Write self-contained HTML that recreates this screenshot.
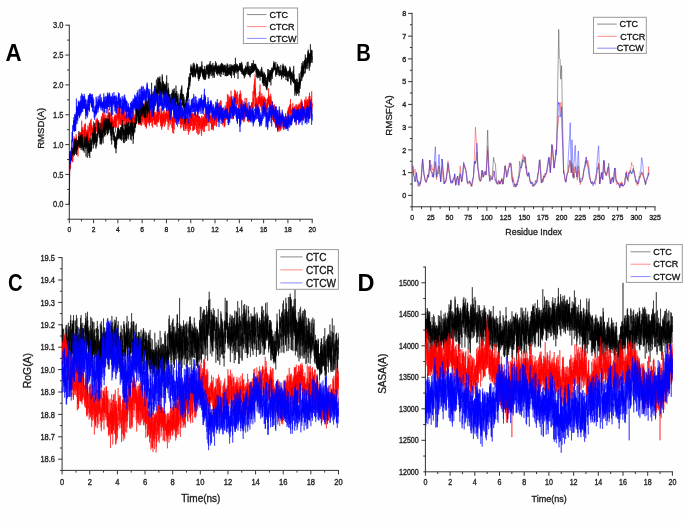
<!DOCTYPE html>
<html><head><meta charset="utf-8"><style>
html,body{margin:0;padding:0;background:#fff;}
svg{display:block;font-family:"Liberation Sans", sans-serif;filter:blur(0.5px);}
</style></head><body>
<svg width="685" height="523" viewBox="0 0 685 523">
<rect width="685" height="523" fill="#fefefe"/>
<line x1="69.30" y1="219.23" x2="69.30" y2="24.70" stroke="#333" stroke-width="1.00"/>
<line x1="68.80" y1="219.23" x2="312.70" y2="219.23" stroke="#333" stroke-width="1.00"/>
<line x1="69.30" y1="219.23" x2="69.30" y2="223.23" stroke="#333" stroke-width="1.00"/>
<text transform="translate(69.30 231.80) scale(0.88 1)" font-size="7.60" text-anchor="middle" fill="#222" stroke="#222" stroke-width="0.35">0</text>
<line x1="81.44" y1="219.23" x2="81.44" y2="221.43" stroke="#333" stroke-width="1.00"/>
<line x1="93.59" y1="219.23" x2="93.59" y2="223.23" stroke="#333" stroke-width="1.00"/>
<text transform="translate(93.59 231.80) scale(0.88 1)" font-size="7.60" text-anchor="middle" fill="#222" stroke="#222" stroke-width="0.35">2</text>
<line x1="105.73" y1="219.23" x2="105.73" y2="221.43" stroke="#333" stroke-width="1.00"/>
<line x1="117.88" y1="219.23" x2="117.88" y2="223.23" stroke="#333" stroke-width="1.00"/>
<text transform="translate(117.88 231.80) scale(0.88 1)" font-size="7.60" text-anchor="middle" fill="#222" stroke="#222" stroke-width="0.35">4</text>
<line x1="130.02" y1="219.23" x2="130.02" y2="221.43" stroke="#333" stroke-width="1.00"/>
<line x1="142.17" y1="219.23" x2="142.17" y2="223.23" stroke="#333" stroke-width="1.00"/>
<text transform="translate(142.17 231.80) scale(0.88 1)" font-size="7.60" text-anchor="middle" fill="#222" stroke="#222" stroke-width="0.35">6</text>
<line x1="154.31" y1="219.23" x2="154.31" y2="221.43" stroke="#333" stroke-width="1.00"/>
<line x1="166.46" y1="219.23" x2="166.46" y2="223.23" stroke="#333" stroke-width="1.00"/>
<text transform="translate(166.46 231.80) scale(0.88 1)" font-size="7.60" text-anchor="middle" fill="#222" stroke="#222" stroke-width="0.35">8</text>
<line x1="178.60" y1="219.23" x2="178.60" y2="221.43" stroke="#333" stroke-width="1.00"/>
<line x1="190.75" y1="219.23" x2="190.75" y2="223.23" stroke="#333" stroke-width="1.00"/>
<text transform="translate(190.75 231.80) scale(0.88 1)" font-size="7.60" text-anchor="middle" fill="#222" stroke="#222" stroke-width="0.35">10</text>
<line x1="202.89" y1="219.23" x2="202.89" y2="221.43" stroke="#333" stroke-width="1.00"/>
<line x1="215.04" y1="219.23" x2="215.04" y2="223.23" stroke="#333" stroke-width="1.00"/>
<text transform="translate(215.04 231.80) scale(0.88 1)" font-size="7.60" text-anchor="middle" fill="#222" stroke="#222" stroke-width="0.35">12</text>
<line x1="227.19" y1="219.23" x2="227.19" y2="221.43" stroke="#333" stroke-width="1.00"/>
<line x1="239.33" y1="219.23" x2="239.33" y2="223.23" stroke="#333" stroke-width="1.00"/>
<text transform="translate(239.33 231.80) scale(0.88 1)" font-size="7.60" text-anchor="middle" fill="#222" stroke="#222" stroke-width="0.35">14</text>
<line x1="251.47" y1="219.23" x2="251.47" y2="221.43" stroke="#333" stroke-width="1.00"/>
<line x1="263.62" y1="219.23" x2="263.62" y2="223.23" stroke="#333" stroke-width="1.00"/>
<text transform="translate(263.62 231.80) scale(0.88 1)" font-size="7.60" text-anchor="middle" fill="#222" stroke="#222" stroke-width="0.35">16</text>
<line x1="275.76" y1="219.23" x2="275.76" y2="221.43" stroke="#333" stroke-width="1.00"/>
<line x1="287.91" y1="219.23" x2="287.91" y2="223.23" stroke="#333" stroke-width="1.00"/>
<text transform="translate(287.91 231.80) scale(0.88 1)" font-size="7.60" text-anchor="middle" fill="#222" stroke="#222" stroke-width="0.35">18</text>
<line x1="300.06" y1="219.23" x2="300.06" y2="221.43" stroke="#333" stroke-width="1.00"/>
<line x1="312.20" y1="219.23" x2="312.20" y2="223.23" stroke="#333" stroke-width="1.00"/>
<text transform="translate(312.20 231.80) scale(0.88 1)" font-size="7.60" text-anchor="middle" fill="#222" stroke="#222" stroke-width="0.35">20</text>
<line x1="67.30" y1="219.23" x2="69.30" y2="219.23" stroke="#333" stroke-width="1.00"/>
<line x1="65.30" y1="204.30" x2="69.30" y2="204.30" stroke="#333" stroke-width="1.00"/>
<text transform="translate(63.40 207.36) scale(0.88 1)" font-size="8.50" text-anchor="end" fill="#222" stroke="#222" stroke-width="0.35">0.0</text>
<line x1="67.10" y1="189.38" x2="69.30" y2="189.38" stroke="#333" stroke-width="1.00"/>
<line x1="65.30" y1="174.45" x2="69.30" y2="174.45" stroke="#333" stroke-width="1.00"/>
<text transform="translate(63.40 177.51) scale(0.88 1)" font-size="8.50" text-anchor="end" fill="#222" stroke="#222" stroke-width="0.35">0.5</text>
<line x1="67.10" y1="159.53" x2="69.30" y2="159.53" stroke="#333" stroke-width="1.00"/>
<line x1="65.30" y1="144.60" x2="69.30" y2="144.60" stroke="#333" stroke-width="1.00"/>
<text transform="translate(63.40 147.66) scale(0.88 1)" font-size="8.50" text-anchor="end" fill="#222" stroke="#222" stroke-width="0.35">1.0</text>
<line x1="67.10" y1="129.68" x2="69.30" y2="129.68" stroke="#333" stroke-width="1.00"/>
<line x1="65.30" y1="114.75" x2="69.30" y2="114.75" stroke="#333" stroke-width="1.00"/>
<text transform="translate(63.40 117.81) scale(0.88 1)" font-size="8.50" text-anchor="end" fill="#222" stroke="#222" stroke-width="0.35">1.5</text>
<line x1="67.10" y1="99.83" x2="69.30" y2="99.83" stroke="#333" stroke-width="1.00"/>
<line x1="65.30" y1="84.90" x2="69.30" y2="84.90" stroke="#333" stroke-width="1.00"/>
<text transform="translate(63.40 87.96) scale(0.88 1)" font-size="8.50" text-anchor="end" fill="#222" stroke="#222" stroke-width="0.35">2.0</text>
<line x1="67.10" y1="69.97" x2="69.30" y2="69.97" stroke="#333" stroke-width="1.00"/>
<line x1="65.30" y1="55.05" x2="69.30" y2="55.05" stroke="#333" stroke-width="1.00"/>
<text transform="translate(63.40 58.11) scale(0.88 1)" font-size="8.50" text-anchor="end" fill="#222" stroke="#222" stroke-width="0.35">2.5</text>
<line x1="67.10" y1="40.12" x2="69.30" y2="40.12" stroke="#333" stroke-width="1.00"/>
<line x1="65.30" y1="25.20" x2="69.30" y2="25.20" stroke="#333" stroke-width="1.00"/>
<text transform="translate(63.40 28.26) scale(0.88 1)" font-size="8.50" text-anchor="end" fill="#222" stroke="#222" stroke-width="0.35">3.0</text>
<path d="M69.3,204.3 69.4,197.3 69.5,189.5 69.5,181.8 69.6,174.7 69.7,171.1 69.8,163.4 69.9,161.6 69.9,162.0 70.0,162.9 70.1,167.6 70.2,162.6 70.3,159.5 70.4,160.6 70.4,153.5 70.5,169.2 70.6,164.1 70.7,163.1 70.8,156.2 70.8,154.2 70.9,161.1 71.0,157.4 71.1,155.3 71.2,155.7 71.2,155.5 71.3,158.0 71.4,158.4 71.5,159.4 71.6,158.5 71.6,151.9 71.7,154.5 71.8,154.7 71.9,156.7 72.0,152.7 72.1,149.3 72.1,156.8 72.2,147.7 72.3,151.0 72.4,162.2 72.5,152.2 72.5,151.9 72.6,148.0 72.7,153.6 72.8,161.9 72.9,159.4 72.9,158.6 73.0,150.9 73.1,156.4 73.2,157.1 73.3,150.4 73.3,148.0 73.4,156.7 73.5,149.9 73.6,145.0 73.7,145.9 73.8,142.2 73.8,141.8 73.9,143.3 74.0,148.3 74.1,136.5 74.2,141.9 74.2,144.6 74.3,145.8 74.4,141.6 74.5,146.2 74.6,144.1 74.6,138.7 74.7,141.7 74.8,149.2 74.9,143.1 75.0,145.9 75.1,148.2 75.1,149.1 75.2,148.8 75.3,144.0 75.4,139.1 75.5,146.1 75.5,138.7 75.6,149.4 75.7,146.6 75.8,138.4 75.9,144.8 75.9,144.1 76.0,143.8 76.1,147.8 76.2,134.2 76.3,144.7 76.3,140.4 76.4,142.0 76.5,139.5 76.6,136.8 76.7,154.8 76.8,150.6 76.8,153.7 76.9,147.6 77.0,144.6 77.1,142.3 77.2,146.2 77.2,141.1 77.3,140.4 77.4,143.2 77.5,149.1 77.6,146.5 77.6,144.6 77.7,140.2 77.8,144.3 77.9,141.8 78.0,151.2 78.0,156.5 78.1,142.5 78.2,142.4 78.3,147.4 78.4,144.7 78.5,139.9 78.5,139.7 78.6,136.4 78.7,138.8 78.8,143.6 78.9,139.8 78.9,132.5 79.0,134.5 79.1,146.4 79.2,140.9 79.3,135.7 79.3,142.1 79.4,140.0 79.5,136.9 79.6,141.7 79.7,140.9 79.7,144.8 79.8,147.6 79.9,145.2 80.0,139.6 80.1,143.4 80.2,141.6 80.2,132.0 80.3,145.0 80.4,136.4 80.5,142.7 80.6,136.9 80.6,135.0 80.7,132.3 80.8,141.2 80.9,138.6 81.0,135.7 81.0,136.1 81.1,148.1 81.2,132.8 81.3,139.9 81.4,133.9 81.4,139.6 81.5,132.1 81.6,133.3 81.7,120.7 81.8,129.6 81.9,134.4 81.9,128.9 82.0,140.1 82.1,128.2 82.2,127.5 82.3,134.9 82.3,134.1 82.4,141.4 82.5,131.5 82.6,129.5 82.7,139.6 82.7,130.6 82.8,138.9 82.9,126.9 83.0,144.5 83.1,135.6 83.1,130.1 83.2,140.3 83.3,138.0 83.4,134.4 83.5,135.3 83.6,138.1 83.6,137.9 83.7,136.3 83.8,135.8 83.9,136.3 84.0,129.7 84.0,132.8 84.1,131.4 84.2,130.8 84.3,139.3 84.4,138.4 84.4,124.0 84.5,142.8 84.6,136.3 84.7,130.0 84.8,133.9 84.9,134.5 84.9,125.2 85.0,138.2 85.1,128.0 85.2,140.4 85.3,141.3 85.3,135.4 85.4,132.9 85.5,123.4 85.6,132.9 85.7,134.0 85.7,132.2 85.8,136.0 85.9,139.5 86.0,139.2 86.1,134.4 86.1,139.5 86.2,145.0 86.3,141.3 86.4,146.4 86.5,131.8 86.6,146.5 86.6,135.5 86.7,139.7 86.8,132.3 86.9,129.6 87.0,139.6 87.0,134.6 87.1,136.5 87.2,144.7 87.3,130.1 87.4,133.3 87.4,134.0 87.5,133.0 87.6,135.0 87.7,139.7 87.8,134.7 87.8,141.6 87.9,125.4 88.0,141.4 88.1,130.4 88.2,138.1 88.3,134.3 88.3,132.0 88.4,138.9 88.5,133.6 88.6,146.9 88.7,132.9 88.7,127.2 88.8,134.2 88.9,136.6 89.0,136.4 89.1,144.4 89.1,138.9 89.2,130.3 89.3,123.4 89.4,128.1 89.5,131.5 89.5,131.5 89.6,128.8 89.7,122.6 89.8,131.5 89.9,130.4 90.0,128.6 90.0,127.6 90.1,129.0 90.2,136.5 90.3,138.0 90.4,130.0 90.4,125.8 90.5,120.4 90.6,127.6 90.7,134.8 90.8,131.1 90.8,136.5 90.9,130.0 91.0,123.7 91.1,128.2 91.2,118.7 91.2,129.9 91.3,128.3 91.4,127.2 91.5,126.7 91.6,128.1 91.7,127.5 91.7,124.8 91.8,131.6 91.9,129.1 92.0,127.4 92.1,131.0 92.1,134.4 92.2,127.9 92.3,128.0 92.4,133.2 92.5,134.3 92.5,140.0 92.6,135.9 92.7,128.8 92.8,140.5 92.9,131.1 93.0,129.4 93.0,132.3 93.1,133.2 93.2,125.1 93.3,127.5 93.4,134.6 93.4,124.8 93.5,121.3 93.6,133.4 93.7,134.1 93.8,131.9 93.8,127.3 93.9,129.1 94.0,130.4 94.1,133.9 94.2,125.1 94.2,128.5 94.3,127.8 94.4,128.3 94.5,126.6 94.6,135.1 94.7,130.2 94.7,127.4 94.8,126.0 94.9,125.2 95.0,122.9 95.1,127.4 95.1,123.4 95.2,123.9 95.3,125.3 95.4,127.6 95.5,128.2 95.5,126.5 95.6,122.8 95.7,129.8 95.8,129.9 95.9,123.8 95.9,124.7 96.0,121.0 96.1,119.7 96.2,123.1 96.3,132.2 96.4,120.2 96.4,122.8 96.5,121.2 96.6,122.2 96.7,124.5 96.8,122.5 96.8,130.2 96.9,129.7 97.0,124.6 97.1,117.8 97.2,123.4 97.2,118.9 97.3,124.8 97.4,124.0 97.5,120.3 97.6,120.5 97.6,124.2 97.7,125.8 97.8,120.3 97.9,122.9 98.0,126.1 98.1,125.1 98.1,128.4 98.2,123.4 98.3,120.2 98.4,134.4 98.5,125.9 98.5,130.1 98.6,126.5 98.7,127.0 98.8,130.3 98.9,124.8 98.9,131.7 99.0,130.2 99.1,133.0 99.2,130.4 99.3,125.1 99.3,129.6 99.4,122.4 99.5,129.7 99.6,132.0 99.7,124.2 99.8,128.0 99.8,126.3 99.9,128.0 100.0,123.6 100.1,126.1 100.2,124.4 100.2,133.8 100.3,126.8 100.4,125.2 100.5,128.6 100.6,122.7 100.6,127.0 100.7,128.0 100.8,124.1 100.9,131.4 101.0,132.2 101.0,125.7 101.1,134.6 101.2,119.2 101.3,126.1 101.4,116.1 101.5,122.2 101.5,125.8 101.6,125.0 101.7,119.7 101.8,117.9 101.9,122.9 101.9,127.9 102.0,121.0 102.1,119.2 102.2,118.5 102.3,127.4 102.3,124.2 102.4,118.5 102.5,113.2 102.6,121.6 102.7,126.9 102.8,119.1 102.8,136.0 102.9,121.2 103.0,124.1 103.1,114.0 103.2,123.9 103.2,127.3 103.3,110.1 103.4,119.9 103.5,121.3 103.6,124.1 103.6,125.2 103.7,128.7 103.8,117.9 103.9,124.2 104.0,116.6 104.0,117.9 104.1,115.6 104.2,121.2 104.3,119.1 104.4,122.4 104.5,121.0 104.5,123.9 104.6,130.4 104.7,119.2 104.8,126.0 104.9,109.9 104.9,120.6 105.0,128.2 105.1,121.9 105.2,118.2 105.3,118.9 105.3,124.4 105.4,119.7 105.5,120.1 105.6,122.8 105.7,121.9 105.7,119.6 105.8,120.8 105.9,118.4 106.0,116.5 106.1,115.0 106.2,125.9 106.2,122.9 106.3,119.7 106.4,120.0 106.5,124.4 106.6,122.2 106.6,122.2 106.7,121.4 106.8,119.6 106.9,124.7 107.0,130.9 107.0,124.6 107.1,124.1 107.2,124.1 107.3,119.0 107.4,127.8 107.4,120.7 107.5,115.3 107.6,128.2 107.7,123.6 107.8,122.7 107.9,119.2 107.9,119.4 108.0,124.1 108.1,109.0 108.2,122.1 108.3,119.8 108.3,118.0 108.4,118.9 108.5,119.9 108.6,122.3 108.7,121.4 108.7,120.6 108.8,113.6 108.9,126.2 109.0,121.8 109.1,121.6 109.1,123.6 109.2,116.1 109.3,121.3 109.4,122.9 109.5,123.0 109.6,116.3 109.6,118.1 109.7,122.8 109.8,118.8 109.9,120.0 110.0,113.8 110.0,125.3 110.1,129.1 110.2,122.4 110.3,123.5 110.4,124.2 110.4,120.6 110.5,118.9 110.6,119.2 110.7,119.4 110.8,123.6 110.8,112.5 110.9,122.1 111.0,124.9 111.1,120.2 111.2,118.1 111.3,128.4 111.3,117.2 111.4,118.9 111.5,120.1 111.6,121.1 111.7,113.2 111.7,112.3 111.8,126.7 111.9,123.3 112.0,124.5 112.1,122.6 112.1,126.6 112.2,128.0 112.3,124.6 112.4,124.6 112.5,119.1 112.6,119.5 112.6,120.7 112.7,121.5 112.8,116.6 112.9,127.6 113.0,125.6 113.0,121.2 113.1,128.4 113.2,121.4 113.3,128.1 113.4,126.1 113.4,127.5 113.5,121.1 113.6,127.5 113.7,123.5 113.8,120.5 113.8,120.9 113.9,123.1 114.0,127.9 114.1,120.0 114.2,126.3 114.3,118.5 114.3,123.0 114.4,117.0 114.5,121.7 114.6,121.0 114.7,125.8 114.7,120.5 114.8,115.9 114.9,120.4 115.0,119.5 115.1,125.3 115.1,114.6 115.2,126.7 115.3,114.7 115.4,123.5 115.5,132.5 115.5,120.9 115.6,122.5 115.7,125.9 115.8,127.7 115.9,120.2 116.0,121.4 116.0,122.0 116.1,114.8 116.2,120.6 116.3,122.2 116.4,127.1 116.4,121.5 116.5,116.9 116.6,116.8 116.7,116.4 116.8,119.8 116.8,116.3 116.9,127.3 117.0,119.7 117.1,107.4 117.2,114.9 117.2,117.1 117.3,114.8 117.4,109.8 117.5,117.8 117.6,115.6 117.7,113.6 117.7,117.5 117.8,114.0 117.9,120.8 118.0,106.7 118.1,118.6 118.1,116.3 118.2,109.4 118.3,106.7 118.4,112.6 118.5,114.8 118.5,112.4 118.6,127.5 118.7,116.8 118.8,110.6 118.9,117.6 118.9,109.1 119.0,110.4 119.1,116.9 119.2,114.3 119.3,113.2 119.4,110.5 119.4,117.5 119.5,124.3 119.6,115.9 119.7,103.9 119.8,120.4 119.8,115.2 119.9,118.0 120.0,114.8 120.1,106.7 120.2,110.6 120.2,123.9 120.3,117.8 120.4,117.4 120.5,118.1 120.6,119.7 120.6,123.4 120.7,125.1 120.8,120.2 120.9,117.6 121.0,121.1 121.1,120.9 121.1,112.0 121.2,121.6 121.3,117.7 121.4,117.6 121.5,123.5 121.5,113.6 121.6,126.6 121.7,123.4 121.8,119.7 121.9,114.9 121.9,113.5 122.0,123.8 122.1,120.3 122.2,125.5 122.3,124.1 122.4,110.9 122.4,115.7 122.5,114.6 122.6,121.5 122.7,116.0 122.8,126.3 122.8,115.2 122.9,114.2 123.0,107.5 123.1,114.9 123.2,114.0 123.2,111.7 123.3,104.2 123.4,109.3 123.5,110.5 123.6,117.8 123.6,115.3 123.7,116.9 123.8,120.8 123.9,113.0 124.0,118.7 124.1,114.8 124.1,121.0 124.2,116.0 124.3,125.8 124.4,117.8 124.5,111.0 124.5,119.5 124.6,121.2 124.7,116.6 124.8,120.3 124.9,118.8 124.9,115.6 125.0,119.5 125.1,120.3 125.2,126.8 125.3,124.5 125.3,121.6 125.4,116.0 125.5,115.3 125.6,116.1 125.7,119.4 125.8,116.8 125.8,117.0 125.9,110.3 126.0,117.8 126.1,121.1 126.2,119.2 126.2,115.4 126.3,115.0 126.4,121.9 126.5,115.4 126.6,121.3 126.6,110.8 126.7,119.6 126.8,121.4 126.9,129.0 127.0,113.1 127.0,123.7 127.1,119.3 127.2,121.8 127.3,129.9 127.4,119.8 127.5,121.5 127.5,120.5 127.6,122.1 127.7,120.8 127.8,113.8 127.9,117.6 127.9,114.8 128.0,120.7 128.1,119.9 128.2,122.3 128.3,117.2 128.3,120.2 128.4,121.0 128.5,120.6 128.6,122.9 128.7,115.4 128.7,124.4 128.8,113.6 128.9,119.0 129.0,114.1 129.1,110.3 129.2,117.8 129.2,117.1 129.3,119.0 129.4,116.5 129.5,114.2 129.6,118.9 129.6,118.0 129.7,120.3 129.8,123.1 129.9,113.0 130.0,114.2 130.0,111.8 130.1,123.4 130.2,116.5 130.3,115.7 130.4,112.3 130.5,116.8 130.5,120.3 130.6,117.8 130.7,112.9 130.8,120.3 130.9,118.6 130.9,119.2 131.0,118.1 131.1,117.2 131.2,123.9 131.3,110.6 131.3,124.3 131.4,124.4 131.5,120.1 131.6,115.3 131.7,114.6 131.7,110.8 131.8,118.9 131.9,122.8 132.0,124.8 132.1,121.9 132.2,118.2 132.2,119.9 132.3,129.8 132.4,119.9 132.5,117.6 132.6,123.1 132.6,122.8 132.7,123.8 132.8,113.9 132.9,110.8 133.0,113.7 133.0,120.8 133.1,120.2 133.2,109.6 133.3,108.0 133.4,112.0 133.4,117.7 133.5,124.5 133.6,114.2 133.7,110.4 133.8,117.3 133.9,121.1 133.9,116.4 134.0,116.5 134.1,119.4 134.2,119.2 134.3,127.3 134.3,118.9 134.4,126.8 134.5,122.1 134.6,122.5 134.7,119.7 134.7,114.7 134.8,123.2 134.9,118.2 135.0,125.0 135.1,119.1 135.1,119.8 135.2,120.4 135.3,121.2 135.4,121.7 135.5,125.4 135.6,123.3 135.6,124.4 135.7,113.8 135.8,119.8 135.9,110.8 136.0,111.8 136.0,115.4 136.1,108.7 136.2,115.5 136.3,122.4 136.4,116.4 136.4,113.6 136.5,114.1 136.6,119.3 136.7,110.4 136.8,116.5 136.8,108.6 136.9,112.5 137.0,106.9 137.1,109.3 137.2,115.4 137.3,107.8 137.3,115.2 137.4,112.8 137.5,109.0 137.6,113.7 137.7,110.1 137.7,110.8 137.8,112.7 137.9,118.0 138.0,123.4 138.1,120.1 138.1,120.3 138.2,110.9 138.3,116.9 138.4,116.2 138.5,118.9 138.5,124.9 138.6,120.8 138.7,116.0 138.8,112.8 138.9,110.3 139.0,113.6 139.0,112.2 139.1,120.2 139.2,113.9 139.3,114.9 139.4,123.9 139.4,118.1 139.5,118.6 139.6,111.7 139.7,118.0 139.8,124.8 139.8,118.2 139.9,108.0 140.0,124.5 140.1,118.7 140.2,116.5 140.3,118.2 140.3,116.3 140.4,123.0 140.5,120.4 140.6,120.0 140.7,117.3 140.7,122.3 140.8,125.4 140.9,114.5 141.0,112.6 141.1,115.4 141.1,117.8 141.2,114.8 141.3,119.9 141.4,117.0 141.5,124.1 141.5,125.7 141.6,121.3 141.7,118.9 141.8,117.6 141.9,116.6 142.0,124.6 142.0,116.4 142.1,113.5 142.2,119.8 142.3,121.1 142.4,121.3 142.4,115.4 142.5,122.0 142.6,111.0 142.7,114.0 142.8,117.0 142.8,112.0 142.9,109.5 143.0,114.5 143.1,117.7 143.2,113.9 143.2,115.2 143.3,108.5 143.4,108.2 143.5,103.6 143.6,109.7 143.7,107.5 143.7,117.9 143.8,116.7 143.9,116.5 144.0,124.5 144.1,109.8 144.1,121.6 144.2,102.9 144.3,119.6 144.4,113.6 144.5,114.3 144.5,108.4 144.6,118.0 144.7,114.5 144.8,118.0 144.9,115.7 144.9,118.6 145.0,125.2 145.1,121.5 145.2,122.0 145.3,116.7 145.4,126.9 145.4,111.2 145.5,124.6 145.6,119.1 145.7,118.8 145.8,119.2 145.8,125.9 145.9,117.7 146.0,127.1 146.1,121.2 146.2,121.4 146.2,124.6 146.3,114.8 146.4,128.6 146.5,114.5 146.6,121.4 146.6,125.6 146.7,117.5 146.8,117.6 146.9,123.8 147.0,119.2 147.1,110.7 147.1,118.8 147.2,119.3 147.3,106.5 147.4,117.4 147.5,117.0 147.5,116.8 147.6,119.9 147.7,122.6 147.8,114.5 147.9,114.1 147.9,118.2 148.0,122.2 148.1,118.7 148.2,115.1 148.3,112.5 148.3,122.1 148.4,119.0 148.5,116.2 148.6,115.8 148.7,117.5 148.8,119.4 148.8,113.9 148.9,115.8 149.0,124.2 149.1,104.3 149.2,113.6 149.2,122.9 149.3,120.2 149.4,126.1 149.5,123.0 149.6,123.3 149.6,120.5 149.7,113.7 149.8,117.7 149.9,119.5 150.0,118.0 150.1,120.5 150.1,117.1 150.2,114.6 150.3,109.5 150.4,118.1 150.5,122.8 150.5,114.4 150.6,122.5 150.7,122.4 150.8,117.1 150.9,111.9 150.9,122.3 151.0,110.7 151.1,118.5 151.2,113.2 151.3,118.6 151.3,119.6 151.4,114.9 151.5,121.1 151.6,119.4 151.7,112.6 151.8,116.9 151.8,116.2 151.9,125.9 152.0,119.6 152.1,120.0 152.2,119.4 152.2,106.7 152.3,121.4 152.4,121.9 152.5,118.8 152.6,119.1 152.6,127.5 152.7,120.0 152.8,112.6 152.9,113.8 153.0,113.7 153.0,115.7 153.1,116.1 153.2,120.0 153.3,114.6 153.4,108.7 153.5,117.3 153.5,112.3 153.6,109.1 153.7,120.6 153.8,114.9 153.9,117.8 153.9,118.0 154.0,120.3 154.1,116.7 154.2,121.6 154.3,123.7 154.3,112.0 154.4,118.8 154.5,124.8 154.6,118.7 154.7,113.7 154.7,114.9 154.8,117.4 154.9,122.6 155.0,112.5 155.1,117.4 155.2,119.4 155.2,118.1 155.3,120.9 155.4,116.2 155.5,124.0 155.6,119.8 155.6,120.7 155.7,125.2 155.8,117.7 155.9,122.5 156.0,121.0 156.0,112.3 156.1,118.3 156.2,115.8 156.3,122.2 156.4,115.4 156.4,124.2 156.5,122.1 156.6,120.5 156.7,114.2 156.8,121.5 156.9,118.6 156.9,116.4 157.0,126.9 157.1,109.8 157.2,114.0 157.3,122.1 157.3,120.7 157.4,112.3 157.5,112.8 157.6,115.4 157.7,121.2 157.7,111.1 157.8,109.5 157.9,122.3 158.0,115.2 158.1,108.0 158.2,119.5 158.2,114.7 158.3,109.4 158.4,118.8 158.5,112.5 158.6,122.3 158.6,108.8 158.7,105.9 158.8,112.0 158.9,112.4 159.0,112.2 159.0,111.1 159.1,115.3 159.2,112.0 159.3,110.4 159.4,113.0 159.4,111.7 159.5,114.8 159.6,111.8 159.7,119.2 159.8,117.3 159.9,116.1 159.9,107.5 160.0,109.3 160.1,120.5 160.2,117.8 160.3,119.4 160.3,122.5 160.4,121.6 160.5,115.2 160.6,126.3 160.7,114.3 160.7,122.2 160.8,118.9 160.9,119.6 161.0,122.0 161.1,117.4 161.1,121.8 161.2,119.1 161.3,110.7 161.4,121.8 161.5,113.4 161.6,124.8 161.6,109.0 161.7,129.7 161.8,119.8 161.9,127.8 162.0,119.7 162.0,120.0 162.1,125.9 162.2,118.8 162.3,114.6 162.4,117.9 162.4,121.7 162.5,114.7 162.6,112.8 162.7,124.1 162.8,118.4 162.8,125.9 162.9,123.8 163.0,118.2 163.1,118.0 163.2,116.7 163.3,122.9 163.3,116.6 163.4,112.2 163.5,118.4 163.6,116.5 163.7,120.4 163.7,116.4 163.8,111.8 163.9,118.8 164.0,123.3 164.1,120.4 164.1,117.2 164.2,121.2 164.3,110.2 164.4,127.0 164.5,118.1 164.5,117.5 164.6,114.5 164.7,114.1 164.8,119.5 164.9,117.2 165.0,122.0 165.0,122.2 165.1,117.9 165.2,118.8 165.3,116.5 165.4,120.5 165.4,124.6 165.5,114.3 165.6,113.2 165.7,117.6 165.8,113.8 165.8,121.1 165.9,112.7 166.0,121.6 166.1,114.6 166.2,116.5 166.2,111.6 166.3,113.7 166.4,112.9 166.5,116.0 166.6,109.6 166.7,107.7 166.7,119.0 166.8,115.1 166.9,113.7 167.0,114.3 167.1,119.4 167.1,117.1 167.2,118.5 167.3,119.6 167.4,117.0 167.5,113.9 167.5,118.2 167.6,121.7 167.7,117.9 167.8,118.2 167.9,115.7 168.0,110.8 168.0,111.6 168.1,130.0 168.2,101.8 168.3,109.9 168.4,123.0 168.4,116.5 168.5,122.7 168.6,108.3 168.7,123.4 168.8,114.0 168.8,118.8 168.9,115.4 169.0,118.0 169.1,124.7 169.2,126.5 169.2,118.3 169.3,118.5 169.4,120.1 169.5,111.6 169.6,117.3 169.7,119.5 169.7,107.3 169.8,115.6 169.9,117.6 170.0,118.9 170.1,118.7 170.1,120.2 170.2,120.0 170.3,120.0 170.4,121.5 170.5,122.1 170.5,114.6 170.6,124.6 170.7,115.9 170.8,111.3 170.9,119.0 170.9,116.6 171.0,110.7 171.1,113.6 171.2,121.4 171.3,117.2 171.4,118.0 171.4,111.8 171.5,108.2 171.6,120.3 171.7,114.4 171.8,114.0 171.8,115.2 171.9,127.8 172.0,124.2 172.1,123.8 172.2,123.9 172.2,126.4 172.3,117.2 172.4,119.3 172.5,121.8 172.6,132.8 172.6,117.1 172.7,129.4 172.8,118.2 172.9,122.9 173.0,117.5 173.1,122.8 173.1,119.4 173.2,123.6 173.3,116.5 173.4,116.6 173.5,119.2 173.5,111.6 173.6,121.8 173.7,133.6 173.8,107.3 173.9,107.1 173.9,115.3 174.0,121.9 174.1,119.3 174.2,129.3 174.3,124.4 174.3,121.2 174.4,118.5 174.5,120.8 174.6,114.6 174.7,115.7 174.8,117.1 174.8,121.9 174.9,117.8 175.0,113.2 175.1,118.0 175.2,112.0 175.2,118.9 175.3,114.5 175.4,122.8 175.5,123.1 175.6,119.5 175.6,109.8 175.7,122.8 175.8,118.6 175.9,115.9 176.0,113.8 176.0,115.3 176.1,117.8 176.2,118.2 176.3,113.9 176.4,109.8 176.5,111.3 176.5,121.2 176.6,123.7 176.7,118.5 176.8,112.4 176.9,110.8 176.9,117.9 177.0,121.9 177.1,121.2 177.2,114.3 177.3,117.9 177.3,105.2 177.4,118.9 177.5,126.8 177.6,104.2 177.7,109.4 177.8,121.2 177.8,120.5 177.9,121.5 178.0,110.8 178.1,115.6 178.2,112.0 178.2,120.7 178.3,116.1 178.4,107.4 178.5,119.6 178.6,118.0 178.6,107.2 178.7,114.2 178.8,113.9 178.9,118.4 179.0,115.3 179.0,121.0 179.1,104.9 179.2,113.0 179.3,112.1 179.4,117.1 179.5,118.8 179.5,115.8 179.6,120.3 179.7,117.1 179.8,119.9 179.9,113.7 179.9,119.8 180.0,113.1 180.1,111.4 180.2,119.8 180.3,119.6 180.3,117.9 180.4,124.1 180.5,116.8 180.6,114.9 180.7,128.5 180.7,117.0 180.8,121.0 180.9,123.4 181.0,122.5 181.1,123.8 181.2,118.2 181.2,123.6 181.3,113.8 181.4,120.3 181.5,115.8 181.6,124.9 181.6,122.0 181.7,114.5 181.8,122.0 181.9,124.0 182.0,112.4 182.0,127.3 182.1,116.5 182.2,122.2 182.3,113.1 182.4,119.1 182.4,122.6 182.5,112.3 182.6,123.9 182.7,108.0 182.8,118.6 182.9,121.2 182.9,121.8 183.0,120.2 183.1,123.1 183.2,119.7 183.3,122.2 183.3,125.2 183.4,118.7 183.5,123.1 183.6,130.3 183.7,122.6 183.7,130.5 183.8,125.1 183.9,126.8 184.0,123.4 184.1,120.7 184.1,118.1 184.2,123.6 184.3,121.0 184.4,123.3 184.5,119.4 184.6,116.2 184.6,113.7 184.7,124.8 184.8,116.5 184.9,121.5 185.0,120.6 185.0,130.9 185.1,115.9 185.2,125.8 185.3,124.1 185.4,122.2 185.4,112.1 185.5,127.6 185.6,126.7 185.7,129.1 185.8,123.7 185.8,124.5 185.9,118.7 186.0,120.9 186.1,124.5 186.2,120.2 186.3,121.4 186.3,119.4 186.4,120.2 186.5,118.8 186.6,119.7 186.7,117.5 186.7,128.6 186.8,119.7 186.9,119.9 187.0,122.5 187.1,118.3 187.1,124.1 187.2,131.0 187.3,126.0 187.4,119.6 187.5,117.9 187.6,121.0 187.6,125.8 187.7,120.4 187.8,119.4 187.9,121.0 188.0,122.6 188.0,121.6 188.1,125.6 188.2,121.0 188.3,124.0 188.4,120.5 188.4,124.5 188.5,134.6 188.6,125.0 188.7,120.8 188.8,124.2 188.8,118.4 188.9,128.5 189.0,118.8 189.1,123.2 189.2,117.9 189.3,119.8 189.3,131.8 189.4,128.5 189.5,121.6 189.6,119.7 189.7,119.7 189.7,128.3 189.8,121.7 189.9,125.7 190.0,116.0 190.1,118.0 190.1,125.3 190.2,113.2 190.3,122.7 190.4,121.8 190.5,120.1 190.5,130.3 190.6,115.8 190.7,118.1 190.8,121.6 190.9,113.5 191.0,125.6 191.0,113.7 191.1,121.9 191.2,113.8 191.3,125.9 191.4,125.5 191.4,115.3 191.5,125.9 191.6,120.0 191.7,122.2 191.8,118.1 191.8,113.5 191.9,121.3 192.0,112.6 192.1,115.7 192.2,117.2 192.2,113.8 192.3,120.9 192.4,114.0 192.5,121.1 192.6,120.7 192.7,113.5 192.7,122.0 192.8,130.9 192.9,119.2 193.0,125.6 193.1,123.3 193.1,115.8 193.2,130.6 193.3,118.1 193.4,117.9 193.5,113.3 193.5,127.1 193.6,130.2 193.7,120.8 193.8,118.1 193.9,125.3 193.9,118.7 194.0,130.0 194.1,119.7 194.2,129.2 194.3,127.1 194.4,122.2 194.4,121.2 194.5,118.0 194.6,118.0 194.7,121.5 194.8,110.4 194.8,122.3 194.9,129.2 195.0,113.9 195.1,116.0 195.2,118.8 195.2,118.6 195.3,123.2 195.4,114.8 195.5,114.2 195.6,111.7 195.7,125.2 195.7,120.0 195.8,125.9 195.9,117.5 196.0,117.1 196.1,115.3 196.1,116.4 196.2,116.0 196.3,117.4 196.4,121.7 196.5,121.6 196.5,114.4 196.6,129.7 196.7,123.6 196.8,132.9 196.9,117.7 196.9,117.1 197.0,115.0 197.1,119.8 197.2,120.7 197.3,115.0 197.4,116.6 197.4,121.1 197.5,123.6 197.6,112.4 197.7,122.1 197.8,120.1 197.8,133.7 197.9,120.2 198.0,114.5 198.1,120.2 198.2,135.0 198.2,126.7 198.3,119.4 198.4,123.4 198.5,124.3 198.6,123.9 198.6,128.2 198.7,126.9 198.8,116.6 198.9,126.5 199.0,122.4 199.1,116.7 199.1,119.0 199.2,116.5 199.3,123.8 199.4,116.5 199.5,116.2 199.5,125.7 199.6,118.7 199.7,133.6 199.8,123.6 199.9,120.3 199.9,119.3 200.0,128.2 200.1,121.4 200.2,119.9 200.3,118.4 200.3,121.3 200.4,119.8 200.5,120.6 200.6,121.8 200.7,120.1 200.8,123.0 200.8,129.0 200.9,123.2 201.0,117.2 201.1,126.1 201.2,129.5 201.2,131.1 201.3,121.1 201.4,127.7 201.5,123.5 201.6,135.8 201.6,129.9 201.7,116.2 201.8,116.7 201.9,115.6 202.0,128.6 202.0,126.6 202.1,123.5 202.2,118.2 202.3,127.0 202.4,124.3 202.5,123.4 202.5,126.5 202.6,125.8 202.7,123.2 202.8,130.7 202.9,119.4 202.9,124.1 203.0,128.4 203.1,117.2 203.2,125.7 203.3,116.4 203.3,116.3 203.4,120.4 203.5,124.0 203.6,119.1 203.7,124.4 203.7,119.4 203.8,123.6 203.9,131.9 204.0,125.3 204.1,119.2 204.2,123.8 204.2,120.1 204.3,127.3 204.4,131.8 204.5,116.4 204.6,114.0 204.6,117.2 204.7,125.8 204.8,124.9 204.9,120.2 205.0,126.4 205.0,122.1 205.1,116.5 205.2,113.0 205.3,104.1 205.4,118.9 205.5,124.0 205.5,119.8 205.6,112.6 205.7,126.5 205.8,117.4 205.9,121.2 205.9,109.2 206.0,113.6 206.1,117.7 206.2,122.6 206.3,119.3 206.3,121.5 206.4,112.7 206.5,117.8 206.6,115.4 206.7,126.0 206.7,116.7 206.8,119.4 206.9,111.9 207.0,125.8 207.1,119.8 207.2,118.6 207.2,123.4 207.3,109.2 207.4,122.9 207.5,119.7 207.6,120.7 207.6,121.4 207.7,113.9 207.8,118.0 207.9,110.1 208.0,115.4 208.0,112.6 208.1,118.4 208.2,115.7 208.3,122.8 208.4,122.2 208.4,118.9 208.5,118.6 208.6,114.8 208.7,118.4 208.8,121.2 208.9,116.6 208.9,128.0 209.0,131.1 209.1,120.8 209.2,115.9 209.3,122.5 209.3,117.0 209.4,115.8 209.5,118.2 209.6,104.9 209.7,119.1 209.7,117.2 209.8,120.7 209.9,113.4 210.0,119.3 210.1,121.9 210.1,119.5 210.2,122.1 210.3,116.8 210.4,116.4 210.5,116.6 210.6,118.5 210.6,122.7 210.7,115.3 210.8,118.1 210.9,123.6 211.0,118.8 211.0,117.1 211.1,115.4 211.2,120.0 211.3,117.8 211.4,124.3 211.4,129.3 211.5,122.8 211.6,121.9 211.7,126.4 211.8,125.3 211.8,121.5 211.9,119.0 212.0,112.5 212.1,129.9 212.2,122.9 212.3,126.7 212.3,123.2 212.4,129.1 212.5,119.7 212.6,121.7 212.7,117.9 212.7,118.5 212.8,122.1 212.9,119.8 213.0,116.1 213.1,122.8 213.1,127.3 213.2,125.9 213.3,123.1 213.4,122.7 213.5,130.3 213.5,109.4 213.6,117.2 213.7,116.5 213.8,118.0 213.9,118.4 214.0,120.3 214.0,125.3 214.1,121.7 214.2,124.7 214.3,117.7 214.4,115.0 214.4,123.4 214.5,120.9 214.6,118.3 214.7,121.7 214.8,116.1 214.8,124.5 214.9,125.8 215.0,120.6 215.1,114.9 215.2,117.7 215.3,114.4 215.3,119.2 215.4,118.0 215.5,113.6 215.6,106.4 215.7,115.8 215.7,115.1 215.8,114.8 215.9,116.3 216.0,119.5 216.1,126.1 216.1,117.8 216.2,112.8 216.3,124.3 216.4,110.9 216.5,116.9 216.5,122.2 216.6,126.6 216.7,116.7 216.8,121.7 216.9,118.8 217.0,112.6 217.0,110.1 217.1,114.3 217.2,122.2 217.3,117.8 217.4,115.5 217.4,104.7 217.5,111.2 217.6,114.8 217.7,120.1 217.8,116.9 217.8,106.8 217.9,115.0 218.0,108.7 218.1,111.3 218.2,102.9 218.2,112.2 218.3,114.6 218.4,111.3 218.5,105.9 218.6,111.0 218.7,114.7 218.7,112.9 218.8,118.9 218.9,111.9 219.0,112.5 219.1,115.8 219.1,118.3 219.2,105.8 219.3,115.5 219.4,114.1 219.5,102.7 219.5,113.2 219.6,114.9 219.7,110.8 219.8,102.2 219.9,111.4 219.9,110.2 220.0,111.9 220.1,111.7 220.2,112.3 220.3,114.5 220.4,112.2 220.4,110.0 220.5,111.9 220.6,100.3 220.7,102.4 220.8,117.3 220.8,107.1 220.9,107.8 221.0,113.4 221.1,109.4 221.2,100.9 221.2,112.2 221.3,105.8 221.4,111.5 221.5,111.9 221.6,116.8 221.6,109.4 221.7,112.8 221.8,118.0 221.9,115.4 222.0,114.8 222.1,114.3 222.1,114.3 222.2,119.7 222.3,116.5 222.4,111.9 222.5,120.0 222.5,108.4 222.6,123.9 222.7,125.3 222.8,113.6 222.9,119.7 222.9,120.7 223.0,120.7 223.1,109.5 223.2,107.0 223.3,112.1 223.3,109.5 223.4,116.3 223.5,117.0 223.6,113.2 223.7,113.0 223.8,107.8 223.8,115.3 223.9,117.1 224.0,112.6 224.1,111.0 224.2,127.3 224.2,111.9 224.3,125.0 224.4,112.8 224.5,117.2 224.6,114.7 224.6,125.7 224.7,115.2 224.8,115.0 224.9,126.2 225.0,118.3 225.1,108.3 225.1,111.0 225.2,118.0 225.3,120.4 225.4,116.7 225.5,117.7 225.5,119.8 225.6,116.5 225.7,112.8 225.8,118.8 225.9,120.1 225.9,115.0 226.0,112.2 226.1,111.8 226.2,110.4 226.3,113.1 226.3,101.9 226.4,115.9 226.5,111.0 226.6,117.2 226.7,110.3 226.8,119.2 226.8,118.7 226.9,110.0 227.0,108.1 227.1,106.0 227.2,118.2 227.2,105.6 227.3,110.9 227.4,94.1 227.5,111.9 227.6,112.7 227.6,107.8 227.7,100.6 227.8,108.0 227.9,110.7 228.0,110.2 228.0,107.5 228.1,115.0 228.2,94.9 228.3,102.6 228.4,106.4 228.5,105.9 228.5,104.2 228.6,105.8 228.7,102.5 228.8,106.5 228.9,104.9 228.9,109.6 229.0,96.6 229.1,104.2 229.2,104.7 229.3,100.3 229.3,110.5 229.4,101.6 229.5,100.4 229.6,103.6 229.7,115.1 229.7,98.7 229.8,99.6 229.9,108.6 230.0,96.7 230.1,109.6 230.2,108.4 230.2,97.6 230.3,99.9 230.4,105.7 230.5,101.8 230.6,108.1 230.6,110.0 230.7,107.7 230.8,98.0 230.9,99.0 231.0,103.1 231.0,90.7 231.1,100.2 231.2,106.5 231.3,100.3 231.4,101.0 231.4,112.1 231.5,110.5 231.6,97.7 231.7,111.2 231.8,105.5 231.9,99.8 231.9,98.8 232.0,107.9 232.1,119.4 232.2,107.2 232.3,104.0 232.3,109.7 232.4,117.9 232.5,111.6 232.6,104.3 232.7,105.1 232.7,112.2 232.8,107.4 232.9,110.8 233.0,106.4 233.1,112.6 233.2,107.5 233.2,111.5 233.3,100.6 233.4,108.9 233.5,105.2 233.6,109.6 233.6,115.1 233.7,105.1 233.8,109.9 233.9,98.3 234.0,96.4 234.0,103.3 234.1,106.0 234.2,96.4 234.3,102.0 234.4,95.5 234.4,94.6 234.5,100.2 234.6,89.8 234.7,96.5 234.8,94.3 234.9,97.7 234.9,103.3 235.0,97.2 235.1,99.9 235.2,93.1 235.3,102.5 235.3,97.9 235.4,96.1 235.5,90.7 235.6,102.5 235.7,99.3 235.7,104.2 235.8,105.2 235.9,103.3 236.0,94.9 236.1,95.4 236.1,100.7 236.2,104.9 236.3,95.0 236.4,99.2 236.5,98.3 236.6,97.8 236.6,93.4 236.7,97.4 236.8,100.4 236.9,101.6 237.0,100.7 237.0,100.8 237.1,104.7 237.2,104.6 237.3,91.5 237.4,95.0 237.4,103.9 237.5,101.4 237.6,103.2 237.7,99.8 237.8,104.5 237.8,103.1 237.9,102.1 238.0,97.6 238.1,105.3 238.2,104.8 238.3,110.6 238.3,109.7 238.4,105.6 238.5,109.7 238.6,115.6 238.7,110.1 238.7,105.9 238.8,107.0 238.9,104.9 239.0,107.8 239.1,101.5 239.1,98.7 239.2,94.8 239.3,99.3 239.4,103.2 239.5,97.6 239.5,109.0 239.6,113.6 239.7,93.9 239.8,101.7 239.9,108.2 240.0,94.4 240.0,94.0 240.1,98.8 240.2,103.8 240.3,90.5 240.4,103.9 240.4,103.0 240.5,103.6 240.6,101.7 240.7,110.4 240.8,105.2 240.8,100.2 240.9,93.4 241.0,104.7 241.1,105.0 241.2,102.8 241.2,100.1 241.3,98.7 241.4,107.8 241.5,114.5 241.6,119.4 241.7,100.0 241.7,106.5 241.8,104.6 241.9,105.1 242.0,106.7 242.1,100.3 242.1,108.7 242.2,103.9 242.3,114.4 242.4,109.2 242.5,114.7 242.5,114.9 242.6,120.3 242.7,111.9 242.8,112.6 242.9,106.5 243.0,114.8 243.0,116.3 243.1,115.5 243.2,116.9 243.3,107.8 243.4,108.4 243.4,122.2 243.5,107.7 243.6,115.8 243.7,109.5 243.8,117.5 243.8,105.2 243.9,119.4 244.0,115.5 244.1,109.5 244.2,116.3 244.2,108.4 244.3,116.1 244.4,107.6 244.5,104.3 244.6,121.5 244.7,105.8 244.7,106.7 244.8,114.1 244.9,108.3 245.0,108.7 245.1,97.9 245.1,109.1 245.2,104.7 245.3,109.6 245.4,106.7 245.5,105.4 245.5,109.1 245.6,103.5 245.7,109.4 245.8,108.8 245.9,109.5 245.9,109.1 246.0,104.9 246.1,104.2 246.2,116.3 246.3,113.0 246.4,108.0 246.4,107.2 246.5,116.0 246.6,104.0 246.7,97.9 246.8,108.9 246.8,110.7 246.9,113.6 247.0,110.4 247.1,112.5 247.2,109.1 247.2,108.1 247.3,117.2 247.4,106.1 247.5,107.6 247.6,115.1 247.6,105.0 247.7,103.2 247.8,114.6 247.9,108.7 248.0,114.4 248.1,114.3 248.1,113.4 248.2,121.6 248.3,113.6 248.4,117.3 248.5,116.6 248.5,116.7 248.6,119.3 248.7,110.2 248.8,116.3 248.9,110.0 248.9,122.4 249.0,119.4 249.1,121.7 249.2,121.0 249.3,116.3 249.3,114.1 249.4,107.1 249.5,119.6 249.6,114.5 249.7,116.7 249.8,118.7 249.8,118.0 249.9,118.4 250.0,106.2 250.1,114.0 250.2,111.5 250.2,117.2 250.3,111.7 250.4,113.9 250.5,115.3 250.6,113.1 250.6,115.9 250.7,105.4 250.8,113.4 250.9,114.0 251.0,115.0 251.0,114.5 251.1,113.5 251.2,118.8 251.3,113.3 251.4,107.6 251.5,103.3 251.5,106.1 251.6,106.0 251.7,103.1 251.8,112.8 251.9,102.1 251.9,103.6 252.0,105.5 252.1,107.4 252.2,103.6 252.3,102.1 252.3,113.2 252.4,103.8 252.5,102.3 252.6,101.8 252.7,109.4 252.8,107.0 252.8,107.6 252.9,100.3 253.0,91.1 253.1,99.9 253.2,98.3 253.2,108.2 253.3,104.5 253.4,97.9 253.5,101.2 253.6,102.1 253.6,101.1 253.7,98.8 253.8,93.9 253.9,94.0 254.0,90.3 254.0,94.2 254.1,84.8 254.2,106.7 254.3,93.0 254.4,81.9 254.5,91.3 254.5,94.3 254.6,93.3 254.7,88.9 254.8,78.9 254.9,94.8 254.9,88.7 255.0,96.6 255.1,74.2 255.2,93.5 255.3,89.0 255.3,91.3 255.4,88.0 255.5,98.4 255.6,114.4 255.7,92.8 255.7,95.2 255.8,98.9 255.9,102.3 256.0,105.8 256.1,101.1 256.2,98.9 256.2,97.8 256.3,105.5 256.4,109.9 256.5,100.6 256.6,98.3 256.6,103.4 256.7,114.6 256.8,99.6 256.9,113.9 257.0,102.9 257.0,118.9 257.1,112.6 257.2,106.0 257.3,109.6 257.4,106.8 257.4,105.5 257.5,102.9 257.6,103.6 257.7,114.7 257.8,109.1 257.9,96.6 257.9,107.2 258.0,113.8 258.1,100.8 258.2,105.4 258.3,105.0 258.3,97.7 258.4,98.6 258.5,103.1 258.6,96.3 258.7,103.1 258.7,102.4 258.8,98.3 258.9,104.0 259.0,101.7 259.1,99.3 259.1,101.0 259.2,103.8 259.3,91.6 259.4,100.6 259.5,95.6 259.6,102.7 259.6,98.3 259.7,103.6 259.8,92.3 259.9,99.8 260.0,99.4 260.0,84.5 260.1,107.0 260.2,99.8 260.3,100.3 260.4,100.0 260.4,99.1 260.5,106.2 260.6,105.3 260.7,98.5 260.8,104.8 260.9,100.9 260.9,102.3 261.0,97.4 261.1,97.8 261.2,97.9 261.3,111.2 261.3,100.8 261.4,103.1 261.5,97.7 261.6,101.7 261.7,96.4 261.7,109.6 261.8,93.3 261.9,102.5 262.0,101.6 262.1,104.6 262.1,106.8 262.2,98.9 262.3,104.6 262.4,97.0 262.5,96.3 262.6,97.6 262.6,100.6 262.7,104.5 262.8,106.8 262.9,109.5 263.0,104.8 263.0,98.5 263.1,110.2 263.2,102.9 263.3,104.7 263.4,108.2 263.4,104.5 263.5,104.4 263.6,111.2 263.7,113.1 263.8,114.0 263.8,95.5 263.9,98.4 264.0,106.1 264.1,97.4 264.2,101.1 264.3,104.6 264.3,97.3 264.4,109.5 264.5,112.3 264.6,108.4 264.7,107.4 264.7,97.3 264.8,97.8 264.9,112.1 265.0,105.8 265.1,98.4 265.1,98.5 265.2,112.0 265.3,99.5 265.4,103.9 265.5,105.5 265.5,101.9 265.6,111.9 265.7,105.1 265.8,109.2 265.9,105.2 266.0,108.7 266.0,104.2 266.1,99.1 266.2,107.1 266.3,108.9 266.4,109.7 266.4,108.7 266.5,109.1 266.6,103.3 266.7,109.6 266.8,115.3 266.8,106.8 266.9,105.9 267.0,104.3 267.1,105.0 267.2,109.7 267.2,106.0 267.3,101.2 267.4,100.1 267.5,111.3 267.6,99.0 267.7,107.9 267.7,103.6 267.8,97.7 267.9,98.2 268.0,99.7 268.1,99.5 268.1,97.7 268.2,104.8 268.3,100.7 268.4,100.0 268.5,99.4 268.5,103.7 268.6,88.3 268.7,98.8 268.8,94.9 268.9,101.8 268.9,99.3 269.0,101.8 269.1,102.5 269.2,101.4 269.3,105.3 269.4,99.7 269.4,96.2 269.5,107.5 269.6,107.4 269.7,110.5 269.8,100.0 269.8,97.1 269.9,100.2 270.0,107.9 270.1,103.5 270.2,100.7 270.2,99.2 270.3,99.7 270.4,110.8 270.5,113.3 270.6,106.3 270.7,112.3 270.7,93.7 270.8,108.4 270.9,96.4 271.0,100.5 271.1,106.0 271.1,106.4 271.2,101.7 271.3,99.8 271.4,110.7 271.5,108.7 271.5,114.3 271.6,105.0 271.7,112.2 271.8,108.6 271.9,111.5 271.9,113.8 272.0,108.3 272.1,109.5 272.2,101.0 272.3,108.6 272.4,118.3 272.4,104.2 272.5,110.9 272.6,108.2 272.7,105.4 272.8,120.0 272.8,118.4 272.9,119.8 273.0,110.3 273.1,115.5 273.2,109.8 273.2,110.2 273.3,117.8 273.4,115.7 273.5,109.9 273.6,106.8 273.6,107.4 273.7,115.0 273.8,112.1 273.9,111.2 274.0,111.3 274.1,117.3 274.1,112.0 274.2,117.9 274.3,121.2 274.4,104.3 274.5,122.4 274.5,120.8 274.6,117.6 274.7,119.7 274.8,114.7 274.9,119.3 274.9,123.3 275.0,116.7 275.1,122.2 275.2,119.3 275.3,122.1 275.3,124.8 275.4,114.0 275.5,116.3 275.6,120.8 275.7,119.4 275.8,125.6 275.8,124.8 275.9,119.8 276.0,115.3 276.1,122.6 276.2,121.3 276.2,126.6 276.3,118.8 276.4,124.3 276.5,124.3 276.6,127.2 276.6,120.7 276.7,112.6 276.8,116.5 276.9,127.3 277.0,113.6 277.0,123.8 277.1,119.8 277.2,120.7 277.3,111.6 277.4,128.4 277.5,120.9 277.5,123.9 277.6,126.4 277.7,122.2 277.8,130.0 277.9,115.6 277.9,121.2 278.0,132.1 278.1,124.5 278.2,130.0 278.3,123.7 278.3,126.2 278.4,117.8 278.5,118.1 278.6,129.8 278.7,125.0 278.7,129.6 278.8,120.9 278.9,122.9 279.0,118.6 279.1,116.3 279.2,124.0 279.2,120.6 279.3,131.4 279.4,119.5 279.5,121.2 279.6,119.2 279.6,122.3 279.7,109.5 279.8,123.9 279.9,121.7 280.0,121.4 280.0,114.6 280.1,116.8 280.2,117.0 280.3,124.0 280.4,114.8 280.5,117.9 280.5,122.8 280.6,130.7 280.7,116.4 280.8,119.9 280.9,129.4 280.9,115.0 281.0,115.0 281.1,127.3 281.2,116.9 281.3,117.4 281.3,123.4 281.4,122.2 281.5,121.7 281.6,115.1 281.7,122.6 281.7,120.6 281.8,122.0 281.9,124.3 282.0,119.7 282.1,127.2 282.2,128.1 282.2,128.4 282.3,118.8 282.4,112.6 282.5,119.6 282.6,121.6 282.6,121.1 282.7,119.3 282.8,121.9 282.9,124.4 283.0,116.4 283.0,121.2 283.1,122.1 283.2,119.1 283.3,116.3 283.4,121.2 283.4,119.3 283.5,123.5 283.6,123.4 283.7,119.5 283.8,119.0 283.9,120.6 283.9,118.7 284.0,124.4 284.1,127.5 284.2,127.5 284.3,121.2 284.3,128.6 284.4,120.0 284.5,121.3 284.6,119.0 284.7,124.5 284.7,125.3 284.8,119.7 284.9,124.8 285.0,122.7 285.1,121.6 285.1,122.4 285.2,121.2 285.3,120.6 285.4,122.9 285.5,121.7 285.6,120.1 285.6,128.4 285.7,117.6 285.8,120.7 285.9,124.7 286.0,122.5 286.0,118.3 286.1,122.3 286.2,120.7 286.3,118.3 286.4,117.0 286.4,121.2 286.5,120.8 286.6,122.5 286.7,120.8 286.8,117.3 286.8,118.4 286.9,121.8 287.0,115.9 287.1,120.6 287.2,120.8 287.3,120.0 287.3,122.6 287.4,111.6 287.5,124.2 287.6,116.6 287.7,114.7 287.7,120.2 287.8,112.0 287.9,111.2 288.0,111.9 288.1,115.6 288.1,110.0 288.2,123.2 288.3,107.5 288.4,112.7 288.5,112.4 288.5,114.4 288.6,109.9 288.7,115.7 288.8,112.6 288.9,111.2 289.0,108.3 289.0,117.7 289.1,110.1 289.2,109.8 289.3,106.0 289.4,111.8 289.4,113.3 289.5,109.0 289.6,108.6 289.7,110.8 289.8,109.9 289.8,104.6 289.9,107.4 290.0,105.5 290.1,113.9 290.2,109.7 290.3,114.6 290.3,105.9 290.4,105.2 290.5,99.1 290.6,108.8 290.7,112.4 290.7,104.0 290.8,105.7 290.9,117.2 291.0,114.7 291.1,119.2 291.1,118.6 291.2,121.0 291.3,118.5 291.4,110.5 291.5,111.3 291.5,109.6 291.6,119.5 291.7,113.5 291.8,113.9 291.9,118.0 292.0,110.0 292.0,109.1 292.1,113.8 292.2,110.1 292.3,113.6 292.4,107.7 292.4,107.7 292.5,117.8 292.6,114.8 292.7,107.6 292.8,110.3 292.8,103.2 292.9,111.8 293.0,114.1 293.1,107.6 293.2,111.9 293.2,117.4 293.3,113.9 293.4,107.8 293.5,110.5 293.6,110.9 293.7,110.0 293.7,109.6 293.8,109.0 293.9,113.4 294.0,107.9 294.1,111.7 294.1,116.0 294.2,109.7 294.3,107.4 294.4,118.3 294.5,111.2 294.5,106.3 294.6,111.7 294.7,121.5 294.8,113.1 294.9,108.4 294.9,108.5 295.0,112.9 295.1,112.5 295.2,114.1 295.3,115.9 295.4,115.2 295.4,109.4 295.5,112.4 295.6,116.6 295.7,119.2 295.8,114.1 295.8,105.2 295.9,118.9 296.0,110.4 296.1,125.3 296.2,105.4 296.2,104.1 296.3,108.1 296.4,107.8 296.5,109.1 296.6,111.7 296.6,108.5 296.7,119.0 296.8,113.0 296.9,116.0 297.0,108.5 297.1,106.8 297.1,105.6 297.2,107.5 297.3,111.2 297.4,106.8 297.5,106.7 297.5,110.4 297.6,110.3 297.7,112.7 297.8,116.6 297.9,107.5 297.9,110.5 298.0,108.5 298.1,110.0 298.2,104.5 298.3,117.9 298.4,110.8 298.4,106.1 298.5,105.0 298.6,111.0 298.7,106.2 298.8,110.0 298.8,112.7 298.9,111.7 299.0,109.7 299.1,103.4 299.2,113.9 299.2,113.5 299.3,113.3 299.4,117.4 299.5,111.2 299.6,119.5 299.6,104.7 299.7,108.4 299.8,118.7 299.9,111.2 300.0,115.2 300.1,110.3 300.1,109.3 300.2,111.6 300.3,121.5 300.4,102.2 300.5,106.8 300.5,111.0 300.6,118.0 300.7,111.8 300.8,120.3 300.9,106.2 300.9,108.6 301.0,110.1 301.1,106.6 301.2,99.2 301.3,110.2 301.3,107.4 301.4,110.1 301.5,120.4 301.6,101.5 301.7,106.0 301.8,105.5 301.8,109.7 301.9,100.5 302.0,108.4 302.1,111.9 302.2,106.6 302.2,111.5 302.3,116.8 302.4,111.8 302.5,103.6 302.6,119.6 302.6,114.3 302.7,114.1 302.8,114.6 302.9,110.7 303.0,110.0 303.0,119.7 303.1,109.4 303.2,106.3 303.3,117.8 303.4,121.0 303.5,113.9 303.5,115.2 303.6,114.6 303.7,115.1 303.8,118.3 303.9,107.7 303.9,106.7 304.0,116.7 304.1,109.9 304.2,108.1 304.3,108.2 304.3,114.9 304.4,115.5 304.5,99.7 304.6,116.7 304.7,112.2 304.7,109.2 304.8,106.1 304.9,113.3 305.0,109.9 305.1,100.0 305.2,99.7 305.2,106.2 305.3,109.7 305.4,109.6 305.5,102.3 305.6,110.4 305.6,100.8 305.7,108.2 305.8,111.1 305.9,110.5 306.0,96.6 306.0,108.2 306.1,105.1 306.2,105.0 306.3,112.3 306.4,104.3 306.4,103.6 306.5,100.7 306.6,109.1 306.7,109.7 306.8,106.2 306.9,104.6 306.9,102.4 307.0,116.2 307.1,112.1 307.2,105.3 307.3,107.5 307.3,99.0 307.4,103.8 307.5,117.0 307.6,100.3 307.7,109.6 307.7,109.0 307.8,107.9 307.9,113.8 308.0,99.5 308.1,112.2 308.2,112.7 308.2,105.3 308.3,104.7 308.4,99.9 308.5,112.5 308.6,104.8 308.6,105.9 308.7,111.4 308.8,110.1 308.9,96.4 309.0,110.9 309.0,103.7 309.1,112.0 309.2,104.4 309.3,99.1 309.4,113.7 309.4,103.9 309.5,92.7 309.6,101.7 309.7,99.2 309.8,108.4 309.9,101.8 309.9,105.1 310.0,95.9 310.1,102.6 310.2,103.4 310.3,100.5 310.3,108.8 310.4,101.9 310.5,104.1 310.6,101.2 310.7,100.8 310.7,101.0 310.8,99.0 310.9,100.5 311.0,108.7 311.1,117.1 311.1,98.7 311.2,100.0 311.3,100.4 311.4,105.5 311.5,98.6 311.6,110.5 311.6,111.9 311.7,91.3 311.8,109.8 311.9,104.3 312.0,104.9 312.0,103.1 312.1,107.4 312.2,103.7" fill="none" stroke="#f00" stroke-width="0.6" stroke-linejoin="round"/>
<path d="M69.3,204.3 69.4,195.7 69.5,188.7 69.5,181.6 69.6,172.0 69.7,167.9 69.8,152.0 69.9,151.2 69.9,154.1 70.0,159.4 70.1,155.8 70.2,156.3 70.3,158.4 70.4,157.7 70.4,155.7 70.5,158.2 70.6,156.9 70.7,156.6 70.8,160.2 70.8,157.5 70.9,157.6 71.0,151.6 71.1,155.6 71.2,154.6 71.2,154.8 71.3,155.2 71.4,154.6 71.5,154.9 71.6,160.5 71.6,153.7 71.7,155.3 71.8,154.0 71.9,155.7 72.0,155.3 72.1,152.2 72.1,153.4 72.2,151.6 72.3,150.9 72.4,151.5 72.5,151.0 72.5,153.3 72.6,152.1 72.7,149.3 72.8,151.9 72.9,149.4 72.9,151.2 73.0,147.9 73.1,154.6 73.2,150.3 73.3,148.3 73.3,153.7 73.4,150.4 73.5,149.5 73.6,151.0 73.7,147.1 73.8,148.9 73.8,150.8 73.9,146.6 74.0,148.1 74.1,138.9 74.2,154.7 74.2,148.1 74.3,148.6 74.4,148.2 74.5,155.5 74.6,147.3 74.6,149.5 74.7,144.4 74.8,151.0 74.9,139.9 75.0,146.4 75.1,147.8 75.1,144.4 75.2,151.1 75.3,149.3 75.4,142.6 75.5,146.1 75.5,144.5 75.6,154.0 75.7,150.5 75.8,152.0 75.9,138.6 75.9,146.1 76.0,140.5 76.1,147.0 76.2,141.8 76.3,148.5 76.3,148.3 76.4,147.2 76.5,146.4 76.6,155.1 76.7,147.0 76.8,150.9 76.8,149.9 76.9,148.2 77.0,148.8 77.1,147.4 77.2,142.6 77.2,142.5 77.3,139.8 77.4,149.8 77.5,147.4 77.6,148.2 77.6,148.7 77.7,144.1 77.8,143.4 77.9,146.7 78.0,145.4 78.0,140.5 78.1,146.0 78.2,140.4 78.3,144.7 78.4,142.4 78.5,136.1 78.5,145.9 78.6,141.8 78.7,137.6 78.8,142.1 78.9,136.7 78.9,131.2 79.0,135.9 79.1,142.1 79.2,145.1 79.3,140.7 79.3,143.8 79.4,144.7 79.5,138.1 79.6,138.3 79.7,148.2 79.7,143.2 79.8,145.3 79.9,137.8 80.0,138.9 80.1,136.3 80.2,140.4 80.2,137.8 80.3,136.9 80.4,140.1 80.5,135.9 80.6,147.7 80.6,135.2 80.7,145.6 80.8,141.3 80.9,138.6 81.0,139.2 81.0,146.0 81.1,139.8 81.2,150.0 81.3,141.3 81.4,142.5 81.4,133.8 81.5,142.1 81.6,144.2 81.7,144.2 81.8,145.0 81.9,141.4 81.9,140.5 82.0,134.3 82.1,147.5 82.2,139.3 82.3,148.4 82.3,143.6 82.4,137.4 82.5,137.3 82.6,139.2 82.7,145.9 82.7,139.5 82.8,137.3 82.9,150.8 83.0,147.5 83.1,145.0 83.1,144.7 83.2,144.8 83.3,147.5 83.4,149.8 83.5,144.7 83.6,150.5 83.6,148.1 83.7,145.3 83.8,145.3 83.9,143.3 84.0,143.0 84.0,143.8 84.1,140.0 84.2,152.6 84.3,145.4 84.4,145.2 84.4,147.0 84.5,145.8 84.6,143.9 84.7,147.0 84.8,136.2 84.9,136.2 84.9,147.2 85.0,140.3 85.1,141.0 85.2,143.6 85.3,145.4 85.3,142.1 85.4,143.5 85.5,146.4 85.6,139.8 85.7,142.8 85.7,138.3 85.8,148.9 85.9,146.4 86.0,156.6 86.1,144.3 86.1,147.5 86.2,139.6 86.3,137.6 86.4,141.7 86.5,138.1 86.6,145.5 86.6,148.1 86.7,136.6 86.8,138.6 86.9,140.1 87.0,145.4 87.0,139.7 87.1,142.0 87.2,133.5 87.3,157.8 87.4,151.9 87.4,143.0 87.5,144.0 87.6,146.2 87.7,148.8 87.8,151.2 87.8,140.9 87.9,143.3 88.0,146.9 88.1,146.6 88.2,140.6 88.3,152.8 88.3,153.4 88.4,148.4 88.5,152.4 88.6,143.5 88.7,144.0 88.7,143.7 88.8,147.9 88.9,149.4 89.0,144.6 89.1,156.1 89.1,153.5 89.2,151.0 89.3,152.7 89.4,146.2 89.5,151.6 89.5,143.1 89.6,146.7 89.7,154.0 89.8,157.9 89.9,137.6 90.0,144.9 90.0,144.3 90.1,148.7 90.2,150.9 90.3,139.9 90.4,151.9 90.4,148.2 90.5,146.2 90.6,150.3 90.7,148.6 90.8,148.5 90.8,148.1 90.9,138.2 91.0,145.2 91.1,140.4 91.2,149.2 91.2,147.3 91.3,147.3 91.4,151.6 91.5,143.4 91.6,150.0 91.7,148.3 91.7,142.1 91.8,140.1 91.9,145.0 92.0,139.9 92.1,134.3 92.1,132.6 92.2,134.9 92.3,140.7 92.4,132.6 92.5,140.2 92.5,140.2 92.6,133.9 92.7,136.9 92.8,136.3 92.9,143.1 93.0,140.4 93.0,137.6 93.1,136.7 93.2,136.6 93.3,148.4 93.4,128.3 93.4,135.6 93.5,143.7 93.6,133.6 93.7,140.3 93.8,141.6 93.8,131.3 93.9,145.2 94.0,144.6 94.1,143.8 94.2,142.3 94.2,122.9 94.3,141.5 94.4,144.2 94.5,138.1 94.6,135.1 94.7,132.4 94.7,143.0 94.8,128.6 94.9,137.6 95.0,142.8 95.1,142.3 95.1,136.0 95.2,138.4 95.3,140.7 95.4,137.9 95.5,126.9 95.5,131.6 95.6,141.5 95.7,142.7 95.8,134.2 95.9,144.7 95.9,148.7 96.0,144.3 96.1,146.2 96.2,146.9 96.3,140.5 96.4,143.2 96.4,140.8 96.5,137.0 96.6,141.2 96.7,145.7 96.8,142.7 96.8,133.3 96.9,142.7 97.0,142.6 97.1,134.2 97.2,140.6 97.2,140.1 97.3,133.4 97.4,134.6 97.5,136.0 97.6,134.6 97.6,126.3 97.7,129.4 97.8,134.0 97.9,132.0 98.0,121.2 98.1,130.0 98.1,126.7 98.2,126.7 98.3,130.8 98.4,127.4 98.5,133.2 98.5,130.0 98.6,123.2 98.7,130.4 98.8,122.3 98.9,129.7 98.9,128.8 99.0,131.5 99.1,137.4 99.2,128.2 99.3,127.2 99.3,133.5 99.4,135.7 99.5,137.6 99.6,134.3 99.7,131.9 99.8,133.2 99.8,136.8 99.9,138.4 100.0,138.0 100.1,139.7 100.2,144.5 100.2,128.8 100.3,143.2 100.4,143.8 100.5,131.6 100.6,136.1 100.6,135.6 100.7,140.8 100.8,137.9 100.9,133.5 101.0,123.1 101.0,134.1 101.1,135.8 101.2,132.8 101.3,135.7 101.4,139.7 101.5,144.5 101.5,132.8 101.6,142.5 101.7,128.9 101.8,137.6 101.9,137.1 101.9,140.8 102.0,140.0 102.1,137.8 102.2,132.7 102.3,136.6 102.3,134.7 102.4,136.3 102.5,130.7 102.6,130.9 102.7,130.1 102.8,137.2 102.8,135.5 102.9,137.7 103.0,126.9 103.1,143.4 103.2,121.8 103.2,130.5 103.3,131.8 103.4,127.2 103.5,129.1 103.6,129.3 103.6,125.2 103.7,124.0 103.8,129.5 103.9,118.6 104.0,133.4 104.0,122.4 104.1,125.6 104.2,132.2 104.3,122.8 104.4,120.6 104.5,135.5 104.5,124.7 104.6,128.4 104.7,126.9 104.8,136.6 104.9,125.1 104.9,122.3 105.0,126.8 105.1,131.6 105.2,129.8 105.3,126.4 105.3,128.9 105.4,134.6 105.5,133.6 105.6,135.0 105.7,127.2 105.7,117.9 105.8,120.5 105.9,128.4 106.0,128.3 106.1,122.6 106.2,124.1 106.2,121.3 106.3,125.6 106.4,130.1 106.5,125.3 106.6,119.6 106.6,127.4 106.7,118.5 106.8,133.5 106.9,130.8 107.0,128.2 107.0,130.0 107.1,124.8 107.2,127.9 107.3,126.1 107.4,121.7 107.4,135.3 107.5,130.6 107.6,118.8 107.7,130.4 107.8,133.9 107.9,132.5 107.9,133.8 108.0,128.5 108.1,126.1 108.2,125.4 108.3,122.9 108.3,127.2 108.4,122.0 108.5,120.2 108.6,132.6 108.7,130.3 108.7,122.7 108.8,130.7 108.9,119.1 109.0,127.4 109.1,127.4 109.1,123.4 109.2,112.2 109.3,129.7 109.4,124.2 109.5,128.0 109.6,121.6 109.6,125.5 109.7,125.5 109.8,123.3 109.9,127.2 110.0,126.4 110.0,124.4 110.1,127.7 110.2,129.3 110.3,132.9 110.4,127.0 110.4,128.9 110.5,130.7 110.6,133.5 110.7,133.2 110.8,135.9 110.8,123.0 110.9,128.8 111.0,122.4 111.1,140.4 111.2,140.0 111.3,131.1 111.3,133.4 111.4,134.8 111.5,135.4 111.6,133.7 111.7,144.5 111.7,120.9 111.8,133.7 111.9,133.0 112.0,127.6 112.1,132.6 112.1,130.2 112.2,128.5 112.3,128.2 112.4,129.3 112.5,126.9 112.6,127.0 112.6,131.6 112.7,129.9 112.8,135.0 112.9,129.4 113.0,139.2 113.0,139.9 113.1,137.5 113.2,132.2 113.3,137.3 113.4,136.4 113.4,129.8 113.5,128.3 113.6,126.1 113.7,131.0 113.8,133.0 113.8,133.8 113.9,140.9 114.0,135.7 114.1,137.1 114.2,132.3 114.3,134.8 114.3,141.3 114.4,139.0 114.5,135.8 114.6,137.8 114.7,141.5 114.7,135.8 114.8,147.6 114.9,137.9 115.0,144.2 115.1,147.1 115.1,142.8 115.2,137.2 115.3,148.6 115.4,143.2 115.5,142.7 115.5,144.4 115.6,144.2 115.7,143.0 115.8,141.6 115.9,136.4 116.0,153.2 116.0,140.9 116.1,138.2 116.2,148.7 116.3,138.8 116.4,137.2 116.4,142.4 116.5,139.4 116.6,142.5 116.7,144.7 116.8,141.5 116.8,141.6 116.9,134.6 117.0,140.5 117.1,134.8 117.2,133.4 117.2,131.8 117.3,136.0 117.4,133.8 117.5,138.7 117.6,139.3 117.7,128.5 117.7,130.3 117.8,138.5 117.9,137.7 118.0,127.2 118.1,132.9 118.1,129.3 118.2,127.9 118.3,134.6 118.4,130.2 118.5,138.8 118.5,134.1 118.6,130.6 118.7,128.1 118.8,133.8 118.9,131.6 118.9,137.3 119.0,129.8 119.1,139.3 119.2,135.2 119.3,134.3 119.4,137.6 119.4,136.2 119.5,135.0 119.6,129.5 119.7,130.9 119.8,132.2 119.8,132.1 119.9,132.1 120.0,138.0 120.1,135.4 120.2,135.0 120.2,130.8 120.3,132.8 120.4,131.8 120.5,139.6 120.6,127.3 120.6,137.2 120.7,138.8 120.8,134.1 120.9,132.9 121.0,134.9 121.1,127.2 121.1,136.2 121.2,135.6 121.3,139.3 121.4,126.9 121.5,134.4 121.5,134.3 121.6,140.7 121.7,135.9 121.8,134.2 121.9,129.7 121.9,127.1 122.0,126.0 122.1,134.8 122.2,130.2 122.3,124.0 122.4,128.3 122.4,127.5 122.5,125.4 122.6,129.1 122.7,131.5 122.8,120.0 122.8,139.6 122.9,131.6 123.0,129.7 123.1,132.6 123.2,133.4 123.2,135.5 123.3,128.4 123.4,142.9 123.5,139.8 123.6,141.3 123.6,138.0 123.7,137.4 123.8,133.0 123.9,129.9 124.0,139.2 124.1,134.9 124.1,124.6 124.2,131.1 124.3,143.1 124.4,131.3 124.5,134.6 124.5,134.7 124.6,133.2 124.7,130.6 124.8,133.3 124.9,129.6 124.9,132.8 125.0,129.9 125.1,131.4 125.2,138.5 125.3,141.5 125.3,124.3 125.4,138.0 125.5,138.9 125.6,128.0 125.7,127.4 125.8,133.8 125.8,126.2 125.9,135.2 126.0,134.3 126.1,139.2 126.2,121.8 126.2,131.4 126.3,128.3 126.4,139.9 126.5,129.3 126.6,140.8 126.6,135.1 126.7,128.3 126.8,124.5 126.9,123.6 127.0,132.0 127.0,138.4 127.1,130.0 127.2,134.2 127.3,128.3 127.4,129.6 127.5,123.3 127.5,128.9 127.6,132.9 127.7,129.8 127.8,133.7 127.9,134.5 127.9,135.1 128.0,133.3 128.1,135.1 128.2,131.8 128.3,139.4 128.3,134.2 128.4,128.7 128.5,135.5 128.6,136.6 128.7,122.3 128.7,133.9 128.8,122.2 128.9,131.3 129.0,128.3 129.1,126.2 129.2,133.8 129.2,134.3 129.3,129.8 129.4,130.3 129.5,126.0 129.6,132.1 129.6,132.8 129.7,128.1 129.8,132.8 129.9,133.6 130.0,127.2 130.0,130.6 130.1,135.2 130.2,123.9 130.3,129.3 130.4,139.4 130.5,131.9 130.5,122.9 130.6,127.9 130.7,131.3 130.8,126.7 130.9,131.1 130.9,129.5 131.0,125.7 131.1,132.4 131.2,118.3 131.3,140.4 131.3,135.0 131.4,122.5 131.5,125.2 131.6,117.3 131.7,123.4 131.7,120.9 131.8,123.2 131.9,127.6 132.0,135.9 132.1,128.4 132.2,125.0 132.2,126.3 132.3,132.6 132.4,123.5 132.5,130.8 132.6,134.1 132.6,129.2 132.7,130.2 132.8,136.2 132.9,135.5 133.0,130.0 133.0,122.2 133.1,143.8 133.2,143.5 133.3,134.9 133.4,133.5 133.4,127.1 133.5,139.2 133.6,129.4 133.7,128.8 133.8,125.6 133.9,133.0 133.9,133.5 134.0,130.2 134.1,131.2 134.2,130.7 134.3,130.2 134.3,123.6 134.4,128.0 134.5,127.3 134.6,122.9 134.7,127.0 134.7,124.1 134.8,132.4 134.9,124.2 135.0,124.2 135.1,127.3 135.1,126.6 135.2,127.8 135.3,117.5 135.4,123.7 135.5,126.2 135.6,125.6 135.6,126.7 135.7,120.3 135.8,120.1 135.9,124.3 136.0,123.2 136.0,117.5 136.1,123.9 136.2,109.9 136.3,115.8 136.4,118.3 136.4,113.5 136.5,123.1 136.6,110.5 136.7,115.6 136.8,107.2 136.8,107.1 136.9,115.0 137.0,103.4 137.1,111.9 137.2,111.6 137.3,104.8 137.3,105.3 137.4,113.3 137.5,109.4 137.6,113.5 137.7,115.4 137.7,114.5 137.8,109.5 137.9,120.9 138.0,111.1 138.1,116.7 138.1,114.5 138.2,107.4 138.3,111.8 138.4,116.2 138.5,105.8 138.5,123.0 138.6,115.1 138.7,110.9 138.8,122.4 138.9,113.6 139.0,117.3 139.0,107.9 139.1,111.7 139.2,113.2 139.3,123.3 139.4,116.9 139.4,106.9 139.5,110.9 139.6,118.0 139.7,115.0 139.8,122.4 139.8,112.3 139.9,117.3 140.0,118.9 140.1,116.1 140.2,106.6 140.3,117.6 140.3,123.5 140.4,98.1 140.5,110.6 140.6,110.2 140.7,113.4 140.7,101.5 140.8,103.6 140.9,103.1 141.0,104.4 141.1,102.2 141.1,104.5 141.2,107.5 141.3,101.5 141.4,105.5 141.5,109.4 141.5,104.9 141.6,116.4 141.7,105.9 141.8,110.0 141.9,114.1 142.0,103.6 142.0,96.5 142.1,100.1 142.2,103.3 142.3,110.3 142.4,113.5 142.4,108.3 142.5,110.1 142.6,105.6 142.7,98.3 142.8,103.1 142.8,105.7 142.9,105.8 143.0,115.7 143.1,104.7 143.2,107.7 143.2,112.7 143.3,109.6 143.4,110.6 143.5,106.9 143.6,112.7 143.7,104.8 143.7,110.5 143.8,113.4 143.9,104.1 144.0,112.2 144.1,111.5 144.1,117.0 144.2,105.8 144.3,111.9 144.4,109.0 144.5,113.1 144.5,110.2 144.6,117.9 144.7,113.5 144.8,117.4 144.9,112.3 144.9,106.7 145.0,112.8 145.1,110.3 145.2,108.7 145.3,101.1 145.4,105.1 145.4,117.3 145.5,102.1 145.6,117.2 145.7,116.1 145.8,107.4 145.8,100.4 145.9,112.2 146.0,114.1 146.1,109.4 146.2,106.8 146.2,100.5 146.3,106.7 146.4,108.8 146.5,108.7 146.6,105.7 146.6,103.8 146.7,111.1 146.8,106.9 146.9,102.2 147.0,94.8 147.1,103.6 147.1,117.4 147.2,109.3 147.3,104.6 147.4,108.6 147.5,101.3 147.5,108.8 147.6,105.1 147.7,105.5 147.8,110.4 147.9,110.9 147.9,110.0 148.0,113.7 148.1,107.8 148.2,111.2 148.3,107.4 148.3,112.4 148.4,98.4 148.5,103.4 148.6,98.5 148.7,108.3 148.8,106.4 148.8,101.6 148.9,101.8 149.0,101.6 149.1,98.6 149.2,99.9 149.2,96.3 149.3,104.8 149.4,96.6 149.5,120.1 149.6,99.9 149.6,102.8 149.7,104.0 149.8,101.4 149.9,101.8 150.0,99.1 150.1,106.5 150.1,104.2 150.2,98.9 150.3,103.7 150.4,103.1 150.5,97.9 150.5,99.5 150.6,103.5 150.7,104.7 150.8,97.4 150.9,96.0 150.9,96.7 151.0,97.1 151.1,101.3 151.2,104.1 151.3,99.8 151.3,100.1 151.4,102.6 151.5,97.6 151.6,82.7 151.7,101.4 151.8,100.4 151.8,94.5 151.9,102.5 152.0,100.8 152.1,101.0 152.2,99.1 152.2,94.3 152.3,96.3 152.4,107.8 152.5,102.0 152.6,106.4 152.6,99.4 152.7,104.6 152.8,96.2 152.9,91.8 153.0,105.3 153.0,102.9 153.1,100.0 153.2,108.8 153.3,113.6 153.4,102.5 153.5,103.5 153.5,116.3 153.6,105.7 153.7,108.0 153.8,108.4 153.9,104.1 153.9,112.5 154.0,111.7 154.1,95.5 154.2,98.6 154.3,102.4 154.3,100.7 154.4,98.9 154.5,100.0 154.6,85.6 154.7,102.6 154.7,95.1 154.8,105.1 154.9,94.1 155.0,86.9 155.1,97.4 155.2,101.3 155.2,106.0 155.3,89.2 155.4,99.7 155.5,93.9 155.6,90.6 155.6,100.1 155.7,93.7 155.8,85.6 155.9,98.3 156.0,94.7 156.0,92.5 156.1,102.0 156.2,94.7 156.3,86.4 156.4,79.5 156.4,97.0 156.5,90.8 156.6,88.9 156.7,92.7 156.8,94.5 156.9,92.0 156.9,93.3 157.0,95.5 157.1,91.9 157.2,91.1 157.3,103.8 157.3,89.2 157.4,91.0 157.5,89.3 157.6,101.4 157.7,77.4 157.7,89.0 157.8,98.5 157.9,82.1 158.0,84.6 158.1,91.4 158.2,80.6 158.2,84.5 158.3,93.7 158.4,91.5 158.5,84.9 158.6,77.5 158.6,89.9 158.7,78.8 158.8,86.1 158.9,91.4 159.0,79.1 159.0,92.5 159.1,88.3 159.2,99.9 159.3,89.2 159.4,82.3 159.4,94.9 159.5,96.6 159.6,78.1 159.7,83.7 159.8,92.1 159.9,88.2 159.9,76.3 160.0,95.1 160.1,82.2 160.2,85.0 160.3,86.2 160.3,89.1 160.4,84.1 160.5,94.8 160.6,89.1 160.7,81.8 160.7,91.4 160.8,89.8 160.9,85.7 161.0,101.1 161.1,103.9 161.1,83.4 161.2,89.8 161.3,88.8 161.4,94.2 161.5,91.1 161.6,86.6 161.6,91.5 161.7,94.0 161.8,95.6 161.9,98.8 162.0,103.7 162.0,91.6 162.1,91.5 162.2,74.3 162.3,91.7 162.4,94.4 162.4,76.8 162.5,91.5 162.6,89.1 162.7,81.4 162.8,81.1 162.8,81.0 162.9,82.9 163.0,92.0 163.1,90.4 163.2,89.5 163.3,83.6 163.3,88.7 163.4,81.5 163.5,86.4 163.6,86.3 163.7,100.7 163.7,88.0 163.8,94.9 163.9,84.7 164.0,90.9 164.1,86.3 164.1,86.9 164.2,93.7 164.3,94.7 164.4,85.1 164.5,83.7 164.5,95.1 164.6,99.3 164.7,85.9 164.8,98.0 164.9,90.4 165.0,101.0 165.0,84.0 165.1,87.5 165.2,91.5 165.3,95.7 165.4,103.9 165.4,89.6 165.5,85.7 165.6,88.0 165.7,96.1 165.8,85.6 165.8,87.8 165.9,98.0 166.0,98.8 166.1,95.2 166.2,84.1 166.2,93.9 166.3,81.9 166.4,84.7 166.5,99.9 166.6,93.1 166.7,75.4 166.7,92.6 166.8,89.4 166.9,91.5 167.0,95.0 167.1,97.7 167.1,92.7 167.2,92.2 167.3,91.5 167.4,90.4 167.5,100.5 167.5,99.7 167.6,91.2 167.7,94.3 167.8,104.9 167.9,100.0 168.0,83.0 168.0,96.9 168.1,96.5 168.2,93.3 168.3,92.7 168.4,102.3 168.4,99.0 168.5,87.7 168.6,100.9 168.7,96.0 168.8,89.4 168.8,97.8 168.9,98.3 169.0,103.2 169.1,103.2 169.2,94.3 169.2,97.9 169.3,100.4 169.4,105.1 169.5,95.0 169.6,95.1 169.7,104.1 169.7,109.8 169.8,111.7 169.9,95.1 170.0,94.0 170.1,110.9 170.1,106.7 170.2,117.7 170.3,111.1 170.4,96.8 170.5,102.1 170.5,101.4 170.6,106.9 170.7,110.1 170.8,105.9 170.9,98.1 170.9,101.5 171.0,99.7 171.1,99.3 171.2,106.1 171.3,101.4 171.4,106.4 171.4,106.9 171.5,98.7 171.6,107.7 171.7,93.0 171.8,99.3 171.8,107.1 171.9,102.9 172.0,105.3 172.1,94.6 172.2,96.3 172.2,98.7 172.3,90.3 172.4,98.4 172.5,99.7 172.6,103.1 172.6,104.4 172.7,96.1 172.8,93.8 172.9,98.3 173.0,96.3 173.1,97.4 173.1,88.9 173.2,96.4 173.3,91.5 173.4,98.2 173.5,101.5 173.5,105.0 173.6,102.4 173.7,94.5 173.8,101.8 173.9,91.3 173.9,99.2 174.0,106.9 174.1,96.7 174.2,100.3 174.3,88.4 174.3,94.6 174.4,103.4 174.5,98.0 174.6,105.8 174.7,106.6 174.8,99.2 174.8,96.2 174.9,101.6 175.0,93.2 175.1,108.4 175.2,96.3 175.2,97.9 175.3,106.8 175.4,96.9 175.5,100.7 175.6,93.0 175.6,107.0 175.7,95.5 175.8,100.4 175.9,91.0 176.0,85.6 176.0,100.6 176.1,100.1 176.2,99.1 176.3,99.0 176.4,93.4 176.5,101.3 176.5,102.3 176.6,98.7 176.7,98.4 176.8,91.1 176.9,101.2 176.9,101.6 177.0,95.6 177.1,96.1 177.2,104.1 177.3,101.0 177.3,106.5 177.4,95.9 177.5,104.5 177.6,104.1 177.7,103.3 177.8,106.5 177.8,102.1 177.9,98.6 178.0,102.3 178.1,93.6 178.2,104.5 178.2,114.5 178.3,107.0 178.4,110.6 178.5,103.6 178.6,110.2 178.6,107.9 178.7,117.0 178.8,113.6 178.9,109.4 179.0,112.0 179.0,110.2 179.1,102.0 179.2,116.5 179.3,116.2 179.4,103.1 179.5,108.4 179.5,112.7 179.6,106.8 179.7,103.6 179.8,111.4 179.9,102.4 179.9,107.1 180.0,98.4 180.1,115.9 180.2,94.3 180.3,103.3 180.3,95.8 180.4,103.8 180.5,97.2 180.6,93.0 180.7,97.2 180.7,98.7 180.8,99.4 180.9,98.5 181.0,90.0 181.1,98.2 181.2,89.1 181.2,91.9 181.3,92.8 181.4,94.7 181.5,93.3 181.6,100.9 181.6,87.3 181.7,93.3 181.8,85.3 181.9,96.2 182.0,97.0 182.0,93.8 182.1,96.2 182.2,100.7 182.3,105.9 182.4,100.5 182.4,100.0 182.5,93.8 182.6,94.2 182.7,103.7 182.8,95.1 182.9,104.8 182.9,103.5 183.0,102.7 183.1,105.5 183.2,97.6 183.3,94.1 183.3,107.7 183.4,101.0 183.5,103.6 183.6,101.6 183.7,107.6 183.7,99.0 183.8,102.6 183.9,103.9 184.0,96.8 184.1,111.5 184.1,108.9 184.2,105.7 184.3,104.7 184.4,110.1 184.5,107.7 184.6,104.1 184.6,112.9 184.7,113.3 184.8,111.3 184.9,123.8 185.0,107.9 185.0,107.5 185.1,99.7 185.2,116.2 185.3,106.9 185.4,105.7 185.4,103.6 185.5,112.6 185.6,121.5 185.7,105.0 185.8,103.2 185.8,102.6 185.9,106.8 186.0,107.1 186.1,102.9 186.2,106.7 186.3,106.3 186.3,99.7 186.4,97.9 186.5,106.0 186.6,109.4 186.7,105.0 186.7,96.0 186.8,100.9 186.9,95.5 187.0,95.6 187.1,92.6 187.1,100.0 187.2,97.3 187.3,93.2 187.4,99.4 187.5,101.7 187.6,90.7 187.6,88.1 187.7,99.6 187.8,91.9 187.9,91.7 188.0,92.3 188.0,94.7 188.1,96.4 188.2,97.6 188.3,86.1 188.4,90.5 188.4,86.8 188.5,98.0 188.6,83.5 188.7,83.1 188.8,85.8 188.8,76.8 188.9,85.1 189.0,84.8 189.1,89.3 189.2,87.2 189.3,81.5 189.3,81.5 189.4,77.1 189.5,84.0 189.6,78.5 189.7,83.7 189.7,79.7 189.8,80.6 189.9,86.3 190.0,73.1 190.1,79.1 190.1,78.1 190.2,73.3 190.3,77.5 190.4,76.0 190.5,81.3 190.5,71.2 190.6,68.2 190.7,71.6 190.8,65.8 190.9,64.6 191.0,67.5 191.0,71.1 191.1,67.6 191.2,67.6 191.3,69.8 191.4,66.4 191.4,68.8 191.5,74.6 191.6,71.2 191.7,70.0 191.8,74.6 191.8,75.3 191.9,70.0 192.0,68.5 192.1,73.8 192.2,68.4 192.2,73.7 192.3,74.7 192.4,67.3 192.5,70.1 192.6,77.2 192.7,76.7 192.7,70.8 192.8,74.4 192.9,74.4 193.0,76.4 193.1,72.5 193.1,63.5 193.2,77.3 193.3,65.7 193.4,74.5 193.5,75.4 193.5,68.0 193.6,71.6 193.7,71.4 193.8,66.2 193.9,62.8 193.9,68.1 194.0,72.9 194.1,72.7 194.2,69.1 194.3,65.0 194.4,67.0 194.4,67.4 194.5,64.6 194.6,76.3 194.7,65.6 194.8,68.7 194.8,69.2 194.9,68.1 195.0,70.9 195.1,73.9 195.2,77.4 195.2,69.6 195.3,75.2 195.4,71.4 195.5,77.1 195.6,71.4 195.7,69.6 195.7,72.5 195.8,69.6 195.9,73.4 196.0,72.3 196.1,69.7 196.1,70.1 196.2,68.2 196.3,69.2 196.4,66.1 196.5,63.6 196.5,66.9 196.6,65.7 196.7,67.6 196.8,72.4 196.9,65.9 196.9,65.8 197.0,72.6 197.1,69.5 197.2,74.3 197.3,68.0 197.4,64.2 197.4,68.9 197.5,72.0 197.6,66.1 197.7,68.3 197.8,69.6 197.8,67.8 197.9,71.6 198.0,67.4 198.1,78.6 198.2,69.8 198.2,74.7 198.3,70.8 198.4,74.9 198.5,77.9 198.6,70.8 198.6,77.2 198.7,80.9 198.8,73.5 198.9,68.3 199.0,66.7 199.1,67.5 199.1,79.1 199.2,72.8 199.3,75.9 199.4,71.8 199.5,78.8 199.5,70.1 199.6,71.5 199.7,67.6 199.8,67.7 199.9,71.3 199.9,76.8 200.0,69.2 200.1,73.2 200.2,70.5 200.3,66.4 200.3,76.6 200.4,70.8 200.5,72.9 200.6,68.5 200.7,67.5 200.8,67.7 200.8,67.2 200.9,71.1 201.0,70.2 201.1,68.3 201.2,67.3 201.2,68.3 201.3,71.0 201.4,69.0 201.5,67.5 201.6,72.0 201.6,71.5 201.7,67.0 201.8,61.4 201.9,68.8 202.0,73.4 202.0,64.9 202.1,68.8 202.2,74.4 202.3,70.5 202.4,70.5 202.5,68.8 202.5,75.7 202.6,69.4 202.7,74.4 202.8,72.4 202.9,77.5 202.9,69.5 203.0,72.9 203.1,76.5 203.2,72.1 203.3,71.1 203.3,70.2 203.4,70.5 203.5,79.4 203.6,76.6 203.7,73.2 203.7,72.3 203.8,76.9 203.9,69.2 204.0,71.2 204.1,78.7 204.2,76.8 204.2,68.9 204.3,78.9 204.4,66.1 204.5,67.7 204.6,77.4 204.6,72.0 204.7,70.1 204.8,78.3 204.9,80.1 205.0,68.8 205.0,74.8 205.1,79.7 205.2,70.4 205.3,70.4 205.4,72.5 205.5,74.1 205.5,76.9 205.6,79.1 205.7,70.7 205.8,71.3 205.9,77.4 205.9,75.3 206.0,74.6 206.1,73.0 206.2,71.4 206.3,65.8 206.3,70.0 206.4,66.2 206.5,69.3 206.6,66.0 206.7,69.6 206.7,65.9 206.8,71.4 206.9,74.7 207.0,65.5 207.1,73.5 207.2,73.2 207.2,64.6 207.3,71.0 207.4,69.8 207.5,69.5 207.6,69.0 207.6,67.6 207.7,72.1 207.8,74.5 207.9,68.3 208.0,72.1 208.0,73.4 208.1,69.6 208.2,69.4 208.3,70.9 208.4,78.5 208.4,64.4 208.5,71.3 208.6,75.7 208.7,68.8 208.8,66.0 208.9,66.2 208.9,68.6 209.0,68.1 209.1,75.4 209.2,78.4 209.3,64.9 209.3,68.2 209.4,68.1 209.5,74.0 209.6,63.2 209.7,70.9 209.7,66.1 209.8,73.6 209.9,76.1 210.0,68.2 210.1,67.3 210.1,72.9 210.2,61.0 210.3,71.0 210.4,64.6 210.5,65.5 210.6,74.2 210.6,67.8 210.7,72.2 210.8,68.6 210.9,69.7 211.0,65.9 211.0,71.6 211.1,67.2 211.2,66.4 211.3,65.0 211.4,71.4 211.4,66.2 211.5,65.9 211.6,64.7 211.7,76.1 211.8,74.6 211.8,74.7 211.9,69.9 212.0,72.4 212.1,69.7 212.2,69.1 212.3,64.8 212.3,65.4 212.4,70.3 212.5,69.3 212.6,74.8 212.7,71.1 212.7,69.9 212.8,71.1 212.9,62.9 213.0,78.0 213.1,71.7 213.1,69.8 213.2,66.9 213.3,68.6 213.4,75.5 213.5,73.0 213.5,68.1 213.6,69.3 213.7,65.9 213.8,67.7 213.9,70.2 214.0,70.7 214.0,67.0 214.1,71.7 214.2,70.2 214.3,65.4 214.4,70.6 214.4,67.6 214.5,77.7 214.6,71.7 214.7,68.9 214.8,67.0 214.8,69.2 214.9,68.3 215.0,71.2 215.1,68.4 215.2,65.4 215.3,71.0 215.3,72.3 215.4,64.1 215.5,61.3 215.6,62.5 215.7,69.3 215.7,67.9 215.8,68.4 215.9,65.2 216.0,64.4 216.1,69.6 216.1,65.3 216.2,66.2 216.3,62.8 216.4,68.5 216.5,67.1 216.5,74.3 216.6,70.1 216.7,66.8 216.8,73.4 216.9,72.2 217.0,69.8 217.0,71.0 217.1,73.1 217.2,72.0 217.3,68.5 217.4,65.7 217.4,67.4 217.5,69.5 217.6,66.1 217.7,75.7 217.8,66.9 217.8,70.4 217.9,71.0 218.0,72.8 218.1,70.7 218.2,69.2 218.2,72.9 218.3,73.9 218.4,69.3 218.5,65.7 218.6,67.0 218.7,67.2 218.7,73.1 218.8,72.6 218.9,72.4 219.0,64.8 219.1,72.7 219.1,67.3 219.2,68.6 219.3,74.1 219.4,69.8 219.5,66.7 219.5,68.9 219.6,70.3 219.7,67.4 219.8,75.6 219.9,72.6 219.9,70.6 220.0,68.2 220.1,66.3 220.2,72.3 220.3,70.0 220.4,65.9 220.4,66.0 220.5,71.7 220.6,72.6 220.7,70.6 220.8,68.0 220.8,77.1 220.9,64.3 221.0,69.6 221.1,65.4 221.2,63.8 221.2,70.0 221.3,73.4 221.4,74.1 221.5,62.9 221.6,70.5 221.6,68.4 221.7,72.7 221.8,69.7 221.9,67.0 222.0,66.1 222.1,67.8 222.1,71.0 222.2,68.3 222.3,68.5 222.4,63.6 222.5,69.7 222.5,72.0 222.6,66.6 222.7,71.2 222.8,64.1 222.9,64.3 222.9,70.2 223.0,70.5 223.1,67.2 223.2,75.0 223.3,66.3 223.3,65.4 223.4,69.1 223.5,69.5 223.6,71.9 223.7,72.6 223.8,68.3 223.8,68.4 223.9,71.2 224.0,65.8 224.1,70.2 224.2,65.6 224.2,72.0 224.3,67.6 224.4,66.6 224.5,65.4 224.6,69.8 224.6,68.8 224.7,68.7 224.8,65.6 224.9,72.5 225.0,70.5 225.1,75.9 225.1,64.7 225.2,69.7 225.3,71.7 225.4,71.1 225.5,68.2 225.5,71.9 225.6,70.0 225.7,75.7 225.8,75.1 225.9,67.1 225.9,70.7 226.0,76.2 226.1,70.5 226.2,68.2 226.3,65.6 226.3,73.3 226.4,70.1 226.5,73.3 226.6,76.2 226.7,73.9 226.8,70.8 226.8,72.4 226.9,71.5 227.0,72.4 227.1,70.1 227.2,63.4 227.2,69.0 227.3,67.6 227.4,64.5 227.5,75.7 227.6,75.3 227.6,74.0 227.7,75.7 227.8,67.9 227.9,75.5 228.0,73.8 228.0,68.5 228.1,74.5 228.2,70.8 228.3,69.0 228.4,73.9 228.5,67.7 228.5,69.4 228.6,70.1 228.7,71.9 228.8,74.6 228.9,64.8 228.9,73.0 229.0,71.9 229.1,71.3 229.2,71.3 229.3,68.8 229.3,73.1 229.4,70.5 229.5,67.2 229.6,73.8 229.7,70.4 229.7,74.4 229.8,70.7 229.9,69.5 230.0,73.1 230.1,64.1 230.2,75.1 230.2,66.6 230.3,71.0 230.4,69.5 230.5,73.9 230.6,68.6 230.6,69.2 230.7,76.0 230.8,71.0 230.9,71.2 231.0,67.5 231.0,74.2 231.1,67.5 231.2,68.7 231.3,64.6 231.4,73.9 231.4,66.1 231.5,78.1 231.6,73.3 231.7,70.0 231.8,72.6 231.9,66.2 231.9,70.2 232.0,68.2 232.1,68.6 232.2,66.1 232.3,70.7 232.3,64.9 232.4,68.9 232.5,66.8 232.6,66.2 232.7,66.5 232.7,70.8 232.8,70.0 232.9,70.1 233.0,67.3 233.1,67.4 233.2,75.2 233.2,74.9 233.3,65.5 233.4,71.8 233.5,66.5 233.6,70.7 233.6,66.8 233.7,67.3 233.8,71.7 233.9,64.5 234.0,64.6 234.0,66.8 234.1,74.8 234.2,71.4 234.3,67.5 234.4,66.1 234.4,72.0 234.5,77.9 234.6,72.8 234.7,67.3 234.8,72.1 234.9,64.7 234.9,70.5 235.0,64.0 235.1,73.1 235.2,69.4 235.3,66.7 235.3,72.1 235.4,57.8 235.5,65.1 235.6,70.5 235.7,67.5 235.7,70.2 235.8,69.7 235.9,64.7 236.0,68.4 236.1,63.4 236.1,69.1 236.2,65.9 236.3,66.8 236.4,64.9 236.5,69.8 236.6,67.2 236.6,67.3 236.7,73.4 236.8,65.9 236.9,67.6 237.0,71.2 237.0,66.3 237.1,65.5 237.2,70.1 237.3,67.1 237.4,64.1 237.4,67.6 237.5,68.6 237.6,69.5 237.7,72.1 237.8,65.6 237.8,69.6 237.9,72.2 238.0,78.8 238.1,69.3 238.2,71.5 238.3,70.1 238.3,69.4 238.4,70.2 238.5,68.1 238.6,66.2 238.7,70.8 238.7,68.3 238.8,71.0 238.9,66.4 239.0,69.7 239.1,69.5 239.1,67.5 239.2,68.2 239.3,69.9 239.4,66.9 239.5,65.2 239.5,67.5 239.6,69.0 239.7,63.1 239.8,66.6 239.9,69.6 240.0,69.9 240.0,67.6 240.1,63.2 240.2,63.1 240.3,65.0 240.4,71.4 240.4,68.9 240.5,63.5 240.6,65.3 240.7,67.4 240.8,65.7 240.8,69.4 240.9,67.4 241.0,67.1 241.1,71.4 241.2,65.5 241.2,70.1 241.3,66.7 241.4,72.1 241.5,64.2 241.6,61.8 241.7,70.9 241.7,67.0 241.8,72.4 241.9,63.4 242.0,74.1 242.1,71.1 242.1,71.9 242.2,64.9 242.3,74.2 242.4,69.9 242.5,67.8 242.5,70.6 242.6,73.4 242.7,71.2 242.8,74.1 242.9,70.5 243.0,71.0 243.0,72.4 243.1,70.2 243.2,74.8 243.3,74.5 243.4,72.8 243.4,71.9 243.5,75.2 243.6,71.9 243.7,71.8 243.8,73.5 243.8,74.2 243.9,75.2 244.0,69.3 244.1,76.0 244.2,68.2 244.2,74.5 244.3,78.3 244.4,71.2 244.5,72.9 244.6,74.8 244.7,73.7 244.7,74.0 244.8,71.0 244.9,77.0 245.0,76.4 245.1,69.1 245.1,71.2 245.2,73.5 245.3,67.9 245.4,74.3 245.5,65.7 245.5,74.8 245.6,71.3 245.7,71.3 245.8,67.0 245.9,69.5 245.9,69.7 246.0,68.9 246.1,67.6 246.2,67.0 246.3,72.0 246.4,71.4 246.4,68.6 246.5,74.2 246.6,74.2 246.7,67.5 246.8,66.9 246.8,69.2 246.9,70.4 247.0,70.7 247.1,67.1 247.2,62.1 247.2,69.0 247.3,66.5 247.4,68.3 247.5,69.0 247.6,65.7 247.6,73.6 247.7,70.5 247.8,67.8 247.9,68.7 248.0,74.4 248.1,63.8 248.1,61.7 248.2,71.8 248.3,66.9 248.4,68.6 248.5,70.0 248.5,74.9 248.6,68.5 248.7,69.9 248.8,74.3 248.9,68.3 248.9,73.8 249.0,68.4 249.1,71.8 249.2,73.8 249.3,65.8 249.3,68.1 249.4,70.6 249.5,75.9 249.6,74.3 249.7,71.3 249.8,74.9 249.8,75.3 249.9,71.7 250.0,72.2 250.1,77.4 250.2,70.4 250.2,72.9 250.3,66.2 250.4,73.0 250.5,73.1 250.6,74.9 250.6,70.3 250.7,73.3 250.8,71.6 250.9,68.2 251.0,66.8 251.0,70.2 251.1,71.6 251.2,70.9 251.3,73.5 251.4,65.3 251.5,67.4 251.5,73.4 251.6,72.8 251.7,70.8 251.8,63.2 251.9,72.8 251.9,68.4 252.0,67.5 252.1,71.5 252.2,69.0 252.3,63.0 252.3,64.2 252.4,72.8 252.5,66.8 252.6,68.3 252.7,64.7 252.8,72.4 252.8,68.3 252.9,66.4 253.0,72.4 253.1,68.9 253.2,69.0 253.2,67.4 253.3,70.7 253.4,60.2 253.5,66.4 253.6,71.9 253.6,70.9 253.7,71.7 253.8,67.5 253.9,67.5 254.0,65.1 254.0,66.2 254.1,69.3 254.2,68.4 254.3,64.9 254.4,64.3 254.5,70.9 254.5,68.4 254.6,64.1 254.7,68.9 254.8,66.6 254.9,70.0 254.9,63.6 255.0,68.5 255.1,69.2 255.2,66.4 255.3,68.6 255.3,67.3 255.4,64.4 255.5,68.6 255.6,68.5 255.7,64.0 255.7,69.5 255.8,69.9 255.9,66.3 256.0,73.5 256.1,65.7 256.2,70.2 256.2,71.9 256.3,71.4 256.4,72.4 256.5,67.8 256.6,72.2 256.6,77.2 256.7,72.7 256.8,68.5 256.9,71.6 257.0,73.1 257.0,74.6 257.1,67.6 257.2,73.3 257.3,69.7 257.4,78.3 257.4,72.9 257.5,75.0 257.6,73.1 257.7,71.8 257.8,73.8 257.9,71.2 257.9,68.9 258.0,72.3 258.1,76.5 258.2,69.6 258.3,75.1 258.3,72.9 258.4,69.5 258.5,72.7 258.6,73.7 258.7,74.0 258.7,77.4 258.8,75.0 258.9,77.8 259.0,72.5 259.1,75.7 259.1,74.4 259.2,71.1 259.3,72.0 259.4,73.8 259.5,72.2 259.6,72.7 259.6,75.2 259.7,73.1 259.8,70.6 259.9,76.2 260.0,74.4 260.0,80.6 260.1,78.0 260.2,74.7 260.3,76.4 260.4,74.0 260.4,75.6 260.5,75.1 260.6,74.4 260.7,76.2 260.8,71.6 260.9,76.2 260.9,73.4 261.0,69.1 261.1,73.0 261.2,75.5 261.3,75.2 261.3,71.5 261.4,71.2 261.5,76.1 261.6,75.9 261.7,66.8 261.7,77.0 261.8,68.8 261.9,73.6 262.0,76.8 262.1,75.6 262.1,76.2 262.2,76.4 262.3,74.1 262.4,81.8 262.5,72.2 262.6,74.7 262.6,79.5 262.7,82.6 262.8,71.2 262.9,83.5 263.0,76.9 263.0,76.3 263.1,83.0 263.2,74.5 263.3,84.8 263.4,85.9 263.4,84.1 263.5,82.7 263.6,74.5 263.7,84.3 263.8,72.7 263.8,79.1 263.9,76.0 264.0,77.9 264.1,82.7 264.2,81.0 264.3,78.2 264.3,78.4 264.4,72.6 264.5,83.7 264.6,85.6 264.7,85.3 264.7,85.9 264.8,81.8 264.9,80.1 265.0,74.1 265.1,81.4 265.1,84.5 265.2,81.9 265.3,74.9 265.4,85.0 265.5,86.7 265.5,81.6 265.6,80.9 265.7,81.1 265.8,81.6 265.9,80.3 266.0,77.1 266.0,77.0 266.1,80.3 266.2,82.8 266.3,87.5 266.4,86.6 266.4,89.5 266.5,86.1 266.6,83.1 266.7,80.1 266.8,88.1 266.8,77.6 266.9,83.7 267.0,90.3 267.1,81.2 267.2,86.2 267.2,85.8 267.3,82.1 267.4,86.0 267.5,80.9 267.6,80.0 267.7,75.9 267.7,83.7 267.8,84.4 267.9,69.1 268.0,81.3 268.1,73.4 268.1,78.8 268.2,79.4 268.3,69.5 268.4,74.2 268.5,79.0 268.5,78.2 268.6,74.4 268.7,77.6 268.8,75.0 268.9,78.2 268.9,77.5 269.0,76.0 269.1,77.6 269.2,82.0 269.3,76.6 269.4,80.6 269.4,78.4 269.5,78.6 269.6,80.8 269.7,70.2 269.8,82.3 269.8,72.7 269.9,81.2 270.0,78.5 270.1,73.7 270.2,76.6 270.2,75.9 270.3,70.0 270.4,74.1 270.5,72.0 270.6,75.3 270.7,75.5 270.7,75.4 270.8,69.9 270.9,85.4 271.0,73.4 271.1,72.7 271.1,79.6 271.2,73.0 271.3,74.2 271.4,76.2 271.5,72.2 271.5,76.2 271.6,67.7 271.7,76.1 271.8,75.6 271.9,73.1 271.9,71.6 272.0,69.4 272.1,70.3 272.2,70.9 272.3,78.9 272.4,72.3 272.4,71.1 272.5,67.9 272.6,73.8 272.7,69.3 272.8,71.5 272.8,72.5 272.9,69.9 273.0,70.3 273.1,69.0 273.2,69.3 273.2,66.1 273.3,66.1 273.4,71.5 273.5,63.4 273.6,63.6 273.6,64.9 273.7,66.8 273.8,61.3 273.9,68.2 274.0,66.2 274.1,69.8 274.1,66.3 274.2,63.3 274.3,68.3 274.4,64.7 274.5,70.2 274.5,65.9 274.6,62.7 274.7,68.8 274.8,68.6 274.9,65.2 274.9,65.8 275.0,69.4 275.1,68.8 275.2,69.7 275.3,67.1 275.3,68.3 275.4,69.6 275.5,72.9 275.6,75.4 275.7,76.7 275.8,69.8 275.8,61.9 275.9,69.4 276.0,68.5 276.1,71.5 276.2,70.0 276.2,74.4 276.3,70.9 276.4,74.8 276.5,69.3 276.6,74.8 276.6,67.8 276.7,70.8 276.8,68.7 276.9,69.4 277.0,74.9 277.0,74.4 277.1,67.2 277.2,69.1 277.3,67.8 277.4,63.9 277.5,68.1 277.5,65.3 277.6,70.8 277.7,72.3 277.8,69.8 277.9,70.1 277.9,69.6 278.0,68.2 278.1,68.2 278.2,67.0 278.3,72.2 278.3,73.1 278.4,69.8 278.5,68.9 278.6,70.5 278.7,70.7 278.7,65.9 278.8,70.2 278.9,75.0 279.0,73.4 279.1,66.9 279.2,69.4 279.2,76.3 279.3,74.8 279.4,71.0 279.5,73.3 279.6,70.8 279.6,75.6 279.7,72.4 279.8,71.4 279.9,70.4 280.0,72.0 280.0,72.4 280.1,72.5 280.2,70.5 280.3,70.0 280.4,74.2 280.5,74.3 280.5,71.7 280.6,75.3 280.7,72.9 280.8,64.9 280.9,70.7 280.9,73.8 281.0,74.1 281.1,74.8 281.2,76.1 281.3,73.9 281.3,71.0 281.4,70.5 281.5,71.0 281.6,79.5 281.7,72.8 281.7,75.9 281.8,73.0 281.9,73.6 282.0,74.2 282.1,76.8 282.2,73.1 282.2,72.6 282.3,70.8 282.4,71.9 282.5,74.5 282.6,67.0 282.6,66.3 282.7,72.0 282.8,74.9 282.9,63.7 283.0,65.7 283.0,68.3 283.1,75.3 283.2,65.3 283.3,67.1 283.4,72.4 283.4,77.9 283.5,66.2 283.6,72.5 283.7,70.3 283.8,68.7 283.9,67.5 283.9,71.7 284.0,69.1 284.1,70.2 284.2,71.7 284.3,69.6 284.3,72.0 284.4,72.1 284.5,71.9 284.6,76.2 284.7,73.5 284.7,74.9 284.8,69.4 284.9,76.2 285.0,65.6 285.1,71.0 285.1,71.6 285.2,75.4 285.3,73.1 285.4,66.6 285.5,71.5 285.6,76.7 285.6,69.3 285.7,67.0 285.8,73.6 285.9,72.5 286.0,67.8 286.0,80.1 286.1,69.2 286.2,75.1 286.3,72.0 286.4,69.7 286.4,71.1 286.5,72.1 286.6,69.9 286.7,75.9 286.8,73.5 286.8,76.4 286.9,73.2 287.0,75.8 287.1,77.3 287.2,77.3 287.3,71.7 287.3,80.1 287.4,79.0 287.5,80.7 287.6,79.0 287.7,81.1 287.7,79.6 287.8,79.3 287.9,71.1 288.0,75.6 288.1,78.3 288.1,81.6 288.2,77.9 288.3,71.3 288.4,76.6 288.5,72.6 288.5,73.9 288.6,74.6 288.7,75.3 288.8,74.7 288.9,75.1 289.0,75.9 289.0,73.4 289.1,70.1 289.2,71.3 289.3,77.5 289.4,70.8 289.4,71.3 289.5,74.1 289.6,69.7 289.7,70.3 289.8,66.5 289.8,78.7 289.9,70.0 290.0,75.6 290.1,71.9 290.2,70.8 290.3,67.9 290.3,71.9 290.4,75.5 290.5,71.0 290.6,72.3 290.7,70.8 290.7,83.4 290.8,75.1 290.9,85.2 291.0,75.1 291.1,76.4 291.1,79.3 291.2,75.3 291.3,76.2 291.4,73.4 291.5,72.2 291.5,76.7 291.6,77.7 291.7,79.7 291.8,72.7 291.9,77.2 292.0,77.7 292.0,74.8 292.1,79.1 292.2,77.9 292.3,77.1 292.4,73.7 292.4,81.1 292.5,81.8 292.6,79.9 292.7,80.3 292.8,80.8 292.8,75.2 292.9,80.1 293.0,71.4 293.1,74.8 293.2,78.5 293.2,79.2 293.3,76.2 293.4,69.6 293.5,77.4 293.6,83.0 293.7,79.2 293.7,65.9 293.8,83.3 293.9,80.9 294.0,79.6 294.1,82.1 294.1,74.4 294.2,82.7 294.3,80.5 294.4,78.2 294.5,78.1 294.5,81.7 294.6,80.4 294.7,81.7 294.8,95.7 294.9,79.2 294.9,81.8 295.0,83.8 295.1,80.1 295.2,91.6 295.3,79.7 295.4,87.8 295.4,89.9 295.5,90.7 295.6,85.3 295.7,89.9 295.8,84.6 295.8,93.6 295.9,83.1 296.0,89.0 296.1,80.7 296.2,86.5 296.2,89.9 296.3,89.1 296.4,95.7 296.5,88.8 296.6,92.8 296.6,90.2 296.7,78.6 296.8,91.5 296.9,84.7 297.0,84.7 297.1,87.9 297.1,87.1 297.2,89.3 297.3,79.1 297.4,84.2 297.5,82.3 297.5,93.9 297.6,87.4 297.7,91.5 297.8,82.6 297.9,88.5 297.9,90.8 298.0,87.5 298.1,87.5 298.2,88.8 298.3,81.9 298.4,84.1 298.4,87.0 298.5,85.0 298.6,88.6 298.7,92.6 298.8,86.5 298.8,95.8 298.9,81.9 299.0,87.2 299.1,92.9 299.2,84.2 299.2,73.4 299.3,86.9 299.4,84.4 299.5,81.6 299.6,88.3 299.6,76.9 299.7,84.6 299.8,81.5 299.9,79.3 300.0,83.1 300.1,79.5 300.1,88.8 300.2,87.9 300.3,81.1 300.4,84.5 300.5,83.9 300.5,80.9 300.6,77.9 300.7,74.5 300.8,71.5 300.9,72.9 300.9,74.2 301.0,80.9 301.1,80.4 301.2,81.2 301.3,77.2 301.3,74.0 301.4,66.4 301.5,77.3 301.6,71.4 301.7,76.0 301.8,73.8 301.8,80.6 301.9,63.0 302.0,71.8 302.1,72.6 302.2,72.0 302.2,78.0 302.3,68.3 302.4,70.1 302.5,67.7 302.6,64.6 302.6,67.9 302.7,73.0 302.8,72.1 302.9,76.8 303.0,61.0 303.0,76.4 303.1,65.5 303.2,74.2 303.3,69.3 303.4,70.4 303.5,74.3 303.5,66.3 303.6,66.9 303.7,69.2 303.8,66.0 303.9,62.1 303.9,73.8 304.0,70.9 304.1,74.2 304.2,71.4 304.3,69.1 304.3,68.7 304.4,66.8 304.5,59.9 304.6,62.6 304.7,67.4 304.7,63.1 304.8,67.3 304.9,60.4 305.0,65.9 305.1,64.3 305.2,69.2 305.2,65.2 305.3,54.6 305.4,73.2 305.5,63.0 305.6,65.2 305.6,64.9 305.7,57.5 305.8,66.0 305.9,69.4 306.0,64.1 306.0,64.0 306.1,61.0 306.2,58.1 306.3,61.1 306.4,60.7 306.4,67.1 306.5,68.0 306.6,63.3 306.7,62.1 306.8,60.8 306.9,61.8 306.9,65.9 307.0,66.0 307.1,57.6 307.2,58.4 307.3,69.1 307.3,58.6 307.4,58.4 307.5,62.9 307.6,64.1 307.7,54.9 307.7,56.0 307.8,63.1 307.9,57.3 308.0,51.8 308.1,58.4 308.2,49.5 308.2,62.1 308.3,51.1 308.4,57.5 308.5,60.8 308.6,58.3 308.6,53.7 308.7,63.0 308.8,53.3 308.9,55.4 309.0,68.4 309.0,57.7 309.1,54.2 309.2,62.5 309.3,70.7 309.4,56.5 309.4,55.7 309.5,53.8 309.6,64.3 309.7,64.7 309.8,62.6 309.9,54.9 309.9,64.0 310.0,59.6 310.1,66.6 310.2,53.2 310.3,59.1 310.3,58.2 310.4,44.2 310.5,53.7 310.6,55.3 310.7,57.3 310.7,57.8 310.8,63.0 310.9,52.6 311.0,57.0 311.1,56.6 311.1,62.1 311.2,49.9 311.3,54.2 311.4,53.8 311.5,56.3 311.6,51.6 311.6,49.9 311.7,50.9 311.8,57.6 311.9,60.2 312.0,53.2 312.0,50.4 312.1,62.9 312.2,56.2" fill="none" stroke="#000" stroke-width="0.6" stroke-linejoin="round"/>
<path d="M69.3,204.3 69.4,198.4 69.5,188.8 69.5,185.0 69.6,179.9 69.7,169.3 69.8,161.1 69.9,159.7 69.9,160.9 70.0,163.5 70.1,161.2 70.2,159.5 70.3,156.6 70.4,155.5 70.4,155.5 70.5,154.2 70.6,163.4 70.7,157.3 70.8,150.8 70.8,155.6 70.9,153.6 71.0,155.2 71.1,152.4 71.2,153.7 71.2,158.2 71.3,148.2 71.4,147.2 71.5,151.6 71.6,155.5 71.6,147.7 71.7,150.6 71.8,140.1 71.9,144.5 72.0,149.4 72.1,144.4 72.1,132.0 72.2,140.1 72.3,141.9 72.4,138.3 72.5,141.5 72.5,130.5 72.6,140.5 72.7,129.4 72.8,126.0 72.9,125.3 72.9,129.6 73.0,130.6 73.1,127.9 73.2,126.4 73.3,124.4 73.3,127.1 73.4,125.5 73.5,129.0 73.6,130.6 73.7,120.5 73.8,123.9 73.8,122.2 73.9,117.1 74.0,129.2 74.1,128.5 74.2,127.0 74.2,120.3 74.3,131.9 74.4,127.7 74.5,119.7 74.6,131.5 74.6,119.4 74.7,114.3 74.8,120.0 74.9,126.1 75.0,123.6 75.1,126.0 75.1,120.9 75.2,115.2 75.3,114.5 75.4,131.0 75.5,123.1 75.5,117.1 75.6,120.4 75.7,131.0 75.8,117.0 75.9,115.0 75.9,117.6 76.0,117.7 76.1,112.3 76.2,124.3 76.3,118.2 76.3,114.3 76.4,98.5 76.5,119.7 76.6,111.7 76.7,106.6 76.8,111.4 76.8,110.7 76.9,108.5 77.0,124.1 77.1,112.0 77.2,116.8 77.2,106.4 77.3,111.9 77.4,112.5 77.5,112.7 77.6,119.9 77.6,108.3 77.7,121.1 77.8,113.4 77.9,113.9 78.0,106.5 78.0,111.3 78.1,115.4 78.2,107.1 78.3,101.4 78.4,115.4 78.5,102.6 78.5,113.1 78.6,110.7 78.7,110.4 78.8,114.6 78.9,100.6 78.9,104.9 79.0,105.7 79.1,116.0 79.2,105.5 79.3,113.6 79.3,101.8 79.4,118.2 79.5,105.2 79.6,117.0 79.7,116.5 79.7,107.6 79.8,104.1 79.9,102.7 80.0,110.3 80.1,110.9 80.2,103.2 80.2,113.7 80.3,113.4 80.4,104.8 80.5,105.0 80.6,106.8 80.6,100.8 80.7,115.5 80.8,104.6 80.9,95.8 81.0,109.1 81.0,113.4 81.1,100.6 81.2,104.0 81.3,100.6 81.4,103.2 81.4,109.0 81.5,107.8 81.6,112.6 81.7,93.3 81.8,111.3 81.9,108.3 81.9,109.9 82.0,104.2 82.1,99.2 82.2,108.8 82.3,103.9 82.3,102.3 82.4,94.8 82.5,106.7 82.6,104.0 82.7,96.7 82.7,111.9 82.8,104.3 82.9,103.4 83.0,109.0 83.1,104.0 83.1,101.5 83.2,96.5 83.3,97.2 83.4,104.1 83.5,105.8 83.6,96.2 83.6,108.2 83.7,103.3 83.8,106.2 83.9,108.5 84.0,99.5 84.0,107.9 84.1,104.2 84.2,95.2 84.3,93.9 84.4,108.4 84.4,106.6 84.5,106.5 84.6,109.1 84.7,96.5 84.8,98.8 84.9,101.0 84.9,108.5 85.0,100.4 85.1,103.4 85.2,104.8 85.3,102.3 85.3,98.9 85.4,106.1 85.5,108.1 85.6,111.5 85.7,100.2 85.7,105.0 85.8,119.2 85.9,107.3 86.0,104.4 86.1,116.0 86.1,115.7 86.2,103.8 86.3,110.2 86.4,115.8 86.5,108.7 86.6,107.1 86.6,113.1 86.7,112.2 86.8,108.1 86.9,108.4 87.0,99.6 87.0,101.5 87.1,105.2 87.2,110.5 87.3,110.1 87.4,117.5 87.4,107.3 87.5,108.8 87.6,109.9 87.7,103.3 87.8,100.8 87.8,115.1 87.9,104.6 88.0,104.2 88.1,109.1 88.2,109.3 88.3,97.8 88.3,102.2 88.4,95.5 88.5,108.7 88.6,109.9 88.7,106.0 88.7,100.5 88.8,98.3 88.9,95.1 89.0,107.1 89.1,110.8 89.1,99.4 89.2,99.8 89.3,101.3 89.4,97.3 89.5,107.8 89.5,111.6 89.6,94.5 89.7,102.6 89.8,105.3 89.9,100.1 90.0,93.3 90.0,102.6 90.1,95.1 90.2,102.5 90.3,93.7 90.4,101.5 90.4,96.4 90.5,101.8 90.6,98.7 90.7,100.2 90.8,103.0 90.8,100.4 90.9,97.6 91.0,101.4 91.1,103.4 91.2,99.1 91.2,94.5 91.3,101.9 91.4,106.4 91.5,106.1 91.6,102.2 91.7,94.9 91.7,107.7 91.8,97.8 91.9,104.2 92.0,106.6 92.1,106.0 92.1,98.2 92.2,105.8 92.3,97.2 92.4,94.0 92.5,107.4 92.5,109.3 92.6,111.4 92.7,100.6 92.8,107.3 92.9,106.1 93.0,106.9 93.0,97.1 93.1,100.6 93.2,101.2 93.3,112.5 93.4,108.8 93.4,105.5 93.5,106.3 93.6,104.8 93.7,99.3 93.8,104.1 93.8,104.1 93.9,108.9 94.0,110.7 94.1,111.4 94.2,110.1 94.2,117.7 94.3,113.0 94.4,110.5 94.5,113.2 94.6,111.4 94.7,119.9 94.7,114.0 94.8,111.5 94.9,106.2 95.0,111.0 95.1,112.5 95.1,114.0 95.2,111.0 95.3,113.3 95.4,107.3 95.5,113.0 95.5,107.1 95.6,112.9 95.7,116.5 95.8,116.1 95.9,104.9 95.9,111.6 96.0,111.0 96.1,96.7 96.2,113.8 96.3,108.4 96.4,114.4 96.4,110.9 96.5,105.4 96.6,109.0 96.7,98.6 96.8,111.6 96.8,110.2 96.9,113.2 97.0,106.3 97.1,109.7 97.2,106.4 97.2,109.1 97.3,102.9 97.4,107.7 97.5,103.9 97.6,104.6 97.6,107.3 97.7,103.6 97.8,103.5 97.9,100.9 98.0,112.4 98.1,96.3 98.1,102.6 98.2,101.2 98.3,100.8 98.4,109.6 98.5,99.9 98.5,102.0 98.6,105.6 98.7,99.6 98.8,104.6 98.9,108.0 98.9,99.2 99.0,99.6 99.1,101.5 99.2,103.5 99.3,95.4 99.3,105.2 99.4,101.3 99.5,103.0 99.6,102.9 99.7,99.6 99.8,106.1 99.8,99.2 99.9,100.1 100.0,102.9 100.1,104.7 100.2,107.7 100.2,101.1 100.3,93.9 100.4,104.8 100.5,106.5 100.6,105.6 100.6,101.7 100.7,101.0 100.8,102.1 100.9,104.3 101.0,110.1 101.0,100.2 101.1,106.9 101.2,103.9 101.3,105.6 101.4,106.3 101.5,102.9 101.5,106.1 101.6,97.4 101.7,100.3 101.8,102.9 101.9,108.3 101.9,103.3 102.0,105.3 102.1,103.5 102.2,106.3 102.3,111.1 102.3,110.7 102.4,106.4 102.5,101.9 102.6,106.0 102.7,108.2 102.8,106.1 102.8,102.0 102.9,107.1 103.0,107.1 103.1,104.2 103.2,101.6 103.2,110.0 103.3,106.2 103.4,104.5 103.5,106.4 103.6,102.1 103.6,100.5 103.7,107.8 103.8,93.4 103.9,102.5 104.0,97.0 104.0,100.7 104.1,112.4 104.2,109.8 104.3,102.7 104.4,101.4 104.5,100.8 104.5,112.4 104.6,106.2 104.7,101.0 104.8,97.2 104.9,100.4 104.9,109.0 105.0,105.1 105.1,103.9 105.2,104.2 105.3,97.5 105.3,96.8 105.4,96.2 105.5,107.0 105.6,107.8 105.7,108.9 105.7,103.3 105.8,101.7 105.9,108.5 106.0,101.1 106.1,101.3 106.2,103.5 106.2,100.6 106.3,107.3 106.4,107.8 106.5,96.3 106.6,104.7 106.6,98.5 106.7,106.0 106.8,113.3 106.9,100.4 107.0,108.4 107.0,106.6 107.1,98.5 107.2,109.3 107.3,103.4 107.4,96.7 107.4,92.6 107.5,106.1 107.6,100.7 107.7,104.4 107.8,95.6 107.9,103.4 107.9,95.0 108.0,106.7 108.1,97.4 108.2,94.2 108.3,97.9 108.3,100.9 108.4,103.3 108.5,107.1 108.6,96.8 108.7,96.9 108.7,99.7 108.8,107.1 108.9,105.5 109.0,102.0 109.1,93.5 109.1,92.7 109.2,96.7 109.3,107.5 109.4,110.3 109.5,100.6 109.6,98.4 109.6,92.8 109.7,104.2 109.8,94.9 109.9,101.4 110.0,97.1 110.0,102.3 110.1,102.0 110.2,102.5 110.3,100.8 110.4,104.5 110.4,104.1 110.5,99.3 110.6,106.7 110.7,103.0 110.8,104.5 110.8,103.4 110.9,97.1 111.0,106.5 111.1,96.0 111.2,112.5 111.3,108.5 111.3,101.4 111.4,116.1 111.5,106.3 111.6,103.3 111.7,111.9 111.7,98.5 111.8,96.6 111.9,104.6 112.0,104.6 112.1,100.6 112.1,99.4 112.2,105.6 112.3,105.1 112.4,93.4 112.5,101.3 112.6,102.8 112.6,105.8 112.7,115.1 112.8,102.0 112.9,100.9 113.0,101.4 113.0,101.9 113.1,97.2 113.2,99.7 113.3,100.2 113.4,102.0 113.4,102.8 113.5,100.8 113.6,104.6 113.7,96.2 113.8,100.2 113.8,101.5 113.9,92.2 114.0,97.9 114.1,106.9 114.2,105.6 114.3,102.1 114.3,104.1 114.4,95.9 114.5,98.6 114.6,98.1 114.7,97.5 114.7,98.5 114.8,111.3 114.9,109.7 115.0,108.4 115.1,101.6 115.1,103.3 115.2,96.1 115.3,98.9 115.4,98.8 115.5,108.3 115.5,105.7 115.6,100.8 115.7,110.4 115.8,108.4 115.9,96.9 116.0,95.2 116.0,113.1 116.1,105.0 116.2,110.2 116.3,113.6 116.4,108.1 116.4,101.6 116.5,101.0 116.6,102.6 116.7,97.6 116.8,107.4 116.8,104.6 116.9,96.4 117.0,99.7 117.1,106.8 117.2,108.6 117.2,102.6 117.3,101.8 117.4,101.0 117.5,103.1 117.6,101.7 117.7,104.9 117.7,102.2 117.8,104.8 117.9,107.5 118.0,101.0 118.1,105.2 118.1,105.1 118.2,98.7 118.3,99.7 118.4,92.5 118.5,93.3 118.5,102.8 118.6,102.4 118.7,104.2 118.8,107.5 118.9,94.0 118.9,98.1 119.0,104.0 119.1,93.1 119.2,98.4 119.3,98.1 119.4,103.9 119.4,113.1 119.5,99.2 119.6,106.0 119.7,109.6 119.8,100.4 119.8,100.4 119.9,107.8 120.0,103.8 120.1,101.5 120.2,103.9 120.2,106.9 120.3,97.4 120.4,105.9 120.5,99.3 120.6,105.1 120.6,106.3 120.7,99.1 120.8,108.1 120.9,103.5 121.0,102.8 121.1,100.0 121.1,105.6 121.2,112.6 121.3,113.3 121.4,113.7 121.5,110.8 121.5,106.1 121.6,107.0 121.7,107.8 121.8,106.1 121.9,109.1 121.9,106.0 122.0,105.4 122.1,96.1 122.2,107.4 122.3,107.5 122.4,108.0 122.4,110.6 122.5,103.1 122.6,113.1 122.7,97.8 122.8,114.7 122.8,107.6 122.9,102.7 123.0,104.8 123.1,103.7 123.2,114.1 123.2,102.7 123.3,103.9 123.4,99.0 123.5,106.0 123.6,105.2 123.6,112.8 123.7,102.3 123.8,109.5 123.9,102.4 124.0,95.5 124.1,107.6 124.1,102.0 124.2,105.3 124.3,105.4 124.4,111.3 124.5,104.2 124.5,100.6 124.6,96.0 124.7,94.6 124.8,102.5 124.9,97.5 124.9,102.3 125.0,106.1 125.1,104.2 125.2,98.2 125.3,99.2 125.3,110.7 125.4,100.6 125.5,104.9 125.6,100.9 125.7,103.5 125.8,110.6 125.8,111.5 125.9,106.0 126.0,106.0 126.1,105.9 126.2,112.3 126.2,100.7 126.3,118.6 126.4,101.6 126.5,108.9 126.6,110.7 126.6,100.5 126.7,109.1 126.8,108.4 126.9,111.2 127.0,106.3 127.0,106.3 127.1,101.9 127.2,103.4 127.3,108.8 127.4,111.8 127.5,110.7 127.5,112.2 127.6,110.6 127.7,111.0 127.8,106.6 127.9,107.3 127.9,111.0 128.0,106.1 128.1,117.4 128.2,107.3 128.3,117.4 128.3,108.2 128.4,103.4 128.5,105.4 128.6,111.5 128.7,107.3 128.7,107.3 128.8,109.6 128.9,106.7 129.0,110.9 129.1,112.3 129.2,113.5 129.2,107.5 129.3,114.6 129.4,117.9 129.5,107.9 129.6,115.7 129.6,119.6 129.7,110.5 129.8,116.7 129.9,116.8 130.0,118.2 130.0,111.4 130.1,111.2 130.2,109.6 130.3,117.2 130.4,102.6 130.5,116.1 130.5,118.0 130.6,113.7 130.7,120.0 130.8,114.8 130.9,112.5 130.9,109.3 131.0,103.3 131.1,107.0 131.2,110.0 131.3,108.1 131.3,113.7 131.4,101.1 131.5,106.8 131.6,105.5 131.7,110.1 131.7,111.4 131.8,112.2 131.9,111.5 132.0,110.1 132.1,103.4 132.2,110.6 132.2,104.4 132.3,103.1 132.4,105.2 132.5,102.8 132.6,117.5 132.6,105.4 132.7,108.8 132.8,100.3 132.9,104.9 133.0,108.2 133.0,106.5 133.1,105.8 133.2,98.5 133.3,108.8 133.4,105.6 133.4,109.6 133.5,105.6 133.6,105.1 133.7,105.8 133.8,107.3 133.9,99.0 133.9,100.8 134.0,103.3 134.1,108.1 134.2,102.9 134.3,104.0 134.3,99.9 134.4,101.4 134.5,107.0 134.6,100.9 134.7,94.7 134.7,100.8 134.8,108.7 134.9,105.6 135.0,98.9 135.1,97.6 135.1,110.9 135.2,98.6 135.3,95.7 135.4,96.8 135.5,110.2 135.6,103.9 135.6,97.5 135.7,100.2 135.8,105.7 135.9,108.5 136.0,104.1 136.0,101.2 136.1,108.6 136.2,104.5 136.3,97.5 136.4,97.2 136.4,102.6 136.5,96.9 136.6,104.2 136.7,106.6 136.8,106.8 136.8,108.8 136.9,105.8 137.0,105.2 137.1,93.2 137.2,98.6 137.3,92.4 137.3,108.3 137.4,99.9 137.5,105.6 137.6,110.3 137.7,100.3 137.7,106.5 137.8,99.4 137.9,90.3 138.0,102.6 138.1,103.6 138.1,106.5 138.2,110.6 138.3,104.3 138.4,107.1 138.5,102.1 138.5,104.6 138.6,101.2 138.7,100.2 138.8,96.6 138.9,108.0 139.0,106.1 139.0,94.9 139.1,97.3 139.2,105.2 139.3,88.9 139.4,115.4 139.4,103.2 139.5,102.6 139.6,98.4 139.7,107.4 139.8,100.5 139.8,99.2 139.9,94.2 140.0,109.5 140.1,103.1 140.2,102.6 140.3,94.3 140.3,89.4 140.4,90.4 140.5,102.4 140.6,97.7 140.7,99.7 140.7,99.1 140.8,102.6 140.9,98.3 141.0,99.9 141.1,96.8 141.1,100.8 141.2,87.3 141.3,108.9 141.4,103.8 141.5,103.9 141.5,100.2 141.6,96.5 141.7,101.5 141.8,85.8 141.9,99.1 142.0,93.4 142.0,100.9 142.1,104.0 142.2,87.3 142.3,103.9 142.4,107.0 142.4,102.6 142.5,97.5 142.6,91.0 142.7,99.2 142.8,98.8 142.8,95.8 142.9,92.9 143.0,100.9 143.1,94.9 143.2,99.1 143.2,93.9 143.3,93.4 143.4,90.6 143.5,86.4 143.6,98.3 143.7,100.1 143.7,94.7 143.8,95.1 143.9,95.1 144.0,91.1 144.1,94.5 144.1,90.8 144.2,94.9 144.3,95.7 144.4,99.5 144.5,91.7 144.5,94.9 144.6,88.9 144.7,91.8 144.8,97.7 144.9,93.8 144.9,95.4 145.0,95.5 145.1,101.7 145.2,93.6 145.3,94.1 145.4,100.6 145.4,92.9 145.5,92.4 145.6,99.9 145.7,99.8 145.8,92.7 145.8,90.1 145.9,92.3 146.0,102.6 146.1,99.0 146.2,90.7 146.2,98.3 146.3,87.7 146.4,87.1 146.5,96.7 146.6,91.0 146.6,88.4 146.7,89.2 146.8,93.6 146.9,92.0 147.0,91.2 147.1,82.5 147.1,87.0 147.2,84.3 147.3,88.7 147.4,87.2 147.5,85.5 147.5,90.8 147.6,93.7 147.7,88.1 147.8,92.3 147.9,93.2 147.9,94.5 148.0,97.9 148.1,90.6 148.2,96.2 148.3,95.7 148.3,93.7 148.4,98.5 148.5,90.2 148.6,88.8 148.7,99.1 148.8,95.7 148.8,95.4 148.9,95.9 149.0,94.6 149.1,93.6 149.2,98.9 149.2,92.3 149.3,105.9 149.4,101.7 149.5,92.2 149.6,99.2 149.6,95.6 149.7,91.7 149.8,89.3 149.9,103.7 150.0,102.3 150.1,102.6 150.1,102.9 150.2,98.4 150.3,109.9 150.4,98.6 150.5,101.5 150.5,94.4 150.6,109.9 150.7,99.6 150.8,105.2 150.9,107.3 150.9,99.9 151.0,100.2 151.1,111.6 151.2,100.9 151.3,106.6 151.3,107.3 151.4,107.8 151.5,105.8 151.6,108.2 151.7,104.6 151.8,117.0 151.8,100.0 151.9,102.9 152.0,106.8 152.1,101.7 152.2,104.3 152.2,99.9 152.3,97.2 152.4,99.8 152.5,116.8 152.6,94.8 152.6,100.7 152.7,97.3 152.8,104.3 152.9,100.9 153.0,100.9 153.0,96.8 153.1,95.7 153.2,97.3 153.3,97.6 153.4,94.3 153.5,93.0 153.5,95.0 153.6,100.0 153.7,94.1 153.8,101.2 153.9,97.0 153.9,90.9 154.0,105.5 154.1,104.0 154.2,109.5 154.3,89.1 154.3,97.8 154.4,96.4 154.5,97.5 154.6,99.4 154.7,103.1 154.7,97.6 154.8,103.3 154.9,95.4 155.0,90.6 155.1,87.0 155.2,102.5 155.2,99.9 155.3,102.2 155.4,106.1 155.5,103.6 155.6,98.5 155.6,93.0 155.7,92.0 155.8,102.5 155.9,95.0 156.0,99.4 156.0,97.4 156.1,93.7 156.2,94.1 156.3,94.4 156.4,97.6 156.4,97.9 156.5,98.0 156.6,96.4 156.7,99.8 156.8,97.3 156.9,98.9 156.9,93.1 157.0,104.5 157.1,101.9 157.2,99.8 157.3,100.9 157.3,111.6 157.4,96.0 157.5,94.4 157.6,110.0 157.7,108.9 157.7,96.4 157.8,110.3 157.9,102.9 158.0,104.2 158.1,105.9 158.2,102.3 158.2,109.3 158.3,111.8 158.4,106.8 158.5,104.7 158.6,102.5 158.6,99.3 158.7,95.7 158.8,99.9 158.9,102.2 159.0,99.1 159.0,106.6 159.1,103.7 159.2,103.4 159.3,106.7 159.4,95.2 159.4,103.4 159.5,104.9 159.6,102.6 159.7,90.7 159.8,91.6 159.9,96.3 159.9,94.5 160.0,106.3 160.1,102.1 160.2,96.6 160.3,103.2 160.3,105.2 160.4,102.2 160.5,95.4 160.6,92.3 160.7,104.3 160.7,93.4 160.8,105.9 160.9,99.7 161.0,100.7 161.1,102.5 161.1,93.1 161.2,97.6 161.3,101.4 161.4,97.1 161.5,105.5 161.6,100.7 161.6,96.3 161.7,101.4 161.8,94.6 161.9,108.9 162.0,109.8 162.0,105.6 162.1,105.5 162.2,107.1 162.3,98.2 162.4,103.2 162.4,109.4 162.5,108.1 162.6,102.9 162.7,110.6 162.8,103.2 162.8,109.6 162.9,105.0 163.0,103.6 163.1,111.4 163.2,106.6 163.3,106.1 163.3,103.6 163.4,100.4 163.5,103.9 163.6,109.5 163.7,104.8 163.7,106.7 163.8,103.2 163.9,97.4 164.0,97.4 164.1,95.9 164.1,104.6 164.2,108.3 164.3,104.7 164.4,100.3 164.5,102.9 164.5,105.6 164.6,100.5 164.7,94.7 164.8,101.9 164.9,98.8 165.0,91.5 165.0,103.7 165.1,97.7 165.2,108.2 165.3,105.7 165.4,102.9 165.4,97.4 165.5,101.9 165.6,104.9 165.7,99.9 165.8,96.1 165.8,96.3 165.9,106.8 166.0,100.1 166.1,105.4 166.2,99.7 166.2,97.9 166.3,107.7 166.4,93.0 166.5,111.0 166.6,101.7 166.7,110.2 166.7,104.5 166.8,95.2 166.9,96.2 167.0,93.4 167.1,103.4 167.1,106.4 167.2,106.4 167.3,89.0 167.4,97.7 167.5,106.7 167.5,102.5 167.6,103.1 167.7,98.6 167.8,105.9 167.9,111.3 168.0,107.0 168.0,101.3 168.1,103.6 168.2,106.6 168.3,109.9 168.4,98.7 168.4,101.5 168.5,108.2 168.6,106.8 168.7,96.0 168.8,105.6 168.8,98.3 168.9,105.1 169.0,105.2 169.1,106.8 169.2,102.1 169.2,102.9 169.3,109.3 169.4,97.8 169.5,107.8 169.6,108.9 169.7,101.5 169.7,110.6 169.8,108.5 169.9,106.8 170.0,104.2 170.1,116.0 170.1,113.3 170.2,120.1 170.3,106.9 170.4,108.2 170.5,106.8 170.5,108.0 170.6,112.1 170.7,106.4 170.8,113.6 170.9,112.8 170.9,109.9 171.0,103.5 171.1,113.7 171.2,94.1 171.3,110.7 171.4,114.3 171.4,106.4 171.5,110.9 171.6,103.9 171.7,102.9 171.8,111.4 171.8,104.5 171.9,109.3 172.0,105.5 172.1,108.9 172.2,107.3 172.2,105.2 172.3,100.1 172.4,108.4 172.5,103.0 172.6,99.4 172.6,110.0 172.7,101.4 172.8,107.7 172.9,104.6 173.0,104.1 173.1,107.3 173.1,99.4 173.2,100.4 173.3,105.6 173.4,106.4 173.5,106.0 173.5,103.9 173.6,104.0 173.7,112.9 173.8,103.7 173.9,104.7 173.9,108.8 174.0,110.9 174.1,115.3 174.2,106.5 174.3,111.3 174.3,110.5 174.4,97.3 174.5,115.9 174.6,118.5 174.7,106.7 174.8,118.5 174.8,113.4 174.9,111.2 175.0,115.9 175.1,106.7 175.2,112.2 175.2,111.9 175.3,116.0 175.4,117.7 175.5,114.3 175.6,104.8 175.6,113.8 175.7,110.9 175.8,111.3 175.9,117.4 176.0,109.8 176.0,115.5 176.1,120.8 176.2,121.1 176.3,109.6 176.4,103.7 176.5,109.1 176.5,106.9 176.6,117.0 176.7,124.9 176.8,103.5 176.9,107.1 176.9,118.8 177.0,110.4 177.1,111.7 177.2,112.3 177.3,116.7 177.3,110.2 177.4,109.1 177.5,118.7 177.6,111.1 177.7,119.8 177.8,110.3 177.8,114.7 177.9,109.9 178.0,112.3 178.1,122.1 178.2,119.9 178.2,115.1 178.3,113.1 178.4,110.5 178.5,121.6 178.6,117.0 178.6,105.5 178.7,115.9 178.8,120.5 178.9,124.1 179.0,113.8 179.0,111.2 179.1,118.5 179.2,110.7 179.3,108.9 179.4,107.0 179.5,109.8 179.5,113.6 179.6,115.3 179.7,107.3 179.8,117.3 179.9,103.8 179.9,107.5 180.0,111.4 180.1,118.3 180.2,113.7 180.3,116.5 180.3,114.4 180.4,107.3 180.5,99.2 180.6,114.2 180.7,113.1 180.7,99.8 180.8,108.9 180.9,107.7 181.0,112.5 181.1,102.2 181.2,109.0 181.2,106.0 181.3,105.8 181.4,102.5 181.5,107.9 181.6,112.5 181.6,107.5 181.7,110.5 181.8,118.3 181.9,113.2 182.0,117.6 182.0,111.6 182.1,113.2 182.2,112.9 182.3,119.0 182.4,109.2 182.4,111.1 182.5,107.4 182.6,117.9 182.7,115.0 182.8,116.0 182.9,111.2 182.9,116.7 183.0,111.2 183.1,118.9 183.2,112.0 183.3,113.4 183.3,114.4 183.4,115.0 183.5,114.6 183.6,109.8 183.7,109.4 183.7,109.9 183.8,113.3 183.9,116.2 184.0,116.5 184.1,114.8 184.1,113.9 184.2,116.1 184.3,118.9 184.4,118.1 184.5,109.8 184.6,116.2 184.6,113.1 184.7,114.7 184.8,111.2 184.9,113.5 185.0,106.9 185.0,110.9 185.1,116.6 185.2,111.2 185.3,115.9 185.4,112.4 185.4,106.4 185.5,116.5 185.6,107.6 185.7,110.2 185.8,105.2 185.8,109.7 185.9,105.5 186.0,109.3 186.1,104.6 186.2,108.9 186.3,113.5 186.3,109.5 186.4,110.3 186.5,102.8 186.6,114.4 186.7,118.0 186.7,105.6 186.8,114.2 186.9,119.1 187.0,115.8 187.1,115.1 187.1,113.6 187.2,101.8 187.3,112.8 187.4,108.8 187.5,109.4 187.6,114.0 187.6,119.1 187.7,102.7 187.8,113.1 187.9,114.5 188.0,108.0 188.0,114.3 188.1,112.8 188.2,105.9 188.3,112.4 188.4,109.3 188.4,112.0 188.5,103.7 188.6,117.8 188.7,123.4 188.8,110.6 188.8,112.8 188.9,98.7 189.0,111.3 189.1,111.4 189.2,108.5 189.3,110.8 189.3,109.4 189.4,116.3 189.5,113.6 189.6,105.5 189.7,117.4 189.7,113.6 189.8,110.1 189.9,108.2 190.0,111.2 190.1,108.4 190.1,107.5 190.2,110.5 190.3,114.2 190.4,108.7 190.5,113.3 190.5,113.2 190.6,104.9 190.7,108.3 190.8,115.4 190.9,118.1 191.0,113.6 191.0,108.6 191.1,106.7 191.2,109.2 191.3,99.7 191.4,108.9 191.4,112.5 191.5,108.2 191.6,103.2 191.7,105.1 191.8,105.3 191.8,100.7 191.9,101.8 192.0,99.4 192.1,108.3 192.2,104.5 192.2,105.3 192.3,105.8 192.4,98.2 192.5,104.5 192.6,104.7 192.7,112.4 192.7,108.6 192.8,105.1 192.9,107.0 193.0,112.1 193.1,105.0 193.1,108.0 193.2,103.1 193.3,104.8 193.4,103.2 193.5,111.5 193.5,110.4 193.6,103.3 193.7,93.9 193.8,103.7 193.9,104.0 193.9,108.1 194.0,97.0 194.1,104.7 194.2,106.0 194.3,104.0 194.4,107.9 194.4,102.6 194.5,104.9 194.6,106.3 194.7,112.0 194.8,110.6 194.8,107.3 194.9,115.8 195.0,109.7 195.1,105.9 195.2,106.1 195.2,96.2 195.3,115.1 195.4,107.0 195.5,107.9 195.6,104.8 195.7,107.4 195.7,109.7 195.8,105.5 195.9,107.6 196.0,96.8 196.1,108.1 196.1,104.5 196.2,102.5 196.3,104.8 196.4,107.7 196.5,107.3 196.5,108.0 196.6,111.1 196.7,107.0 196.8,100.1 196.9,101.0 196.9,111.6 197.0,104.0 197.1,108.1 197.2,108.8 197.3,109.6 197.4,104.7 197.4,112.9 197.5,113.0 197.6,103.7 197.7,117.3 197.8,112.0 197.8,107.8 197.9,110.2 198.0,111.3 198.1,101.6 198.2,104.0 198.2,108.3 198.3,105.2 198.4,109.9 198.5,110.9 198.6,103.7 198.6,102.6 198.7,113.7 198.8,101.2 198.9,98.3 199.0,102.9 199.1,111.9 199.1,103.0 199.2,108.7 199.3,99.9 199.4,105.1 199.5,105.1 199.5,108.3 199.6,104.5 199.7,103.1 199.8,109.9 199.9,106.3 199.9,107.9 200.0,98.7 200.1,102.6 200.2,105.6 200.3,98.7 200.3,102.9 200.4,104.5 200.5,105.4 200.6,98.3 200.7,103.1 200.8,111.4 200.8,106.4 200.9,104.8 201.0,114.0 201.1,99.1 201.2,97.5 201.2,107.3 201.3,98.3 201.4,100.8 201.5,101.9 201.6,106.9 201.6,94.7 201.7,101.5 201.8,106.5 201.9,99.8 202.0,103.1 202.0,107.7 202.1,100.8 202.2,102.7 202.3,113.4 202.4,105.1 202.5,103.3 202.5,101.3 202.6,100.4 202.7,105.0 202.8,104.4 202.9,110.7 202.9,106.2 203.0,108.8 203.1,101.6 203.2,99.8 203.3,107.5 203.3,114.5 203.4,102.8 203.5,99.2 203.6,104.6 203.7,109.4 203.7,99.4 203.8,105.7 203.9,101.1 204.0,101.7 204.1,97.0 204.2,106.0 204.2,93.8 204.3,97.5 204.4,88.8 204.5,102.9 204.6,107.8 204.6,98.5 204.7,104.4 204.8,98.0 204.9,107.3 205.0,95.0 205.0,98.8 205.1,96.5 205.2,100.9 205.3,107.3 205.4,97.1 205.5,97.1 205.5,96.8 205.6,106.9 205.7,104.9 205.8,103.9 205.9,109.8 205.9,108.0 206.0,108.4 206.1,105.5 206.2,118.6 206.3,103.9 206.3,110.8 206.4,111.0 206.5,114.0 206.6,106.9 206.7,108.6 206.7,111.2 206.8,107.0 206.9,113.9 207.0,107.3 207.1,114.6 207.2,112.1 207.2,102.0 207.3,112.8 207.4,113.1 207.5,110.4 207.6,108.4 207.6,106.7 207.7,108.6 207.8,108.9 207.9,108.8 208.0,97.3 208.0,116.3 208.1,107.7 208.2,105.4 208.3,113.7 208.4,106.7 208.4,106.9 208.5,121.8 208.6,100.8 208.7,105.0 208.8,107.5 208.9,113.4 208.9,110.4 209.0,112.6 209.1,112.6 209.2,104.4 209.3,118.8 209.3,119.1 209.4,111.4 209.5,105.0 209.6,112.9 209.7,104.7 209.7,110.9 209.8,108.2 209.9,107.8 210.0,105.8 210.1,104.6 210.1,108.0 210.2,111.4 210.3,113.4 210.4,101.2 210.5,105.1 210.6,101.8 210.6,109.8 210.7,103.8 210.8,102.3 210.9,100.7 211.0,106.7 211.0,100.4 211.1,112.4 211.2,107.5 211.3,111.0 211.4,112.5 211.4,106.1 211.5,102.3 211.6,110.3 211.7,109.4 211.8,110.0 211.8,110.1 211.9,104.2 212.0,103.7 212.1,115.6 212.2,107.0 212.3,107.8 212.3,112.4 212.4,118.5 212.5,112.0 212.6,117.2 212.7,109.9 212.7,110.3 212.8,105.8 212.9,114.9 213.0,111.7 213.1,114.1 213.1,110.6 213.2,115.4 213.3,114.8 213.4,117.5 213.5,112.3 213.5,111.9 213.6,104.4 213.7,110.4 213.8,113.2 213.9,107.4 214.0,107.6 214.0,114.0 214.1,111.2 214.2,113.5 214.3,113.2 214.4,111.8 214.4,113.2 214.5,115.2 214.6,110.5 214.7,114.7 214.8,120.9 214.8,115.3 214.9,107.6 215.0,111.0 215.1,109.8 215.2,111.5 215.3,116.1 215.3,119.3 215.4,118.6 215.5,112.4 215.6,113.6 215.7,111.5 215.7,114.8 215.8,101.7 215.9,115.6 216.0,105.4 216.1,113.3 216.1,105.4 216.2,102.5 216.3,102.9 216.4,104.2 216.5,108.3 216.5,117.6 216.6,118.2 216.7,109.3 216.8,106.1 216.9,116.4 217.0,104.6 217.0,109.7 217.1,114.8 217.2,108.7 217.3,99.1 217.4,112.4 217.4,108.3 217.5,108.1 217.6,111.6 217.7,104.7 217.8,103.4 217.8,107.4 217.9,103.6 218.0,110.3 218.1,107.8 218.2,116.8 218.2,107.1 218.3,113.5 218.4,121.5 218.5,114.3 218.6,121.2 218.7,120.1 218.7,111.8 218.8,112.3 218.9,121.0 219.0,127.1 219.1,113.9 219.1,122.4 219.2,113.3 219.3,113.1 219.4,114.4 219.5,106.5 219.5,112.2 219.6,115.9 219.7,117.1 219.8,114.5 219.9,112.4 219.9,119.6 220.0,114.4 220.1,112.5 220.2,119.3 220.3,118.0 220.4,110.1 220.4,117.9 220.5,105.3 220.6,108.4 220.7,109.3 220.8,113.8 220.8,115.6 220.9,109.9 221.0,109.3 221.1,106.6 221.2,124.1 221.2,109.6 221.3,108.6 221.4,115.5 221.5,111.2 221.6,116.0 221.6,116.0 221.7,120.7 221.8,110.9 221.9,114.2 222.0,116.6 222.1,116.8 222.1,113.7 222.2,108.6 222.3,108.7 222.4,114.7 222.5,119.3 222.5,112.6 222.6,123.2 222.7,108.1 222.8,111.5 222.9,117.5 222.9,115.9 223.0,118.2 223.1,112.9 223.2,118.9 223.3,114.3 223.3,117.5 223.4,122.8 223.5,114.5 223.6,116.3 223.7,118.5 223.8,120.3 223.8,116.8 223.9,116.5 224.0,118.0 224.1,117.2 224.2,115.5 224.2,118.4 224.3,110.3 224.4,112.6 224.5,111.0 224.6,118.0 224.6,115.9 224.7,112.9 224.8,113.7 224.9,116.4 225.0,116.1 225.1,110.4 225.1,108.8 225.2,105.6 225.3,114.1 225.4,109.4 225.5,109.0 225.5,111.5 225.6,112.2 225.7,113.0 225.8,109.3 225.9,109.5 225.9,117.5 226.0,115.5 226.1,118.2 226.2,113.9 226.3,117.3 226.3,113.8 226.4,109.3 226.5,118.2 226.6,111.2 226.7,115.2 226.8,117.1 226.8,117.1 226.9,116.9 227.0,113.2 227.1,107.8 227.2,115.8 227.2,117.6 227.3,110.7 227.4,112.9 227.5,119.4 227.6,112.1 227.6,117.4 227.7,114.9 227.8,112.7 227.9,118.6 228.0,117.0 228.0,114.2 228.1,123.1 228.2,118.3 228.3,125.0 228.4,115.9 228.5,117.8 228.5,121.8 228.6,120.4 228.7,125.1 228.8,117.7 228.9,121.2 228.9,117.0 229.0,113.1 229.1,119.2 229.2,121.8 229.3,111.0 229.3,119.4 229.4,111.3 229.5,114.1 229.6,110.5 229.7,117.6 229.7,122.8 229.8,117.2 229.9,113.9 230.0,106.0 230.1,117.6 230.2,111.1 230.2,119.0 230.3,114.3 230.4,107.5 230.5,107.7 230.6,109.8 230.6,111.2 230.7,109.3 230.8,107.0 230.9,111.8 231.0,111.6 231.0,110.1 231.1,109.3 231.2,118.5 231.3,111.7 231.4,111.9 231.4,110.6 231.5,113.1 231.6,105.3 231.7,106.4 231.8,109.3 231.9,95.9 231.9,105.8 232.0,103.5 232.1,107.6 232.2,106.4 232.3,104.3 232.3,112.2 232.4,115.7 232.5,99.8 232.6,116.6 232.7,115.2 232.7,110.3 232.8,112.0 232.9,108.7 233.0,102.1 233.1,105.7 233.2,118.9 233.2,112.2 233.3,108.6 233.4,110.3 233.5,118.7 233.6,112.4 233.6,104.6 233.7,109.6 233.8,112.0 233.9,115.5 234.0,104.8 234.0,98.0 234.1,112.8 234.2,104.5 234.3,108.7 234.4,113.8 234.4,115.5 234.5,107.2 234.6,109.3 234.7,112.1 234.8,107.7 234.9,106.8 234.9,97.3 235.0,109.6 235.1,112.6 235.2,114.0 235.3,107.3 235.3,106.1 235.4,110.9 235.5,105.9 235.6,110.1 235.7,112.0 235.7,113.5 235.8,111.3 235.9,110.6 236.0,113.6 236.1,117.0 236.1,117.3 236.2,107.3 236.3,115.3 236.4,104.4 236.5,119.1 236.6,113.3 236.6,114.4 236.7,119.0 236.8,121.2 236.9,117.1 237.0,107.8 237.0,117.3 237.1,111.8 237.2,111.5 237.3,110.6 237.4,124.0 237.4,116.5 237.5,122.9 237.6,111.5 237.7,110.3 237.8,108.6 237.8,110.2 237.9,108.0 238.0,108.9 238.1,111.8 238.2,109.7 238.3,117.9 238.3,113.1 238.4,118.9 238.5,117.4 238.6,114.0 238.7,108.6 238.7,116.1 238.8,112.4 238.9,115.3 239.0,109.7 239.1,112.7 239.1,118.5 239.2,111.8 239.3,115.0 239.4,117.0 239.5,108.8 239.5,116.6 239.6,119.6 239.7,126.7 239.8,123.8 239.9,112.9 240.0,132.1 240.0,112.6 240.1,122.6 240.2,122.6 240.3,112.8 240.4,125.3 240.4,120.0 240.5,121.3 240.6,118.0 240.7,111.5 240.8,107.9 240.8,123.8 240.9,120.6 241.0,103.8 241.1,111.6 241.2,105.4 241.2,105.6 241.3,113.6 241.4,117.3 241.5,109.3 241.6,111.3 241.7,105.9 241.7,110.8 241.8,101.5 241.9,120.2 242.0,120.4 242.1,114.8 242.1,117.8 242.2,111.9 242.3,115.5 242.4,106.1 242.5,111.3 242.5,109.8 242.6,114.1 242.7,111.4 242.8,112.9 242.9,115.2 243.0,109.4 243.0,119.5 243.1,112.3 243.2,112.9 243.3,104.1 243.4,110.8 243.4,117.3 243.5,109.6 243.6,107.1 243.7,106.4 243.8,104.3 243.8,104.6 243.9,105.8 244.0,101.6 244.1,109.5 244.2,105.4 244.2,107.1 244.3,106.2 244.4,105.9 244.5,109.7 244.6,109.6 244.7,108.4 244.7,119.1 244.8,107.3 244.9,104.8 245.0,110.2 245.1,111.3 245.1,110.7 245.2,104.6 245.3,112.2 245.4,105.2 245.5,116.5 245.5,112.7 245.6,102.8 245.7,112.4 245.8,116.4 245.9,108.5 245.9,111.9 246.0,110.0 246.1,107.2 246.2,111.9 246.3,107.7 246.4,111.1 246.4,109.9 246.5,111.5 246.6,116.8 246.7,114.9 246.8,114.3 246.8,108.1 246.9,115.8 247.0,117.0 247.1,112.0 247.2,109.8 247.2,113.0 247.3,115.3 247.4,121.1 247.5,112.3 247.6,109.4 247.6,115.7 247.7,113.6 247.8,118.4 247.9,117.6 248.0,113.7 248.1,114.9 248.1,111.7 248.2,113.0 248.3,115.8 248.4,116.3 248.5,110.9 248.5,118.6 248.6,110.8 248.7,114.7 248.8,119.5 248.9,117.5 248.9,115.0 249.0,102.1 249.1,114.2 249.2,119.5 249.3,109.6 249.3,119.0 249.4,120.6 249.5,112.9 249.6,110.1 249.7,105.6 249.8,113.3 249.8,118.6 249.9,114.8 250.0,108.9 250.1,107.7 250.2,119.0 250.2,107.5 250.3,116.3 250.4,120.7 250.5,112.3 250.6,114.8 250.6,122.2 250.7,120.0 250.8,115.5 250.9,113.6 251.0,120.9 251.0,110.7 251.1,119.7 251.2,120.1 251.3,112.5 251.4,110.0 251.5,117.1 251.5,116.5 251.6,113.8 251.7,110.2 251.8,117.2 251.9,116.0 251.9,117.9 252.0,122.8 252.1,112.0 252.2,117.0 252.3,110.6 252.3,117.5 252.4,109.2 252.5,114.3 252.6,110.8 252.7,121.4 252.8,118.8 252.8,118.4 252.9,107.3 253.0,114.0 253.1,118.4 253.2,126.4 253.2,120.7 253.3,110.2 253.4,118.7 253.5,113.7 253.6,124.1 253.6,114.7 253.7,111.7 253.8,114.4 253.9,120.9 254.0,121.2 254.0,113.4 254.1,120.8 254.2,122.3 254.3,114.9 254.4,120.5 254.5,120.5 254.5,115.9 254.6,115.2 254.7,120.8 254.8,114.2 254.9,108.4 254.9,110.6 255.0,108.8 255.1,108.9 255.2,113.0 255.3,112.0 255.3,117.5 255.4,117.1 255.5,116.3 255.6,118.1 255.7,103.8 255.7,106.7 255.8,119.9 255.9,109.9 256.0,112.4 256.1,111.0 256.2,111.1 256.2,108.7 256.3,118.5 256.4,117.6 256.5,115.3 256.6,109.1 256.6,113.3 256.7,113.7 256.8,114.5 256.9,109.9 257.0,111.8 257.0,107.0 257.1,104.7 257.2,110.4 257.3,117.3 257.4,118.9 257.4,113.8 257.5,112.1 257.6,112.8 257.7,111.5 257.8,112.6 257.9,106.4 257.9,112.6 258.0,106.6 258.1,111.2 258.2,113.6 258.3,111.5 258.3,114.3 258.4,111.3 258.5,121.8 258.6,111.6 258.7,107.7 258.7,107.2 258.8,115.7 258.9,117.6 259.0,107.5 259.1,119.8 259.1,114.3 259.2,115.8 259.3,113.6 259.4,111.2 259.5,109.7 259.6,125.2 259.6,118.4 259.7,126.6 259.8,120.9 259.9,125.1 260.0,119.8 260.0,121.2 260.1,117.7 260.2,116.6 260.3,118.8 260.4,116.2 260.4,114.5 260.5,120.2 260.6,119.8 260.7,123.1 260.8,123.8 260.9,116.4 260.9,112.4 261.0,118.7 261.1,126.1 261.2,122.6 261.3,118.0 261.3,118.5 261.4,122.9 261.5,117.8 261.6,117.8 261.7,124.5 261.7,122.2 261.8,114.7 261.9,121.2 262.0,117.7 262.1,110.8 262.1,112.2 262.2,112.4 262.3,120.7 262.4,118.1 262.5,114.4 262.6,114.1 262.6,110.0 262.7,109.8 262.8,107.9 262.9,105.7 263.0,112.5 263.0,116.2 263.1,107.3 263.2,110.4 263.3,110.1 263.4,112.9 263.4,111.3 263.5,99.8 263.6,118.7 263.7,107.0 263.8,108.8 263.8,107.1 263.9,112.4 264.0,110.0 264.1,112.2 264.2,111.3 264.3,112.1 264.3,102.5 264.4,105.2 264.5,107.4 264.6,108.1 264.7,112.6 264.7,116.9 264.8,108.7 264.9,114.6 265.0,113.2 265.1,115.1 265.1,113.2 265.2,113.8 265.3,105.8 265.4,105.4 265.5,112.5 265.5,110.4 265.6,113.6 265.7,112.6 265.8,116.4 265.9,113.1 266.0,122.6 266.0,127.2 266.1,107.9 266.2,116.1 266.3,117.2 266.4,115.2 266.4,117.3 266.5,114.7 266.6,123.7 266.7,122.0 266.8,113.4 266.8,118.2 266.9,123.0 267.0,126.1 267.1,111.9 267.2,115.5 267.2,117.8 267.3,127.2 267.4,123.7 267.5,126.2 267.6,129.8 267.7,123.8 267.7,123.1 267.8,111.6 267.9,127.3 268.0,116.5 268.1,119.4 268.1,117.4 268.2,119.7 268.3,115.5 268.4,119.9 268.5,113.6 268.5,115.1 268.6,122.2 268.7,118.2 268.8,108.3 268.9,108.1 268.9,119.4 269.0,113.4 269.1,106.9 269.2,111.9 269.3,116.8 269.4,110.6 269.4,112.6 269.5,120.9 269.6,110.9 269.7,112.3 269.8,110.1 269.8,104.8 269.9,104.7 270.0,105.8 270.1,105.4 270.2,117.4 270.2,117.9 270.3,111.3 270.4,113.1 270.5,111.0 270.6,115.2 270.7,110.3 270.7,105.7 270.8,113.7 270.9,113.7 271.0,115.7 271.1,123.0 271.1,114.6 271.2,114.8 271.3,112.7 271.4,117.2 271.5,107.7 271.5,109.4 271.6,105.5 271.7,126.6 271.8,116.9 271.9,111.1 271.9,112.0 272.0,112.1 272.1,113.9 272.2,108.9 272.3,115.1 272.4,114.3 272.4,101.8 272.5,114.5 272.6,108.7 272.7,112.4 272.8,109.4 272.8,112.9 272.9,108.6 273.0,107.6 273.1,113.7 273.2,115.5 273.2,116.0 273.3,117.4 273.4,106.5 273.5,105.1 273.6,121.9 273.6,117.3 273.7,113.1 273.8,109.7 273.9,119.3 274.0,116.5 274.1,113.4 274.1,110.1 274.2,118.3 274.3,109.7 274.4,118.4 274.5,110.3 274.5,117.6 274.6,116.4 274.7,111.3 274.8,113.1 274.9,111.6 274.9,115.8 275.0,116.4 275.1,109.5 275.2,106.5 275.3,113.1 275.3,113.1 275.4,118.5 275.5,106.4 275.6,116.6 275.7,112.9 275.8,108.5 275.8,127.7 275.9,116.5 276.0,121.4 276.1,117.5 276.2,115.8 276.2,122.9 276.3,111.6 276.4,106.5 276.5,119.1 276.6,118.4 276.6,111.2 276.7,117.7 276.8,125.0 276.9,117.9 277.0,123.8 277.0,115.5 277.1,124.6 277.2,115.3 277.3,127.5 277.4,122.8 277.5,131.1 277.5,110.3 277.6,121.2 277.7,122.4 277.8,118.9 277.9,119.8 277.9,118.0 278.0,109.8 278.1,112.4 278.2,121.2 278.3,117.6 278.3,119.3 278.4,116.6 278.5,123.2 278.6,120.3 278.7,125.3 278.7,116.4 278.8,121.6 278.9,113.7 279.0,118.1 279.1,124.9 279.2,111.4 279.2,127.5 279.3,106.4 279.4,111.3 279.5,111.4 279.6,110.8 279.6,113.1 279.7,118.6 279.8,121.1 279.9,117.5 280.0,128.4 280.0,116.3 280.1,118.3 280.2,117.1 280.3,120.0 280.4,124.3 280.5,117.8 280.5,120.0 280.6,119.9 280.7,118.0 280.8,114.7 280.9,112.8 280.9,123.1 281.0,117.4 281.1,126.1 281.2,122.7 281.3,122.4 281.3,118.8 281.4,117.9 281.5,116.2 281.6,117.2 281.7,117.7 281.7,122.8 281.8,115.4 281.9,121.3 282.0,114.8 282.1,118.8 282.2,109.7 282.2,121.8 282.3,116.1 282.4,114.0 282.5,120.3 282.6,120.0 282.6,112.4 282.7,115.5 282.8,118.3 282.9,122.1 283.0,122.3 283.0,126.8 283.1,114.5 283.2,121.0 283.3,119.1 283.4,116.5 283.4,119.1 283.5,123.0 283.6,117.4 283.7,130.0 283.8,118.3 283.9,121.5 283.9,123.8 284.0,121.1 284.1,119.5 284.2,126.3 284.3,122.6 284.3,125.0 284.4,123.9 284.5,120.2 284.6,124.7 284.7,126.8 284.7,123.8 284.8,116.7 284.9,117.4 285.0,119.2 285.1,116.2 285.1,122.5 285.2,124.2 285.3,124.8 285.4,120.5 285.5,120.4 285.6,126.5 285.6,113.4 285.7,119.4 285.8,128.2 285.9,129.4 286.0,122.3 286.0,122.7 286.1,127.7 286.2,123.7 286.3,124.0 286.4,124.4 286.4,119.4 286.5,128.7 286.6,124.4 286.7,128.6 286.8,123.7 286.8,123.3 286.9,116.1 287.0,127.5 287.1,123.4 287.2,124.7 287.3,124.0 287.3,126.9 287.4,128.8 287.5,127.0 287.6,127.5 287.7,121.2 287.7,125.4 287.8,119.4 287.9,127.8 288.0,131.0 288.1,126.4 288.1,125.3 288.2,116.1 288.3,127.3 288.4,119.8 288.5,123.6 288.5,124.3 288.6,118.1 288.7,123.3 288.8,113.9 288.9,118.1 289.0,117.3 289.0,120.8 289.1,118.4 289.2,116.3 289.3,122.7 289.4,120.3 289.4,123.4 289.5,121.5 289.6,119.9 289.7,127.5 289.8,120.7 289.8,123.2 289.9,118.1 290.0,125.4 290.1,122.5 290.2,122.0 290.3,117.0 290.3,120.9 290.4,115.2 290.5,117.6 290.6,123.9 290.7,125.2 290.7,121.2 290.8,118.1 290.9,120.8 291.0,123.9 291.1,118.4 291.1,121.1 291.2,123.0 291.3,119.0 291.4,120.5 291.5,125.4 291.5,120.0 291.6,117.7 291.7,121.9 291.8,124.1 291.9,116.1 292.0,114.4 292.0,118.6 292.1,116.8 292.2,119.9 292.3,116.5 292.4,121.4 292.4,117.2 292.5,114.8 292.6,117.5 292.7,115.4 292.8,114.3 292.8,109.6 292.9,115.8 293.0,118.7 293.1,116.1 293.2,115.9 293.2,111.5 293.3,108.5 293.4,117.4 293.5,112.5 293.6,111.2 293.7,114.1 293.7,113.8 293.8,116.3 293.9,109.2 294.0,111.4 294.1,117.8 294.1,113.4 294.2,119.2 294.3,113.4 294.4,111.8 294.5,122.3 294.5,116.9 294.6,116.7 294.7,108.2 294.8,114.1 294.9,113.8 294.9,116.9 295.0,116.0 295.1,114.2 295.2,116.1 295.3,114.5 295.4,117.2 295.4,121.3 295.5,115.7 295.6,116.4 295.7,122.1 295.8,120.4 295.8,118.6 295.9,111.1 296.0,114.0 296.1,110.0 296.2,124.2 296.2,114.3 296.3,109.8 296.4,117.0 296.5,113.4 296.6,118.3 296.6,113.3 296.7,114.7 296.8,119.9 296.9,110.0 297.0,113.8 297.1,112.2 297.1,120.2 297.2,110.4 297.3,115.8 297.4,110.6 297.5,117.7 297.5,108.7 297.6,114.6 297.7,113.0 297.8,115.4 297.9,120.0 297.9,114.4 298.0,109.2 298.1,109.2 298.2,115.7 298.3,109.5 298.4,115.4 298.4,119.7 298.5,115.8 298.6,115.5 298.7,111.9 298.8,124.8 298.8,111.7 298.9,113.2 299.0,114.3 299.1,122.3 299.2,123.0 299.2,112.8 299.3,118.0 299.4,112.9 299.5,121.5 299.6,114.2 299.6,114.6 299.7,122.1 299.8,117.8 299.9,109.4 300.0,119.6 300.1,112.0 300.1,116.4 300.2,120.2 300.3,118.5 300.4,120.4 300.5,108.8 300.5,122.3 300.6,120.7 300.7,115.5 300.8,111.3 300.9,120.6 300.9,118.6 301.0,115.8 301.1,116.0 301.2,114.2 301.3,116.9 301.3,114.2 301.4,110.9 301.5,118.6 301.6,120.4 301.7,116.6 301.8,112.9 301.8,102.2 301.9,109.5 302.0,110.8 302.1,125.2 302.2,120.6 302.2,109.7 302.3,114.7 302.4,115.0 302.5,108.3 302.6,106.3 302.6,108.7 302.7,110.0 302.8,118.3 302.9,111.2 303.0,106.4 303.0,110.7 303.1,116.2 303.2,120.1 303.3,111.1 303.4,107.2 303.5,112.9 303.5,110.7 303.6,108.1 303.7,112.4 303.8,110.9 303.9,113.4 303.9,114.1 304.0,109.0 304.1,108.9 304.2,112.7 304.3,118.4 304.3,110.5 304.4,109.1 304.5,109.7 304.6,110.1 304.7,113.5 304.7,114.9 304.8,111.7 304.9,111.7 305.0,112.0 305.1,118.8 305.2,123.3 305.2,113.7 305.3,114.1 305.4,114.5 305.5,113.4 305.6,122.8 305.6,118.7 305.7,113.0 305.8,118.0 305.9,116.5 306.0,109.1 306.0,112.0 306.1,117.5 306.2,113.8 306.3,118.2 306.4,112.8 306.4,120.6 306.5,121.8 306.6,107.2 306.7,109.3 306.8,117.8 306.9,111.3 306.9,124.3 307.0,112.9 307.1,107.9 307.2,109.4 307.3,112.0 307.3,112.9 307.4,111.5 307.5,103.1 307.6,114.5 307.7,111.4 307.7,108.9 307.8,116.4 307.9,105.7 308.0,121.3 308.1,113.8 308.2,114.9 308.2,113.4 308.3,119.1 308.4,115.1 308.5,112.3 308.6,117.4 308.6,109.9 308.7,122.9 308.8,114.7 308.9,106.7 309.0,118.2 309.0,113.5 309.1,115.4 309.2,116.0 309.3,110.3 309.4,118.9 309.4,110.2 309.5,118.5 309.6,113.0 309.7,107.9 309.8,113.6 309.9,110.4 309.9,100.1 310.0,109.3 310.1,108.5 310.2,106.6 310.3,106.8 310.3,109.3 310.4,110.6 310.5,108.4 310.6,108.0 310.7,103.8 310.7,109.7 310.8,106.8 310.9,101.9 311.0,118.6 311.1,112.6 311.1,113.3 311.2,113.4 311.3,106.8 311.4,114.9 311.5,113.3 311.6,107.1 311.6,124.7 311.7,121.2 311.8,121.1 311.9,116.0 312.0,114.0 312.0,120.5 312.1,110.5 312.2,109.5" fill="none" stroke="#00f" stroke-width="0.6" stroke-linejoin="round"/>
<rect x="243.4" y="8.0" width="54.2" height="35.5" fill="#fff" stroke="#9a9a9a" stroke-width="1"/>
<line x1="247.00" y1="14.60" x2="266.50" y2="14.60" stroke="#8a8a8a" stroke-width="1.00"/>
<text x="269.4" y="17.8" font-size="9.00" text-anchor="start" font-weight="normal" fill="#111" stroke="#111" stroke-width="0.3">CTC</text>
<line x1="247.00" y1="26.60" x2="266.50" y2="26.60" stroke="#ff8a8a" stroke-width="1.00"/>
<text x="269.4" y="29.8" font-size="9.00" text-anchor="start" font-weight="normal" fill="#111" stroke="#111" stroke-width="0.3">CTCR</text>
<line x1="247.00" y1="38.40" x2="266.50" y2="38.40" stroke="#8a8aff" stroke-width="1.00"/>
<text x="269.4" y="41.6" font-size="9.00" text-anchor="start" font-weight="normal" fill="#111" stroke="#111" stroke-width="0.3">CTCW</text>
<text transform="translate(44.3 128.3) rotate(-90)" font-size="9.6" text-anchor="middle" fill="#1a1a1a" stroke="#1a1a1a" stroke-width="0.3">RMSD(A)</text>
<line x1="412.10" y1="206.78" x2="412.10" y2="12.90" stroke="#333" stroke-width="1.00"/>
<line x1="411.60" y1="206.78" x2="655.50" y2="206.78" stroke="#333" stroke-width="1.00"/>
<line x1="412.10" y1="206.78" x2="412.10" y2="210.78" stroke="#333" stroke-width="1.00"/>
<text transform="translate(412.10 219.60) scale(0.92 1)" font-size="7.60" text-anchor="middle" fill="#222" stroke="#222" stroke-width="0.35">0</text>
<line x1="421.44" y1="206.78" x2="421.44" y2="208.97" stroke="#333" stroke-width="1.00"/>
<line x1="430.79" y1="206.78" x2="430.79" y2="210.78" stroke="#333" stroke-width="1.00"/>
<text transform="translate(430.79 219.60) scale(0.92 1)" font-size="7.60" text-anchor="middle" fill="#222" stroke="#222" stroke-width="0.35">25</text>
<line x1="440.13" y1="206.78" x2="440.13" y2="208.97" stroke="#333" stroke-width="1.00"/>
<line x1="449.47" y1="206.78" x2="449.47" y2="210.78" stroke="#333" stroke-width="1.00"/>
<text transform="translate(449.47 219.60) scale(0.92 1)" font-size="7.60" text-anchor="middle" fill="#222" stroke="#222" stroke-width="0.35">50</text>
<line x1="458.81" y1="206.78" x2="458.81" y2="208.97" stroke="#333" stroke-width="1.00"/>
<line x1="468.16" y1="206.78" x2="468.16" y2="210.78" stroke="#333" stroke-width="1.00"/>
<text transform="translate(468.16 219.60) scale(0.92 1)" font-size="7.60" text-anchor="middle" fill="#222" stroke="#222" stroke-width="0.35">75</text>
<line x1="477.50" y1="206.78" x2="477.50" y2="208.97" stroke="#333" stroke-width="1.00"/>
<line x1="486.84" y1="206.78" x2="486.84" y2="210.78" stroke="#333" stroke-width="1.00"/>
<text transform="translate(486.84 219.60) scale(0.92 1)" font-size="7.60" text-anchor="middle" fill="#222" stroke="#222" stroke-width="0.35">100</text>
<line x1="496.18" y1="206.78" x2="496.18" y2="208.97" stroke="#333" stroke-width="1.00"/>
<line x1="505.53" y1="206.78" x2="505.53" y2="210.78" stroke="#333" stroke-width="1.00"/>
<text transform="translate(505.53 219.60) scale(0.92 1)" font-size="7.60" text-anchor="middle" fill="#222" stroke="#222" stroke-width="0.35">125</text>
<line x1="514.87" y1="206.78" x2="514.87" y2="208.97" stroke="#333" stroke-width="1.00"/>
<line x1="524.21" y1="206.78" x2="524.21" y2="210.78" stroke="#333" stroke-width="1.00"/>
<text transform="translate(524.21 219.60) scale(0.92 1)" font-size="7.60" text-anchor="middle" fill="#222" stroke="#222" stroke-width="0.35">150</text>
<line x1="533.55" y1="206.78" x2="533.55" y2="208.97" stroke="#333" stroke-width="1.00"/>
<line x1="542.89" y1="206.78" x2="542.89" y2="210.78" stroke="#333" stroke-width="1.00"/>
<text transform="translate(542.89 219.60) scale(0.92 1)" font-size="7.60" text-anchor="middle" fill="#222" stroke="#222" stroke-width="0.35">175</text>
<line x1="552.24" y1="206.78" x2="552.24" y2="208.97" stroke="#333" stroke-width="1.00"/>
<line x1="561.58" y1="206.78" x2="561.58" y2="210.78" stroke="#333" stroke-width="1.00"/>
<text transform="translate(561.58 219.60) scale(0.92 1)" font-size="7.60" text-anchor="middle" fill="#222" stroke="#222" stroke-width="0.35">200</text>
<line x1="570.92" y1="206.78" x2="570.92" y2="208.97" stroke="#333" stroke-width="1.00"/>
<line x1="580.26" y1="206.78" x2="580.26" y2="210.78" stroke="#333" stroke-width="1.00"/>
<text transform="translate(580.26 219.60) scale(0.92 1)" font-size="7.60" text-anchor="middle" fill="#222" stroke="#222" stroke-width="0.35">225</text>
<line x1="589.61" y1="206.78" x2="589.61" y2="208.97" stroke="#333" stroke-width="1.00"/>
<line x1="598.95" y1="206.78" x2="598.95" y2="210.78" stroke="#333" stroke-width="1.00"/>
<text transform="translate(598.95 219.60) scale(0.92 1)" font-size="7.60" text-anchor="middle" fill="#222" stroke="#222" stroke-width="0.35">250</text>
<line x1="608.29" y1="206.78" x2="608.29" y2="208.97" stroke="#333" stroke-width="1.00"/>
<line x1="617.63" y1="206.78" x2="617.63" y2="210.78" stroke="#333" stroke-width="1.00"/>
<text transform="translate(617.63 219.60) scale(0.92 1)" font-size="7.60" text-anchor="middle" fill="#222" stroke="#222" stroke-width="0.35">275</text>
<line x1="626.98" y1="206.78" x2="626.98" y2="208.97" stroke="#333" stroke-width="1.00"/>
<line x1="636.32" y1="206.78" x2="636.32" y2="210.78" stroke="#333" stroke-width="1.00"/>
<text transform="translate(636.32 219.60) scale(0.92 1)" font-size="7.60" text-anchor="middle" fill="#222" stroke="#222" stroke-width="0.35">300</text>
<line x1="645.66" y1="206.78" x2="645.66" y2="208.97" stroke="#333" stroke-width="1.00"/>
<line x1="655.00" y1="206.78" x2="655.00" y2="210.78" stroke="#333" stroke-width="1.00"/>
<text transform="translate(655.00 219.60) scale(0.92 1)" font-size="7.60" text-anchor="middle" fill="#222" stroke="#222" stroke-width="0.35">325</text>
<line x1="410.10" y1="206.78" x2="412.10" y2="206.78" stroke="#333" stroke-width="1.00"/>
<line x1="408.10" y1="195.40" x2="412.10" y2="195.40" stroke="#333" stroke-width="1.00"/>
<text transform="translate(406.30 198.21) scale(0.92 1)" font-size="7.80" text-anchor="end" fill="#222" stroke="#222" stroke-width="0.35">0</text>
<line x1="409.90" y1="184.03" x2="412.10" y2="184.03" stroke="#333" stroke-width="1.00"/>
<line x1="408.10" y1="172.65" x2="412.10" y2="172.65" stroke="#333" stroke-width="1.00"/>
<text transform="translate(406.30 175.46) scale(0.92 1)" font-size="7.80" text-anchor="end" fill="#222" stroke="#222" stroke-width="0.35">1</text>
<line x1="409.90" y1="161.28" x2="412.10" y2="161.28" stroke="#333" stroke-width="1.00"/>
<line x1="408.10" y1="149.90" x2="412.10" y2="149.90" stroke="#333" stroke-width="1.00"/>
<text transform="translate(406.30 152.71) scale(0.92 1)" font-size="7.80" text-anchor="end" fill="#222" stroke="#222" stroke-width="0.35">2</text>
<line x1="409.90" y1="138.53" x2="412.10" y2="138.53" stroke="#333" stroke-width="1.00"/>
<line x1="408.10" y1="127.15" x2="412.10" y2="127.15" stroke="#333" stroke-width="1.00"/>
<text transform="translate(406.30 129.96) scale(0.92 1)" font-size="7.80" text-anchor="end" fill="#222" stroke="#222" stroke-width="0.35">3</text>
<line x1="409.90" y1="115.78" x2="412.10" y2="115.78" stroke="#333" stroke-width="1.00"/>
<line x1="408.10" y1="104.40" x2="412.10" y2="104.40" stroke="#333" stroke-width="1.00"/>
<text transform="translate(406.30 107.21) scale(0.92 1)" font-size="7.80" text-anchor="end" fill="#222" stroke="#222" stroke-width="0.35">4</text>
<line x1="409.90" y1="93.03" x2="412.10" y2="93.03" stroke="#333" stroke-width="1.00"/>
<line x1="408.10" y1="81.65" x2="412.10" y2="81.65" stroke="#333" stroke-width="1.00"/>
<text transform="translate(406.30 84.46) scale(0.92 1)" font-size="7.80" text-anchor="end" fill="#222" stroke="#222" stroke-width="0.35">5</text>
<line x1="409.90" y1="70.28" x2="412.10" y2="70.28" stroke="#333" stroke-width="1.00"/>
<line x1="408.10" y1="58.90" x2="412.10" y2="58.90" stroke="#333" stroke-width="1.00"/>
<text transform="translate(406.30 61.71) scale(0.92 1)" font-size="7.80" text-anchor="end" fill="#222" stroke="#222" stroke-width="0.35">6</text>
<line x1="409.90" y1="47.53" x2="412.10" y2="47.53" stroke="#333" stroke-width="1.00"/>
<line x1="408.10" y1="36.15" x2="412.10" y2="36.15" stroke="#333" stroke-width="1.00"/>
<text transform="translate(406.30 38.96) scale(0.92 1)" font-size="7.80" text-anchor="end" fill="#222" stroke="#222" stroke-width="0.35">7</text>
<line x1="409.90" y1="24.78" x2="412.10" y2="24.78" stroke="#333" stroke-width="1.00"/>
<line x1="408.10" y1="13.40" x2="412.10" y2="13.40" stroke="#333" stroke-width="1.00"/>
<text transform="translate(406.30 16.21) scale(0.92 1)" font-size="7.80" text-anchor="end" fill="#222" stroke="#222" stroke-width="0.35">8</text>
<path d="M412.8,165.8 413.6,174.9 414.3,177.2 415.1,181.8 415.8,174.2 416.2,172.7 416.6,174.2 417.3,181.8 418.1,181.6 418.8,185.2 419.6,181.9 420.3,184.0 421.1,179.5 421.8,167.8 422.6,159.0 423.3,171.0 424.1,174.9 424.8,179.4 425.6,181.8 426.3,181.6 427.0,179.5 427.8,174.9 428.5,177.2 429.3,170.7 429.8,160.1 430.0,165.9 430.8,170.4 431.5,172.6 431.9,172.7 432.3,172.5 433.0,177.2 433.4,177.2 433.8,175.5 434.5,166.9 435.2,161.3 435.3,162.1 436.0,169.0 436.6,177.2 436.8,173.6 437.5,172.7 438.3,173.9 439.0,165.8 439.8,171.4 440.5,180.4 440.7,181.8 441.2,175.7 442.0,164.6 442.1,159.0 442.7,164.2 443.5,173.7 444.2,184.0 445.0,182.6 445.7,181.8 446.5,175.8 447.2,172.4 448.0,164.3 448.0,163.6 448.7,168.5 449.5,175.0 450.2,180.5 450.6,181.8 451.0,182.5 451.7,182.4 452.5,182.9 453.2,179.0 454.0,178.7 454.6,174.9 454.7,173.7 455.4,183.0 455.7,185.2 456.2,179.9 456.9,178.8 457.7,176.1 458.4,184.7 458.8,185.2 459.2,179.3 459.9,175.1 460.2,173.8 460.7,176.7 461.4,181.4 461.7,181.8 462.2,180.0 462.9,172.1 463.7,164.2 463.9,163.6 464.4,164.2 465.2,168.1 465.9,170.4 466.7,175.9 467.4,182.9 468.2,184.2 468.9,183.4 469.6,180.8 469.9,181.8 470.4,182.6 471.1,184.7 471.7,186.3 471.9,183.7 472.6,182.1 473.4,177.2 474.1,166.3 474.7,161.3 474.9,161.7 475.6,163.6 476.4,160.3 477.0,152.2 477.1,152.1 477.9,168.1 478.6,171.9 479.4,179.5 480.1,179.6 480.9,180.6 481.6,173.7 482.0,170.4 482.4,173.8 483.1,177.2 483.9,171.6 484.6,172.7 485.3,172.6 486.1,174.9 486.8,157.1 487.6,131.0 487.7,130.1 488.3,152.7 489.1,174.9 489.8,180.5 490.2,179.5 490.6,175.4 491.3,176.7 492.1,179.5 492.8,167.8 493.6,157.4 494.3,162.1 495.1,163.2 495.4,163.6 495.8,169.8 496.6,181.0 497.1,184.0 497.3,183.5 498.1,184.2 498.8,183.9 499.5,181.0 500.1,182.9 500.3,183.7 501.0,180.9 501.6,179.5 501.8,181.9 502.5,179.3 503.1,184.0 503.3,182.9 504.0,176.6 504.8,166.1 505.2,165.8 505.5,169.9 506.3,170.8 506.6,177.2 507.0,174.7 507.8,171.7 508.5,168.1 509.3,166.3 510.0,166.0 510.8,163.6 511.5,168.6 512.3,176.2 512.6,181.8 513.0,179.9 513.7,182.3 514.5,185.5 515.2,184.3 515.6,186.3 516.0,186.6 516.7,183.6 517.5,185.2 517.9,181.8 518.2,179.5 519.0,172.7 519.7,161.3 520.5,166.5 521.2,168.1 522.0,165.5 522.7,159.6 522.9,161.3 523.5,160.3 524.2,162.5 525.0,157.8 525.1,159.0 525.7,168.3 526.5,166.4 527.2,174.9 527.9,176.0 528.7,172.7 529.4,176.0 530.2,181.8 530.9,183.5 531.7,183.1 532.4,182.3 533.2,186.3 533.9,185.3 534.7,185.8 535.4,180.5 536.2,182.9 536.9,181.8 537.7,176.1 538.4,172.9 539.2,165.6 539.8,161.3 539.9,159.6 540.7,173.4 541.4,182.9 542.1,179.5 542.9,182.1 543.6,176.1 544.4,177.2 545.1,177.2 545.9,172.8 546.6,172.7 547.4,165.6 548.1,162.4 548.9,157.4 549.6,163.5 550.4,172.7 551.1,158.2 551.9,144.7 552.6,148.9 553.4,158.7 554.1,168.1 554.9,161.2 555.6,158.5 556.3,149.3 556.7,149.9 557.1,121.8 557.8,79.8 558.6,38.3 558.7,29.3 559.3,58.3 560.1,59.5 560.5,74.8 560.8,79.2 561.5,65.7 561.6,67.4 562.3,106.0 563.1,146.3 563.6,172.7 563.8,172.0 564.6,176.7 565.3,180.2 565.7,181.8 566.1,181.0 566.8,175.1 567.6,172.7 568.3,172.5 569.1,165.6 569.8,160.1 570.2,161.3 570.5,163.0 571.3,172.7 572.0,163.6 572.8,172.0 573.2,177.2 573.5,174.3 574.3,178.1 575.0,167.2 575.3,168.1 575.8,172.8 576.5,172.7 577.0,177.2 577.3,174.4 578.0,166.9 578.4,165.8 578.8,169.4 579.5,176.5 579.9,181.8 580.3,182.6 581.0,178.0 581.8,178.8 582.5,179.5 583.3,173.4 584.0,170.4 584.7,168.8 585.5,161.1 585.7,162.4 586.2,161.7 587.0,162.2 587.7,165.8 588.5,165.7 589.2,173.4 590.0,178.0 590.7,181.8 591.5,183.3 592.2,181.8 593.0,182.8 593.7,184.0 594.5,182.0 595.2,178.7 596.0,174.9 596.7,173.6 597.5,167.5 598.2,169.0 598.6,163.6 599.0,167.3 599.7,184.0 600.4,177.4 601.2,178.5 601.6,172.7 601.9,177.0 602.7,179.5 603.4,167.4 603.8,160.6 604.2,163.9 604.9,172.7 605.7,175.1 606.1,174.9 606.4,175.3 607.2,172.1 607.9,169.2 608.4,165.8 608.7,163.3 609.4,177.2 610.2,178.5 610.5,184.0 610.9,183.6 611.7,179.0 612.4,177.2 613.2,178.9 613.5,181.8 613.9,178.4 614.6,168.6 614.9,168.1 615.4,177.8 616.1,180.2 616.5,181.8 616.9,182.0 617.6,182.2 618.4,184.0 619.1,183.2 619.5,185.8 619.9,185.5 620.6,183.5 621.4,186.0 621.7,184.0 622.1,183.3 622.9,186.3 623.6,185.3 624.4,184.5 624.7,184.0 625.1,179.0 625.9,174.4 626.2,172.7 626.6,177.8 627.4,179.5 628.1,181.5 628.8,177.1 629.2,172.7 629.6,172.8 630.3,170.4 631.1,173.1 631.7,173.8 631.8,173.0 632.6,170.1 633.3,168.1 633.6,169.9 634.1,170.5 634.8,175.0 635.6,179.4 635.9,181.8 636.3,182.8 637.1,181.8 637.8,184.0 638.6,180.6 639.3,177.8 639.7,177.2 640.1,176.4 640.8,173.7 641.6,171.7 641.9,172.7 642.3,172.7 643.0,176.0 643.8,177.2 644.5,178.8 645.3,185.0 645.7,184.0 646.0,180.9 646.8,180.4 647.5,177.2 648.3,173.2 648.6,174.9 649.0,172.7" fill="none" stroke="#444" stroke-width="0.60" stroke-linejoin="round" stroke-opacity="0.85"/>
<path d="M412.8,165.8 413.6,174.9 414.3,172.1 415.1,169.2 415.8,172.9 416.2,172.7 416.6,172.5 417.3,181.8 418.1,186.7 418.8,185.2 419.6,185.5 420.3,184.0 421.1,179.5 421.8,168.6 422.6,159.0 423.3,165.9 424.1,174.9 424.8,178.0 425.6,181.8 426.3,182.7 427.0,179.5 427.8,174.9 428.5,177.2 429.3,168.5 429.8,160.1 430.0,163.4 430.8,170.4 431.5,164.6 431.9,165.8 432.3,169.9 433.0,168.8 433.4,177.2 433.8,172.5 434.5,169.9 435.2,163.6 435.3,162.9 436.0,176.3 436.6,179.5 436.8,177.6 437.5,172.7 438.3,168.3 439.0,165.8 439.8,175.2 440.5,178.0 440.7,181.8 441.2,178.2 442.0,167.5 442.1,170.4 442.7,175.0 443.5,180.5 444.2,184.0 445.0,180.8 445.7,181.8 446.5,178.6 447.2,170.3 448.0,160.8 448.0,163.6 448.7,171.1 449.5,173.1 450.2,177.7 450.6,181.8 451.0,181.7 451.7,182.4 452.5,182.9 453.2,181.2 454.0,179.7 454.6,174.9 454.7,179.5 455.4,181.9 455.7,185.2 456.2,183.0 456.9,178.8 457.7,176.1 458.4,183.4 458.8,185.2 459.2,180.7 459.9,170.4 460.2,165.8 460.7,171.8 461.4,177.9 461.7,181.8 462.2,179.8 462.9,175.8 463.7,168.1 463.9,164.7 464.4,167.7 465.2,168.1 465.9,170.4 466.7,174.7 467.4,182.9 468.2,182.0 468.9,181.2 469.6,180.9 469.9,181.8 470.4,183.7 471.1,186.3 471.7,186.3 471.9,185.6 472.6,181.6 473.4,177.2 474.1,162.1 474.9,144.2 475.5,127.2 475.6,130.4 476.4,143.6 477.0,149.9 477.1,156.1 477.9,168.1 478.6,173.7 479.4,179.5 480.1,181.9 480.9,180.6 481.6,173.5 482.0,170.4 482.4,172.4 483.1,177.2 483.9,176.2 484.6,172.7 485.3,175.1 486.1,174.9 486.8,166.1 487.6,146.7 487.7,146.0 488.3,159.0 489.1,174.9 489.8,177.0 490.2,179.5 490.6,179.8 491.3,178.9 492.1,179.5 492.8,178.2 493.6,170.4 494.3,171.1 495.1,179.4 495.4,179.5 495.8,179.6 496.6,181.8 497.1,184.0 497.3,183.8 498.1,183.5 498.8,181.2 499.5,184.1 500.1,182.9 500.3,184.3 501.0,180.5 501.6,179.5 501.8,177.8 502.5,183.6 503.1,184.0 503.3,181.7 504.0,174.5 504.8,170.4 505.2,165.8 505.5,167.6 506.3,172.8 506.6,177.2 507.0,173.1 507.8,172.5 508.5,168.1 509.3,163.2 510.0,165.2 510.8,163.6 511.5,169.8 512.3,178.8 512.6,181.8 513.0,177.0 513.7,180.5 514.5,185.1 515.2,187.4 515.6,186.3 516.0,186.8 516.7,183.5 517.5,181.9 517.9,181.8 518.2,179.7 519.0,178.7 519.7,172.7 520.5,170.0 521.2,168.1 522.0,158.9 522.7,158.8 522.9,154.4 523.5,156.9 524.2,159.1 525.0,156.7 525.1,159.0 525.7,158.6 526.5,174.6 527.2,174.9 527.9,174.1 528.7,172.7 529.4,176.7 530.2,181.8 530.9,181.2 531.7,182.0 532.4,186.2 533.2,186.3 533.9,184.8 534.7,184.1 535.4,184.0 536.2,180.4 536.9,181.8 537.7,178.7 538.4,170.3 539.2,166.0 539.8,161.3 539.9,161.0 540.7,171.6 541.4,182.9 542.1,180.7 542.9,178.4 543.6,179.6 544.4,177.2 545.1,173.2 545.9,175.2 546.6,172.7 547.4,168.9 548.1,159.7 548.9,157.4 549.6,162.4 550.4,172.7 551.1,158.0 551.9,144.7 552.6,153.9 553.4,162.8 554.1,168.1 554.9,162.3 555.6,153.1 556.1,149.9 556.3,151.5 557.1,132.7 557.8,126.9 558.6,119.0 558.7,115.8 559.3,116.9 560.1,113.5 560.8,102.3 561.5,111.2 561.6,118.5 562.3,136.2 563.1,151.5 563.6,172.7 563.8,169.7 564.6,178.2 565.3,181.4 565.7,181.8 566.1,181.5 566.8,176.4 567.6,172.7 568.3,172.7 568.9,165.8 569.1,167.2 569.8,163.6 570.2,161.3 570.5,161.5 571.3,172.7 572.0,168.1 572.8,175.9 573.2,177.2 573.5,178.7 574.3,171.4 575.0,166.6 575.3,165.8 575.8,169.8 576.5,174.7 577.0,177.2 577.3,180.3 578.0,173.8 578.4,170.4 578.8,174.3 579.5,179.7 579.9,181.8 580.3,184.7 581.0,181.4 581.8,181.4 582.5,179.5 583.3,174.1 584.0,168.5 584.7,165.7 585.5,166.2 585.7,162.4 586.2,156.9 587.0,163.6 587.7,160.1 588.5,162.7 589.2,170.0 590.0,177.8 590.7,181.8 591.5,183.5 592.2,181.7 593.0,183.8 593.7,184.0 594.5,182.4 595.2,184.5 596.0,179.5 596.7,174.2 597.5,170.2 598.2,166.9 598.6,163.1 599.0,167.1 599.7,184.0 600.4,180.7 601.2,173.0 601.6,172.7 601.9,176.0 602.7,179.5 603.4,165.7 603.8,160.6 604.2,163.9 604.9,172.7 605.7,172.8 606.1,174.9 606.4,176.0 607.2,170.5 607.9,167.3 608.4,168.1 608.7,170.6 609.4,177.2 610.2,179.1 610.5,184.0 610.9,183.3 611.7,178.8 612.4,177.2 613.2,179.9 613.5,181.8 613.9,175.9 614.6,169.8 614.9,168.1 615.4,168.1 616.1,177.4 616.5,181.8 616.9,184.7 617.6,182.0 618.4,184.0 619.1,184.0 619.5,185.8 619.9,187.9 620.6,182.5 621.4,181.7 621.7,184.0 622.1,182.3 622.9,186.3 623.6,184.6 624.4,184.7 624.7,184.0 625.1,178.6 625.9,172.5 626.2,172.7 626.6,171.1 627.4,179.5 628.1,177.4 628.8,172.0 629.2,172.7 629.6,171.6 630.3,170.2 631.1,166.4 631.7,162.4 631.8,164.8 632.6,165.1 633.3,165.8 633.6,169.9 634.1,173.2 634.8,176.7 635.6,179.9 635.9,181.8 636.3,181.7 637.1,185.7 637.8,184.0 638.6,183.9 639.3,179.6 639.7,177.2 640.1,178.2 640.8,176.1 641.6,172.8 641.9,174.9 642.3,173.1 643.0,174.4 643.8,177.2 644.5,181.2 645.3,180.7 645.7,184.0 646.0,181.3 646.8,179.7 647.5,177.2 648.3,172.2 648.6,166.5 649.0,172.7" fill="none" stroke="#ff3a3a" stroke-width="0.60" stroke-linejoin="round" stroke-opacity="0.85"/>
<path d="M412.8,165.8 413.6,174.9 414.3,177.3 415.1,181.8 415.8,178.7 416.2,172.7 416.6,175.9 417.3,181.8 418.1,180.6 418.8,185.2 419.6,186.2 420.3,184.0 421.1,179.5 421.8,172.4 422.6,159.0 423.3,166.1 424.1,174.9 424.8,178.0 425.6,181.8 426.3,181.9 427.0,179.5 427.8,174.9 428.5,177.2 429.3,169.2 429.8,160.1 430.0,162.3 430.8,170.4 431.5,171.9 431.9,172.7 432.3,176.8 433.0,174.5 433.4,177.2 433.8,171.9 434.5,158.6 435.2,149.9 435.3,146.7 436.0,161.6 436.6,177.2 436.8,176.8 437.5,172.7 438.3,165.1 439.0,154.4 439.8,168.7 440.5,177.2 440.7,181.8 441.2,173.5 442.0,160.2 442.1,159.0 442.7,168.5 443.5,173.6 444.2,184.0 445.0,183.1 445.7,181.8 446.5,177.3 447.2,171.2 448.0,163.2 448.0,163.6 448.7,165.2 449.5,173.3 450.2,176.0 450.6,181.8 451.0,183.5 451.7,180.3 452.5,182.9 453.2,178.2 454.0,178.7 454.6,174.9 454.7,174.0 455.4,182.7 455.7,185.2 456.2,183.8 456.9,177.6 457.7,176.1 458.4,181.0 458.8,185.2 459.2,181.7 459.9,176.5 460.2,173.8 460.7,175.1 461.4,179.8 461.7,181.8 462.2,178.2 462.9,170.3 463.7,161.9 463.9,164.7 464.4,165.8 465.2,168.1 465.9,170.4 466.7,177.9 467.4,182.9 468.2,183.2 468.9,182.3 469.6,182.7 469.9,181.8 470.4,183.7 471.1,184.5 471.7,186.3 471.9,183.7 472.6,178.3 473.4,177.2 474.1,169.5 474.7,161.3 474.9,163.1 475.6,163.6 476.4,152.1 477.0,143.1 477.1,144.4 477.9,168.1 478.6,171.9 479.4,179.5 480.1,180.9 480.9,180.6 481.6,174.8 482.0,170.4 482.4,171.0 483.1,177.2 483.9,175.7 484.6,172.7 485.3,171.0 486.1,174.9 486.8,163.4 487.6,153.7 487.7,149.9 488.3,163.8 489.1,174.9 489.8,181.7 490.2,179.5 490.6,179.2 491.3,178.2 492.1,179.5 492.8,176.9 493.6,174.9 494.3,171.2 495.1,180.5 495.4,179.5 495.8,182.5 496.6,181.4 497.1,184.0 497.3,184.4 498.1,181.3 498.8,180.1 499.5,183.9 500.1,182.9 500.3,182.9 501.0,181.9 501.6,179.5 501.8,180.4 502.5,184.3 503.1,184.0 503.3,181.4 504.0,177.8 504.8,170.4 505.2,165.8 505.5,167.8 506.3,174.6 506.6,177.2 507.0,176.0 507.8,174.8 508.5,168.1 509.3,167.3 510.0,162.4 510.8,163.6 511.5,176.4 512.3,181.7 512.6,181.8 513.0,183.5 513.7,187.0 514.5,185.4 515.2,183.9 515.6,186.3 516.0,186.9 516.7,183.6 517.5,180.9 517.9,181.8 518.2,176.9 519.0,177.6 519.7,172.7 520.5,167.1 521.2,168.1 522.0,164.6 522.7,162.1 522.9,161.3 523.5,158.2 524.2,156.6 525.0,157.1 525.1,159.0 525.7,163.3 526.5,171.3 527.2,174.9 527.9,176.7 528.7,172.7 529.4,178.9 530.2,181.8 530.9,183.9 531.7,181.9 532.4,182.8 533.2,186.3 533.9,183.7 534.7,184.9 535.4,184.1 536.2,183.8 536.9,181.8 537.7,173.2 538.4,173.3 539.2,159.9 539.8,161.3 539.9,166.1 540.7,172.4 541.4,182.9 542.1,182.1 542.9,181.8 543.6,175.5 544.4,177.2 545.1,173.8 545.9,173.9 546.6,172.7 547.4,167.5 548.1,165.2 548.9,157.4 549.6,164.3 550.4,172.7 551.1,160.7 551.9,144.7 552.6,147.2 553.4,157.4 554.1,168.1 554.9,162.0 555.6,154.4 556.1,149.9 556.3,155.1 557.1,132.3 557.8,119.0 558.6,102.1 558.7,104.4 559.3,102.8 560.1,113.5 560.8,117.1 561.5,109.0 561.6,106.8 562.3,134.1 563.1,155.5 563.6,172.7 563.8,172.7 564.6,175.1 565.3,181.7 565.7,181.8 566.1,182.3 566.8,175.9 567.6,172.7 568.3,157.3 569.1,144.1 569.8,134.3 570.2,122.6 570.5,142.8 571.3,172.7 572.0,139.7 572.8,163.4 573.2,177.2 573.5,168.5 574.3,159.0 575.0,147.1 575.3,145.3 575.8,161.0 576.5,170.7 577.0,177.2 577.3,173.7 578.0,154.6 578.4,151.0 578.8,160.3 579.5,174.5 579.9,181.8 580.3,181.9 581.0,181.5 581.8,181.1 582.5,179.5 583.3,175.7 584.0,169.0 584.7,167.0 585.5,160.7 585.7,162.4 586.2,157.1 587.0,164.8 587.7,165.8 588.5,171.5 589.2,177.2 590.0,179.3 590.7,181.8 591.5,183.9 592.2,181.6 593.0,186.0 593.7,184.0 594.5,182.0 595.2,180.3 596.0,179.5 596.7,167.5 597.5,156.6 598.2,149.5 598.6,145.8 599.0,155.2 599.7,184.0 600.4,179.8 601.2,174.0 601.6,172.7 601.9,172.0 602.7,179.5 603.4,164.4 603.8,160.6 604.2,160.3 604.9,172.7 605.7,172.3 606.1,174.9 606.4,174.5 607.2,173.1 607.9,168.0 608.4,168.1 608.7,166.9 609.4,177.2 610.2,183.6 610.5,184.0 610.9,180.8 611.7,180.7 612.4,177.2 613.2,182.8 613.5,181.8 613.9,176.7 614.6,169.8 614.9,168.1 615.4,173.9 616.1,181.3 616.5,181.8 616.9,180.8 617.6,182.4 618.4,184.0 619.1,186.0 619.5,185.8 619.9,187.7 620.6,184.2 621.4,185.8 621.7,184.0 622.1,183.7 622.9,186.3 623.6,185.5 624.4,184.9 624.7,184.0 625.1,179.3 625.9,176.6 626.2,172.7 626.6,175.1 627.4,179.5 628.1,175.7 628.8,173.0 629.2,172.7 629.6,173.7 630.3,170.7 631.1,172.5 631.7,173.8 631.8,174.0 632.6,171.1 633.3,171.7 633.6,169.9 634.1,173.6 634.8,175.3 635.6,181.3 635.9,181.8 636.3,179.8 637.1,181.5 637.8,184.0 638.6,181.5 639.3,176.3 639.7,177.2 640.1,172.0 640.8,169.8 641.6,157.6 641.9,157.9 642.3,161.4 643.0,166.9 643.8,177.2 644.5,180.5 645.3,182.7 645.7,184.0 646.0,180.7 646.8,178.6 647.5,177.2 648.3,176.2 648.6,174.9 649.0,172.7" fill="none" stroke="#3a3aff" stroke-width="0.60" stroke-linejoin="round" stroke-opacity="0.85"/>
<rect x="593.5" y="17.3" width="52.8" height="36.1" fill="#fff" stroke="#9a9a9a" stroke-width="1"/>
<line x1="597.20" y1="24.10" x2="616.80" y2="24.10" stroke="#8a8a8a" stroke-width="1.00"/>
<text x="619.6" y="27.3" font-size="9.00" text-anchor="start" font-weight="normal" fill="#111" stroke="#111" stroke-width="0.3">CTC</text>
<line x1="597.20" y1="36.30" x2="616.80" y2="36.30" stroke="#ff8a8a" stroke-width="1.00"/>
<text x="620.2" y="39.5" font-size="9.00" text-anchor="start" font-weight="normal" fill="#111" stroke="#111" stroke-width="0.3">CTCR</text>
<line x1="597.20" y1="48.20" x2="616.80" y2="48.20" stroke="#8a8aff" stroke-width="1.00"/>
<text x="616.8" y="51.4" font-size="9.00" text-anchor="start" font-weight="normal" fill="#111" stroke="#111" stroke-width="0.3">CTCW</text>
<text transform="translate(392.2 115.5) rotate(-90)" font-size="9.7" text-anchor="middle" fill="#1a1a1a" stroke="#1a1a1a" stroke-width="0.3">RMSF(A)</text>
<text x="533.7" y="235.2" font-size="8.90" text-anchor="middle" font-weight="normal" fill="#1a1a1a" stroke="#1a1a1a" stroke-width="0.3">Residue Index</text>
<line x1="62.10" y1="470.40" x2="62.10" y2="257.10" stroke="#333" stroke-width="1.00"/>
<line x1="61.60" y1="470.40" x2="339.00" y2="470.40" stroke="#333" stroke-width="1.00"/>
<line x1="62.10" y1="470.40" x2="62.10" y2="474.40" stroke="#333" stroke-width="1.00"/>
<text transform="translate(62.10 484.60) scale(0.86 1)" font-size="8.80" text-anchor="middle" fill="#222" stroke="#222" stroke-width="0.35">0</text>
<line x1="75.92" y1="470.40" x2="75.92" y2="472.60" stroke="#333" stroke-width="1.00"/>
<line x1="89.74" y1="470.40" x2="89.74" y2="474.40" stroke="#333" stroke-width="1.00"/>
<text transform="translate(89.74 484.60) scale(0.86 1)" font-size="8.80" text-anchor="middle" fill="#222" stroke="#222" stroke-width="0.35">2</text>
<line x1="103.56" y1="470.40" x2="103.56" y2="472.60" stroke="#333" stroke-width="1.00"/>
<line x1="117.38" y1="470.40" x2="117.38" y2="474.40" stroke="#333" stroke-width="1.00"/>
<text transform="translate(117.38 484.60) scale(0.86 1)" font-size="8.80" text-anchor="middle" fill="#222" stroke="#222" stroke-width="0.35">4</text>
<line x1="131.20" y1="470.40" x2="131.20" y2="472.60" stroke="#333" stroke-width="1.00"/>
<line x1="145.02" y1="470.40" x2="145.02" y2="474.40" stroke="#333" stroke-width="1.00"/>
<text transform="translate(145.02 484.60) scale(0.86 1)" font-size="8.80" text-anchor="middle" fill="#222" stroke="#222" stroke-width="0.35">6</text>
<line x1="158.84" y1="470.40" x2="158.84" y2="472.60" stroke="#333" stroke-width="1.00"/>
<line x1="172.66" y1="470.40" x2="172.66" y2="474.40" stroke="#333" stroke-width="1.00"/>
<text transform="translate(172.66 484.60) scale(0.86 1)" font-size="8.80" text-anchor="middle" fill="#222" stroke="#222" stroke-width="0.35">8</text>
<line x1="186.48" y1="470.40" x2="186.48" y2="472.60" stroke="#333" stroke-width="1.00"/>
<line x1="200.30" y1="470.40" x2="200.30" y2="474.40" stroke="#333" stroke-width="1.00"/>
<text transform="translate(200.30 484.60) scale(0.86 1)" font-size="8.80" text-anchor="middle" fill="#222" stroke="#222" stroke-width="0.35">10</text>
<line x1="214.12" y1="470.40" x2="214.12" y2="472.60" stroke="#333" stroke-width="1.00"/>
<line x1="227.94" y1="470.40" x2="227.94" y2="474.40" stroke="#333" stroke-width="1.00"/>
<text transform="translate(227.94 484.60) scale(0.86 1)" font-size="8.80" text-anchor="middle" fill="#222" stroke="#222" stroke-width="0.35">12</text>
<line x1="241.76" y1="470.40" x2="241.76" y2="472.60" stroke="#333" stroke-width="1.00"/>
<line x1="255.58" y1="470.40" x2="255.58" y2="474.40" stroke="#333" stroke-width="1.00"/>
<text transform="translate(255.58 484.60) scale(0.86 1)" font-size="8.80" text-anchor="middle" fill="#222" stroke="#222" stroke-width="0.35">14</text>
<line x1="269.40" y1="470.40" x2="269.40" y2="472.60" stroke="#333" stroke-width="1.00"/>
<line x1="283.22" y1="470.40" x2="283.22" y2="474.40" stroke="#333" stroke-width="1.00"/>
<text transform="translate(283.22 484.60) scale(0.86 1)" font-size="8.80" text-anchor="middle" fill="#222" stroke="#222" stroke-width="0.35">16</text>
<line x1="297.04" y1="470.40" x2="297.04" y2="472.60" stroke="#333" stroke-width="1.00"/>
<line x1="310.86" y1="470.40" x2="310.86" y2="474.40" stroke="#333" stroke-width="1.00"/>
<text transform="translate(310.86 484.60) scale(0.86 1)" font-size="8.80" text-anchor="middle" fill="#222" stroke="#222" stroke-width="0.35">18</text>
<line x1="324.68" y1="470.40" x2="324.68" y2="472.60" stroke="#333" stroke-width="1.00"/>
<line x1="338.50" y1="470.40" x2="338.50" y2="474.40" stroke="#333" stroke-width="1.00"/>
<text transform="translate(338.50 484.60) scale(0.86 1)" font-size="8.80" text-anchor="middle" fill="#222" stroke="#222" stroke-width="0.35">20</text>
<line x1="60.10" y1="470.40" x2="62.10" y2="470.40" stroke="#333" stroke-width="1.00"/>
<line x1="58.10" y1="459.20" x2="62.10" y2="459.20" stroke="#333" stroke-width="1.00"/>
<text transform="translate(55.00 462.33) scale(0.86 1)" font-size="8.70" text-anchor="end" fill="#222" stroke="#222" stroke-width="0.35">18.6</text>
<line x1="59.90" y1="448.00" x2="62.10" y2="448.00" stroke="#333" stroke-width="1.00"/>
<line x1="58.10" y1="436.80" x2="62.10" y2="436.80" stroke="#333" stroke-width="1.00"/>
<text transform="translate(55.00 439.93) scale(0.86 1)" font-size="8.70" text-anchor="end" fill="#222" stroke="#222" stroke-width="0.35">18.7</text>
<line x1="59.90" y1="425.60" x2="62.10" y2="425.60" stroke="#333" stroke-width="1.00"/>
<line x1="58.10" y1="414.40" x2="62.10" y2="414.40" stroke="#333" stroke-width="1.00"/>
<text transform="translate(55.00 417.53) scale(0.86 1)" font-size="8.70" text-anchor="end" fill="#222" stroke="#222" stroke-width="0.35">18.8</text>
<line x1="59.90" y1="403.20" x2="62.10" y2="403.20" stroke="#333" stroke-width="1.00"/>
<line x1="58.10" y1="392.00" x2="62.10" y2="392.00" stroke="#333" stroke-width="1.00"/>
<text transform="translate(55.00 395.13) scale(0.86 1)" font-size="8.70" text-anchor="end" fill="#222" stroke="#222" stroke-width="0.35">18.9</text>
<line x1="59.90" y1="380.80" x2="62.10" y2="380.80" stroke="#333" stroke-width="1.00"/>
<line x1="58.10" y1="369.60" x2="62.10" y2="369.60" stroke="#333" stroke-width="1.00"/>
<text transform="translate(55.00 372.73) scale(0.86 1)" font-size="8.70" text-anchor="end" fill="#222" stroke="#222" stroke-width="0.35">19.0</text>
<line x1="59.90" y1="358.40" x2="62.10" y2="358.40" stroke="#333" stroke-width="1.00"/>
<line x1="58.10" y1="347.20" x2="62.10" y2="347.20" stroke="#333" stroke-width="1.00"/>
<text transform="translate(55.00 350.33) scale(0.86 1)" font-size="8.70" text-anchor="end" fill="#222" stroke="#222" stroke-width="0.35">19.1</text>
<line x1="59.90" y1="336.00" x2="62.10" y2="336.00" stroke="#333" stroke-width="1.00"/>
<line x1="58.10" y1="324.80" x2="62.10" y2="324.80" stroke="#333" stroke-width="1.00"/>
<text transform="translate(55.00 327.93) scale(0.86 1)" font-size="8.70" text-anchor="end" fill="#222" stroke="#222" stroke-width="0.35">19.2</text>
<line x1="59.90" y1="313.60" x2="62.10" y2="313.60" stroke="#333" stroke-width="1.00"/>
<line x1="58.10" y1="302.40" x2="62.10" y2="302.40" stroke="#333" stroke-width="1.00"/>
<text transform="translate(55.00 305.53) scale(0.86 1)" font-size="8.70" text-anchor="end" fill="#222" stroke="#222" stroke-width="0.35">19.3</text>
<line x1="59.90" y1="291.20" x2="62.10" y2="291.20" stroke="#333" stroke-width="1.00"/>
<line x1="58.10" y1="280.00" x2="62.10" y2="280.00" stroke="#333" stroke-width="1.00"/>
<text transform="translate(55.00 283.13) scale(0.86 1)" font-size="8.70" text-anchor="end" fill="#222" stroke="#222" stroke-width="0.35">19.4</text>
<line x1="59.90" y1="268.80" x2="62.10" y2="268.80" stroke="#333" stroke-width="1.00"/>
<line x1="58.10" y1="257.60" x2="62.10" y2="257.60" stroke="#333" stroke-width="1.00"/>
<text transform="translate(55.00 260.73) scale(0.86 1)" font-size="8.70" text-anchor="end" fill="#222" stroke="#222" stroke-width="0.35">19.5</text>
<path d="M62.1,338.8 62.2,324.4 62.3,330.0 62.3,330.8 62.4,347.9 62.5,348.2 62.6,349.1 62.6,329.4 62.7,328.8 62.8,354.5 62.9,357.7 62.9,342.5 63.0,330.0 63.1,342.1 63.2,338.8 63.3,341.1 63.3,340.6 63.4,348.9 63.5,342.2 63.6,340.0 63.6,348.6 63.7,328.7 63.8,359.0 63.9,351.5 63.9,356.7 64.0,335.9 64.1,336.1 64.2,356.9 64.3,348.4 64.3,354.8 64.4,365.6 64.5,360.0 64.6,348.1 64.6,346.2 64.7,361.2 64.8,353.8 64.9,345.2 64.9,339.4 65.0,351.0 65.1,363.7 65.2,371.9 65.2,353.4 65.3,357.1 65.4,359.7 65.5,360.4 65.6,358.4 65.6,349.9 65.7,343.3 65.8,358.5 65.9,327.5 65.9,330.7 66.0,347.3 66.1,339.6 66.2,325.0 66.2,351.0 66.3,347.4 66.4,347.4 66.5,352.2 66.6,333.7 66.6,344.4 66.7,341.1 66.8,341.2 66.9,344.0 66.9,324.8 67.0,343.1 67.1,350.6 67.2,356.4 67.2,349.0 67.3,339.9 67.4,340.5 67.5,339.4 67.6,347.2 67.6,337.6 67.7,337.0 67.8,354.8 67.9,337.0 67.9,336.7 68.0,344.3 68.1,329.5 68.2,341.2 68.2,350.4 68.3,331.9 68.4,322.7 68.5,354.7 68.6,342.5 68.6,331.7 68.7,334.4 68.8,329.9 68.9,326.7 68.9,361.1 69.0,334.4 69.1,360.7 69.2,354.2 69.2,356.8 69.3,340.7 69.4,365.2 69.5,346.6 69.5,364.8 69.6,326.4 69.7,354.1 69.8,348.0 69.9,360.0 69.9,352.4 70.0,330.3 70.1,340.8 70.2,355.1 70.2,346.7 70.3,341.9 70.4,320.2 70.5,340.4 70.5,334.2 70.6,327.5 70.7,315.0 70.8,333.1 70.9,352.7 70.9,352.6 71.0,323.5 71.1,338.5 71.2,364.7 71.2,349.6 71.3,349.3 71.4,348.2 71.5,337.3 71.5,336.8 71.6,329.0 71.7,364.2 71.8,339.4 71.9,344.1 71.9,352.7 72.0,330.8 72.1,354.1 72.2,354.2 72.2,320.5 72.3,333.7 72.4,329.1 72.5,323.8 72.5,352.8 72.6,323.8 72.7,338.3 72.8,333.8 72.9,331.2 72.9,333.3 73.0,344.8 73.1,340.7 73.2,338.6 73.2,328.5 73.3,364.3 73.4,323.9 73.5,349.7 73.5,315.1 73.6,333.9 73.7,319.9 73.8,342.3 73.9,321.0 73.9,336.2 74.0,337.0 74.1,337.5 74.2,368.0 74.2,360.9 74.3,363.3 74.4,345.0 74.5,348.9 74.5,337.6 74.6,343.0 74.7,333.2 74.8,354.8 74.8,342.9 74.9,352.2 75.0,359.4 75.1,366.0 75.2,347.2 75.2,356.4 75.3,351.9 75.4,356.5 75.5,357.7 75.5,320.5 75.6,344.0 75.7,358.3 75.8,345.1 75.8,341.8 75.9,357.8 76.0,329.0 76.1,350.7 76.2,334.3 76.2,345.1 76.3,348.8 76.4,314.8 76.5,346.2 76.5,356.1 76.6,344.6 76.7,349.7 76.8,326.1 76.8,333.2 76.9,351.2 77.0,318.1 77.1,340.4 77.2,352.6 77.2,326.0 77.3,331.3 77.4,350.7 77.5,352.9 77.5,343.2 77.6,350.4 77.7,338.2 77.8,342.8 77.8,360.9 77.9,361.1 78.0,352.9 78.1,336.4 78.2,358.7 78.2,345.0 78.3,359.0 78.4,346.6 78.5,357.4 78.5,345.8 78.6,359.9 78.7,357.8 78.8,327.2 78.8,338.1 78.9,362.4 79.0,335.0 79.1,350.1 79.1,333.2 79.2,363.8 79.3,350.2 79.4,354.4 79.5,358.0 79.5,363.6 79.6,328.9 79.7,351.0 79.8,354.5 79.8,369.4 79.9,337.7 80.0,337.0 80.1,350.5 80.1,362.8 80.2,339.5 80.3,344.3 80.4,359.2 80.5,317.9 80.5,332.1 80.6,350.7 80.7,348.2 80.8,329.9 80.8,325.1 80.9,331.8 81.0,332.5 81.1,342.6 81.1,315.1 81.2,341.7 81.3,336.4 81.4,335.0 81.5,343.0 81.5,331.6 81.6,323.5 81.7,365.9 81.8,344.6 81.8,328.8 81.9,328.0 82.0,350.0 82.1,338.0 82.1,344.0 82.2,344.8 82.3,353.6 82.4,335.1 82.5,332.6 82.5,327.9 82.6,342.9 82.7,344.5 82.8,333.8 82.8,322.8 82.9,350.1 83.0,348.8 83.1,328.0 83.1,360.5 83.2,371.9 83.3,335.4 83.4,329.8 83.5,329.6 83.5,332.1 83.6,330.0 83.7,349.1 83.8,328.5 83.8,350.7 83.9,356.6 84.0,341.1 84.1,353.0 84.1,350.9 84.2,345.9 84.3,343.2 84.4,336.7 84.4,349.5 84.5,344.0 84.6,338.1 84.7,333.6 84.8,329.1 84.8,324.9 84.9,330.4 85.0,327.6 85.1,325.1 85.1,333.0 85.2,331.1 85.3,343.7 85.4,331.1 85.4,322.7 85.5,340.9 85.6,318.3 85.7,338.4 85.8,320.0 85.8,312.9 85.9,329.1 86.0,336.2 86.1,327.4 86.1,337.8 86.2,344.7 86.3,324.1 86.4,358.7 86.4,328.2 86.5,348.2 86.6,329.8 86.7,346.7 86.8,320.8 86.8,347.0 86.9,365.8 87.0,316.4 87.1,339.7 87.1,340.7 87.2,338.6 87.3,341.4 87.4,333.8 87.4,345.1 87.5,311.8 87.6,343.7 87.7,328.3 87.8,320.4 87.8,338.2 87.9,326.3 88.0,342.9 88.1,348.9 88.1,347.8 88.2,327.7 88.3,329.1 88.4,352.1 88.4,331.1 88.5,353.1 88.6,340.7 88.7,334.5 88.7,365.0 88.8,334.0 88.9,343.7 89.0,356.3 89.1,331.5 89.1,335.6 89.2,334.6 89.3,341.7 89.4,346.1 89.4,353.3 89.5,341.0 89.6,350.3 89.7,343.6 89.7,334.1 89.8,329.9 89.9,334.2 90.0,335.9 90.1,342.2 90.1,328.3 90.2,325.4 90.3,343.9 90.4,343.0 90.4,349.0 90.5,341.4 90.6,343.3 90.7,316.9 90.7,324.3 90.8,355.6 90.9,332.5 91.0,344.7 91.1,362.4 91.1,340.7 91.2,352.0 91.3,341.4 91.4,339.4 91.4,352.9 91.5,328.6 91.6,343.6 91.7,353.3 91.7,362.1 91.8,318.2 91.9,351.1 92.0,340.6 92.1,337.7 92.1,330.7 92.2,356.0 92.3,365.4 92.4,340.7 92.4,359.6 92.5,346.8 92.6,321.3 92.7,352.0 92.7,338.3 92.8,358.9 92.9,321.8 93.0,350.9 93.1,342.0 93.1,347.8 93.2,352.8 93.3,333.5 93.4,347.7 93.4,355.2 93.5,350.7 93.6,348.0 93.7,343.7 93.7,343.4 93.8,354.5 93.9,351.3 94.0,322.3 94.0,348.6 94.1,330.1 94.2,350.0 94.3,340.6 94.4,351.2 94.4,366.1 94.5,349.8 94.6,333.6 94.7,329.4 94.7,331.8 94.8,350.6 94.9,348.4 95.0,358.0 95.0,342.1 95.1,336.1 95.2,342.8 95.3,353.7 95.4,340.6 95.4,343.9 95.5,339.5 95.6,346.9 95.7,342.5 95.7,353.0 95.8,354.3 95.9,368.1 96.0,342.5 96.0,343.3 96.1,356.3 96.2,328.6 96.3,333.0 96.4,328.3 96.4,350.0 96.5,352.5 96.6,346.8 96.7,340.7 96.7,334.5 96.8,362.4 96.9,353.2 97.0,373.5 97.0,352.6 97.1,338.1 97.2,339.4 97.3,320.9 97.4,337.5 97.4,349.4 97.5,353.0 97.6,341.5 97.7,326.1 97.7,359.5 97.8,356.4 97.9,344.9 98.0,349.8 98.0,335.7 98.1,350.8 98.2,344.8 98.3,345.1 98.3,342.4 98.4,329.2 98.5,359.5 98.6,364.7 98.7,362.4 98.7,349.3 98.8,345.2 98.9,341.0 99.0,343.9 99.0,346.2 99.1,367.9 99.2,355.0 99.3,342.4 99.3,360.9 99.4,352.1 99.5,351.4 99.6,341.0 99.7,356.8 99.7,366.3 99.8,352.0 99.9,351.5 100.0,339.0 100.0,355.3 100.1,351.0 100.2,353.9 100.3,353.0 100.3,323.5 100.4,370.0 100.5,338.7 100.6,353.5 100.7,342.6 100.7,360.0 100.8,339.4 100.9,350.2 101.0,334.3 101.0,325.1 101.1,355.0 101.2,359.7 101.3,329.4 101.3,321.3 101.4,344.3 101.5,368.6 101.6,363.5 101.7,335.4 101.7,326.5 101.8,347.9 101.9,361.8 102.0,333.6 102.0,362.2 102.1,354.7 102.2,354.5 102.3,355.0 102.3,342.0 102.4,359.5 102.5,347.1 102.6,336.6 102.6,336.5 102.7,333.1 102.8,351.9 102.9,366.1 103.0,343.4 103.0,341.7 103.1,339.6 103.2,345.9 103.3,335.1 103.3,350.9 103.4,329.4 103.5,318.4 103.6,337.0 103.6,338.6 103.7,332.9 103.8,335.0 103.9,335.9 104.0,341.2 104.0,347.7 104.1,327.4 104.2,359.3 104.3,333.3 104.3,355.8 104.4,340.7 104.5,356.6 104.6,362.8 104.6,356.4 104.7,354.8 104.8,327.7 104.9,348.5 105.0,348.7 105.0,351.0 105.1,339.9 105.2,339.6 105.3,333.2 105.3,347.8 105.4,354.0 105.5,341.5 105.6,331.3 105.6,332.8 105.7,352.4 105.8,346.8 105.9,337.4 106.0,347.6 106.0,356.8 106.1,338.8 106.2,345.0 106.3,337.8 106.3,331.6 106.4,346.8 106.5,354.1 106.6,349.9 106.6,332.5 106.7,339.9 106.8,331.9 106.9,344.1 107.0,331.3 107.0,344.5 107.1,345.8 107.2,338.3 107.3,339.4 107.3,340.7 107.4,337.5 107.5,327.6 107.6,346.1 107.6,358.5 107.7,334.4 107.8,318.2 107.9,328.0 107.9,353.7 108.0,335.9 108.1,329.2 108.2,332.6 108.3,323.2 108.3,335.1 108.4,369.3 108.5,339.4 108.6,354.8 108.6,356.6 108.7,365.3 108.8,360.4 108.9,350.1 108.9,333.7 109.0,333.3 109.1,338.9 109.2,332.5 109.3,350.8 109.3,355.5 109.4,324.1 109.5,339.9 109.6,348.6 109.6,335.7 109.7,352.3 109.8,325.9 109.9,358.3 109.9,349.6 110.0,345.7 110.1,345.9 110.2,358.0 110.3,334.2 110.3,336.9 110.4,343.2 110.5,337.1 110.6,348.4 110.6,331.7 110.7,348.5 110.8,353.6 110.9,343.2 110.9,343.3 111.0,337.2 111.1,333.8 111.2,322.5 111.3,356.8 111.3,359.7 111.4,338.1 111.5,325.8 111.6,327.9 111.6,339.6 111.7,339.9 111.8,339.6 111.9,315.9 111.9,338.2 112.0,332.8 112.1,351.4 112.2,328.7 112.2,342.3 112.3,345.5 112.4,347.5 112.5,347.0 112.6,322.1 112.6,340.2 112.7,340.0 112.8,356.0 112.9,363.3 112.9,371.4 113.0,353.7 113.1,344.8 113.2,343.7 113.2,362.0 113.3,337.6 113.4,350.2 113.5,330.1 113.6,344.4 113.6,339.6 113.7,346.9 113.8,345.1 113.9,335.9 113.9,328.9 114.0,326.6 114.1,342.2 114.2,347.9 114.2,329.2 114.3,319.7 114.4,339.8 114.5,339.6 114.6,340.4 114.6,332.6 114.7,326.8 114.8,349.1 114.9,334.8 114.9,324.4 115.0,334.1 115.1,349.2 115.2,356.3 115.2,338.9 115.3,323.2 115.4,328.4 115.5,320.5 115.6,340.2 115.6,335.3 115.7,345.3 115.8,330.7 115.9,339.7 115.9,347.0 116.0,343.2 116.1,333.2 116.2,330.1 116.2,331.5 116.3,316.8 116.4,332.7 116.5,351.9 116.6,330.4 116.6,352.7 116.7,356.4 116.8,336.9 116.9,352.1 116.9,345.8 117.0,351.5 117.1,347.7 117.2,364.3 117.2,334.4 117.3,330.0 117.4,345.5 117.5,328.3 117.5,332.2 117.6,328.1 117.7,325.0 117.8,355.2 117.9,332.9 117.9,344.1 118.0,334.5 118.1,346.5 118.2,321.1 118.2,326.1 118.3,345.2 118.4,340.6 118.5,343.4 118.5,343.6 118.6,336.6 118.7,358.2 118.8,363.8 118.9,336.1 118.9,345.4 119.0,355.1 119.1,358.4 119.2,368.1 119.2,355.4 119.3,371.9 119.4,351.2 119.5,349.2 119.5,359.0 119.6,339.1 119.7,340.5 119.8,345.1 119.9,354.0 119.9,351.5 120.0,353.4 120.1,363.6 120.2,341.0 120.2,332.5 120.3,357.3 120.4,336.4 120.5,343.3 120.5,339.8 120.6,333.7 120.7,332.3 120.8,351.3 120.9,336.6 120.9,350.8 121.0,372.0 121.1,325.4 121.2,348.3 121.2,352.5 121.3,334.0 121.4,343.8 121.5,355.1 121.5,346.6 121.6,345.6 121.7,352.0 121.8,375.0 121.8,349.3 121.9,362.1 122.0,363.8 122.1,352.0 122.2,328.7 122.2,366.1 122.3,349.1 122.4,368.8 122.5,369.7 122.5,355.2 122.6,340.2 122.7,346.7 122.8,346.2 122.8,335.4 122.9,343.5 123.0,355.6 123.1,359.8 123.2,352.6 123.2,345.1 123.3,352.1 123.4,350.2 123.5,352.6 123.5,354.0 123.6,356.9 123.7,351.0 123.8,321.1 123.8,328.0 123.9,323.8 124.0,337.5 124.1,340.0 124.2,329.7 124.2,343.5 124.3,327.3 124.4,339.7 124.5,333.8 124.5,352.9 124.6,325.5 124.7,345.1 124.8,341.3 124.8,358.1 124.9,358.1 125.0,342.8 125.1,368.9 125.2,336.1 125.2,355.8 125.3,337.4 125.4,354.5 125.5,346.5 125.5,344.0 125.6,333.6 125.7,352.4 125.8,335.8 125.8,337.9 125.9,331.8 126.0,349.2 126.1,339.2 126.2,346.9 126.2,342.2 126.3,325.1 126.4,322.9 126.5,345.4 126.5,335.7 126.6,333.7 126.7,342.5 126.8,335.6 126.8,342.7 126.9,324.5 127.0,341.6 127.1,315.9 127.1,354.7 127.2,327.9 127.3,329.2 127.4,345.0 127.5,358.5 127.5,339.3 127.6,356.4 127.7,331.7 127.8,343.4 127.8,345.2 127.9,343.9 128.0,336.4 128.1,344.5 128.1,337.3 128.2,338.4 128.3,347.2 128.4,328.0 128.5,321.4 128.5,325.9 128.6,336.0 128.7,329.1 128.8,348.1 128.8,345.3 128.9,346.1 129.0,343.3 129.1,328.4 129.1,347.9 129.2,347.2 129.3,358.5 129.4,350.9 129.5,363.0 129.5,335.8 129.6,348.2 129.7,336.6 129.8,331.9 129.8,341.8 129.9,343.0 130.0,344.7 130.1,350.3 130.1,368.8 130.2,341.9 130.3,350.8 130.4,353.2 130.5,348.0 130.5,341.3 130.6,333.0 130.7,351.3 130.8,353.9 130.8,327.7 130.9,333.0 131.0,329.6 131.1,340.8 131.1,352.6 131.2,322.1 131.3,322.7 131.4,343.0 131.4,332.0 131.5,324.9 131.6,313.0 131.7,325.2 131.8,333.4 131.8,343.2 131.9,347.3 132.0,344.4 132.1,352.5 132.1,339.5 132.2,346.0 132.3,350.9 132.4,359.9 132.4,347.5 132.5,352.1 132.6,343.6 132.7,357.7 132.8,339.2 132.8,347.4 132.9,324.7 133.0,354.1 133.1,323.7 133.1,321.0 133.2,345.2 133.3,321.8 133.4,331.0 133.4,356.1 133.5,347.9 133.6,329.5 133.7,336.3 133.8,329.2 133.8,333.5 133.9,321.9 134.0,340.8 134.1,350.3 134.1,346.9 134.2,341.0 134.3,352.0 134.4,343.8 134.4,347.1 134.5,349.4 134.6,347.4 134.7,351.8 134.8,337.0 134.8,346.9 134.9,339.5 135.0,363.8 135.1,347.6 135.1,353.1 135.2,369.4 135.3,325.4 135.4,362.6 135.4,339.0 135.5,339.8 135.6,335.3 135.7,352.7 135.8,372.9 135.8,340.4 135.9,348.2 136.0,339.6 136.1,348.5 136.1,332.5 136.2,341.1 136.3,350.9 136.4,323.6 136.4,353.8 136.5,371.5 136.6,346.0 136.7,342.0 136.7,341.1 136.8,353.5 136.9,348.1 137.0,357.7 137.1,353.6 137.1,342.3 137.2,356.0 137.3,342.8 137.4,353.8 137.4,350.2 137.5,354.6 137.6,338.1 137.7,349.1 137.7,358.6 137.8,348.1 137.9,335.9 138.0,345.7 138.1,359.8 138.1,356.1 138.2,358.7 138.3,331.8 138.4,344.2 138.4,336.0 138.5,336.1 138.6,348.5 138.7,332.5 138.7,345.9 138.8,341.1 138.9,367.1 139.0,346.1 139.1,349.8 139.1,354.0 139.2,343.7 139.3,360.6 139.4,350.4 139.4,373.1 139.5,351.9 139.6,358.1 139.7,332.1 139.7,349.9 139.8,346.0 139.9,377.5 140.0,358.2 140.1,366.5 140.1,339.3 140.2,343.4 140.3,352.9 140.4,352.6 140.4,353.3 140.5,355.1 140.6,347.2 140.7,347.8 140.7,355.9 140.8,362.1 140.9,336.1 141.0,358.8 141.0,362.1 141.1,329.7 141.2,353.2 141.3,356.3 141.4,369.9 141.4,366.7 141.5,340.4 141.6,359.4 141.7,343.3 141.7,368.0 141.8,346.8 141.9,353.7 142.0,359.2 142.0,373.4 142.1,338.0 142.2,350.4 142.3,351.5 142.4,340.8 142.4,361.4 142.5,334.4 142.6,341.1 142.7,343.9 142.7,343.3 142.8,357.1 142.9,351.2 143.0,343.9 143.0,353.7 143.1,332.2 143.2,337.3 143.3,330.4 143.4,362.1 143.4,328.0 143.5,350.5 143.6,353.7 143.7,348.6 143.7,329.9 143.8,340.7 143.9,341.5 144.0,334.5 144.0,333.9 144.1,332.9 144.2,335.0 144.3,341.7 144.4,339.1 144.4,359.7 144.5,346.4 144.6,369.5 144.7,346.8 144.7,345.6 144.8,356.3 144.9,355.1 145.0,339.0 145.0,355.6 145.1,352.2 145.2,331.6 145.3,348.8 145.4,341.6 145.4,346.0 145.5,343.7 145.6,336.4 145.7,350.6 145.7,339.3 145.8,352.5 145.9,351.5 146.0,340.0 146.0,353.6 146.1,372.0 146.2,349.5 146.3,332.8 146.3,358.1 146.4,340.5 146.5,351.2 146.6,363.9 146.7,350.9 146.7,372.6 146.8,335.2 146.9,353.4 147.0,345.7 147.0,350.8 147.1,368.0 147.2,356.8 147.3,340.0 147.3,344.4 147.4,357.6 147.5,361.3 147.6,354.0 147.7,367.2 147.7,349.8 147.8,370.1 147.9,359.9 148.0,341.9 148.0,350.7 148.1,357.2 148.2,347.7 148.3,351.6 148.3,345.2 148.4,335.3 148.5,347.7 148.6,364.6 148.7,340.9 148.7,354.0 148.8,332.5 148.9,334.4 149.0,345.6 149.0,340.9 149.1,362.6 149.2,366.3 149.3,351.8 149.3,345.1 149.4,334.7 149.5,357.7 149.6,361.2 149.7,361.1 149.7,360.6 149.8,351.1 149.9,369.2 150.0,345.7 150.0,368.7 150.1,329.9 150.2,355.7 150.3,352.9 150.3,371.7 150.4,349.9 150.5,373.5 150.6,343.0 150.6,359.0 150.7,349.1 150.8,346.4 150.9,342.0 151.0,338.0 151.0,341.2 151.1,346.3 151.2,362.2 151.3,369.0 151.3,349.4 151.4,354.8 151.5,364.8 151.6,360.2 151.6,349.6 151.7,350.0 151.8,366.6 151.9,374.4 152.0,381.0 152.0,365.0 152.1,363.4 152.2,374.5 152.3,348.4 152.3,339.4 152.4,368.6 152.5,352.3 152.6,361.7 152.6,354.3 152.7,358.6 152.8,361.2 152.9,349.6 153.0,351.6 153.0,363.1 153.1,352.4 153.2,363.6 153.3,356.8 153.3,349.4 153.4,350.9 153.5,373.3 153.6,350.5 153.6,370.9 153.7,356.3 153.8,352.0 153.9,376.9 154.0,372.8 154.0,352.5 154.1,358.1 154.2,384.0 154.3,350.4 154.3,367.0 154.4,372.4 154.5,356.0 154.6,365.1 154.6,357.2 154.7,354.5 154.8,332.8 154.9,346.9 155.0,354.4 155.0,356.3 155.1,353.9 155.2,352.7 155.3,365.3 155.3,353.3 155.4,366.9 155.5,366.0 155.6,361.1 155.6,349.3 155.7,351.5 155.8,384.9 155.9,346.8 155.9,358.9 156.0,358.1 156.1,342.4 156.2,365.6 156.3,368.7 156.3,378.7 156.4,369.7 156.5,347.6 156.6,365.3 156.6,367.6 156.7,351.7 156.8,366.8 156.9,363.7 156.9,364.0 157.0,350.6 157.1,362.6 157.2,360.6 157.3,357.2 157.3,375.5 157.4,358.3 157.5,375.4 157.6,368.8 157.6,360.9 157.7,354.6 157.8,358.9 157.9,344.9 157.9,355.6 158.0,351.1 158.1,362.9 158.2,365.0 158.3,339.8 158.3,376.1 158.4,345.4 158.5,366.4 158.6,351.0 158.6,372.7 158.7,353.7 158.8,356.2 158.9,383.3 158.9,367.8 159.0,354.0 159.1,350.0 159.2,357.6 159.3,366.6 159.3,360.2 159.4,373.0 159.5,368.8 159.6,354.6 159.6,356.3 159.7,347.9 159.8,353.2 159.9,348.6 159.9,356.2 160.0,348.7 160.1,330.9 160.2,367.3 160.2,355.7 160.3,363.0 160.4,353.0 160.5,353.8 160.6,368.1 160.6,357.6 160.7,357.2 160.8,360.9 160.9,356.4 160.9,344.8 161.0,353.5 161.1,363.1 161.2,357.4 161.2,337.5 161.3,365.7 161.4,345.6 161.5,364.4 161.6,373.9 161.6,363.4 161.7,351.8 161.8,358.5 161.9,364.2 161.9,365.9 162.0,368.6 162.1,370.3 162.2,365.5 162.2,383.2 162.3,353.0 162.4,353.5 162.5,354.3 162.6,344.1 162.6,359.7 162.7,352.5 162.8,376.7 162.9,349.8 162.9,356.6 163.0,345.9 163.1,343.7 163.2,355.8 163.2,368.4 163.3,351.0 163.4,345.4 163.5,344.5 163.6,360.0 163.6,363.8 163.7,355.9 163.8,363.9 163.9,376.1 163.9,348.1 164.0,347.7 164.1,346.1 164.2,364.0 164.2,356.1 164.3,370.4 164.4,374.4 164.5,353.4 164.6,379.5 164.6,363.0 164.7,333.3 164.8,344.5 164.9,349.6 164.9,349.2 165.0,357.3 165.1,360.8 165.2,331.0 165.2,355.7 165.3,360.2 165.4,346.3 165.5,354.7 165.5,339.4 165.6,361.1 165.7,363.0 165.8,358.0 165.9,335.3 165.9,343.0 166.0,351.1 166.1,353.9 166.2,352.2 166.2,368.2 166.3,352.6 166.4,364.7 166.5,356.9 166.5,359.2 166.6,355.6 166.7,363.5 166.8,346.6 166.9,352.5 166.9,364.5 167.0,350.3 167.1,358.8 167.2,350.5 167.2,345.2 167.3,360.5 167.4,355.6 167.5,354.8 167.5,355.6 167.6,333.6 167.7,353.3 167.8,370.8 167.9,357.1 167.9,364.9 168.0,333.2 168.1,365.2 168.2,369.6 168.2,347.2 168.3,359.6 168.4,355.9 168.5,351.9 168.5,354.8 168.6,349.7 168.7,368.3 168.8,343.0 168.9,333.5 168.9,318.8 169.0,339.0 169.1,330.2 169.2,348.0 169.2,323.5 169.3,315.4 169.4,337.4 169.5,345.7 169.5,341.8 169.6,325.0 169.7,357.1 169.8,328.2 169.8,354.0 169.9,351.7 170.0,338.9 170.1,334.3 170.2,330.4 170.2,325.2 170.3,354.8 170.4,341.5 170.5,334.2 170.5,340.7 170.6,331.8 170.7,345.2 170.8,349.9 170.8,372.8 170.9,368.9 171.0,338.2 171.1,360.0 171.2,342.5 171.2,337.6 171.3,345.4 171.4,331.3 171.5,349.4 171.5,334.3 171.6,342.0 171.7,357.4 171.8,363.5 171.8,343.0 171.9,322.7 172.0,329.1 172.1,338.2 172.2,335.6 172.2,335.4 172.3,349.4 172.4,331.8 172.5,343.9 172.5,352.5 172.6,320.2 172.7,337.0 172.8,345.0 172.8,333.6 172.9,355.7 173.0,355.2 173.1,318.4 173.2,333.5 173.2,353.6 173.3,360.3 173.4,343.0 173.5,354.2 173.5,326.7 173.6,364.4 173.7,327.3 173.8,352.9 173.8,354.9 173.9,339.2 174.0,354.0 174.1,345.9 174.1,345.9 174.2,366.1 174.3,355.0 174.4,338.4 174.5,367.9 174.5,360.6 174.6,355.9 174.7,334.5 174.8,334.1 174.8,326.5 174.9,354.3 175.0,332.3 175.1,338.1 175.1,355.5 175.2,333.7 175.3,339.8 175.4,347.6 175.5,352.7 175.5,359.1 175.6,334.4 175.7,335.1 175.8,343.7 175.8,344.7 175.9,347.0 176.0,330.8 176.1,337.2 176.1,360.2 176.2,338.1 176.3,333.5 176.4,346.2 176.5,345.0 176.5,346.8 176.6,332.9 176.7,345.6 176.8,341.6 176.8,340.4 176.9,323.1 177.0,358.7 177.1,314.4 177.1,354.2 177.2,342.2 177.3,348.9 177.4,338.0 177.5,333.5 177.5,314.7 177.6,327.8 177.7,350.9 177.8,341.3 177.8,343.2 177.9,352.8 178.0,337.9 178.1,341.4 178.1,349.2 178.2,351.3 178.3,334.2 178.4,343.6 178.5,328.1 178.5,332.3 178.6,357.3 178.7,368.6 178.8,344.1 178.8,353.2 178.9,357.9 179.0,354.4 179.1,328.8 179.1,348.2 179.2,322.9 179.3,335.7 179.4,365.2 179.4,339.2 179.5,326.7 179.6,297.9 179.7,359.7 179.8,346.5 179.8,352.2 179.9,326.2 180.0,356.9 180.1,327.0 180.1,363.9 180.2,357.7 180.3,343.8 180.4,341.7 180.4,346.2 180.5,329.0 180.6,326.6 180.7,324.6 180.8,348.8 180.8,336.9 180.9,350.1 181.0,329.4 181.1,372.1 181.1,353.3 181.2,347.8 181.3,350.8 181.4,326.0 181.4,361.2 181.5,354.2 181.6,358.6 181.7,344.6 181.8,354.7 181.8,332.5 181.9,332.7 182.0,368.0 182.1,367.7 182.1,332.2 182.2,336.7 182.3,359.5 182.4,340.3 182.4,353.9 182.5,329.2 182.6,353.9 182.7,345.3 182.8,332.3 182.8,337.5 182.9,326.1 183.0,334.3 183.1,357.9 183.1,338.4 183.2,355.7 183.3,326.4 183.4,325.9 183.4,332.1 183.5,320.4 183.6,337.2 183.7,329.4 183.7,335.8 183.8,336.4 183.9,336.5 184.0,343.2 184.1,325.2 184.1,359.4 184.2,364.9 184.3,355.2 184.4,326.9 184.4,348.5 184.5,354.7 184.6,354.9 184.7,339.5 184.7,346.1 184.8,331.9 184.9,350.9 185.0,337.3 185.1,359.3 185.1,343.3 185.2,324.2 185.3,352.2 185.4,350.7 185.4,336.6 185.5,358.5 185.6,350.6 185.7,350.1 185.7,339.2 185.8,357.4 185.9,323.6 186.0,338.6 186.1,338.1 186.1,342.4 186.2,341.1 186.3,366.8 186.4,325.4 186.4,350.7 186.5,330.2 186.6,341.7 186.7,342.6 186.7,334.8 186.8,321.7 186.9,344.0 187.0,351.0 187.1,339.7 187.1,372.4 187.2,357.0 187.3,358.9 187.4,351.5 187.4,363.3 187.5,336.6 187.6,349.8 187.7,343.9 187.7,344.7 187.8,348.0 187.9,351.3 188.0,327.6 188.1,332.6 188.1,324.3 188.2,343.9 188.3,338.6 188.4,337.6 188.4,345.7 188.5,342.1 188.6,360.5 188.7,354.7 188.7,350.6 188.8,352.2 188.9,332.1 189.0,331.7 189.0,330.1 189.1,337.2 189.2,321.4 189.3,322.4 189.4,326.8 189.4,338.3 189.5,316.8 189.6,350.9 189.7,357.5 189.7,354.6 189.8,325.2 189.9,338.8 190.0,346.6 190.0,365.2 190.1,340.1 190.2,347.9 190.3,359.7 190.4,320.5 190.4,332.7 190.5,316.4 190.6,333.9 190.7,327.9 190.7,344.4 190.8,330.0 190.9,344.0 191.0,333.3 191.0,339.4 191.1,356.4 191.2,343.8 191.3,342.7 191.4,353.6 191.4,346.8 191.5,334.2 191.6,330.5 191.7,344.6 191.7,372.2 191.8,336.5 191.9,323.6 192.0,349.0 192.0,357.0 192.1,343.3 192.2,344.7 192.3,336.8 192.4,355.0 192.4,325.9 192.5,335.3 192.6,357.7 192.7,331.4 192.7,343.9 192.8,332.2 192.9,334.4 193.0,336.5 193.0,331.9 193.1,339.9 193.2,343.1 193.3,337.0 193.3,337.9 193.4,330.3 193.5,333.7 193.6,356.6 193.7,327.6 193.7,339.0 193.8,328.6 193.9,331.2 194.0,336.5 194.0,333.3 194.1,358.1 194.2,322.1 194.3,317.7 194.3,333.9 194.4,348.2 194.5,333.7 194.6,346.5 194.7,322.8 194.7,348.5 194.8,358.1 194.9,354.9 195.0,354.9 195.0,338.1 195.1,348.4 195.2,345.2 195.3,353.1 195.3,332.8 195.4,348.4 195.5,345.2 195.6,327.8 195.7,342.5 195.7,351.6 195.8,347.2 195.9,329.4 196.0,337.9 196.0,351.2 196.1,326.6 196.2,358.2 196.3,366.1 196.3,351.5 196.4,362.6 196.5,341.9 196.6,339.4 196.7,343.5 196.7,347.7 196.8,354.0 196.9,330.0 197.0,365.9 197.0,333.1 197.1,339.2 197.2,343.6 197.3,337.4 197.3,362.3 197.4,331.0 197.5,336.6 197.6,328.8 197.7,367.7 197.7,338.7 197.8,343.0 197.9,368.6 198.0,345.0 198.0,340.3 198.1,351.2 198.2,337.5 198.3,336.4 198.3,350.4 198.4,350.5 198.5,337.9 198.6,360.6 198.6,342.7 198.7,332.4 198.8,348.7 198.9,342.7 199.0,345.7 199.0,334.2 199.1,361.5 199.2,362.4 199.3,350.3 199.3,346.1 199.4,325.5 199.5,320.1 199.6,329.9 199.6,322.0 199.7,343.5 199.8,346.1 199.9,359.7 200.0,327.0 200.0,335.4 200.1,342.9 200.2,359.2 200.3,354.6 200.3,306.9 200.4,339.9 200.5,324.7 200.6,334.4 200.6,343.9 200.7,348.4 200.8,332.5 200.9,311.3 201.0,306.8 201.0,341.1 201.1,326.2 201.2,342.6 201.3,331.4 201.3,363.3 201.4,344.3 201.5,359.4 201.6,318.9 201.6,341.9 201.7,331.1 201.8,336.4 201.9,353.4 202.0,328.8 202.0,323.0 202.1,333.5 202.2,329.1 202.3,321.6 202.3,327.8 202.4,335.7 202.5,353.8 202.6,343.1 202.6,341.1 202.7,321.1 202.8,312.8 202.9,328.2 202.9,315.2 203.0,354.7 203.1,323.0 203.2,341.1 203.3,314.7 203.3,311.2 203.4,313.7 203.5,318.9 203.6,316.0 203.6,309.4 203.7,339.9 203.8,315.3 203.9,340.3 203.9,354.4 204.0,330.4 204.1,328.5 204.2,333.9 204.3,345.6 204.3,329.5 204.4,339.6 204.5,309.9 204.6,331.7 204.6,330.9 204.7,342.3 204.8,328.3 204.9,315.0 204.9,344.7 205.0,340.1 205.1,359.2 205.2,336.1 205.3,314.7 205.3,349.2 205.4,338.7 205.5,342.8 205.6,336.7 205.6,342.9 205.7,337.8 205.8,347.5 205.9,331.1 205.9,321.5 206.0,323.5 206.1,355.5 206.2,314.7 206.3,321.1 206.3,314.8 206.4,339.1 206.5,335.1 206.6,319.2 206.6,306.1 206.7,340.1 206.8,325.1 206.9,323.3 206.9,333.1 207.0,324.1 207.1,334.4 207.2,311.8 207.3,347.9 207.3,324.3 207.4,335.4 207.5,331.0 207.6,342.8 207.6,360.7 207.7,314.5 207.8,324.7 207.9,328.2 207.9,333.0 208.0,327.5 208.1,333.9 208.2,327.1 208.2,309.8 208.3,333.6 208.4,335.4 208.5,300.2 208.6,328.4 208.6,318.4 208.7,322.1 208.8,311.4 208.9,309.8 208.9,315.4 209.0,328.2 209.1,327.2 209.2,313.9 209.2,291.7 209.3,336.1 209.4,315.0 209.5,307.9 209.6,321.2 209.6,312.0 209.7,317.4 209.8,307.8 209.9,298.9 209.9,325.3 210.0,319.4 210.1,319.2 210.2,323.9 210.2,326.6 210.3,353.8 210.4,326.3 210.5,340.7 210.6,332.9 210.6,322.2 210.7,320.7 210.8,333.6 210.9,334.4 210.9,332.8 211.0,343.0 211.1,311.5 211.2,309.7 211.2,334.1 211.3,312.0 211.4,322.2 211.5,344.8 211.6,319.6 211.6,322.0 211.7,327.7 211.8,347.1 211.9,336.1 211.9,356.4 212.0,329.2 212.1,332.9 212.2,343.8 212.2,346.2 212.3,314.9 212.4,350.8 212.5,323.1 212.5,330.8 212.6,316.4 212.7,351.2 212.8,328.8 212.9,313.8 212.9,330.5 213.0,345.3 213.1,351.5 213.2,335.8 213.2,314.4 213.3,308.1 213.4,326.6 213.5,316.6 213.5,315.5 213.6,320.8 213.7,339.1 213.8,320.0 213.9,341.9 213.9,328.3 214.0,319.9 214.1,316.4 214.2,331.2 214.2,315.4 214.3,310.2 214.4,316.8 214.5,329.1 214.5,324.5 214.6,328.1 214.7,327.9 214.8,320.0 214.9,316.2 214.9,330.5 215.0,322.6 215.1,330.0 215.2,332.6 215.2,348.1 215.3,332.8 215.4,340.3 215.5,336.7 215.5,328.9 215.6,333.0 215.7,334.0 215.8,349.4 215.9,362.8 215.9,347.2 216.0,341.5 216.1,337.5 216.2,321.5 216.2,332.7 216.3,317.0 216.4,338.2 216.5,345.3 216.5,320.2 216.6,344.2 216.7,349.5 216.8,337.1 216.9,326.3 216.9,317.4 217.0,331.5 217.1,321.2 217.2,333.3 217.2,353.8 217.3,347.7 217.4,355.0 217.5,337.0 217.5,360.3 217.6,352.2 217.7,344.9 217.8,323.8 217.8,328.6 217.9,340.2 218.0,333.4 218.1,339.2 218.2,308.9 218.2,356.6 218.3,360.9 218.4,359.2 218.5,352.7 218.5,339.0 218.6,322.8 218.7,337.0 218.8,337.3 218.8,335.9 218.9,331.9 219.0,345.9 219.1,327.4 219.2,336.4 219.2,333.5 219.3,330.5 219.4,331.0 219.5,328.9 219.5,349.8 219.6,333.6 219.7,358.5 219.8,364.9 219.8,343.2 219.9,332.8 220.0,331.0 220.1,331.6 220.2,325.0 220.2,357.0 220.3,342.3 220.4,339.1 220.5,347.3 220.5,334.4 220.6,332.1 220.7,335.9 220.8,338.3 220.8,311.3 220.9,337.8 221.0,337.5 221.1,322.0 221.2,313.9 221.2,346.6 221.3,347.2 221.4,318.5 221.5,321.3 221.5,325.0 221.6,338.9 221.7,328.3 221.8,354.2 221.8,351.7 221.9,319.3 222.0,354.3 222.1,341.5 222.1,332.5 222.2,336.9 222.3,354.5 222.4,348.8 222.5,334.9 222.5,347.7 222.6,322.6 222.7,344.8 222.8,321.3 222.8,343.8 222.9,328.5 223.0,337.9 223.1,341.8 223.1,358.3 223.2,333.9 223.3,339.3 223.4,335.4 223.5,346.2 223.5,351.3 223.6,352.2 223.7,342.7 223.8,331.5 223.8,348.0 223.9,358.5 224.0,356.0 224.1,360.4 224.1,366.5 224.2,351.0 224.3,353.7 224.4,349.2 224.5,320.4 224.5,330.2 224.6,322.1 224.7,337.4 224.8,332.2 224.8,342.9 224.9,352.4 225.0,348.1 225.1,331.6 225.1,320.0 225.2,297.8 225.3,325.8 225.4,343.9 225.5,330.6 225.5,320.8 225.6,342.1 225.7,334.7 225.8,323.2 225.8,328.1 225.9,324.2 226.0,328.4 226.1,329.1 226.1,311.9 226.2,317.4 226.3,325.4 226.4,322.2 226.5,329.6 226.5,329.8 226.6,324.1 226.7,326.3 226.8,300.6 226.8,324.8 226.9,322.2 227.0,300.9 227.1,338.3 227.1,326.1 227.2,313.0 227.3,327.0 227.4,331.6 227.4,342.7 227.5,333.7 227.6,343.6 227.7,323.1 227.8,329.5 227.8,340.2 227.9,322.6 228.0,348.7 228.1,346.3 228.1,326.0 228.2,330.7 228.3,347.0 228.4,341.2 228.4,334.2 228.5,338.8 228.6,328.6 228.7,333.0 228.8,326.8 228.8,335.1 228.9,331.7 229.0,343.0 229.1,334.6 229.1,336.2 229.2,332.5 229.3,336.8 229.4,345.3 229.4,340.5 229.5,323.0 229.6,341.1 229.7,336.4 229.8,317.7 229.8,329.3 229.9,329.1 230.0,348.7 230.1,349.6 230.1,336.0 230.2,314.3 230.3,362.1 230.4,360.9 230.4,333.4 230.5,336.5 230.6,350.5 230.7,326.4 230.8,333.6 230.8,340.1 230.9,333.9 231.0,338.2 231.1,327.3 231.1,339.1 231.2,344.5 231.3,340.0 231.4,327.6 231.4,319.3 231.5,341.3 231.6,346.5 231.7,330.9 231.7,321.0 231.8,338.8 231.9,315.6 232.0,342.9 232.1,315.9 232.1,324.5 232.2,353.2 232.3,326.4 232.4,335.5 232.4,335.2 232.5,342.1 232.6,333.3 232.7,341.8 232.7,332.5 232.8,321.6 232.9,318.0 233.0,321.2 233.1,323.9 233.1,329.0 233.2,336.5 233.3,347.5 233.4,321.9 233.4,339.5 233.5,332.2 233.6,351.1 233.7,329.4 233.7,318.1 233.8,335.9 233.9,323.9 234.0,336.6 234.1,332.9 234.1,341.0 234.2,363.1 234.3,331.8 234.4,330.9 234.4,330.2 234.5,317.0 234.6,326.7 234.7,332.4 234.7,346.0 234.8,310.6 234.9,354.7 235.0,343.3 235.1,345.0 235.1,326.4 235.2,335.4 235.3,332.8 235.4,360.0 235.4,344.4 235.5,324.4 235.6,341.6 235.7,349.1 235.7,330.2 235.8,338.6 235.9,330.4 236.0,325.3 236.0,340.8 236.1,329.0 236.2,311.8 236.3,331.0 236.4,330.4 236.4,334.7 236.5,324.2 236.6,322.6 236.7,340.2 236.7,329.0 236.8,311.3 236.9,352.2 237.0,320.8 237.0,322.2 237.1,351.3 237.2,352.2 237.3,338.1 237.4,313.2 237.4,336.5 237.5,327.1 237.6,325.0 237.7,326.7 237.7,301.1 237.8,321.5 237.9,339.1 238.0,321.5 238.0,317.7 238.1,339.4 238.2,325.1 238.3,336.1 238.4,346.1 238.4,342.8 238.5,323.3 238.6,336.3 238.7,355.2 238.7,327.0 238.8,340.0 238.9,363.9 239.0,349.7 239.0,363.8 239.1,343.6 239.2,307.8 239.3,309.8 239.4,330.5 239.4,343.4 239.5,346.6 239.6,340.7 239.7,328.2 239.7,315.7 239.8,330.4 239.9,316.1 240.0,333.4 240.0,357.9 240.1,329.0 240.2,321.0 240.3,326.7 240.4,320.6 240.4,345.5 240.5,337.4 240.6,333.6 240.7,329.4 240.7,326.4 240.8,321.2 240.9,338.2 241.0,346.3 241.0,339.0 241.1,336.4 241.2,339.8 241.3,346.2 241.3,324.4 241.4,323.6 241.5,323.6 241.6,326.4 241.7,329.6 241.7,300.2 241.8,341.5 241.9,333.2 242.0,359.4 242.0,333.8 242.1,360.9 242.2,314.2 242.3,328.8 242.3,344.2 242.4,336.7 242.5,342.6 242.6,317.5 242.7,322.7 242.7,334.9 242.8,341.9 242.9,327.8 243.0,330.9 243.0,333.6 243.1,338.1 243.2,349.4 243.3,345.9 243.3,337.1 243.4,347.4 243.5,338.5 243.6,305.1 243.7,326.7 243.7,318.8 243.8,335.1 243.9,312.0 244.0,327.6 244.0,320.1 244.1,317.3 244.2,326.2 244.3,308.7 244.3,344.2 244.4,337.0 244.5,326.7 244.6,333.4 244.7,325.9 244.7,304.0 244.8,333.6 244.9,326.1 245.0,335.6 245.0,339.3 245.1,353.0 245.2,324.0 245.3,313.1 245.3,330.3 245.4,316.2 245.5,347.5 245.6,333.4 245.6,332.7 245.7,321.2 245.8,328.9 245.9,322.0 246.0,309.7 246.0,340.8 246.1,328.2 246.2,321.8 246.3,334.9 246.3,322.6 246.4,349.3 246.5,341.1 246.6,332.9 246.6,353.0 246.7,305.4 246.8,310.0 246.9,318.4 247.0,324.0 247.0,323.2 247.1,337.5 247.2,336.6 247.3,358.1 247.3,320.8 247.4,333.7 247.5,354.7 247.6,340.0 247.6,322.9 247.7,348.4 247.8,334.5 247.9,354.3 248.0,333.1 248.0,327.6 248.1,353.5 248.2,335.0 248.3,319.6 248.3,329.1 248.4,306.2 248.5,313.6 248.6,310.4 248.6,340.2 248.7,337.3 248.8,322.6 248.9,321.3 249.0,335.2 249.0,332.6 249.1,342.9 249.2,338.1 249.3,328.5 249.3,316.7 249.4,328.3 249.5,325.0 249.6,335.5 249.6,330.2 249.7,324.4 249.8,347.2 249.9,323.6 250.0,327.5 250.0,321.5 250.1,327.7 250.2,340.5 250.3,336.7 250.3,330.0 250.4,356.9 250.5,338.9 250.6,335.6 250.6,334.3 250.7,339.6 250.8,340.7 250.9,331.4 250.9,336.4 251.0,313.4 251.1,330.5 251.2,332.0 251.3,321.3 251.3,332.5 251.4,331.5 251.5,316.3 251.6,318.1 251.6,331.7 251.7,344.6 251.8,335.7 251.9,321.5 251.9,348.5 252.0,332.9 252.1,330.4 252.2,348.8 252.3,316.6 252.3,334.9 252.4,351.1 252.5,345.0 252.6,328.0 252.6,316.9 252.7,330.4 252.8,332.2 252.9,337.3 252.9,315.8 253.0,320.0 253.1,355.1 253.2,335.0 253.3,327.7 253.3,336.4 253.4,327.8 253.5,324.6 253.6,343.2 253.6,316.5 253.7,330.5 253.8,319.8 253.9,330.1 253.9,335.2 254.0,318.3 254.1,330.3 254.2,315.6 254.3,326.9 254.3,307.2 254.4,342.4 254.5,331.2 254.6,341.0 254.6,344.6 254.7,329.1 254.8,349.5 254.9,333.2 254.9,316.7 255.0,326.3 255.1,339.6 255.2,336.2 255.2,324.4 255.3,313.9 255.4,335.8 255.5,331.1 255.6,326.7 255.6,335.2 255.7,329.2 255.8,331.1 255.9,319.6 255.9,344.0 256.0,337.1 256.1,334.9 256.2,348.6 256.2,344.1 256.3,340.1 256.4,356.8 256.5,344.0 256.6,350.4 256.6,341.3 256.7,341.6 256.8,337.4 256.9,320.9 256.9,312.4 257.0,315.4 257.1,333.5 257.2,318.7 257.2,337.4 257.3,315.6 257.4,314.4 257.5,328.7 257.6,325.6 257.6,317.7 257.7,320.0 257.8,336.3 257.9,338.6 257.9,350.0 258.0,333.5 258.1,336.1 258.2,328.7 258.2,321.8 258.3,345.5 258.4,338.3 258.5,333.9 258.6,349.8 258.6,333.8 258.7,338.4 258.8,328.9 258.9,325.9 258.9,325.9 259.0,337.6 259.1,331.4 259.2,331.4 259.2,320.7 259.3,354.7 259.4,335.0 259.5,340.5 259.6,329.5 259.6,317.7 259.7,327.1 259.8,327.4 259.9,336.8 259.9,324.0 260.0,324.6 260.1,339.4 260.2,319.9 260.2,333.6 260.3,354.2 260.4,331.8 260.5,324.2 260.5,325.3 260.6,329.5 260.7,331.7 260.8,323.2 260.9,324.3 260.9,353.2 261.0,340.2 261.1,330.8 261.2,333.3 261.2,323.0 261.3,321.2 261.4,331.6 261.5,337.7 261.5,312.1 261.6,342.3 261.7,332.8 261.8,306.7 261.9,323.4 261.9,324.0 262.0,331.9 262.1,318.3 262.2,305.9 262.2,331.0 262.3,338.5 262.4,322.3 262.5,313.8 262.5,332.3 262.6,346.5 262.7,332.1 262.8,345.2 262.9,323.7 262.9,337.1 263.0,327.6 263.1,332.0 263.2,322.2 263.2,355.0 263.3,325.9 263.4,326.5 263.5,324.3 263.5,344.0 263.6,310.1 263.7,333.5 263.8,320.4 263.9,332.4 263.9,329.4 264.0,333.4 264.1,348.3 264.2,338.0 264.2,316.3 264.3,345.9 264.4,332.0 264.5,354.6 264.5,321.8 264.6,350.6 264.7,348.0 264.8,336.1 264.8,327.5 264.9,348.3 265.0,333.5 265.1,325.4 265.2,330.7 265.2,339.2 265.3,324.7 265.4,316.8 265.5,303.2 265.5,314.6 265.6,348.9 265.7,314.5 265.8,317.5 265.8,325.6 265.9,320.9 266.0,315.5 266.1,330.6 266.2,340.9 266.2,329.2 266.3,318.0 266.4,331.4 266.5,332.3 266.5,339.3 266.6,319.4 266.7,338.2 266.8,329.2 266.8,335.6 266.9,313.2 267.0,316.5 267.1,302.2 267.2,334.8 267.2,337.2 267.3,322.5 267.4,340.4 267.5,330.3 267.5,317.4 267.6,324.7 267.7,316.3 267.8,334.5 267.8,331.9 267.9,328.7 268.0,318.4 268.1,316.0 268.2,315.5 268.2,328.4 268.3,338.3 268.4,335.7 268.5,331.8 268.5,349.4 268.6,343.3 268.7,352.5 268.8,330.7 268.8,331.8 268.9,344.5 269.0,324.2 269.1,333.6 269.2,335.9 269.2,326.9 269.3,329.8 269.4,344.0 269.5,339.1 269.5,346.5 269.6,323.9 269.7,331.2 269.8,320.3 269.8,337.8 269.9,343.4 270.0,320.0 270.1,324.0 270.1,349.1 270.2,323.6 270.3,342.9 270.4,320.1 270.5,330.9 270.5,342.6 270.6,338.7 270.7,337.8 270.8,359.6 270.8,329.1 270.9,339.4 271.0,328.9 271.1,360.6 271.1,330.9 271.2,339.0 271.3,351.9 271.4,321.8 271.5,334.7 271.5,353.6 271.6,353.4 271.7,340.4 271.8,329.3 271.8,342.7 271.9,352.8 272.0,331.0 272.1,355.2 272.1,336.4 272.2,342.8 272.3,350.7 272.4,355.3 272.5,355.0 272.5,349.7 272.6,336.2 272.7,350.5 272.8,358.9 272.8,338.0 272.9,341.5 273.0,351.3 273.1,340.8 273.1,351.5 273.2,336.4 273.3,355.2 273.4,361.5 273.5,358.9 273.5,353.7 273.6,352.8 273.7,358.6 273.8,357.2 273.8,363.7 273.9,355.6 274.0,334.2 274.1,351.2 274.1,358.7 274.2,356.1 274.3,357.7 274.4,352.2 274.4,360.4 274.5,341.7 274.6,362.1 274.7,357.0 274.8,340.3 274.8,354.8 274.9,341.7 275.0,355.6 275.1,345.3 275.1,331.1 275.2,361.5 275.3,346.7 275.4,362.7 275.4,351.5 275.5,357.3 275.6,348.6 275.7,361.1 275.8,369.6 275.8,341.1 275.9,344.8 276.0,331.5 276.1,341.7 276.1,341.8 276.2,351.2 276.3,356.3 276.4,340.5 276.4,354.4 276.5,327.9 276.6,327.5 276.7,336.6 276.8,328.8 276.8,341.5 276.9,344.8 277.0,313.6 277.1,338.4 277.1,320.8 277.2,342.0 277.3,328.5 277.4,323.6 277.4,351.4 277.5,350.5 277.6,342.7 277.7,339.7 277.8,336.0 277.8,345.4 277.9,345.4 278.0,348.6 278.1,348.4 278.1,332.9 278.2,342.5 278.3,348.8 278.4,350.0 278.4,346.3 278.5,355.7 278.6,336.2 278.7,334.3 278.8,353.5 278.8,344.7 278.9,342.6 279.0,329.3 279.1,345.8 279.1,340.7 279.2,347.7 279.3,346.4 279.4,342.4 279.4,309.4 279.5,321.3 279.6,329.2 279.7,329.3 279.7,348.7 279.8,341.7 279.9,321.6 280.0,329.1 280.1,316.4 280.1,328.2 280.2,322.0 280.3,327.0 280.4,322.7 280.4,325.0 280.5,317.6 280.6,336.3 280.7,333.6 280.7,339.1 280.8,331.6 280.9,326.2 281.0,330.2 281.1,352.7 281.1,338.4 281.2,336.4 281.3,334.0 281.4,337.5 281.4,334.4 281.5,319.6 281.6,322.7 281.7,312.5 281.7,346.1 281.8,338.4 281.9,339.8 282.0,313.3 282.1,316.5 282.1,331.4 282.2,331.7 282.3,323.5 282.4,312.7 282.4,311.1 282.5,336.9 282.6,319.7 282.7,332.2 282.7,311.3 282.8,303.5 282.9,322.0 283.0,320.4 283.1,352.3 283.1,319.5 283.2,345.3 283.3,332.3 283.4,315.4 283.4,344.1 283.5,300.4 283.6,332.9 283.7,318.1 283.7,333.9 283.8,319.9 283.9,334.8 284.0,328.5 284.0,353.2 284.1,315.4 284.2,317.7 284.3,328.8 284.4,327.4 284.4,335.8 284.5,331.1 284.6,319.4 284.7,318.6 284.7,313.7 284.8,309.2 284.9,311.8 285.0,319.4 285.0,321.0 285.1,328.4 285.2,312.4 285.3,336.4 285.4,337.7 285.4,324.5 285.5,345.3 285.6,331.5 285.7,344.6 285.7,335.5 285.8,297.7 285.9,341.9 286.0,309.4 286.0,327.3 286.1,333.2 286.2,337.1 286.3,312.5 286.4,325.0 286.4,321.4 286.5,303.3 286.6,340.7 286.7,351.3 286.7,325.5 286.8,311.6 286.9,326.5 287.0,311.9 287.0,315.1 287.1,324.5 287.2,337.9 287.3,327.5 287.4,316.1 287.4,324.6 287.5,331.6 287.6,327.5 287.7,332.6 287.7,322.6 287.8,334.9 287.9,311.6 288.0,325.2 288.0,326.3 288.1,348.2 288.2,351.0 288.3,325.4 288.4,327.0 288.4,297.0 288.5,328.4 288.6,330.6 288.7,309.2 288.7,343.8 288.8,318.7 288.9,336.3 289.0,348.5 289.0,344.2 289.1,324.7 289.2,323.4 289.3,326.3 289.3,333.7 289.4,320.9 289.5,316.7 289.6,317.8 289.7,297.0 289.7,303.5 289.8,325.5 289.9,321.2 290.0,324.2 290.0,310.6 290.1,299.9 290.2,293.6 290.3,311.5 290.3,321.9 290.4,328.6 290.5,337.0 290.6,297.0 290.7,324.2 290.7,327.9 290.8,300.6 290.9,332.5 291.0,326.9 291.0,321.2 291.1,349.8 291.2,343.8 291.3,299.2 291.3,321.7 291.4,349.8 291.5,331.5 291.6,324.4 291.7,314.4 291.7,322.1 291.8,334.7 291.9,319.7 292.0,306.0 292.0,327.7 292.1,335.3 292.2,335.5 292.3,350.2 292.3,307.9 292.4,319.6 292.5,325.0 292.6,321.8 292.7,308.2 292.7,328.2 292.8,339.9 292.9,309.8 293.0,351.1 293.0,328.5 293.1,310.1 293.2,306.3 293.3,327.1 293.3,327.9 293.4,329.0 293.5,331.0 293.6,329.3 293.6,310.6 293.7,321.7 293.8,306.4 293.9,320.5 294.0,331.9 294.0,330.4 294.1,299.5 294.2,333.5 294.3,312.2 294.3,335.9 294.4,316.1 294.5,326.3 294.6,326.4 294.6,331.0 294.7,329.2 294.8,317.9 294.9,302.9 295.0,289.0 295.0,332.4 295.1,316.7 295.2,351.0 295.3,325.8 295.3,298.8 295.4,355.4 295.5,333.7 295.6,319.2 295.6,309.9 295.7,319.7 295.8,342.5 295.9,317.7 296.0,319.4 296.0,343.7 296.1,338.4 296.2,350.2 296.3,342.0 296.3,319.9 296.4,350.6 296.5,319.9 296.6,329.4 296.6,328.1 296.7,339.5 296.8,322.0 296.9,333.1 297.0,333.8 297.0,351.8 297.1,331.8 297.2,337.3 297.3,322.3 297.3,331.9 297.4,335.1 297.5,341.4 297.6,343.2 297.6,345.5 297.7,328.5 297.8,356.4 297.9,357.3 298.0,336.1 298.0,321.7 298.1,335.5 298.2,341.5 298.3,312.0 298.3,333.6 298.4,343.6 298.5,333.2 298.6,321.7 298.6,338.4 298.7,323.1 298.8,337.4 298.9,331.5 298.9,329.8 299.0,361.4 299.1,319.2 299.2,327.6 299.3,329.5 299.3,332.7 299.4,337.7 299.5,317.5 299.6,334.1 299.6,323.0 299.7,355.1 299.8,309.0 299.9,331.1 299.9,330.0 300.0,346.2 300.1,344.4 300.2,327.4 300.3,358.6 300.3,315.9 300.4,340.6 300.5,340.9 300.6,330.3 300.6,306.7 300.7,327.6 300.8,316.5 300.9,345.9 300.9,337.6 301.0,319.0 301.1,344.5 301.2,356.2 301.3,339.2 301.3,335.3 301.4,333.4 301.5,321.5 301.6,322.0 301.6,335.0 301.7,321.9 301.8,329.9 301.9,326.5 301.9,339.8 302.0,319.6 302.1,332.3 302.2,313.1 302.3,346.6 302.3,315.3 302.4,344.7 302.5,325.2 302.6,345.4 302.6,344.0 302.7,324.7 302.8,355.4 302.9,324.6 302.9,310.8 303.0,329.3 303.1,358.4 303.2,331.5 303.2,341.0 303.3,337.6 303.4,339.7 303.5,325.8 303.6,317.6 303.6,334.6 303.7,320.8 303.8,344.7 303.9,310.6 303.9,351.0 304.0,352.9 304.1,343.9 304.2,329.1 304.2,326.7 304.3,358.4 304.4,335.3 304.5,332.6 304.6,308.9 304.6,339.5 304.7,352.2 304.8,354.7 304.9,335.7 304.9,326.6 305.0,330.4 305.1,334.9 305.2,344.8 305.2,336.6 305.3,336.7 305.4,310.4 305.5,339.6 305.6,352.2 305.6,344.2 305.7,341.0 305.8,364.1 305.9,337.6 305.9,334.6 306.0,334.6 306.1,348.6 306.2,339.3 306.2,332.5 306.3,325.8 306.4,332.5 306.5,352.6 306.6,327.9 306.6,317.4 306.7,339.8 306.8,363.6 306.9,326.8 306.9,324.7 307.0,338.0 307.1,344.2 307.2,325.9 307.2,330.7 307.3,341.8 307.4,344.4 307.5,340.3 307.5,330.3 307.6,341.3 307.7,357.4 307.8,350.3 307.9,340.5 307.9,337.5 308.0,348.9 308.1,332.3 308.2,348.8 308.2,328.5 308.3,319.2 308.4,328.9 308.5,337.1 308.5,330.3 308.6,362.8 308.7,318.1 308.8,346.1 308.9,347.3 308.9,340.2 309.0,347.1 309.1,335.8 309.2,339.5 309.2,337.2 309.3,322.6 309.4,332.2 309.5,344.7 309.5,340.1 309.6,348.3 309.7,326.5 309.8,352.8 309.9,345.3 309.9,321.3 310.0,345.9 310.1,341.2 310.2,337.8 310.2,364.1 310.3,342.3 310.4,332.9 310.5,342.4 310.5,337.1 310.6,354.8 310.7,343.0 310.8,346.8 310.9,342.6 310.9,358.4 311.0,349.7 311.1,336.3 311.2,349.6 311.2,335.3 311.3,323.2 311.4,338.0 311.5,339.6 311.5,333.0 311.6,350.7 311.7,345.9 311.8,352.5 311.9,349.7 311.9,319.4 312.0,348.9 312.1,340.1 312.2,344.5 312.2,345.9 312.3,344.7 312.4,344.2 312.5,337.7 312.5,345.1 312.6,336.3 312.7,342.2 312.8,342.8 312.8,340.7 312.9,317.6 313.0,350.7 313.1,337.9 313.2,327.8 313.2,329.5 313.3,347.4 313.4,349.0 313.5,337.4 313.5,323.6 313.6,328.8 313.7,338.8 313.8,342.5 313.8,341.4 313.9,341.0 314.0,355.4 314.1,355.7 314.2,341.1 314.2,319.4 314.3,338.9 314.4,362.0 314.5,355.7 314.5,345.3 314.6,356.8 314.7,344.3 314.8,356.0 314.8,357.4 314.9,363.7 315.0,344.6 315.1,345.6 315.2,344.6 315.2,341.1 315.3,349.6 315.4,334.9 315.5,359.0 315.5,340.1 315.6,353.0 315.7,354.4 315.8,357.3 315.8,344.9 315.9,349.7 316.0,341.1 316.1,363.0 316.2,351.7 316.2,364.3 316.3,349.0 316.4,339.9 316.5,364.7 316.5,343.6 316.6,365.7 316.7,340.2 316.8,354.4 316.8,350.8 316.9,368.2 317.0,341.2 317.1,359.3 317.1,363.5 317.2,349.5 317.3,367.8 317.4,363.2 317.5,364.6 317.5,368.9 317.6,350.3 317.7,344.2 317.8,370.0 317.8,344.4 317.9,348.6 318.0,362.4 318.1,352.1 318.1,338.6 318.2,364.4 318.3,364.0 318.4,368.7 318.5,339.6 318.5,350.7 318.6,369.0 318.7,363.5 318.8,356.5 318.8,366.1 318.9,353.1 319.0,364.1 319.1,353.2 319.1,362.2 319.2,363.2 319.3,370.7 319.4,361.9 319.5,357.4 319.5,380.5 319.6,360.4 319.7,353.8 319.8,357.4 319.8,362.3 319.9,367.8 320.0,375.5 320.1,372.9 320.1,366.5 320.2,372.0 320.3,359.4 320.4,364.2 320.5,361.5 320.5,345.9 320.6,355.8 320.7,350.7 320.8,374.5 320.8,352.0 320.9,366.0 321.0,342.0 321.1,373.2 321.1,366.2 321.2,350.5 321.3,338.2 321.4,374.0 321.5,361.6 321.5,367.0 321.6,343.2 321.7,338.6 321.8,356.7 321.8,350.6 321.9,366.8 322.0,372.6 322.1,356.1 322.1,366.6 322.2,354.6 322.3,365.8 322.4,349.3 322.4,364.4 322.5,362.2 322.6,351.1 322.7,358.1 322.8,344.1 322.8,363.7 322.9,366.1 323.0,345.7 323.1,349.3 323.1,360.6 323.2,366.2 323.3,361.4 323.4,354.6 323.4,356.8 323.5,365.7 323.6,362.9 323.7,347.4 323.8,340.8 323.8,336.2 323.9,361.2 324.0,364.7 324.1,346.7 324.1,356.7 324.2,345.0 324.3,343.3 324.4,357.6 324.4,354.5 324.5,370.3 324.6,369.4 324.7,343.6 324.8,328.1 324.8,370.5 324.9,368.1 325.0,358.2 325.1,345.5 325.1,375.3 325.2,355.0 325.3,340.8 325.4,381.7 325.4,369.7 325.5,349.2 325.6,344.8 325.7,366.7 325.8,348.2 325.8,347.9 325.9,374.3 326.0,360.1 326.1,365.3 326.1,361.8 326.2,355.1 326.3,368.7 326.4,375.8 326.4,368.7 326.5,366.3 326.6,352.5 326.7,338.9 326.7,354.6 326.8,356.7 326.9,354.7 327.0,341.0 327.1,351.7 327.1,350.4 327.2,359.0 327.3,352.3 327.4,356.1 327.4,338.6 327.5,350.2 327.6,336.4 327.7,343.9 327.7,345.1 327.8,366.7 327.9,349.0 328.0,356.9 328.1,335.2 328.1,343.0 328.2,343.0 328.3,350.2 328.4,334.0 328.4,372.5 328.5,342.4 328.6,355.1 328.7,362.1 328.7,358.6 328.8,350.7 328.9,346.5 329.0,337.1 329.1,356.7 329.1,357.4 329.2,337.3 329.3,335.9 329.4,360.0 329.4,356.4 329.5,344.8 329.6,351.8 329.7,341.1 329.7,357.9 329.8,357.6 329.9,324.5 330.0,339.7 330.1,335.2 330.1,349.8 330.2,362.3 330.3,341.7 330.4,337.5 330.4,356.8 330.5,357.2 330.6,347.1 330.7,354.2 330.7,370.1 330.8,344.7 330.9,343.0 331.0,372.2 331.1,330.9 331.1,363.7 331.2,364.2 331.3,359.7 331.4,348.7 331.4,348.7 331.5,366.6 331.6,345.4 331.7,341.5 331.7,354.3 331.8,371.2 331.9,359.3 332.0,354.3 332.0,337.4 332.1,351.3 332.2,340.4 332.3,318.3 332.4,345.4 332.4,348.0 332.5,335.8 332.6,332.3 332.7,332.0 332.7,347.8 332.8,363.6 332.9,372.0 333.0,360.8 333.0,355.5 333.1,366.3 333.2,370.1 333.3,357.5 333.4,359.2 333.4,360.8 333.5,333.0 333.6,343.1 333.7,369.1 333.7,343.1 333.8,355.4 333.9,362.9 334.0,360.1 334.0,325.5 334.1,354.3 334.2,363.2 334.3,354.7 334.4,344.2 334.4,351.5 334.5,355.8 334.6,364.6 334.7,361.7 334.7,370.3 334.8,354.4 334.9,349.1 335.0,350.0 335.0,356.4 335.1,340.3 335.2,351.2 335.3,349.2 335.4,368.5 335.4,360.1 335.5,360.5 335.6,342.1 335.7,355.6 335.7,355.5 335.8,355.7 335.9,334.5 336.0,358.3 336.0,360.3 336.1,348.0 336.2,351.1 336.3,333.6 336.3,335.9 336.4,345.5 336.5,350.7 336.6,348.4 336.7,332.7 336.7,343.5 336.8,340.7 336.9,373.3 337.0,361.1 337.0,349.3 337.1,339.7 337.2,339.5 337.3,345.9 337.3,368.0 337.4,346.5 337.5,357.6 337.6,373.6 337.7,359.7 337.7,354.1 337.8,347.2 337.9,340.2 338.0,346.7 338.0,348.3 338.1,353.6 338.2,347.2 338.3,359.5 338.3,337.5 338.4,345.4 338.5,333.1" fill="none" stroke="#000" stroke-width="0.5" stroke-linejoin="round"/>
<path d="M62.1,355.7 62.2,365.0 62.3,358.5 62.3,352.1 62.4,352.3 62.5,342.3 62.6,344.0 62.6,348.8 62.7,349.4 62.8,355.9 62.9,345.1 62.9,343.5 63.0,349.6 63.1,341.5 63.2,350.0 63.3,355.3 63.3,339.8 63.4,356.8 63.5,332.0 63.6,348.8 63.6,336.7 63.7,354.0 63.8,363.7 63.9,345.2 63.9,349.5 64.0,358.2 64.1,347.3 64.2,345.5 64.3,344.0 64.3,342.2 64.4,357.7 64.5,355.7 64.6,352.6 64.6,334.5 64.7,360.8 64.8,340.3 64.9,344.6 64.9,342.2 65.0,357.2 65.1,339.1 65.2,358.0 65.2,357.7 65.3,332.8 65.4,343.4 65.5,353.9 65.6,340.6 65.6,357.5 65.7,334.0 65.8,350.7 65.9,361.8 65.9,351.8 66.0,363.9 66.1,343.9 66.2,357.9 66.2,343.9 66.3,347.6 66.4,340.0 66.5,345.6 66.6,344.1 66.6,355.3 66.7,362.0 66.8,344.6 66.9,366.7 66.9,354.0 67.0,353.8 67.1,356.2 67.2,345.8 67.2,350.0 67.3,364.4 67.4,351.3 67.5,363.3 67.6,379.3 67.6,368.9 67.7,360.7 67.8,364.9 67.9,358.5 67.9,364.4 68.0,362.2 68.1,359.8 68.2,356.6 68.2,361.3 68.3,379.9 68.4,354.2 68.5,367.0 68.6,379.0 68.6,356.4 68.7,370.9 68.8,370.6 68.9,357.2 68.9,373.3 69.0,368.4 69.1,371.3 69.2,364.1 69.2,349.4 69.3,383.6 69.4,381.7 69.5,377.6 69.5,397.0 69.6,383.2 69.7,390.2 69.8,380.1 69.9,368.5 69.9,371.6 70.0,384.0 70.1,382.6 70.2,385.7 70.2,366.9 70.3,376.5 70.4,369.6 70.5,363.7 70.5,386.0 70.6,383.5 70.7,389.3 70.8,356.7 70.9,375.1 70.9,358.2 71.0,377.5 71.1,372.7 71.2,362.9 71.2,365.9 71.3,385.6 71.4,390.2 71.5,370.2 71.5,364.7 71.6,383.8 71.7,364.6 71.8,396.9 71.9,392.8 71.9,394.6 72.0,390.5 72.1,369.7 72.2,376.9 72.2,370.6 72.3,373.1 72.4,390.2 72.5,368.1 72.5,387.0 72.6,370.1 72.7,379.7 72.8,381.1 72.9,379.6 72.9,372.5 73.0,374.2 73.1,388.5 73.2,360.5 73.2,390.2 73.3,400.0 73.4,374.6 73.5,398.7 73.5,377.8 73.6,355.8 73.7,372.2 73.8,357.3 73.9,389.7 73.9,384.1 74.0,382.9 74.1,387.1 74.2,384.4 74.2,391.5 74.3,372.7 74.4,361.4 74.5,378.3 74.5,361.5 74.6,377.0 74.7,395.0 74.8,390.0 74.8,373.0 74.9,377.8 75.0,373.8 75.1,370.4 75.2,389.7 75.2,382.1 75.3,381.1 75.4,384.1 75.5,380.1 75.5,394.9 75.6,369.9 75.7,373.2 75.8,373.0 75.8,364.6 75.9,365.2 76.0,358.5 76.1,391.0 76.2,358.1 76.2,385.5 76.3,374.8 76.4,390.6 76.5,357.9 76.5,375.4 76.6,386.8 76.7,396.8 76.8,378.2 76.8,380.4 76.9,385.1 77.0,388.2 77.1,380.2 77.2,387.4 77.2,368.0 77.3,410.5 77.4,391.3 77.5,381.9 77.5,403.3 77.6,396.5 77.7,366.0 77.8,386.8 77.8,396.0 77.9,394.0 78.0,385.2 78.1,409.1 78.2,372.2 78.2,404.0 78.3,378.6 78.4,386.1 78.5,367.6 78.5,386.4 78.6,408.4 78.7,389.6 78.8,366.7 78.8,384.8 78.9,386.0 79.0,384.1 79.1,361.7 79.1,388.2 79.2,363.2 79.3,394.7 79.4,394.6 79.5,373.0 79.5,369.9 79.6,376.2 79.7,389.1 79.8,388.8 79.8,387.4 79.9,401.0 80.0,391.9 80.1,387.5 80.1,398.5 80.2,392.1 80.3,401.6 80.4,371.1 80.5,384.7 80.5,382.2 80.6,392.7 80.7,379.9 80.8,383.7 80.8,372.9 80.9,373.8 81.0,400.6 81.1,365.9 81.1,371.9 81.2,401.1 81.3,387.1 81.4,363.4 81.5,388.9 81.5,361.5 81.6,402.1 81.7,388.0 81.8,380.8 81.8,383.2 81.9,376.5 82.0,377.8 82.1,404.2 82.1,386.5 82.2,384.1 82.3,377.1 82.4,373.5 82.5,377.9 82.5,397.9 82.6,393.5 82.7,399.9 82.8,364.3 82.8,368.4 82.9,377.9 83.0,395.3 83.1,373.3 83.1,379.5 83.2,380.5 83.3,395.9 83.4,379.0 83.5,377.8 83.5,387.1 83.6,388.8 83.7,385.1 83.8,379.5 83.8,398.0 83.9,385.0 84.0,386.9 84.1,385.8 84.1,399.9 84.2,399.0 84.3,392.6 84.4,385.0 84.4,388.8 84.5,387.0 84.6,390.2 84.7,405.6 84.8,395.3 84.8,396.7 84.9,402.5 85.0,401.4 85.1,395.3 85.1,407.4 85.2,388.4 85.3,371.2 85.4,395.7 85.4,397.3 85.5,382.3 85.6,394.3 85.7,391.2 85.8,404.2 85.8,386.4 85.9,408.0 86.0,375.2 86.1,378.2 86.1,385.8 86.2,378.8 86.3,400.5 86.4,386.2 86.4,398.4 86.5,413.8 86.6,409.1 86.7,404.7 86.8,416.5 86.8,382.4 86.9,395.5 87.0,414.9 87.1,387.7 87.1,385.2 87.2,381.4 87.3,415.7 87.4,390.5 87.4,395.0 87.5,398.7 87.6,397.8 87.7,393.0 87.8,397.6 87.8,409.1 87.9,394.6 88.0,392.7 88.1,398.7 88.1,403.6 88.2,398.5 88.3,393.9 88.4,396.6 88.4,400.8 88.5,408.1 88.6,405.9 88.7,402.9 88.7,402.9 88.8,413.3 88.9,404.7 89.0,409.4 89.1,419.7 89.1,408.4 89.2,386.9 89.3,398.1 89.4,403.9 89.4,393.8 89.5,394.9 89.6,394.0 89.7,386.3 89.7,401.7 89.8,412.3 89.9,384.3 90.0,403.3 90.1,393.4 90.1,417.5 90.2,403.3 90.3,414.0 90.4,408.4 90.4,416.8 90.5,406.2 90.6,397.0 90.7,384.4 90.7,408.1 90.8,394.2 90.9,397.7 91.0,399.1 91.1,414.7 91.1,396.1 91.2,400.3 91.3,407.9 91.4,419.3 91.4,393.5 91.5,393.9 91.6,410.2 91.7,410.7 91.7,426.9 91.8,401.4 91.9,392.5 92.0,391.2 92.1,404.2 92.1,404.9 92.2,414.9 92.3,415.3 92.4,420.9 92.4,395.8 92.5,414.7 92.6,402.5 92.7,385.3 92.7,408.3 92.8,407.5 92.9,402.4 93.0,404.7 93.1,418.5 93.1,385.3 93.2,393.2 93.3,402.9 93.4,414.4 93.4,406.8 93.5,405.2 93.6,403.0 93.7,382.7 93.7,402.5 93.8,407.6 93.9,404.3 94.0,403.5 94.0,415.4 94.1,415.8 94.2,420.0 94.3,400.7 94.4,434.5 94.4,413.0 94.5,409.1 94.6,399.5 94.7,422.6 94.7,423.1 94.8,412.3 94.9,410.7 95.0,393.1 95.0,411.3 95.1,397.1 95.2,410.4 95.3,405.3 95.4,395.6 95.4,409.3 95.5,425.7 95.6,407.2 95.7,424.7 95.7,417.3 95.8,403.6 95.9,427.5 96.0,414.1 96.0,416.9 96.1,414.7 96.2,416.9 96.3,403.2 96.4,380.9 96.4,408.0 96.5,411.4 96.6,410.5 96.7,410.2 96.7,416.9 96.8,390.2 96.9,408.2 97.0,415.4 97.0,403.8 97.1,415.1 97.2,399.2 97.3,420.1 97.4,422.5 97.4,404.9 97.5,390.0 97.6,424.3 97.7,428.1 97.7,407.1 97.8,395.0 97.9,394.2 98.0,411.5 98.0,414.8 98.1,405.5 98.2,409.2 98.3,410.0 98.3,401.3 98.4,403.1 98.5,408.8 98.6,409.3 98.7,402.9 98.7,405.6 98.8,424.3 98.9,394.9 99.0,414.1 99.0,377.6 99.1,403.5 99.2,413.6 99.3,388.9 99.3,405.4 99.4,412.6 99.5,399.4 99.6,411.5 99.7,390.6 99.7,397.9 99.8,381.2 99.9,410.0 100.0,408.0 100.0,414.2 100.1,416.5 100.2,420.9 100.3,416.4 100.3,392.0 100.4,391.4 100.5,398.9 100.6,414.6 100.7,419.8 100.7,406.4 100.8,409.5 100.9,414.4 101.0,410.7 101.0,424.6 101.1,427.9 101.2,417.6 101.3,427.5 101.3,431.2 101.4,409.0 101.5,408.8 101.6,420.7 101.7,405.1 101.7,402.4 101.8,389.6 101.9,402.7 102.0,412.4 102.0,413.0 102.1,398.3 102.2,416.7 102.3,403.6 102.3,422.1 102.4,404.5 102.5,401.2 102.6,398.2 102.6,407.6 102.7,399.6 102.8,412.0 102.9,413.3 103.0,391.0 103.0,401.5 103.1,408.2 103.2,408.1 103.3,401.3 103.3,404.7 103.4,420.0 103.5,392.0 103.6,410.9 103.6,390.5 103.7,395.7 103.8,410.6 103.9,403.0 104.0,429.5 104.0,410.1 104.1,406.0 104.2,394.7 104.3,412.6 104.3,387.6 104.4,413.0 104.5,399.3 104.6,395.2 104.6,413.1 104.7,394.8 104.8,404.6 104.9,398.4 105.0,420.2 105.0,420.1 105.1,391.3 105.2,393.1 105.3,394.4 105.3,405.2 105.4,402.0 105.5,410.9 105.6,411.8 105.6,415.1 105.7,417.1 105.8,405.9 105.9,405.4 106.0,414.4 106.0,411.6 106.1,386.2 106.2,399.6 106.3,400.2 106.3,387.8 106.4,407.2 106.5,401.3 106.6,386.6 106.6,414.5 106.7,413.2 106.8,396.7 106.9,419.2 107.0,395.6 107.0,426.2 107.1,420.5 107.2,405.3 107.3,420.3 107.3,416.4 107.4,397.7 107.5,425.7 107.6,411.3 107.6,412.1 107.7,410.6 107.8,390.9 107.9,427.7 107.9,412.7 108.0,426.8 108.1,398.5 108.2,411.6 108.3,411.7 108.3,418.3 108.4,434.9 108.5,431.9 108.6,413.1 108.6,421.1 108.7,417.4 108.8,420.5 108.9,436.3 108.9,417.0 109.0,419.8 109.1,400.5 109.2,406.3 109.3,415.4 109.3,422.1 109.4,434.6 109.5,413.2 109.6,421.2 109.6,422.3 109.7,422.7 109.8,423.4 109.9,421.3 109.9,415.8 110.0,430.8 110.1,398.9 110.2,416.7 110.3,423.8 110.3,411.7 110.4,414.9 110.5,448.0 110.6,414.0 110.6,410.0 110.7,415.4 110.8,403.2 110.9,420.6 110.9,423.0 111.0,417.2 111.1,410.7 111.2,434.4 111.3,431.4 111.3,419.1 111.4,402.8 111.5,405.4 111.6,419.2 111.6,433.9 111.7,394.2 111.8,432.9 111.9,413.7 111.9,432.7 112.0,427.1 112.1,413.8 112.2,429.1 112.2,426.2 112.3,426.7 112.4,426.0 112.5,399.8 112.6,427.4 112.6,434.1 112.7,408.0 112.8,444.6 112.9,416.3 112.9,404.3 113.0,407.6 113.1,412.9 113.2,427.4 113.2,411.0 113.3,430.6 113.4,429.3 113.5,394.8 113.6,402.9 113.6,399.8 113.7,430.2 113.8,418.0 113.9,414.3 113.9,425.8 114.0,402.8 114.1,420.6 114.2,420.3 114.2,401.1 114.3,393.9 114.4,427.3 114.5,433.8 114.6,419.7 114.6,404.0 114.7,404.4 114.8,409.7 114.9,415.9 114.9,415.2 115.0,424.6 115.1,401.4 115.2,404.7 115.2,415.9 115.3,389.9 115.4,410.0 115.5,412.2 115.6,435.1 115.6,404.1 115.7,444.6 115.8,413.7 115.9,412.5 115.9,427.4 116.0,443.5 116.1,415.6 116.2,408.3 116.2,432.4 116.3,408.4 116.4,404.1 116.5,400.9 116.6,403.9 116.6,440.2 116.7,407.0 116.8,429.1 116.9,415.9 116.9,422.7 117.0,404.1 117.1,420.7 117.2,413.6 117.2,419.9 117.3,419.0 117.4,418.2 117.5,425.5 117.5,438.4 117.6,422.8 117.7,430.6 117.8,425.7 117.9,420.7 117.9,418.3 118.0,417.6 118.1,391.0 118.2,388.1 118.2,394.1 118.3,420.2 118.4,425.9 118.5,411.7 118.5,409.7 118.6,404.5 118.7,411.0 118.8,398.1 118.9,403.2 118.9,410.3 119.0,397.2 119.1,399.5 119.2,411.3 119.2,420.6 119.3,402.3 119.4,395.1 119.5,416.8 119.5,417.9 119.6,423.2 119.7,428.3 119.8,427.8 119.9,407.6 119.9,409.8 120.0,423.7 120.1,409.3 120.2,409.7 120.2,418.8 120.3,403.0 120.4,402.9 120.5,408.3 120.5,395.8 120.6,411.8 120.7,413.5 120.8,422.9 120.9,412.5 120.9,410.6 121.0,416.7 121.1,417.7 121.2,427.3 121.2,410.4 121.3,423.0 121.4,417.5 121.5,442.2 121.5,418.7 121.6,428.0 121.7,424.8 121.8,423.4 121.8,429.5 121.9,433.6 122.0,404.4 122.1,411.0 122.2,418.1 122.2,408.5 122.3,413.8 122.4,421.9 122.5,411.5 122.5,402.1 122.6,400.2 122.7,418.2 122.8,398.8 122.8,434.3 122.9,410.0 123.0,400.5 123.1,402.5 123.2,408.3 123.2,440.8 123.3,422.6 123.4,427.4 123.5,413.3 123.5,401.8 123.6,409.9 123.7,421.6 123.8,436.8 123.8,387.3 123.9,406.4 124.0,435.9 124.1,434.9 124.2,412.1 124.2,423.3 124.3,411.5 124.4,420.0 124.5,405.3 124.5,405.8 124.6,411.5 124.7,439.1 124.8,394.7 124.8,408.5 124.9,389.4 125.0,421.9 125.1,410.1 125.2,406.3 125.2,401.5 125.3,390.6 125.4,402.2 125.5,388.1 125.5,410.6 125.6,431.8 125.7,408.6 125.8,419.3 125.8,406.4 125.9,405.5 126.0,411.7 126.1,421.7 126.2,400.7 126.2,404.4 126.3,414.0 126.4,394.7 126.5,397.6 126.5,390.2 126.6,409.2 126.7,432.8 126.8,420.6 126.8,419.2 126.9,411.0 127.0,422.2 127.1,427.3 127.1,401.3 127.2,415.7 127.3,410.7 127.4,395.8 127.5,408.4 127.5,407.0 127.6,421.4 127.7,402.4 127.8,411.9 127.8,414.9 127.9,399.6 128.0,411.5 128.1,395.7 128.1,400.1 128.2,400.7 128.3,393.5 128.4,396.0 128.5,385.0 128.5,392.7 128.6,395.4 128.7,407.0 128.8,398.8 128.8,406.3 128.9,406.6 129.0,410.0 129.1,402.1 129.1,378.7 129.2,392.7 129.3,384.3 129.4,410.0 129.5,400.6 129.5,393.7 129.6,396.6 129.7,428.3 129.8,405.0 129.8,401.5 129.9,416.0 130.0,427.3 130.1,409.8 130.1,402.3 130.2,380.9 130.3,405.5 130.4,411.8 130.5,381.4 130.5,407.0 130.6,404.0 130.7,404.3 130.8,396.1 130.8,429.1 130.9,423.3 131.0,413.2 131.1,399.1 131.1,407.6 131.2,405.0 131.3,403.2 131.4,398.8 131.4,398.0 131.5,397.8 131.6,397.3 131.7,426.3 131.8,406.9 131.8,400.9 131.9,424.7 132.0,384.0 132.1,417.6 132.1,403.1 132.2,427.5 132.3,391.5 132.4,400.8 132.4,385.0 132.5,396.5 132.6,383.4 132.7,380.5 132.8,402.3 132.8,400.1 132.9,409.9 133.0,384.5 133.1,410.0 133.1,395.7 133.2,394.8 133.3,386.0 133.4,402.3 133.4,400.9 133.5,397.3 133.6,382.0 133.7,382.1 133.8,391.3 133.8,375.6 133.9,417.3 134.0,394.6 134.1,400.5 134.1,389.9 134.2,378.8 134.3,388.6 134.4,397.0 134.4,391.1 134.5,390.2 134.6,410.4 134.7,378.1 134.8,401.3 134.8,403.0 134.9,401.9 135.0,403.6 135.1,402.4 135.1,384.5 135.2,403.8 135.3,385.7 135.4,401.3 135.4,393.2 135.5,383.9 135.6,399.2 135.7,401.6 135.8,381.0 135.8,401.5 135.9,397.5 136.0,402.8 136.1,419.8 136.1,409.5 136.2,398.9 136.3,395.3 136.4,410.4 136.4,397.9 136.5,399.0 136.6,389.6 136.7,431.5 136.7,391.1 136.8,400.8 136.9,411.4 137.0,413.1 137.1,399.3 137.1,403.2 137.2,386.3 137.3,423.1 137.4,398.0 137.4,396.4 137.5,401.3 137.6,420.2 137.7,401.0 137.7,405.0 137.8,405.8 137.9,392.8 138.0,398.9 138.1,398.2 138.1,410.2 138.2,398.2 138.3,385.6 138.4,388.2 138.4,387.9 138.5,418.1 138.6,411.0 138.7,403.3 138.7,423.3 138.8,389.3 138.9,423.3 139.0,393.2 139.1,389.5 139.1,400.3 139.2,425.4 139.3,383.7 139.4,404.1 139.4,400.5 139.5,395.6 139.6,405.8 139.7,397.1 139.7,412.0 139.8,391.7 139.9,385.6 140.0,409.8 140.1,386.5 140.1,390.8 140.2,412.5 140.3,382.5 140.4,392.3 140.4,411.4 140.5,407.5 140.6,425.0 140.7,394.2 140.7,386.1 140.8,396.9 140.9,402.7 141.0,421.9 141.0,407.5 141.1,410.5 141.2,392.7 141.3,381.5 141.4,415.0 141.4,389.0 141.5,404.9 141.6,405.2 141.7,397.9 141.7,409.2 141.8,410.2 141.9,420.5 142.0,417.1 142.0,408.0 142.1,403.8 142.2,385.7 142.3,418.9 142.4,398.7 142.4,404.8 142.5,407.8 142.6,419.1 142.7,410.8 142.7,408.1 142.8,397.8 142.9,414.6 143.0,392.8 143.0,409.5 143.1,398.6 143.2,417.7 143.3,414.1 143.4,424.9 143.4,418.2 143.5,416.2 143.6,404.2 143.7,402.5 143.7,417.5 143.8,411.0 143.9,405.3 144.0,387.9 144.0,425.5 144.1,416.4 144.2,408.7 144.3,422.2 144.4,384.6 144.4,406.3 144.5,409.6 144.6,389.0 144.7,400.5 144.7,421.9 144.8,420.9 144.9,405.7 145.0,405.7 145.0,413.0 145.1,402.9 145.2,409.1 145.3,423.5 145.4,411.0 145.4,418.2 145.5,413.6 145.6,429.1 145.7,393.0 145.7,408.6 145.8,437.9 145.9,413.7 146.0,399.3 146.0,406.3 146.1,420.2 146.2,419.1 146.3,399.1 146.3,391.2 146.4,424.0 146.5,419.2 146.6,411.1 146.7,419.2 146.7,410.4 146.8,424.1 146.9,419.9 147.0,414.9 147.0,411.8 147.1,394.2 147.2,407.4 147.3,413.2 147.3,388.9 147.4,436.3 147.5,410.2 147.6,436.9 147.7,417.8 147.7,402.3 147.8,408.0 147.9,404.7 148.0,402.4 148.0,409.2 148.1,421.3 148.2,410.9 148.3,419.1 148.3,428.0 148.4,435.4 148.5,416.1 148.6,433.2 148.7,434.0 148.7,420.6 148.8,425.4 148.9,412.7 149.0,426.3 149.0,429.0 149.1,411.2 149.2,420.0 149.3,423.9 149.3,394.6 149.4,424.6 149.5,416.7 149.6,442.6 149.7,414.0 149.7,428.7 149.8,417.3 149.9,437.3 150.0,435.1 150.0,421.2 150.1,422.3 150.2,426.7 150.3,438.3 150.3,423.4 150.4,437.7 150.5,418.3 150.6,418.5 150.6,417.3 150.7,430.2 150.8,425.6 150.9,449.6 151.0,423.8 151.0,429.2 151.1,414.0 151.2,414.0 151.3,417.3 151.3,429.4 151.4,409.4 151.5,432.4 151.6,416.8 151.6,402.3 151.7,447.6 151.8,413.2 151.9,433.8 152.0,433.2 152.0,430.3 152.1,434.3 152.2,416.0 152.3,411.5 152.3,447.6 152.4,436.0 152.5,417.3 152.6,441.3 152.6,447.5 152.7,444.7 152.8,431.9 152.9,433.7 153.0,429.8 153.0,452.1 153.1,435.9 153.2,425.9 153.3,423.7 153.3,424.5 153.4,437.7 153.5,417.5 153.6,428.1 153.6,421.8 153.7,439.3 153.8,413.4 153.9,423.2 154.0,433.7 154.0,430.8 154.1,441.4 154.2,431.8 154.3,421.1 154.3,420.4 154.4,428.8 154.5,449.1 154.6,415.0 154.6,425.6 154.7,418.0 154.8,413.9 154.9,429.7 155.0,421.3 155.0,431.3 155.1,438.9 155.2,417.2 155.3,434.9 155.3,423.2 155.4,417.2 155.5,412.6 155.6,428.6 155.6,431.2 155.7,415.8 155.8,430.8 155.9,414.7 155.9,428.8 156.0,430.7 156.1,452.5 156.2,440.4 156.3,427.6 156.3,447.1 156.4,423.6 156.5,414.9 156.6,420.2 156.6,411.7 156.7,418.6 156.8,422.7 156.9,416.7 156.9,431.7 157.0,441.8 157.1,435.8 157.2,412.8 157.3,406.2 157.3,425.0 157.4,431.2 157.5,420.4 157.6,423.3 157.6,429.5 157.7,435.1 157.8,399.7 157.9,409.4 157.9,425.1 158.0,404.5 158.1,416.6 158.2,425.9 158.3,421.8 158.3,433.2 158.4,406.0 158.5,434.0 158.6,440.6 158.6,429.6 158.7,422.0 158.8,430.0 158.9,405.3 158.9,426.7 159.0,401.8 159.1,410.9 159.2,442.9 159.3,399.5 159.3,414.8 159.4,425.5 159.5,413.1 159.6,425.9 159.6,411.5 159.7,412.2 159.8,437.9 159.9,425.9 159.9,405.7 160.0,405.6 160.1,392.7 160.2,424.3 160.2,407.6 160.3,419.5 160.4,417.5 160.5,423.3 160.6,417.9 160.6,413.8 160.7,404.5 160.8,414.3 160.9,427.5 160.9,427.0 161.0,421.3 161.1,420.5 161.2,436.3 161.2,432.4 161.3,406.3 161.4,428.7 161.5,430.9 161.6,424.3 161.6,426.8 161.7,408.0 161.8,407.0 161.9,420.6 161.9,415.5 162.0,409.9 162.1,423.7 162.2,416.0 162.2,427.3 162.3,408.4 162.4,414.4 162.5,426.8 162.6,417.2 162.6,418.4 162.7,424.1 162.8,407.1 162.9,411.3 162.9,420.1 163.0,411.2 163.1,440.6 163.2,414.4 163.2,415.0 163.3,417.4 163.4,429.2 163.5,411.2 163.6,422.2 163.6,411.1 163.7,430.3 163.8,409.6 163.9,407.6 163.9,440.3 164.0,414.7 164.1,421.9 164.2,417.7 164.2,430.8 164.3,411.4 164.4,421.6 164.5,413.4 164.6,430.0 164.6,441.5 164.7,428.4 164.8,411.1 164.9,425.6 164.9,425.4 165.0,413.5 165.1,418.4 165.2,417.3 165.2,420.2 165.3,428.5 165.4,423.2 165.5,431.0 165.5,424.0 165.6,420.7 165.7,418.9 165.8,413.6 165.9,427.9 165.9,434.7 166.0,434.8 166.1,432.0 166.2,415.2 166.2,441.3 166.3,437.5 166.4,426.0 166.5,425.5 166.5,436.3 166.6,423.7 166.7,428.4 166.8,425.6 166.9,436.2 166.9,423.8 167.0,430.7 167.1,421.4 167.2,434.1 167.2,425.6 167.3,419.3 167.4,448.3 167.5,434.0 167.5,427.0 167.6,413.2 167.7,426.1 167.8,413.8 167.9,433.2 167.9,438.9 168.0,432.1 168.1,425.2 168.2,421.6 168.2,420.6 168.3,435.5 168.4,419.3 168.5,421.8 168.5,432.9 168.6,416.0 168.7,413.2 168.8,433.3 168.9,419.7 168.9,423.3 169.0,442.5 169.1,415.9 169.2,436.0 169.2,420.2 169.3,433.2 169.4,428.0 169.5,421.1 169.5,421.0 169.6,421.2 169.7,419.3 169.8,426.2 169.8,425.5 169.9,418.6 170.0,411.2 170.1,423.5 170.2,424.9 170.2,422.5 170.3,420.5 170.4,435.5 170.5,414.2 170.5,432.0 170.6,439.4 170.7,406.2 170.8,407.5 170.8,435.3 170.9,428.7 171.0,422.4 171.1,405.5 171.2,398.4 171.2,419.8 171.3,412.0 171.4,408.8 171.5,413.7 171.5,431.3 171.6,421.6 171.7,427.4 171.8,418.1 171.8,416.6 171.9,430.4 172.0,423.5 172.1,427.9 172.2,425.2 172.2,407.0 172.3,430.7 172.4,414.5 172.5,435.6 172.5,433.7 172.6,410.9 172.7,418.3 172.8,419.1 172.8,427.2 172.9,416.4 173.0,434.6 173.1,431.9 173.2,407.5 173.2,416.3 173.3,421.7 173.4,424.1 173.5,403.0 173.5,429.1 173.6,418.2 173.7,410.0 173.8,402.6 173.8,403.3 173.9,430.1 174.0,411.9 174.1,409.0 174.1,415.4 174.2,417.5 174.3,427.4 174.4,407.4 174.5,421.0 174.5,429.2 174.6,427.3 174.7,424.8 174.8,424.1 174.8,404.1 174.9,425.8 175.0,431.2 175.1,414.7 175.1,419.7 175.2,427.2 175.3,436.9 175.4,435.0 175.5,419.8 175.5,411.4 175.6,406.6 175.7,440.5 175.8,429.2 175.8,425.1 175.9,420.1 176.0,428.5 176.1,414.7 176.1,410.4 176.2,411.8 176.3,432.1 176.4,406.1 176.5,437.7 176.5,432.6 176.6,401.4 176.7,426.4 176.8,424.5 176.8,422.1 176.9,427.1 177.0,396.6 177.1,423.6 177.1,409.2 177.2,415.0 177.3,422.2 177.4,406.7 177.5,417.0 177.5,430.9 177.6,403.4 177.7,434.7 177.8,412.0 177.8,413.9 177.9,414.0 178.0,424.2 178.1,423.0 178.1,419.1 178.2,425.2 178.3,426.3 178.4,409.4 178.5,403.5 178.5,426.1 178.6,393.4 178.7,413.0 178.8,401.6 178.8,434.1 178.9,415.4 179.0,420.1 179.1,419.4 179.1,421.6 179.2,416.8 179.3,416.4 179.4,397.2 179.4,410.7 179.5,410.4 179.6,404.1 179.7,406.4 179.8,399.0 179.8,412.0 179.9,424.3 180.0,419.8 180.1,404.1 180.1,408.1 180.2,413.0 180.3,420.5 180.4,436.7 180.4,399.2 180.5,409.9 180.6,424.7 180.7,426.3 180.8,427.8 180.8,414.5 180.9,397.0 181.0,419.7 181.1,397.9 181.1,416.0 181.2,408.4 181.3,414.7 181.4,402.5 181.4,418.7 181.5,405.5 181.6,402.9 181.7,407.8 181.8,401.6 181.8,406.9 181.9,416.2 182.0,427.8 182.1,406.3 182.1,404.0 182.2,382.3 182.3,396.5 182.4,422.0 182.4,390.9 182.5,409.4 182.6,402.5 182.7,403.6 182.8,404.3 182.8,402.0 182.9,414.5 183.0,400.1 183.1,389.0 183.1,420.1 183.2,420.7 183.3,399.3 183.4,403.8 183.4,400.4 183.5,381.4 183.6,408.2 183.7,420.1 183.7,425.4 183.8,399.2 183.9,427.7 184.0,408.8 184.1,397.8 184.1,424.8 184.2,401.2 184.3,405.4 184.4,397.9 184.4,393.8 184.5,414.6 184.6,424.0 184.7,397.0 184.7,408.1 184.8,415.9 184.9,409.3 185.0,398.0 185.1,410.0 185.1,397.6 185.2,384.1 185.3,403.8 185.4,407.9 185.4,402.9 185.5,427.5 185.6,384.5 185.7,403.0 185.7,389.9 185.8,404.0 185.9,416.5 186.0,410.1 186.1,394.0 186.1,403.7 186.2,407.0 186.3,395.1 186.4,407.6 186.4,395.9 186.5,406.0 186.6,376.5 186.7,409.9 186.7,405.8 186.8,393.3 186.9,400.6 187.0,398.9 187.1,391.8 187.1,407.1 187.2,396.1 187.3,375.3 187.4,400.6 187.4,410.8 187.5,401.1 187.6,420.3 187.7,393.8 187.7,410.4 187.8,416.3 187.9,421.9 188.0,396.1 188.1,400.9 188.1,402.5 188.2,383.8 188.3,401.5 188.4,374.1 188.4,402.4 188.5,398.5 188.6,397.1 188.7,395.1 188.7,400.6 188.8,402.2 188.9,404.3 189.0,393.8 189.0,401.4 189.1,400.3 189.2,411.0 189.3,406.8 189.4,399.0 189.4,400.7 189.5,391.4 189.6,378.4 189.7,417.8 189.7,396.2 189.8,411.8 189.9,409.3 190.0,398.3 190.0,406.5 190.1,401.3 190.2,403.4 190.3,416.3 190.4,408.0 190.4,420.9 190.5,408.7 190.6,392.4 190.7,397.2 190.7,423.3 190.8,397.3 190.9,408.4 191.0,389.9 191.0,416.0 191.1,411.0 191.2,389.2 191.3,392.0 191.4,400.7 191.4,384.4 191.5,396.7 191.6,402.5 191.7,395.1 191.7,387.9 191.8,389.8 191.9,411.5 192.0,394.4 192.0,398.9 192.1,401.3 192.2,413.6 192.3,385.1 192.4,414.0 192.4,402.2 192.5,387.4 192.6,377.7 192.7,422.9 192.7,384.9 192.8,391.3 192.9,399.1 193.0,392.3 193.0,411.9 193.1,407.4 193.2,403.0 193.3,399.4 193.3,396.8 193.4,398.5 193.5,392.0 193.6,398.6 193.7,383.4 193.7,396.5 193.8,382.6 193.9,394.3 194.0,388.7 194.0,401.1 194.1,401.9 194.2,398.3 194.3,393.4 194.3,382.4 194.4,417.3 194.5,378.9 194.6,407.4 194.7,407.2 194.7,395.2 194.8,399.0 194.9,384.9 195.0,406.0 195.0,381.9 195.1,402.7 195.2,392.6 195.3,418.3 195.3,379.7 195.4,401.2 195.5,379.8 195.6,396.2 195.7,394.5 195.7,397.6 195.8,415.4 195.9,403.1 196.0,416.6 196.0,408.3 196.1,400.2 196.2,408.7 196.3,405.1 196.3,387.2 196.4,399.9 196.5,397.8 196.6,389.2 196.7,405.4 196.7,391.8 196.8,398.5 196.9,399.2 197.0,402.0 197.0,411.0 197.1,390.5 197.2,386.0 197.3,400.1 197.3,402.2 197.4,407.9 197.5,369.6 197.6,393.9 197.7,401.0 197.7,409.3 197.8,380.9 197.9,393.8 198.0,396.0 198.0,397.8 198.1,393.7 198.2,398.9 198.3,393.6 198.3,368.4 198.4,396.1 198.5,380.6 198.6,382.0 198.6,383.8 198.7,365.9 198.8,370.0 198.9,376.6 199.0,380.2 199.0,385.7 199.1,382.7 199.2,379.6 199.3,383.8 199.3,398.5 199.4,397.9 199.5,366.2 199.6,377.7 199.6,378.0 199.7,379.7 199.8,371.7 199.9,368.1 200.0,397.0 200.0,378.8 200.1,363.2 200.2,375.8 200.3,382.8 200.3,380.8 200.4,401.0 200.5,404.5 200.6,396.4 200.6,400.9 200.7,380.8 200.8,376.2 200.9,385.5 201.0,378.4 201.0,376.8 201.1,398.6 201.2,373.5 201.3,364.4 201.3,383.1 201.4,373.1 201.5,384.2 201.6,381.7 201.6,399.2 201.7,405.4 201.8,404.2 201.9,376.9 202.0,378.4 202.0,381.9 202.1,387.7 202.2,405.6 202.3,393.9 202.3,386.5 202.4,396.5 202.5,393.6 202.6,368.2 202.6,379.1 202.7,372.7 202.8,397.5 202.9,382.1 202.9,403.3 203.0,369.7 203.1,385.8 203.2,403.6 203.3,404.0 203.3,384.7 203.4,380.9 203.5,371.6 203.6,397.7 203.6,360.3 203.7,382.7 203.8,372.5 203.9,388.8 203.9,377.7 204.0,386.4 204.1,359.1 204.2,380.5 204.3,402.3 204.3,376.7 204.4,359.1 204.5,383.3 204.6,382.2 204.6,375.8 204.7,361.9 204.8,384.9 204.9,387.9 204.9,380.3 205.0,396.8 205.1,387.0 205.2,374.3 205.3,382.7 205.3,377.1 205.4,386.4 205.5,407.6 205.6,381.6 205.6,375.7 205.7,391.8 205.8,393.5 205.9,375.9 205.9,389.5 206.0,406.2 206.1,389.2 206.2,369.6 206.3,376.4 206.3,404.3 206.4,409.6 206.5,374.7 206.6,387.4 206.6,395.7 206.7,396.0 206.8,385.7 206.9,387.6 206.9,398.4 207.0,389.0 207.1,368.8 207.2,395.6 207.3,377.7 207.3,390.5 207.4,394.5 207.5,382.6 207.6,374.4 207.6,388.0 207.7,405.3 207.8,371.2 207.9,387.0 207.9,401.3 208.0,403.3 208.1,407.3 208.2,390.6 208.2,392.9 208.3,402.2 208.4,392.0 208.5,401.9 208.6,395.4 208.6,388.9 208.7,414.4 208.8,395.2 208.9,387.6 208.9,392.7 209.0,387.9 209.1,394.8 209.2,387.7 209.2,397.1 209.3,405.5 209.4,403.3 209.5,405.9 209.6,385.7 209.6,392.3 209.7,403.4 209.8,403.9 209.9,396.7 209.9,400.3 210.0,397.3 210.1,406.5 210.2,403.2 210.2,389.5 210.3,395.9 210.4,400.4 210.5,385.3 210.6,382.8 210.6,385.1 210.7,387.9 210.8,398.7 210.9,401.7 210.9,387.2 211.0,383.8 211.1,393.2 211.2,400.0 211.2,389.6 211.3,385.6 211.4,384.6 211.5,375.3 211.6,399.7 211.6,403.0 211.7,381.7 211.8,392.0 211.9,384.5 211.9,387.8 212.0,398.8 212.1,388.5 212.2,394.7 212.2,380.7 212.3,388.9 212.4,396.5 212.5,392.9 212.5,399.1 212.6,382.8 212.7,406.0 212.8,389.5 212.9,399.0 212.9,402.4 213.0,416.7 213.1,396.8 213.2,385.0 213.2,377.0 213.3,387.8 213.4,391.3 213.5,414.0 213.5,406.0 213.6,392.0 213.7,403.8 213.8,404.8 213.9,407.7 213.9,409.9 214.0,405.4 214.1,405.3 214.2,410.6 214.2,390.2 214.3,407.6 214.4,394.8 214.5,406.2 214.5,392.3 214.6,399.9 214.7,402.1 214.8,388.5 214.9,391.8 214.9,387.2 215.0,408.0 215.1,416.1 215.2,402.6 215.2,408.6 215.3,386.8 215.4,393.5 215.5,386.6 215.5,402.8 215.6,387.7 215.7,400.3 215.8,411.7 215.9,408.8 215.9,396.0 216.0,418.5 216.1,378.4 216.2,395.8 216.2,417.7 216.3,394.3 216.4,393.2 216.5,407.5 216.5,417.8 216.6,398.2 216.7,389.6 216.8,405.9 216.9,414.2 216.9,401.4 217.0,380.7 217.1,399.1 217.2,413.3 217.2,397.3 217.3,399.6 217.4,394.7 217.5,412.2 217.5,392.2 217.6,378.3 217.7,396.5 217.8,407.6 217.8,418.5 217.9,404.4 218.0,379.7 218.1,390.4 218.2,396.7 218.2,396.1 218.3,403.1 218.4,383.2 218.5,374.7 218.5,400.3 218.6,406.4 218.7,395.8 218.8,395.8 218.8,398.7 218.9,400.6 219.0,412.2 219.1,384.0 219.2,389.7 219.2,395.7 219.3,381.9 219.4,377.3 219.5,399.8 219.5,393.3 219.6,389.6 219.7,398.2 219.8,382.5 219.8,400.6 219.9,402.3 220.0,386.1 220.1,414.0 220.2,397.8 220.2,388.0 220.3,414.6 220.4,410.6 220.5,398.2 220.5,399.5 220.6,401.4 220.7,396.1 220.8,407.5 220.8,380.3 220.9,418.2 221.0,409.4 221.1,400.8 221.2,417.7 221.2,401.0 221.3,404.1 221.4,405.6 221.5,415.3 221.5,408.3 221.6,408.9 221.7,405.1 221.8,408.8 221.8,403.6 221.9,396.3 222.0,405.2 222.1,404.7 222.1,405.7 222.2,392.6 222.3,408.0 222.4,393.8 222.5,404.5 222.5,399.1 222.6,393.5 222.7,398.6 222.8,393.8 222.8,385.7 222.9,400.0 223.0,401.1 223.1,407.1 223.1,417.3 223.2,402.5 223.3,413.4 223.4,401.9 223.5,397.3 223.5,387.8 223.6,402.2 223.7,409.6 223.8,383.3 223.8,395.7 223.9,390.0 224.0,395.6 224.1,390.4 224.1,385.2 224.2,387.9 224.3,381.3 224.4,396.1 224.5,388.7 224.5,388.5 224.6,389.5 224.7,407.5 224.8,378.4 224.8,385.6 224.9,412.3 225.0,399.0 225.1,396.8 225.1,389.4 225.2,406.0 225.3,392.4 225.4,402.0 225.5,407.4 225.5,406.0 225.6,401.6 225.7,407.4 225.8,399.9 225.8,399.3 225.9,399.2 226.0,396.1 226.1,392.6 226.1,400.3 226.2,396.5 226.3,389.5 226.4,404.5 226.5,398.3 226.5,389.8 226.6,390.5 226.7,399.4 226.8,398.3 226.8,410.8 226.9,404.4 227.0,396.7 227.1,407.4 227.1,415.4 227.2,385.2 227.3,398.8 227.4,401.6 227.4,385.9 227.5,395.6 227.6,401.7 227.7,388.0 227.8,388.4 227.8,412.7 227.9,369.2 228.0,389.4 228.1,397.8 228.1,388.8 228.2,392.6 228.3,404.6 228.4,376.6 228.4,394.8 228.5,396.4 228.6,385.2 228.7,405.1 228.8,375.4 228.8,398.2 228.9,403.5 229.0,398.5 229.1,402.3 229.1,398.2 229.2,380.3 229.3,403.8 229.4,375.5 229.4,387.1 229.5,393.9 229.6,399.8 229.7,396.0 229.8,392.2 229.8,392.8 229.9,400.7 230.0,408.4 230.1,388.8 230.1,397.8 230.2,389.7 230.3,400.2 230.4,387.4 230.4,376.3 230.5,384.6 230.6,369.6 230.7,374.0 230.8,385.3 230.8,388.9 230.9,377.4 231.0,388.3 231.1,395.0 231.1,387.9 231.2,394.5 231.3,381.1 231.4,393.1 231.4,385.8 231.5,382.2 231.6,403.8 231.7,387.6 231.7,388.6 231.8,379.1 231.9,396.1 232.0,373.6 232.1,385.2 232.1,391.6 232.2,398.7 232.3,400.4 232.4,392.1 232.4,386.2 232.5,386.4 232.6,393.4 232.7,395.5 232.7,402.1 232.8,394.4 232.9,387.6 233.0,411.5 233.1,402.6 233.1,378.9 233.2,377.6 233.3,398.0 233.4,388.8 233.4,390.0 233.5,385.7 233.6,378.8 233.7,393.7 233.7,390.4 233.8,388.9 233.9,376.6 234.0,380.9 234.1,390.7 234.1,393.9 234.2,409.5 234.3,385.9 234.4,394.3 234.4,394.0 234.5,390.7 234.6,393.6 234.7,401.7 234.7,418.0 234.8,382.1 234.9,401.0 235.0,400.3 235.1,396.3 235.1,403.1 235.2,397.4 235.3,389.3 235.4,396.5 235.4,414.5 235.5,389.4 235.6,386.3 235.7,390.6 235.7,401.9 235.8,383.6 235.9,390.1 236.0,394.2 236.0,398.0 236.1,383.6 236.2,395.1 236.3,405.2 236.4,382.0 236.4,399.8 236.5,404.6 236.6,385.8 236.7,384.4 236.7,399.2 236.8,402.9 236.9,376.9 237.0,387.9 237.0,382.0 237.1,396.2 237.2,379.8 237.3,391.0 237.4,407.8 237.4,396.9 237.5,390.0 237.6,390.0 237.7,389.9 237.7,407.0 237.8,393.0 237.9,397.9 238.0,399.0 238.0,397.6 238.1,386.0 238.2,393.0 238.3,407.3 238.4,395.2 238.4,416.1 238.5,410.8 238.6,401.8 238.7,410.9 238.7,390.8 238.8,396.9 238.9,382.6 239.0,395.6 239.0,384.1 239.1,377.6 239.2,411.4 239.3,408.3 239.4,387.0 239.4,394.5 239.5,411.4 239.6,387.3 239.7,390.6 239.7,414.1 239.8,397.6 239.9,408.1 240.0,391.0 240.0,393.3 240.1,398.8 240.2,384.5 240.3,399.4 240.4,384.2 240.4,381.0 240.5,383.8 240.6,413.4 240.7,389.5 240.7,394.8 240.8,393.2 240.9,393.7 241.0,391.1 241.0,375.7 241.1,392.0 241.2,386.7 241.3,387.0 241.3,392.0 241.4,394.8 241.5,387.3 241.6,390.0 241.7,397.2 241.7,403.0 241.8,393.3 241.9,386.3 242.0,399.7 242.0,385.7 242.1,397.9 242.2,398.6 242.3,392.8 242.3,397.1 242.4,388.1 242.5,373.3 242.6,416.9 242.7,407.9 242.7,386.0 242.8,378.9 242.9,405.8 243.0,387.0 243.0,391.3 243.1,389.5 243.2,380.3 243.3,380.0 243.3,388.5 243.4,386.6 243.5,396.7 243.6,390.3 243.7,383.9 243.7,385.0 243.8,379.3 243.9,385.8 244.0,390.7 244.0,384.8 244.1,411.5 244.2,405.8 244.3,406.9 244.3,403.2 244.4,395.6 244.5,401.6 244.6,408.4 244.7,409.1 244.7,390.5 244.8,390.2 244.9,387.3 245.0,405.4 245.0,395.4 245.1,387.3 245.2,394.6 245.3,398.8 245.3,392.8 245.4,407.2 245.5,385.6 245.6,396.1 245.6,415.6 245.7,393.5 245.8,394.8 245.9,395.4 246.0,399.4 246.0,401.7 246.1,404.2 246.2,414.4 246.3,405.6 246.3,385.8 246.4,383.0 246.5,408.2 246.6,407.1 246.6,402.0 246.7,396.0 246.8,387.2 246.9,401.0 247.0,393.2 247.0,390.8 247.1,384.5 247.2,397.7 247.3,400.9 247.3,398.4 247.4,387.2 247.5,398.8 247.6,373.9 247.6,388.2 247.7,386.0 247.8,394.8 247.9,385.8 248.0,399.2 248.0,407.8 248.1,419.0 248.2,379.2 248.3,407.5 248.3,394.3 248.4,405.3 248.5,398.4 248.6,390.8 248.6,399.1 248.7,394.7 248.8,408.1 248.9,400.3 249.0,384.1 249.0,389.3 249.1,394.1 249.2,385.2 249.3,395.6 249.3,391.5 249.4,384.9 249.5,382.9 249.6,395.5 249.6,400.2 249.7,402.3 249.8,395.1 249.9,398.6 250.0,397.7 250.0,395.0 250.1,382.4 250.2,392.5 250.3,399.1 250.3,404.9 250.4,381.8 250.5,406.0 250.6,387.0 250.6,387.8 250.7,407.5 250.8,404.2 250.9,407.2 250.9,396.3 251.0,397.6 251.1,396.6 251.2,393.7 251.3,395.4 251.3,396.7 251.4,403.8 251.5,385.5 251.6,396.3 251.6,389.8 251.7,388.5 251.8,405.5 251.9,393.7 251.9,399.7 252.0,381.8 252.1,391.1 252.2,405.5 252.3,402.3 252.3,378.3 252.4,387.9 252.5,397.0 252.6,394.0 252.6,404.2 252.7,394.6 252.8,399.6 252.9,402.5 252.9,395.1 253.0,400.4 253.1,395.2 253.2,390.7 253.3,393.2 253.3,412.8 253.4,383.0 253.5,382.1 253.6,373.9 253.6,393.7 253.7,411.6 253.8,369.2 253.9,409.7 253.9,392.5 254.0,387.1 254.1,380.2 254.2,381.8 254.3,384.6 254.3,405.2 254.4,399.4 254.5,401.4 254.6,395.9 254.6,391.4 254.7,375.8 254.8,368.5 254.9,383.5 254.9,391.3 255.0,381.3 255.1,388.8 255.2,385.8 255.2,391.1 255.3,390.9 255.4,377.6 255.5,390.7 255.6,390.1 255.6,387.2 255.7,393.8 255.8,380.9 255.9,398.8 255.9,387.9 256.0,387.7 256.1,396.8 256.2,398.5 256.2,387.7 256.3,379.6 256.4,387.1 256.5,380.8 256.6,384.6 256.6,396.7 256.7,393.8 256.8,387.5 256.9,391.0 256.9,367.4 257.0,391.3 257.1,382.9 257.2,385.0 257.2,387.6 257.3,387.2 257.4,398.2 257.5,375.0 257.6,391.2 257.6,396.2 257.7,402.1 257.8,391.6 257.9,381.3 257.9,389.9 258.0,390.6 258.1,384.8 258.2,399.6 258.2,390.2 258.3,384.1 258.4,393.9 258.5,382.3 258.6,400.7 258.6,371.0 258.7,402.8 258.8,378.8 258.9,389.9 258.9,385.3 259.0,394.0 259.1,372.2 259.2,385.3 259.2,405.9 259.3,390.5 259.4,394.4 259.5,384.0 259.6,390.3 259.6,366.3 259.7,385.4 259.8,377.0 259.9,390.7 259.9,397.0 260.0,369.9 260.1,402.1 260.2,382.2 260.2,381.4 260.3,381.9 260.4,389.8 260.5,406.2 260.5,397.6 260.6,381.8 260.7,389.8 260.8,377.8 260.9,401.8 260.9,375.6 261.0,393.1 261.1,376.2 261.2,401.0 261.2,398.2 261.3,379.3 261.4,373.9 261.5,395.1 261.5,372.7 261.6,391.8 261.7,369.7 261.8,384.9 261.9,386.0 261.9,393.1 262.0,394.9 262.1,381.2 262.2,378.2 262.2,380.5 262.3,375.5 262.4,376.6 262.5,367.1 262.5,375.5 262.6,366.4 262.7,365.6 262.8,387.6 262.9,375.5 262.9,366.9 263.0,373.9 263.1,370.0 263.2,370.1 263.2,374.7 263.3,378.8 263.4,400.8 263.5,385.5 263.5,387.2 263.6,383.3 263.7,396.8 263.8,392.3 263.9,377.5 263.9,388.6 264.0,383.4 264.1,369.1 264.2,373.9 264.2,377.1 264.3,396.4 264.4,378.5 264.5,374.7 264.5,378.2 264.6,384.2 264.7,373.3 264.8,378.4 264.8,391.1 264.9,386.7 265.0,385.7 265.1,369.6 265.2,356.8 265.2,362.9 265.3,380.2 265.4,376.7 265.5,396.3 265.5,368.1 265.6,378.4 265.7,377.2 265.8,369.3 265.8,379.3 265.9,374.6 266.0,386.2 266.1,361.0 266.2,369.0 266.2,382.6 266.3,378.0 266.4,383.7 266.5,372.7 266.5,385.3 266.6,367.1 266.7,380.2 266.8,392.0 266.8,393.2 266.9,384.5 267.0,387.4 267.1,389.7 267.2,373.9 267.2,402.4 267.3,398.0 267.4,388.0 267.5,391.5 267.5,374.8 267.6,394.3 267.7,373.2 267.8,393.3 267.8,392.0 267.9,394.4 268.0,376.2 268.1,394.5 268.2,375.3 268.2,390.1 268.3,384.7 268.4,381.7 268.5,382.5 268.5,380.6 268.6,399.7 268.7,387.1 268.8,380.5 268.8,382.7 268.9,389.0 269.0,397.9 269.1,396.8 269.2,400.4 269.2,394.1 269.3,384.4 269.4,374.1 269.5,385.4 269.5,390.4 269.6,377.0 269.7,389.1 269.8,380.2 269.8,385.4 269.9,377.7 270.0,392.1 270.1,381.4 270.1,379.2 270.2,390.0 270.3,370.4 270.4,385.6 270.5,376.6 270.5,368.3 270.6,366.9 270.7,380.5 270.8,375.6 270.8,389.7 270.9,402.7 271.0,391.6 271.1,375.9 271.1,390.5 271.2,369.8 271.3,373.4 271.4,386.4 271.5,409.0 271.5,387.8 271.6,401.6 271.7,371.9 271.8,395.0 271.8,385.2 271.9,392.8 272.0,391.8 272.1,382.6 272.1,381.9 272.2,379.2 272.3,397.2 272.4,384.8 272.5,404.2 272.5,397.3 272.6,380.9 272.7,383.8 272.8,368.2 272.8,387.6 272.9,368.8 273.0,388.2 273.1,386.8 273.1,379.5 273.2,392.0 273.3,405.0 273.4,404.0 273.5,401.1 273.5,399.9 273.6,389.6 273.7,411.7 273.8,391.6 273.8,385.2 273.9,398.3 274.0,392.2 274.1,388.6 274.1,402.5 274.2,400.4 274.3,409.4 274.4,387.3 274.4,404.3 274.5,397.9 274.6,397.7 274.7,400.7 274.8,411.3 274.8,405.6 274.9,391.6 275.0,397.0 275.1,403.8 275.1,401.6 275.2,395.9 275.3,393.6 275.4,388.6 275.4,383.4 275.5,392.5 275.6,388.4 275.7,397.6 275.8,391.8 275.8,400.2 275.9,407.7 276.0,403.9 276.1,398.0 276.1,394.9 276.2,394.8 276.3,383.9 276.4,402.4 276.4,386.1 276.5,394.2 276.6,398.3 276.7,398.7 276.8,407.3 276.8,394.6 276.9,381.0 277.0,399.9 277.1,413.6 277.1,403.5 277.2,384.4 277.3,379.7 277.4,402.1 277.4,394.5 277.5,393.3 277.6,415.4 277.7,394.4 277.8,390.0 277.8,408.1 277.9,379.1 278.0,411.7 278.1,394.6 278.1,409.3 278.2,421.3 278.3,421.3 278.4,405.2 278.4,383.6 278.5,402.7 278.6,403.0 278.7,408.5 278.8,407.6 278.8,405.9 278.9,416.2 279.0,381.1 279.1,405.6 279.1,399.9 279.2,400.8 279.3,405.3 279.4,403.6 279.4,417.5 279.5,389.9 279.6,396.3 279.7,426.1 279.7,406.5 279.8,411.0 279.9,394.2 280.0,413.3 280.1,407.2 280.1,394.8 280.2,387.8 280.3,398.9 280.4,394.8 280.4,411.0 280.5,418.7 280.6,394.5 280.7,405.4 280.7,394.8 280.8,397.8 280.9,398.4 281.0,400.1 281.1,401.1 281.1,412.2 281.2,409.4 281.3,409.6 281.4,397.4 281.4,409.8 281.5,412.7 281.6,393.0 281.7,420.1 281.7,423.9 281.8,382.5 281.9,421.2 282.0,409.1 282.1,399.4 282.1,422.0 282.2,412.0 282.3,393.0 282.4,416.8 282.4,411.8 282.5,421.5 282.6,397.7 282.7,398.0 282.7,400.1 282.8,424.4 282.9,393.0 283.0,390.1 283.1,395.4 283.1,406.9 283.2,396.8 283.3,390.5 283.4,403.2 283.4,393.3 283.5,394.9 283.6,398.9 283.7,414.1 283.7,409.0 283.8,399.7 283.9,394.0 284.0,407.2 284.0,392.8 284.1,399.3 284.2,394.2 284.3,384.1 284.4,414.2 284.4,394.1 284.5,399.1 284.6,389.3 284.7,381.5 284.7,388.1 284.8,397.3 284.9,398.0 285.0,379.7 285.0,382.4 285.1,393.7 285.2,391.3 285.3,406.1 285.4,399.0 285.4,387.8 285.5,413.4 285.6,402.8 285.7,380.5 285.7,380.9 285.8,381.5 285.9,397.4 286.0,390.9 286.0,395.6 286.1,382.0 286.2,384.3 286.3,394.7 286.4,384.2 286.4,389.4 286.5,397.0 286.6,384.6 286.7,389.3 286.7,382.4 286.8,407.5 286.9,375.9 287.0,378.7 287.0,385.8 287.1,398.5 287.2,396.8 287.3,414.7 287.4,400.2 287.4,395.1 287.5,404.1 287.6,393.8 287.7,376.4 287.7,402.2 287.8,374.6 287.9,377.1 288.0,395.5 288.0,380.0 288.1,391.3 288.2,413.7 288.3,401.9 288.4,414.4 288.4,412.2 288.5,393.8 288.6,413.7 288.7,382.0 288.7,394.7 288.8,394.2 288.9,391.7 289.0,402.1 289.0,396.5 289.1,380.9 289.2,367.9 289.3,400.2 289.3,380.1 289.4,391.8 289.5,391.7 289.6,387.3 289.7,406.9 289.7,391.3 289.8,376.0 289.9,387.1 290.0,387.3 290.0,401.7 290.1,393.3 290.2,374.3 290.3,406.7 290.3,401.3 290.4,385.7 290.5,377.0 290.6,384.1 290.7,380.9 290.7,394.7 290.8,374.5 290.9,384.8 291.0,386.6 291.0,391.4 291.1,388.2 291.2,400.0 291.3,383.8 291.3,373.5 291.4,379.2 291.5,392.8 291.6,383.8 291.7,380.5 291.7,385.3 291.8,386.6 291.9,388.8 292.0,392.8 292.0,386.5 292.1,404.4 292.2,400.6 292.3,384.4 292.3,396.6 292.4,383.0 292.5,392.1 292.6,385.6 292.7,396.9 292.7,381.7 292.8,395.1 292.9,397.2 293.0,378.3 293.0,386.3 293.1,379.0 293.2,375.4 293.3,382.6 293.3,383.7 293.4,389.2 293.5,380.0 293.6,396.1 293.6,401.5 293.7,380.6 293.8,377.4 293.9,387.6 294.0,392.8 294.0,385.4 294.1,382.0 294.2,385.7 294.3,367.4 294.3,396.0 294.4,388.7 294.5,376.9 294.6,382.7 294.6,367.1 294.7,388.1 294.8,381.7 294.9,383.6 295.0,388.4 295.0,379.2 295.1,368.5 295.2,385.9 295.3,378.8 295.3,374.9 295.4,397.7 295.5,367.3 295.6,386.5 295.6,395.2 295.7,390.9 295.8,391.2 295.9,407.8 296.0,375.0 296.0,388.3 296.1,381.8 296.2,383.6 296.3,364.6 296.3,374.2 296.4,384.9 296.5,379.2 296.6,374.6 296.6,394.7 296.7,381.2 296.8,375.2 296.9,385.6 297.0,385.3 297.0,378.1 297.1,388.5 297.2,381.8 297.3,384.1 297.3,372.5 297.4,385.1 297.5,392.4 297.6,371.6 297.6,395.1 297.7,378.3 297.8,387.9 297.9,395.0 298.0,384.3 298.0,384.7 298.1,387.5 298.2,402.3 298.3,365.7 298.3,390.1 298.4,373.1 298.5,380.0 298.6,379.0 298.6,381.3 298.7,378.9 298.8,365.5 298.9,403.2 298.9,376.4 299.0,388.4 299.1,386.3 299.2,380.4 299.3,371.5 299.3,373.3 299.4,375.6 299.5,374.0 299.6,379.7 299.6,388.2 299.7,371.1 299.8,385.6 299.9,366.2 299.9,372.5 300.0,380.9 300.1,373.1 300.2,383.2 300.3,397.5 300.3,374.4 300.4,370.9 300.5,377.5 300.6,375.6 300.6,363.7 300.7,377.4 300.8,382.6 300.9,386.0 300.9,375.7 301.0,390.5 301.1,379.0 301.2,365.0 301.3,373.9 301.3,368.3 301.4,377.1 301.5,385.0 301.6,370.6 301.6,377.0 301.7,374.2 301.8,380.4 301.9,377.1 301.9,382.3 302.0,362.9 302.1,378.7 302.2,381.2 302.3,378.5 302.3,396.0 302.4,385.1 302.5,365.5 302.6,378.2 302.6,383.1 302.7,381.3 302.8,392.6 302.9,382.0 302.9,368.9 303.0,378.5 303.1,399.6 303.2,412.0 303.2,376.0 303.3,391.0 303.4,395.9 303.5,383.7 303.6,389.2 303.6,382.5 303.7,376.1 303.8,376.7 303.9,386.9 303.9,400.3 304.0,382.6 304.1,389.7 304.2,382.4 304.2,386.5 304.3,397.7 304.4,395.3 304.5,376.6 304.6,384.5 304.6,377.1 304.7,392.0 304.8,388.3 304.9,390.7 304.9,388.0 305.0,372.5 305.1,392.2 305.2,384.3 305.2,393.3 305.3,385.0 305.4,384.1 305.5,396.2 305.6,393.5 305.6,383.4 305.7,397.3 305.8,384.5 305.9,396.2 305.9,392.3 306.0,403.3 306.1,408.4 306.2,385.6 306.2,392.0 306.3,400.8 306.4,403.3 306.5,407.6 306.6,390.9 306.6,409.2 306.7,381.9 306.8,387.9 306.9,378.6 306.9,386.7 307.0,387.2 307.1,384.1 307.2,385.5 307.2,366.2 307.3,364.7 307.4,383.6 307.5,381.2 307.5,387.5 307.6,394.9 307.7,377.5 307.8,383.9 307.9,389.1 307.9,385.2 308.0,386.8 308.1,400.4 308.2,385.0 308.2,392.9 308.3,407.7 308.4,382.8 308.5,384.1 308.5,384.5 308.6,391.3 308.7,366.9 308.8,382.2 308.9,386.0 308.9,402.6 309.0,382.6 309.1,381.3 309.2,384.5 309.2,389.1 309.3,366.2 309.4,373.9 309.5,400.2 309.5,388.0 309.6,400.7 309.7,371.8 309.8,390.8 309.9,386.8 309.9,377.3 310.0,388.0 310.1,380.0 310.2,373.4 310.2,393.2 310.3,372.3 310.4,381.3 310.5,365.7 310.5,397.2 310.6,394.6 310.7,377.9 310.8,371.8 310.9,397.8 310.9,385.4 311.0,385.9 311.1,400.8 311.2,387.4 311.2,378.4 311.3,396.4 311.4,382.2 311.5,391.4 311.5,386.6 311.6,379.1 311.7,392.5 311.8,378.8 311.9,368.3 311.9,375.5 312.0,390.2 312.1,404.0 312.2,393.5 312.2,388.4 312.3,380.8 312.4,389.1 312.5,374.2 312.5,367.2 312.6,397.4 312.7,384.8 312.8,391.3 312.8,398.2 312.9,371.4 313.0,389.8 313.1,412.7 313.2,391.5 313.2,408.1 313.3,396.5 313.4,401.1 313.5,396.5 313.5,389.1 313.6,397.8 313.7,395.5 313.8,400.7 313.8,402.0 313.9,398.0 314.0,374.6 314.1,385.6 314.2,382.5 314.2,377.6 314.3,374.7 314.4,406.1 314.5,384.1 314.5,369.6 314.6,385.7 314.7,393.1 314.8,394.7 314.8,406.6 314.9,400.7 315.0,398.8 315.1,408.7 315.2,393.8 315.2,380.5 315.3,369.3 315.4,384.9 315.5,387.6 315.5,391.4 315.6,389.3 315.7,401.1 315.8,382.7 315.8,386.9 315.9,408.9 316.0,390.5 316.1,383.8 316.2,391.8 316.2,382.2 316.3,386.2 316.4,390.5 316.5,397.2 316.5,394.5 316.6,381.7 316.7,386.3 316.8,378.3 316.8,390.9 316.9,375.4 317.0,382.1 317.1,373.8 317.1,412.8 317.2,386.7 317.3,383.5 317.4,392.3 317.5,391.8 317.5,395.1 317.6,393.5 317.7,391.2 317.8,394.4 317.8,403.7 317.9,384.0 318.0,405.0 318.1,400.2 318.1,389.7 318.2,396.1 318.3,399.0 318.4,413.8 318.5,394.0 318.5,398.4 318.6,399.8 318.7,411.6 318.8,393.4 318.8,402.7 318.9,398.5 319.0,399.0 319.1,381.1 319.1,408.6 319.2,395.9 319.3,417.4 319.4,391.9 319.5,402.6 319.5,384.7 319.6,409.8 319.7,402.8 319.8,388.2 319.8,411.1 319.9,400.5 320.0,396.3 320.1,398.8 320.1,403.5 320.2,414.3 320.3,418.0 320.4,389.9 320.5,406.5 320.5,404.6 320.6,408.7 320.7,402.2 320.8,414.4 320.8,401.6 320.9,405.0 321.0,408.3 321.1,396.2 321.1,408.3 321.2,413.1 321.3,403.2 321.4,402.0 321.5,393.8 321.5,425.5 321.6,410.9 321.7,410.7 321.8,411.9 321.8,401.6 321.9,400.0 322.0,422.1 322.1,402.7 322.1,411.6 322.2,416.9 322.3,402.1 322.4,408.7 322.4,400.2 322.5,404.3 322.6,406.4 322.7,402.1 322.8,409.7 322.8,411.1 322.9,419.2 323.0,407.5 323.1,395.0 323.1,416.4 323.2,398.9 323.3,402.5 323.4,399.8 323.4,415.5 323.5,393.0 323.6,398.7 323.7,407.8 323.8,414.2 323.8,409.1 323.9,401.4 324.0,399.5 324.1,409.2 324.1,404.4 324.2,411.1 324.3,408.2 324.4,421.1 324.4,413.0 324.5,409.5 324.6,410.6 324.7,401.1 324.8,405.9 324.8,400.7 324.9,417.5 325.0,406.1 325.1,408.6 325.1,424.8 325.2,417.4 325.3,418.9 325.4,397.8 325.4,423.1 325.5,405.3 325.6,405.0 325.7,413.8 325.8,396.2 325.8,410.6 325.9,412.2 326.0,400.8 326.1,403.5 326.1,415.3 326.2,396.2 326.3,412.2 326.4,428.4 326.4,400.1 326.5,402.9 326.6,411.6 326.7,404.9 326.7,405.1 326.8,405.3 326.9,389.8 327.0,406.7 327.1,414.7 327.1,391.7 327.2,390.1 327.3,401.9 327.4,421.2 327.4,394.9 327.5,414.0 327.6,399.8 327.7,403.5 327.7,413.4 327.8,409.6 327.9,420.4 328.0,405.4 328.1,420.0 328.1,407.7 328.2,394.8 328.3,395.4 328.4,411.4 328.4,413.3 328.5,420.5 328.6,386.8 328.7,415.7 328.7,400.1 328.8,406.4 328.9,392.5 329.0,396.4 329.1,414.2 329.1,404.9 329.2,397.3 329.3,402.9 329.4,395.2 329.4,422.8 329.5,401.3 329.6,402.7 329.7,397.4 329.7,404.7 329.8,393.4 329.9,395.7 330.0,397.2 330.1,410.7 330.1,397.2 330.2,399.0 330.3,401.4 330.4,398.8 330.4,413.2 330.5,404.0 330.6,400.0 330.7,408.6 330.7,384.2 330.8,395.3 330.9,418.6 331.0,393.0 331.1,395.9 331.1,410.3 331.2,401.1 331.3,395.7 331.4,393.6 331.4,393.1 331.5,405.0 331.6,392.8 331.7,391.6 331.7,406.7 331.8,388.5 331.9,399.2 332.0,392.0 332.0,397.6 332.1,396.8 332.2,406.4 332.3,410.4 332.4,391.9 332.4,411.1 332.5,410.4 332.6,398.0 332.7,395.9 332.7,397.1 332.8,378.1 332.9,384.4 333.0,394.5 333.0,394.8 333.1,406.3 333.2,381.0 333.3,398.0 333.4,389.2 333.4,399.7 333.5,379.7 333.6,391.5 333.7,392.0 333.7,391.2 333.8,386.2 333.9,375.8 334.0,378.2 334.0,396.1 334.1,391.1 334.2,388.0 334.3,407.9 334.4,395.3 334.4,406.5 334.5,402.8 334.6,396.9 334.7,411.2 334.7,401.4 334.8,400.9 334.9,403.2 335.0,390.0 335.0,393.1 335.1,399.9 335.2,393.7 335.3,381.8 335.4,377.6 335.4,392.2 335.5,385.0 335.6,373.5 335.7,362.9 335.7,386.7 335.8,372.4 335.9,386.9 336.0,387.8 336.0,380.6 336.1,383.9 336.2,408.6 336.3,373.5 336.3,394.1 336.4,385.5 336.5,386.0 336.6,393.9 336.7,391.4 336.7,395.5 336.8,385.8 336.9,377.0 337.0,380.7 337.0,367.7 337.1,394.6 337.2,377.5 337.3,375.2 337.3,384.7 337.4,377.6 337.5,386.6 337.6,394.0 337.7,390.7 337.7,368.1 337.8,386.2 337.9,406.6 338.0,401.4 338.0,400.2 338.1,377.1 338.2,387.5 338.3,379.0 338.3,375.6 338.4,371.3 338.5,389.2" fill="none" stroke="#f00" stroke-width="0.5" stroke-linejoin="round"/>
<path d="M62.1,387.2 62.2,392.8 62.3,368.0 62.3,374.5 62.4,360.9 62.5,377.6 62.6,381.0 62.6,367.4 62.7,371.7 62.8,351.1 62.9,372.8 62.9,369.3 63.0,367.7 63.1,380.0 63.2,391.8 63.3,368.2 63.3,367.1 63.4,378.5 63.5,368.2 63.6,383.0 63.6,368.2 63.7,377.9 63.8,386.7 63.9,362.9 63.9,354.2 64.0,372.7 64.1,366.6 64.2,347.8 64.3,368.4 64.3,352.1 64.4,376.7 64.5,385.7 64.6,349.2 64.6,397.6 64.7,395.2 64.8,368.3 64.9,373.3 64.9,392.7 65.0,362.2 65.1,374.8 65.2,382.7 65.2,374.5 65.3,377.2 65.4,386.9 65.5,377.4 65.6,391.7 65.6,378.3 65.7,363.6 65.8,374.7 65.9,382.2 65.9,387.9 66.0,357.5 66.1,393.7 66.2,404.2 66.2,378.8 66.3,385.8 66.4,377.0 66.5,388.0 66.6,404.5 66.6,374.1 66.7,356.9 66.8,390.8 66.9,366.3 66.9,359.4 67.0,368.4 67.1,355.4 67.2,371.9 67.2,398.6 67.3,394.5 67.4,397.4 67.5,370.0 67.6,380.2 67.6,374.4 67.7,384.1 67.8,396.3 67.9,374.5 67.9,364.6 68.0,359.5 68.1,375.5 68.2,351.5 68.2,363.8 68.3,367.5 68.4,341.4 68.5,364.0 68.6,370.8 68.6,359.1 68.7,358.0 68.8,370.1 68.9,373.5 68.9,396.9 69.0,372.6 69.1,396.7 69.2,394.8 69.2,375.9 69.3,388.7 69.4,389.4 69.5,385.5 69.5,380.9 69.6,376.8 69.7,391.7 69.8,371.2 69.9,364.1 69.9,373.7 70.0,381.2 70.1,376.0 70.2,366.9 70.2,383.6 70.3,374.3 70.4,396.5 70.5,376.6 70.5,373.4 70.6,351.6 70.7,358.1 70.8,357.6 70.9,389.3 70.9,385.5 71.0,360.8 71.1,372.8 71.2,385.1 71.2,400.5 71.3,368.4 71.4,380.4 71.5,389.5 71.5,368.9 71.6,373.0 71.7,366.1 71.8,369.2 71.9,381.4 71.9,389.9 72.0,364.9 72.1,359.5 72.2,372.1 72.2,377.0 72.3,362.0 72.4,364.8 72.5,357.0 72.5,371.5 72.6,364.3 72.7,377.6 72.8,376.5 72.9,372.1 72.9,358.6 73.0,353.2 73.1,332.3 73.2,367.3 73.2,367.4 73.3,345.0 73.4,379.4 73.5,372.9 73.5,356.1 73.6,358.0 73.7,373.2 73.8,342.4 73.9,344.6 73.9,375.6 74.0,373.0 74.1,382.0 74.2,361.5 74.2,366.8 74.3,369.5 74.4,335.2 74.5,361.1 74.5,381.7 74.6,373.3 74.7,360.4 74.8,362.4 74.8,351.9 74.9,355.0 75.0,342.1 75.1,338.6 75.2,342.8 75.2,340.5 75.3,373.1 75.4,358.5 75.5,347.4 75.5,338.2 75.6,363.7 75.7,335.6 75.8,364.0 75.8,349.5 75.9,333.0 76.0,355.7 76.1,345.7 76.2,367.6 76.2,348.5 76.3,343.2 76.4,348.3 76.5,352.1 76.5,360.9 76.6,371.7 76.7,352.3 76.8,366.6 76.8,358.5 76.9,363.5 77.0,342.3 77.1,343.0 77.2,335.4 77.2,349.2 77.3,371.2 77.4,356.6 77.5,362.2 77.5,374.0 77.6,357.0 77.7,369.6 77.8,328.4 77.8,327.9 77.9,364.4 78.0,349.1 78.1,359.0 78.2,355.3 78.2,356.6 78.3,351.5 78.4,359.5 78.5,348.2 78.5,382.1 78.6,367.7 78.7,340.5 78.8,354.1 78.8,353.5 78.9,353.3 79.0,372.1 79.1,362.7 79.1,344.5 79.2,350.3 79.3,375.4 79.4,335.6 79.5,338.9 79.5,370.0 79.6,352.3 79.7,375.7 79.8,375.6 79.8,382.8 79.9,339.2 80.0,343.5 80.1,340.8 80.1,382.2 80.2,352.6 80.3,373.3 80.4,337.5 80.5,343.9 80.5,349.4 80.6,344.3 80.7,354.1 80.8,357.5 80.8,369.2 80.9,366.6 81.0,362.8 81.1,372.5 81.1,382.1 81.2,361.6 81.3,379.9 81.4,342.6 81.5,339.5 81.5,350.2 81.6,362.7 81.7,351.1 81.8,350.8 81.8,339.4 81.9,377.6 82.0,328.8 82.1,338.2 82.1,341.0 82.2,354.1 82.3,359.3 82.4,338.5 82.5,352.3 82.5,375.1 82.6,359.1 82.7,350.1 82.8,368.9 82.8,366.8 82.9,342.8 83.0,361.6 83.1,354.3 83.1,342.9 83.2,361.7 83.3,357.4 83.4,340.8 83.5,337.9 83.5,385.6 83.6,351.1 83.7,342.6 83.8,358.4 83.8,358.2 83.9,366.6 84.0,340.1 84.1,361.2 84.1,341.4 84.2,345.2 84.3,371.6 84.4,353.6 84.4,368.8 84.5,351.9 84.6,367.6 84.7,372.2 84.8,345.9 84.8,357.2 84.9,357.1 85.0,349.5 85.1,350.1 85.1,358.4 85.2,359.1 85.3,357.3 85.4,354.4 85.4,355.5 85.5,337.8 85.6,358.2 85.7,359.8 85.8,334.4 85.8,369.8 85.9,355.4 86.0,383.9 86.1,389.3 86.1,375.4 86.2,358.6 86.3,362.8 86.4,341.4 86.4,360.8 86.5,352.1 86.6,364.5 86.7,369.6 86.8,369.1 86.8,374.6 86.9,357.9 87.0,380.6 87.1,375.5 87.1,374.7 87.2,384.0 87.3,352.2 87.4,354.7 87.4,369.5 87.5,362.2 87.6,394.2 87.7,372.4 87.8,353.2 87.8,369.1 87.9,381.4 88.0,380.3 88.1,354.8 88.1,375.9 88.2,353.5 88.3,383.6 88.4,358.1 88.4,355.3 88.5,359.0 88.6,361.6 88.7,352.0 88.7,364.9 88.8,355.7 88.9,355.5 89.0,353.3 89.1,366.4 89.1,346.8 89.2,382.2 89.3,373.9 89.4,357.2 89.4,365.1 89.5,379.8 89.6,363.7 89.7,378.4 89.7,371.1 89.8,356.4 89.9,353.7 90.0,354.6 90.1,376.0 90.1,365.8 90.2,340.0 90.3,370.3 90.4,347.8 90.4,366.3 90.5,365.8 90.6,373.0 90.7,369.7 90.7,367.9 90.8,376.2 90.9,370.9 91.0,345.8 91.1,382.3 91.1,386.7 91.2,395.4 91.3,399.1 91.4,362.7 91.4,364.9 91.5,364.8 91.6,367.9 91.7,360.3 91.7,368.4 91.8,366.7 91.9,362.6 92.0,364.0 92.1,366.7 92.1,370.6 92.2,388.6 92.3,385.4 92.4,371.7 92.4,361.6 92.5,396.4 92.6,356.3 92.7,366.3 92.7,356.8 92.8,376.2 92.9,369.9 93.0,373.9 93.1,360.0 93.1,370.5 93.2,381.7 93.3,368.0 93.4,367.6 93.4,365.6 93.5,377.2 93.6,369.9 93.7,367.4 93.7,356.3 93.8,376.1 93.9,382.3 94.0,375.7 94.0,394.8 94.1,402.5 94.2,372.0 94.3,371.9 94.4,378.2 94.4,394.8 94.5,365.3 94.6,386.7 94.7,354.7 94.7,367.2 94.8,373.8 94.9,367.6 95.0,377.2 95.0,376.6 95.1,374.8 95.2,379.0 95.3,378.9 95.4,380.1 95.4,371.9 95.5,400.2 95.6,390.5 95.7,380.6 95.7,369.1 95.8,380.5 95.9,374.5 96.0,399.0 96.0,361.2 96.1,373.4 96.2,378.8 96.3,369.9 96.4,354.9 96.4,360.2 96.5,358.1 96.6,355.0 96.7,375.6 96.7,356.6 96.8,393.3 96.9,379.5 97.0,361.0 97.0,358.0 97.1,378.8 97.2,363.6 97.3,355.0 97.4,366.9 97.4,361.4 97.5,360.7 97.6,349.9 97.7,373.1 97.7,381.5 97.8,349.5 97.9,363.1 98.0,392.2 98.0,369.6 98.1,387.4 98.2,401.2 98.3,351.0 98.3,376.2 98.4,363.8 98.5,398.1 98.6,373.9 98.7,380.4 98.7,377.0 98.8,356.1 98.9,383.3 99.0,397.9 99.0,362.6 99.1,389.5 99.2,360.1 99.3,361.0 99.3,392.2 99.4,367.3 99.5,371.6 99.6,400.5 99.7,390.0 99.7,374.2 99.8,370.4 99.9,373.7 100.0,361.8 100.0,387.9 100.1,367.5 100.2,370.8 100.3,384.7 100.3,381.7 100.4,366.0 100.5,362.6 100.6,368.0 100.7,365.3 100.7,358.8 100.8,373.3 100.9,379.9 101.0,398.9 101.0,356.4 101.1,379.1 101.2,369.3 101.3,372.4 101.3,373.7 101.4,373.9 101.5,370.5 101.6,366.5 101.7,365.1 101.7,387.7 101.8,353.1 101.9,373.2 102.0,361.4 102.0,363.0 102.1,346.2 102.2,358.7 102.3,357.3 102.3,377.4 102.4,359.4 102.5,344.3 102.6,356.9 102.6,338.0 102.7,354.2 102.8,340.6 102.9,336.3 103.0,344.3 103.0,365.4 103.1,331.2 103.2,352.9 103.3,368.0 103.3,336.0 103.4,367.4 103.5,362.4 103.6,347.8 103.6,355.5 103.7,373.7 103.8,337.5 103.9,380.0 104.0,373.2 104.0,357.9 104.1,339.6 104.2,385.2 104.3,372.7 104.3,360.3 104.4,354.2 104.5,362.3 104.6,353.5 104.6,364.1 104.7,363.6 104.8,376.2 104.9,348.2 105.0,367.2 105.0,354.7 105.1,335.0 105.2,333.1 105.3,353.3 105.3,356.5 105.4,366.7 105.5,352.2 105.6,350.7 105.6,367.3 105.7,353.6 105.8,343.7 105.9,341.5 106.0,357.7 106.0,353.1 106.1,358.8 106.2,338.8 106.3,356.6 106.3,342.6 106.4,349.4 106.5,339.7 106.6,322.6 106.6,358.5 106.7,344.6 106.8,349.7 106.9,328.3 107.0,338.0 107.0,347.4 107.1,349.0 107.2,325.9 107.3,319.5 107.3,364.0 107.4,347.8 107.5,360.0 107.6,347.7 107.6,346.1 107.7,352.7 107.8,329.4 107.9,351.9 107.9,334.7 108.0,365.3 108.1,353.3 108.2,341.6 108.3,334.1 108.3,352.8 108.4,333.5 108.5,342.6 108.6,363.7 108.6,320.9 108.7,358.0 108.8,321.9 108.9,359.9 108.9,328.6 109.0,327.9 109.1,328.7 109.2,343.1 109.3,331.5 109.3,369.3 109.4,341.4 109.5,344.7 109.6,348.9 109.6,323.1 109.7,335.7 109.8,336.0 109.9,338.2 109.9,336.3 110.0,334.1 110.1,360.0 110.2,341.0 110.3,320.6 110.3,339.3 110.4,348.2 110.5,340.6 110.6,339.2 110.6,338.8 110.7,336.8 110.8,336.1 110.9,332.7 110.9,355.4 111.0,351.0 111.1,359.5 111.2,347.6 111.3,332.2 111.3,337.4 111.4,358.2 111.5,364.9 111.6,359.5 111.6,335.6 111.7,335.6 111.8,332.2 111.9,375.2 111.9,380.5 112.0,333.7 112.1,357.3 112.2,355.2 112.2,354.7 112.3,362.2 112.4,350.8 112.5,375.7 112.6,377.5 112.6,366.0 112.7,364.3 112.8,349.4 112.9,358.2 112.9,369.7 113.0,345.9 113.1,371.9 113.2,345.8 113.2,337.3 113.3,341.5 113.4,363.6 113.5,342.6 113.6,369.0 113.6,348.5 113.7,366.9 113.8,354.1 113.9,365.4 113.9,342.7 114.0,351.8 114.1,355.5 114.2,346.9 114.2,353.3 114.3,344.4 114.4,362.8 114.5,334.6 114.6,365.1 114.6,352.4 114.7,331.5 114.8,348.2 114.9,371.9 114.9,365.8 115.0,352.8 115.1,368.3 115.2,363.0 115.2,358.1 115.3,356.5 115.4,365.5 115.5,355.0 115.6,359.9 115.6,346.3 115.7,378.0 115.8,377.1 115.9,377.1 115.9,379.3 116.0,371.7 116.1,375.7 116.2,364.7 116.2,373.6 116.3,327.9 116.4,365.6 116.5,345.0 116.6,360.2 116.6,363.7 116.7,367.9 116.8,353.3 116.9,357.6 116.9,370.5 117.0,353.7 117.1,355.6 117.2,359.2 117.2,373.0 117.3,358.0 117.4,348.6 117.5,361.2 117.5,370.4 117.6,367.4 117.7,327.3 117.8,356.1 117.9,357.1 117.9,350.3 118.0,361.6 118.1,368.5 118.2,351.2 118.2,347.8 118.3,342.2 118.4,348.7 118.5,347.9 118.5,345.4 118.6,338.5 118.7,348.6 118.8,364.6 118.9,353.1 118.9,335.9 119.0,343.1 119.1,344.8 119.2,358.7 119.2,353.1 119.3,355.8 119.4,358.2 119.5,349.6 119.5,358.9 119.6,348.6 119.7,353.3 119.8,359.5 119.9,354.5 119.9,363.0 120.0,366.0 120.1,356.0 120.2,346.1 120.2,384.9 120.3,362.2 120.4,340.0 120.5,361.3 120.5,352.8 120.6,376.4 120.7,369.5 120.8,352.0 120.9,349.3 120.9,369.2 121.0,382.8 121.1,365.1 121.2,367.7 121.2,363.4 121.3,378.5 121.4,372.8 121.5,337.4 121.5,379.5 121.6,356.6 121.7,351.9 121.8,358.6 121.8,369.4 121.9,380.2 122.0,380.0 122.1,360.5 122.2,369.0 122.2,379.6 122.3,367.6 122.4,355.6 122.5,377.5 122.5,369.8 122.6,373.7 122.7,368.4 122.8,372.6 122.8,362.8 122.9,393.5 123.0,378.2 123.1,367.8 123.2,397.3 123.2,369.6 123.3,398.0 123.4,369.3 123.5,362.2 123.5,388.7 123.6,358.2 123.7,391.0 123.8,367.6 123.8,384.4 123.9,388.1 124.0,402.0 124.1,402.5 124.2,376.7 124.2,378.0 124.3,352.6 124.4,401.8 124.5,376.4 124.5,365.7 124.6,375.4 124.7,365.4 124.8,397.9 124.8,380.6 124.9,382.3 125.0,358.4 125.1,379.1 125.2,376.9 125.2,373.0 125.3,383.7 125.4,384.7 125.5,398.1 125.5,360.9 125.6,388.2 125.7,359.9 125.8,376.9 125.8,371.2 125.9,374.0 126.0,363.4 126.1,402.7 126.2,354.4 126.2,374.9 126.3,397.0 126.4,375.4 126.5,393.6 126.5,372.4 126.6,389.5 126.7,379.7 126.8,375.2 126.8,409.2 126.9,370.0 127.0,381.4 127.1,375.2 127.1,379.7 127.2,373.1 127.3,374.2 127.4,382.8 127.5,378.2 127.5,355.8 127.6,376.8 127.7,385.4 127.8,369.2 127.8,385.9 127.9,402.0 128.0,347.5 128.1,373.5 128.1,379.4 128.2,358.2 128.3,348.4 128.4,382.9 128.5,372.3 128.5,366.0 128.6,389.1 128.7,372.5 128.8,357.4 128.8,357.4 128.9,364.1 129.0,366.6 129.1,367.0 129.1,378.4 129.2,376.7 129.3,394.0 129.4,364.1 129.5,376.0 129.5,374.2 129.6,379.0 129.7,368.5 129.8,356.4 129.8,382.6 129.9,396.1 130.0,385.6 130.1,394.7 130.1,396.0 130.2,377.3 130.3,369.7 130.4,396.5 130.5,368.6 130.5,382.1 130.6,362.5 130.7,368.3 130.8,361.5 130.8,355.7 130.9,383.0 131.0,360.2 131.1,360.2 131.1,362.3 131.2,381.2 131.3,382.2 131.4,370.6 131.4,372.9 131.5,355.9 131.6,369.3 131.7,383.5 131.8,363.0 131.8,365.8 131.9,369.5 132.0,360.5 132.1,364.4 132.1,365.2 132.2,376.8 132.3,341.6 132.4,357.4 132.4,365.2 132.5,375.8 132.6,354.2 132.7,358.6 132.8,370.3 132.8,358.8 132.9,366.1 133.0,351.9 133.1,387.9 133.1,359.0 133.2,358.3 133.3,377.8 133.4,354.8 133.4,369.1 133.5,369.2 133.6,356.3 133.7,356.0 133.8,363.1 133.8,348.3 133.9,353.6 134.0,365.8 134.1,347.4 134.1,364.6 134.2,387.2 134.3,331.8 134.4,369.8 134.4,350.2 134.5,364.1 134.6,355.0 134.7,354.1 134.8,342.1 134.8,338.6 134.9,371.4 135.0,338.7 135.1,350.4 135.1,344.5 135.2,364.7 135.3,361.3 135.4,357.1 135.4,349.2 135.5,366.5 135.6,354.1 135.7,348.0 135.8,354.5 135.8,365.4 135.9,364.5 136.0,370.6 136.1,349.8 136.1,360.3 136.2,365.2 136.3,352.2 136.4,351.7 136.4,347.2 136.5,381.9 136.6,338.4 136.7,342.7 136.7,346.9 136.8,363.5 136.9,361.3 137.0,366.8 137.1,361.0 137.1,352.2 137.2,380.1 137.3,361.4 137.4,336.8 137.4,366.1 137.5,362.1 137.6,341.2 137.7,362.6 137.7,350.8 137.8,363.6 137.9,353.5 138.0,373.4 138.1,361.3 138.1,349.3 138.2,368.4 138.3,345.2 138.4,369.9 138.4,361.9 138.5,353.3 138.6,352.4 138.7,367.9 138.7,367.5 138.8,381.4 138.9,361.8 139.0,339.3 139.1,373.0 139.1,368.3 139.2,363.7 139.3,358.1 139.4,373.5 139.4,371.8 139.5,337.8 139.6,339.2 139.7,347.1 139.7,367.7 139.8,360.5 139.9,345.1 140.0,361.7 140.1,342.8 140.1,368.6 140.2,362.7 140.3,353.9 140.4,337.8 140.4,374.3 140.5,345.1 140.6,382.3 140.7,371.9 140.7,379.5 140.8,367.6 140.9,365.0 141.0,376.8 141.0,361.9 141.1,390.7 141.2,381.5 141.3,370.8 141.4,370.1 141.4,374.5 141.5,369.0 141.6,357.4 141.7,371.9 141.7,356.7 141.8,363.0 141.9,384.2 142.0,379.2 142.0,388.9 142.1,381.3 142.2,373.5 142.3,386.5 142.4,397.1 142.4,380.9 142.5,371.4 142.6,392.6 142.7,366.1 142.7,382.3 142.8,377.4 142.9,375.8 143.0,382.4 143.0,385.0 143.1,362.9 143.2,371.2 143.3,362.9 143.4,367.0 143.4,384.3 143.5,359.5 143.6,375.1 143.7,368.2 143.7,349.2 143.8,365.5 143.9,368.5 144.0,369.3 144.0,366.9 144.1,364.8 144.2,387.2 144.3,372.5 144.4,383.1 144.4,390.7 144.5,350.6 144.6,367.1 144.7,382.4 144.7,383.4 144.8,391.1 144.9,371.5 145.0,406.4 145.0,404.6 145.1,384.2 145.2,372.1 145.3,379.3 145.4,392.8 145.4,379.9 145.5,383.4 145.6,380.1 145.7,361.0 145.7,365.3 145.8,372.2 145.9,375.1 146.0,374.0 146.0,371.1 146.1,377.1 146.2,360.0 146.3,394.7 146.3,381.7 146.4,398.8 146.5,362.8 146.6,395.9 146.7,371.1 146.7,372.9 146.8,389.4 146.9,374.0 147.0,380.6 147.0,378.7 147.1,381.2 147.2,385.4 147.3,397.8 147.3,364.8 147.4,394.3 147.5,374.4 147.6,360.6 147.7,390.0 147.7,375.4 147.8,367.4 147.9,389.2 148.0,373.8 148.0,389.4 148.1,381.5 148.2,390.4 148.3,391.8 148.3,386.6 148.4,384.8 148.5,385.8 148.6,379.9 148.7,378.8 148.7,403.4 148.8,408.7 148.9,401.5 149.0,407.5 149.0,390.2 149.1,416.2 149.2,389.7 149.3,405.3 149.3,401.7 149.4,398.3 149.5,387.7 149.6,392.4 149.7,388.8 149.7,390.7 149.8,395.0 149.9,389.4 150.0,391.6 150.0,398.9 150.1,359.0 150.2,385.7 150.3,375.6 150.3,389.6 150.4,378.7 150.5,386.3 150.6,405.5 150.6,375.5 150.7,417.6 150.8,378.5 150.9,378.7 151.0,390.8 151.0,394.3 151.1,383.1 151.2,388.9 151.3,398.0 151.3,416.3 151.4,389.5 151.5,389.8 151.6,413.0 151.6,407.0 151.7,409.2 151.8,406.2 151.9,402.6 152.0,404.6 152.0,381.5 152.1,388.7 152.2,395.4 152.3,399.2 152.3,399.2 152.4,386.9 152.5,364.6 152.6,376.9 152.6,397.8 152.7,381.0 152.8,383.7 152.9,392.2 153.0,393.6 153.0,415.1 153.1,409.6 153.2,385.8 153.3,409.5 153.3,391.7 153.4,391.3 153.5,384.1 153.6,394.2 153.6,412.5 153.7,404.7 153.8,393.8 153.9,397.1 154.0,393.7 154.0,395.3 154.1,401.1 154.2,397.8 154.3,407.3 154.3,410.3 154.4,384.2 154.5,377.7 154.6,367.5 154.6,399.9 154.7,378.7 154.8,400.5 154.9,383.8 155.0,406.7 155.0,365.5 155.1,376.9 155.2,391.8 155.3,388.8 155.3,393.7 155.4,374.0 155.5,390.5 155.6,393.0 155.6,381.8 155.7,404.1 155.8,383.4 155.9,390.8 155.9,391.4 156.0,384.4 156.1,393.8 156.2,390.0 156.3,372.4 156.3,378.0 156.4,411.3 156.5,395.0 156.6,369.9 156.6,388.4 156.7,378.1 156.8,372.8 156.9,371.4 156.9,373.3 157.0,380.0 157.1,388.7 157.2,385.4 157.3,355.1 157.3,368.6 157.4,366.2 157.5,393.1 157.6,387.2 157.6,389.4 157.7,393.8 157.8,401.0 157.9,378.7 157.9,391.5 158.0,401.1 158.1,393.4 158.2,376.4 158.3,387.6 158.3,386.8 158.4,405.1 158.5,385.4 158.6,368.9 158.6,379.4 158.7,374.7 158.8,405.2 158.9,378.6 158.9,393.7 159.0,379.8 159.1,384.5 159.2,388.7 159.3,384.7 159.3,384.6 159.4,368.9 159.5,381.8 159.6,392.7 159.6,401.7 159.7,379.4 159.8,398.2 159.9,362.5 159.9,369.7 160.0,367.7 160.1,385.4 160.2,376.6 160.2,409.5 160.3,382.4 160.4,388.7 160.5,386.6 160.6,395.3 160.6,383.8 160.7,359.8 160.8,373.4 160.9,381.2 160.9,375.5 161.0,379.2 161.1,396.2 161.2,381.5 161.2,373.7 161.3,413.0 161.4,403.0 161.5,360.9 161.6,375.0 161.6,389.9 161.7,398.1 161.8,380.5 161.9,381.1 161.9,358.6 162.0,397.7 162.1,384.0 162.2,358.2 162.2,356.6 162.3,374.7 162.4,382.8 162.5,375.7 162.6,377.3 162.6,373.5 162.7,381.6 162.8,378.2 162.9,386.2 162.9,375.7 163.0,372.4 163.1,379.2 163.2,379.6 163.2,371.7 163.3,380.7 163.4,367.9 163.5,397.9 163.6,392.3 163.6,369.0 163.7,371.7 163.8,375.2 163.9,374.0 163.9,386.9 164.0,375.3 164.1,380.0 164.2,406.8 164.2,395.1 164.3,387.3 164.4,413.0 164.5,378.3 164.6,383.1 164.6,392.3 164.7,387.7 164.8,375.4 164.9,370.9 164.9,394.9 165.0,372.0 165.1,381.9 165.2,381.6 165.2,391.2 165.3,376.3 165.4,398.7 165.5,382.5 165.5,379.2 165.6,403.2 165.7,373.4 165.8,365.5 165.9,358.7 165.9,372.7 166.0,382.2 166.1,388.1 166.2,381.0 166.2,371.7 166.3,387.2 166.4,375.9 166.5,368.2 166.5,378.8 166.6,376.7 166.7,376.1 166.8,369.7 166.9,370.2 166.9,375.2 167.0,387.9 167.1,371.3 167.2,377.3 167.2,371.7 167.3,364.0 167.4,389.3 167.5,386.8 167.5,375.6 167.6,384.8 167.7,385.9 167.8,373.1 167.9,393.3 167.9,393.3 168.0,392.4 168.1,368.5 168.2,388.2 168.2,376.5 168.3,376.7 168.4,386.0 168.5,360.8 168.5,369.5 168.6,361.1 168.7,373.6 168.8,366.7 168.9,375.9 168.9,398.1 169.0,369.1 169.1,380.6 169.2,381.6 169.2,379.1 169.3,378.9 169.4,365.1 169.5,384.9 169.5,378.5 169.6,368.6 169.7,384.3 169.8,379.7 169.8,377.8 169.9,400.7 170.0,372.4 170.1,402.2 170.2,399.7 170.2,393.2 170.3,388.6 170.4,388.9 170.5,408.0 170.5,390.0 170.6,372.2 170.7,387.5 170.8,396.2 170.8,387.9 170.9,382.4 171.0,385.2 171.1,394.2 171.2,364.4 171.2,382.4 171.3,381.3 171.4,364.4 171.5,378.9 171.5,376.4 171.6,375.3 171.7,389.3 171.8,381.5 171.8,391.4 171.9,386.9 172.0,396.2 172.1,387.0 172.2,364.5 172.2,395.7 172.3,375.0 172.4,374.8 172.5,383.9 172.5,399.4 172.6,377.0 172.7,389.4 172.8,376.2 172.8,391.9 172.9,396.7 173.0,410.3 173.1,386.7 173.2,380.5 173.2,380.0 173.3,380.9 173.4,401.9 173.5,385.6 173.5,367.2 173.6,375.4 173.7,387.4 173.8,373.9 173.8,370.1 173.9,384.4 174.0,401.8 174.1,401.3 174.1,379.6 174.2,392.2 174.3,385.8 174.4,400.8 174.5,391.0 174.5,394.9 174.6,405.3 174.7,381.5 174.8,380.3 174.8,392.9 174.9,399.8 175.0,397.7 175.1,384.5 175.1,407.8 175.2,381.3 175.3,396.1 175.4,398.0 175.5,398.1 175.5,382.5 175.6,381.5 175.7,390.2 175.8,408.2 175.8,386.9 175.9,398.2 176.0,407.1 176.1,395.3 176.1,400.8 176.2,380.7 176.3,369.7 176.4,378.5 176.5,359.8 176.5,383.2 176.6,375.8 176.7,388.4 176.8,384.8 176.8,376.7 176.9,371.1 177.0,398.8 177.1,387.7 177.1,381.1 177.2,397.0 177.3,381.6 177.4,397.2 177.5,385.8 177.5,377.4 177.6,389.2 177.7,400.1 177.8,381.3 177.8,404.4 177.9,409.5 178.0,383.2 178.1,389.1 178.1,388.8 178.2,379.0 178.3,374.0 178.4,363.4 178.5,379.2 178.5,390.4 178.6,396.0 178.7,382.6 178.8,393.7 178.8,367.9 178.9,383.7 179.0,371.8 179.1,382.1 179.1,386.7 179.2,400.3 179.3,390.3 179.4,384.0 179.4,376.6 179.5,403.7 179.6,363.4 179.7,372.9 179.8,366.7 179.8,399.1 179.9,388.1 180.0,397.0 180.1,389.0 180.1,387.2 180.2,382.0 180.3,373.3 180.4,415.1 180.4,379.0 180.5,389.2 180.6,399.1 180.7,380.8 180.8,379.7 180.8,380.1 180.9,400.6 181.0,360.8 181.1,373.0 181.1,405.8 181.2,384.1 181.3,380.5 181.4,363.7 181.4,375.2 181.5,371.6 181.6,374.1 181.7,386.8 181.8,415.3 181.8,384.5 181.9,407.0 182.0,377.0 182.1,393.6 182.1,406.7 182.2,391.5 182.3,385.8 182.4,411.5 182.4,406.3 182.5,378.6 182.6,389.3 182.7,417.7 182.8,399.8 182.8,386.0 182.9,411.9 183.0,407.8 183.1,391.8 183.1,393.7 183.2,414.4 183.3,403.6 183.4,392.3 183.4,393.6 183.5,395.1 183.6,383.5 183.7,389.6 183.7,383.8 183.8,398.9 183.9,392.9 184.0,385.5 184.1,389.5 184.1,393.5 184.2,380.1 184.3,368.9 184.4,412.5 184.4,398.5 184.5,395.4 184.6,393.3 184.7,375.1 184.7,379.9 184.8,387.9 184.9,377.4 185.0,389.3 185.1,382.4 185.1,383.4 185.2,407.0 185.3,417.5 185.4,391.0 185.4,391.8 185.5,386.4 185.6,385.8 185.7,393.8 185.7,369.6 185.8,398.9 185.9,390.9 186.0,391.6 186.1,401.6 186.1,374.3 186.2,399.3 186.3,364.4 186.4,398.5 186.4,389.4 186.5,392.7 186.6,381.4 186.7,370.3 186.7,386.2 186.8,378.1 186.9,381.4 187.0,378.9 187.1,384.9 187.1,376.0 187.2,392.9 187.3,364.8 187.4,373.7 187.4,382.5 187.5,368.3 187.6,389.5 187.7,392.9 187.7,388.1 187.8,369.4 187.9,398.1 188.0,389.8 188.1,405.5 188.1,398.3 188.2,400.0 188.3,413.8 188.4,388.8 188.4,399.4 188.5,387.9 188.6,377.7 188.7,367.1 188.7,389.8 188.8,395.0 188.9,384.9 189.0,382.2 189.0,395.8 189.1,387.2 189.2,391.9 189.3,397.6 189.4,390.9 189.4,367.6 189.5,390.8 189.6,377.4 189.7,391.9 189.7,400.0 189.8,398.3 189.9,393.0 190.0,380.8 190.0,387.2 190.1,378.3 190.2,382.5 190.3,390.0 190.4,374.2 190.4,373.2 190.5,392.6 190.6,382.5 190.7,381.0 190.7,374.8 190.8,379.1 190.9,386.1 191.0,385.8 191.0,366.7 191.1,391.9 191.2,393.6 191.3,382.7 191.4,389.9 191.4,379.5 191.5,380.2 191.6,373.1 191.7,392.7 191.7,374.8 191.8,392.8 191.9,379.0 192.0,371.3 192.0,391.2 192.1,375.5 192.2,392.7 192.3,385.7 192.4,376.5 192.4,370.0 192.5,387.2 192.6,374.3 192.7,375.5 192.7,386.8 192.8,393.9 192.9,375.3 193.0,381.6 193.0,381.1 193.1,385.2 193.2,384.3 193.3,368.2 193.3,394.6 193.4,372.3 193.5,367.3 193.6,374.3 193.7,381.9 193.7,359.1 193.8,382.1 193.9,392.6 194.0,376.1 194.0,395.9 194.1,381.9 194.2,403.0 194.3,367.2 194.3,404.4 194.4,386.4 194.5,359.6 194.6,382.5 194.7,407.7 194.7,395.9 194.8,370.4 194.9,392.5 195.0,363.2 195.0,410.8 195.1,399.7 195.2,394.8 195.3,386.7 195.3,385.6 195.4,400.9 195.5,390.2 195.6,370.9 195.7,382.7 195.7,397.7 195.8,374.2 195.9,393.6 196.0,381.6 196.0,399.9 196.1,390.3 196.2,385.7 196.3,412.0 196.3,380.7 196.4,393.0 196.5,368.4 196.6,385.2 196.7,402.6 196.7,402.8 196.8,380.1 196.9,383.6 197.0,372.1 197.0,375.9 197.1,403.3 197.2,386.0 197.3,395.8 197.3,402.8 197.4,392.8 197.5,381.5 197.6,382.3 197.7,389.3 197.7,399.3 197.8,383.9 197.9,393.0 198.0,399.7 198.0,396.9 198.1,397.4 198.2,382.1 198.3,385.1 198.3,380.5 198.4,391.8 198.5,365.3 198.6,364.4 198.6,396.9 198.7,397.0 198.8,386.5 198.9,404.3 199.0,395.0 199.0,406.2 199.1,373.0 199.2,399.9 199.3,391.0 199.3,383.1 199.4,384.2 199.5,387.4 199.6,375.9 199.6,365.6 199.7,383.3 199.8,396.9 199.9,389.6 200.0,397.2 200.0,386.1 200.1,407.9 200.2,382.0 200.3,381.0 200.3,394.0 200.4,391.7 200.5,400.7 200.6,405.3 200.6,385.4 200.7,404.0 200.8,379.2 200.9,394.2 201.0,394.1 201.0,400.1 201.1,390.3 201.2,400.4 201.3,389.6 201.3,392.1 201.4,397.2 201.5,410.2 201.6,409.6 201.6,398.4 201.7,387.9 201.8,401.6 201.9,409.7 202.0,381.6 202.0,405.4 202.1,375.9 202.2,399.2 202.3,399.8 202.3,390.1 202.4,417.0 202.5,408.9 202.6,399.2 202.6,392.0 202.7,387.5 202.8,400.4 202.9,411.1 202.9,398.4 203.0,425.0 203.1,419.7 203.2,411.2 203.3,392.5 203.3,408.0 203.4,425.1 203.5,418.2 203.6,391.6 203.6,416.6 203.7,420.0 203.8,402.9 203.9,412.1 203.9,388.3 204.0,419.3 204.1,402.6 204.2,421.6 204.3,407.8 204.3,412.2 204.4,399.0 204.5,401.1 204.6,410.9 204.6,390.8 204.7,418.0 204.8,400.9 204.9,403.6 204.9,414.6 205.0,412.6 205.1,415.5 205.2,411.6 205.3,404.6 205.3,410.3 205.4,406.1 205.5,407.0 205.6,389.7 205.6,406.7 205.7,416.3 205.8,418.3 205.9,408.8 205.9,415.2 206.0,405.2 206.1,426.9 206.2,409.8 206.3,400.6 206.3,403.7 206.4,419.8 206.5,398.0 206.6,394.0 206.6,406.7 206.7,409.5 206.8,420.3 206.9,428.7 206.9,432.0 207.0,416.8 207.1,439.4 207.2,431.4 207.3,415.1 207.3,412.4 207.4,405.9 207.5,397.9 207.6,412.0 207.6,426.6 207.7,426.1 207.8,420.6 207.9,436.8 207.9,443.5 208.0,418.0 208.1,406.9 208.2,424.5 208.2,426.7 208.3,422.4 208.4,402.7 208.5,409.1 208.6,450.2 208.6,429.0 208.7,446.0 208.8,419.6 208.9,421.4 208.9,429.2 209.0,421.0 209.1,427.2 209.2,426.6 209.2,409.4 209.3,434.8 209.4,396.8 209.5,416.2 209.6,426.8 209.6,412.9 209.7,420.4 209.8,419.0 209.9,430.3 209.9,414.1 210.0,429.4 210.1,421.4 210.2,405.3 210.2,408.0 210.3,409.4 210.4,425.3 210.5,412.0 210.6,445.4 210.6,436.5 210.7,412.2 210.8,416.7 210.9,413.3 210.9,442.0 211.0,432.0 211.1,413.5 211.2,418.0 211.2,414.9 211.3,409.3 211.4,426.4 211.5,415.8 211.6,428.8 211.6,443.1 211.7,416.6 211.8,422.0 211.9,415.9 211.9,418.8 212.0,415.1 212.1,425.6 212.2,409.0 212.2,431.9 212.3,429.7 212.4,420.2 212.5,415.2 212.5,421.3 212.6,430.7 212.7,422.4 212.8,414.6 212.9,417.0 212.9,431.9 213.0,433.2 213.1,426.5 213.2,425.4 213.2,427.6 213.3,426.7 213.4,420.1 213.5,412.8 213.5,405.3 213.6,436.5 213.7,427.3 213.8,412.6 213.9,413.9 213.9,412.1 214.0,415.7 214.1,432.0 214.2,412.2 214.2,418.2 214.3,429.0 214.4,409.0 214.5,416.7 214.5,438.2 214.6,445.9 214.7,408.9 214.8,425.4 214.9,421.4 214.9,418.9 215.0,413.8 215.1,413.5 215.2,424.0 215.2,427.1 215.3,407.3 215.4,419.0 215.5,399.8 215.5,416.2 215.6,416.9 215.7,417.7 215.8,413.3 215.9,423.4 215.9,425.4 216.0,413.1 216.1,424.8 216.2,405.7 216.2,423.3 216.3,433.5 216.4,408.5 216.5,414.4 216.5,409.0 216.6,424.7 216.7,429.5 216.8,425.9 216.9,413.8 216.9,423.0 217.0,413.8 217.1,419.3 217.2,394.8 217.2,428.0 217.3,404.5 217.4,430.1 217.5,405.6 217.5,410.5 217.6,400.3 217.7,429.9 217.8,405.1 217.8,416.0 217.9,427.8 218.0,418.9 218.1,395.4 218.2,404.7 218.2,413.8 218.3,426.4 218.4,416.0 218.5,405.0 218.5,402.5 218.6,396.8 218.7,400.5 218.8,409.6 218.8,400.4 218.9,413.0 219.0,414.0 219.1,407.5 219.2,433.8 219.2,421.6 219.3,404.7 219.4,425.8 219.5,409.1 219.5,414.5 219.6,409.0 219.7,431.4 219.8,424.0 219.8,408.6 219.9,412.2 220.0,404.0 220.1,403.4 220.2,397.0 220.2,408.9 220.3,401.0 220.4,405.9 220.5,399.3 220.5,400.7 220.6,396.6 220.7,428.4 220.8,414.2 220.8,403.7 220.9,429.5 221.0,419.1 221.1,418.1 221.2,408.1 221.2,415.6 221.3,426.6 221.4,420.3 221.5,425.6 221.5,413.6 221.6,409.9 221.7,421.0 221.8,428.5 221.8,397.5 221.9,412.6 222.0,406.8 222.1,421.4 222.1,426.8 222.2,422.4 222.3,412.4 222.4,412.0 222.5,414.0 222.5,428.0 222.6,429.8 222.7,430.3 222.8,411.6 222.8,433.8 222.9,425.4 223.0,413.7 223.1,430.3 223.1,434.6 223.2,414.1 223.3,415.9 223.4,398.2 223.5,414.8 223.5,393.6 223.6,422.4 223.7,404.5 223.8,427.7 223.8,416.1 223.9,409.9 224.0,396.4 224.1,401.3 224.1,409.4 224.2,419.6 224.3,424.1 224.4,403.7 224.5,414.8 224.5,391.9 224.6,430.0 224.7,412.3 224.8,412.3 224.8,416.6 224.9,430.9 225.0,415.3 225.1,415.9 225.1,415.3 225.2,419.6 225.3,410.7 225.4,406.4 225.5,413.8 225.5,419.0 225.6,415.9 225.7,405.3 225.8,416.4 225.8,406.4 225.9,387.6 226.0,418.1 226.1,418.9 226.1,411.4 226.2,428.2 226.3,415.1 226.4,399.8 226.5,415.1 226.5,432.4 226.6,402.8 226.7,413.7 226.8,423.2 226.8,416.3 226.9,418.9 227.0,418.7 227.1,424.9 227.1,431.8 227.2,398.1 227.3,418.9 227.4,416.8 227.4,412.6 227.5,416.0 227.6,400.8 227.7,410.7 227.8,428.4 227.8,424.1 227.9,428.2 228.0,406.4 228.1,426.3 228.1,413.0 228.2,404.9 228.3,417.2 228.4,425.5 228.4,412.5 228.5,412.9 228.6,408.6 228.7,409.4 228.8,422.4 228.8,406.1 228.9,434.1 229.0,426.7 229.1,417.1 229.1,425.8 229.2,421.8 229.3,431.7 229.4,428.1 229.4,416.0 229.5,424.2 229.6,443.6 229.7,433.8 229.8,425.0 229.8,423.6 229.9,424.1 230.0,424.2 230.1,411.4 230.1,422.3 230.2,436.8 230.3,415.5 230.4,423.8 230.4,421.3 230.5,417.3 230.6,431.5 230.7,422.6 230.8,431.6 230.8,408.1 230.9,426.0 231.0,415.5 231.1,413.1 231.1,400.1 231.2,412.8 231.3,423.9 231.4,395.3 231.4,412.3 231.5,426.4 231.6,405.0 231.7,416.6 231.7,411.7 231.8,418.0 231.9,408.4 232.0,425.2 232.1,414.0 232.1,400.6 232.2,400.5 232.3,406.1 232.4,402.8 232.4,402.5 232.5,435.3 232.6,421.8 232.7,417.4 232.7,442.7 232.8,435.8 232.9,409.2 233.0,415.4 233.1,413.3 233.1,405.1 233.2,399.8 233.3,419.3 233.4,426.5 233.4,405.5 233.5,406.5 233.6,416.0 233.7,412.0 233.7,401.4 233.8,402.3 233.9,401.2 234.0,424.9 234.1,414.9 234.1,413.4 234.2,393.5 234.3,402.6 234.4,422.4 234.4,405.8 234.5,428.1 234.6,413.5 234.7,416.7 234.7,417.3 234.8,431.7 234.9,417.5 235.0,424.0 235.1,412.9 235.1,412.4 235.2,395.3 235.3,429.9 235.4,414.5 235.4,432.0 235.5,423.1 235.6,405.5 235.7,410.4 235.7,401.2 235.8,428.4 235.9,401.1 236.0,422.9 236.0,394.6 236.1,402.5 236.2,411.6 236.3,429.0 236.4,425.6 236.4,402.2 236.5,408.9 236.6,426.7 236.7,424.1 236.7,426.0 236.8,398.0 236.9,411.2 237.0,421.5 237.0,413.2 237.1,421.1 237.2,392.1 237.3,410.3 237.4,414.8 237.4,388.9 237.5,412.0 237.6,423.9 237.7,414.1 237.7,409.0 237.8,410.5 237.9,402.2 238.0,430.6 238.0,400.6 238.1,413.3 238.2,421.2 238.3,404.1 238.4,424.6 238.4,400.1 238.5,406.5 238.6,398.8 238.7,418.0 238.7,422.2 238.8,414.7 238.9,393.4 239.0,406.4 239.0,422.2 239.1,417.1 239.2,392.7 239.3,392.1 239.4,411.0 239.4,420.3 239.5,417.7 239.6,409.6 239.7,402.6 239.7,407.4 239.8,414.0 239.9,397.2 240.0,400.2 240.0,414.6 240.1,404.1 240.2,392.5 240.3,389.5 240.4,427.0 240.4,428.1 240.5,413.6 240.6,418.9 240.7,429.2 240.7,431.3 240.8,428.5 240.9,397.4 241.0,423.9 241.0,411.5 241.1,415.4 241.2,422.5 241.3,399.8 241.3,412.9 241.4,419.0 241.5,409.4 241.6,417.8 241.7,417.8 241.7,428.4 241.8,404.8 241.9,418.4 242.0,409.0 242.0,410.2 242.1,417.2 242.2,414.0 242.3,410.5 242.3,418.8 242.4,408.1 242.5,402.2 242.6,429.3 242.7,424.1 242.7,413.2 242.8,428.4 242.9,415.4 243.0,431.4 243.0,413.3 243.1,435.4 243.2,439.0 243.3,421.6 243.3,401.5 243.4,419.0 243.5,393.8 243.6,410.0 243.7,397.5 243.7,409.7 243.8,430.8 243.9,394.1 244.0,420.6 244.0,400.4 244.1,419.9 244.2,426.6 244.3,417.0 244.3,423.6 244.4,402.4 244.5,423.2 244.6,418.6 244.7,415.7 244.7,403.9 244.8,413.8 244.9,398.3 245.0,415.9 245.0,413.2 245.1,404.2 245.2,402.2 245.3,417.8 245.3,414.4 245.4,402.3 245.5,398.2 245.6,403.6 245.6,397.1 245.7,432.6 245.8,417.8 245.9,425.4 246.0,420.7 246.0,402.7 246.1,393.6 246.2,405.4 246.3,400.2 246.3,395.0 246.4,392.1 246.5,400.4 246.6,410.2 246.6,394.0 246.7,407.1 246.8,407.6 246.9,424.6 247.0,406.7 247.0,389.4 247.1,408.3 247.2,405.6 247.3,397.7 247.3,417.9 247.4,419.5 247.5,411.7 247.6,406.0 247.6,419.9 247.7,431.5 247.8,411.3 247.9,413.9 248.0,427.1 248.0,417.6 248.1,412.3 248.2,407.4 248.3,417.8 248.3,406.0 248.4,411.1 248.5,424.7 248.6,407.6 248.6,414.0 248.7,403.1 248.8,396.1 248.9,405.8 249.0,409.3 249.0,415.1 249.1,400.8 249.2,399.2 249.3,401.1 249.3,409.8 249.4,403.5 249.5,397.9 249.6,392.3 249.6,385.3 249.7,419.2 249.8,404.2 249.9,429.5 250.0,405.0 250.0,406.3 250.1,412.7 250.2,398.6 250.3,406.6 250.3,393.6 250.4,411.9 250.5,398.7 250.6,412.2 250.6,413.3 250.7,399.4 250.8,398.6 250.9,382.2 250.9,422.5 251.0,423.4 251.1,381.6 251.2,410.7 251.3,401.0 251.3,400.0 251.4,419.5 251.5,413.2 251.6,402.2 251.6,396.5 251.7,418.7 251.8,393.7 251.9,411.4 251.9,398.1 252.0,415.5 252.1,388.6 252.2,400.2 252.3,393.5 252.3,409.1 252.4,386.5 252.5,404.7 252.6,402.8 252.6,394.2 252.7,408.3 252.8,409.7 252.9,424.3 252.9,413.2 253.0,413.8 253.1,408.1 253.2,410.6 253.3,396.0 253.3,410.5 253.4,405.3 253.5,384.5 253.6,397.3 253.6,385.5 253.7,399.9 253.8,389.1 253.9,405.6 253.9,386.3 254.0,373.0 254.1,418.8 254.2,378.8 254.3,382.8 254.3,397.8 254.4,416.5 254.5,397.7 254.6,394.3 254.6,395.8 254.7,410.1 254.8,394.1 254.9,422.3 254.9,395.1 255.0,376.3 255.1,401.7 255.2,402.3 255.2,396.4 255.3,388.9 255.4,400.0 255.5,400.9 255.6,385.5 255.6,394.4 255.7,393.5 255.8,396.7 255.9,390.8 255.9,376.5 256.0,401.9 256.1,384.5 256.2,394.7 256.2,392.8 256.3,388.7 256.4,378.7 256.5,391.0 256.6,400.3 256.6,399.8 256.7,390.9 256.8,400.1 256.9,378.2 256.9,394.9 257.0,411.4 257.1,397.2 257.2,376.5 257.2,389.9 257.3,388.2 257.4,406.5 257.5,400.2 257.6,407.1 257.6,384.5 257.7,400.4 257.8,397.3 257.9,404.0 257.9,384.6 258.0,397.2 258.1,398.9 258.2,397.3 258.2,388.0 258.3,413.2 258.4,404.0 258.5,402.7 258.6,381.9 258.6,402.0 258.7,388.2 258.8,399.8 258.9,385.2 258.9,398.1 259.0,397.1 259.1,397.9 259.2,391.3 259.2,409.2 259.3,377.0 259.4,397.4 259.5,397.7 259.6,413.6 259.6,410.7 259.7,400.6 259.8,389.3 259.9,400.6 259.9,411.8 260.0,394.8 260.1,390.4 260.2,406.4 260.2,401.5 260.3,371.7 260.4,393.0 260.5,394.9 260.5,390.9 260.6,407.3 260.7,418.9 260.8,389.3 260.9,410.1 260.9,402.9 261.0,390.1 261.1,396.5 261.2,407.8 261.2,408.4 261.3,406.3 261.4,397.2 261.5,403.2 261.5,407.2 261.6,399.4 261.7,379.3 261.8,387.9 261.9,401.3 261.9,400.8 262.0,416.8 262.1,406.3 262.2,407.7 262.2,417.5 262.3,395.3 262.4,409.3 262.5,414.0 262.5,412.5 262.6,395.7 262.7,400.3 262.8,401.1 262.9,412.1 262.9,404.1 263.0,416.4 263.1,406.6 263.2,402.5 263.2,390.2 263.3,392.9 263.4,387.0 263.5,401.5 263.5,406.6 263.6,402.4 263.7,401.2 263.8,387.2 263.9,405.3 263.9,399.2 264.0,405.5 264.1,409.2 264.2,412.1 264.2,424.0 264.3,407.5 264.4,408.2 264.5,401.1 264.5,414.0 264.6,416.2 264.7,394.6 264.8,416.6 264.8,423.4 264.9,389.7 265.0,397.8 265.1,412.0 265.2,412.6 265.2,428.9 265.3,396.9 265.4,417.1 265.5,399.5 265.5,422.4 265.6,428.4 265.7,400.4 265.8,391.2 265.8,393.7 265.9,382.6 266.0,402.3 266.1,409.5 266.2,411.0 266.2,406.0 266.3,382.8 266.4,395.5 266.5,417.0 266.5,382.4 266.6,406.8 266.7,417.3 266.8,400.0 266.8,419.9 266.9,408.9 267.0,403.1 267.1,394.3 267.2,409.4 267.2,390.7 267.3,408.8 267.4,417.4 267.5,408.6 267.5,423.3 267.6,414.1 267.7,410.4 267.8,416.4 267.8,413.9 267.9,434.7 268.0,424.6 268.1,434.9 268.2,407.3 268.2,429.4 268.3,414.9 268.4,422.4 268.5,422.4 268.5,403.3 268.6,413.4 268.7,412.3 268.8,394.8 268.8,384.1 268.9,395.1 269.0,416.6 269.1,403.9 269.2,414.2 269.2,403.2 269.3,391.7 269.4,398.9 269.5,383.5 269.5,395.3 269.6,395.1 269.7,390.1 269.8,409.4 269.8,397.0 269.9,379.9 270.0,387.4 270.1,417.8 270.1,401.7 270.2,400.8 270.3,400.0 270.4,411.1 270.5,420.9 270.5,399.8 270.6,427.4 270.7,400.8 270.8,396.9 270.8,411.7 270.9,402.7 271.0,400.2 271.1,396.1 271.1,404.9 271.2,408.2 271.3,417.2 271.4,378.4 271.5,409.6 271.5,409.4 271.6,400.1 271.7,402.1 271.8,394.8 271.8,387.0 271.9,389.2 272.0,395.6 272.1,412.8 272.1,410.0 272.2,426.8 272.3,404.8 272.4,400.7 272.5,412.9 272.5,392.3 272.6,418.8 272.7,404.8 272.8,426.9 272.8,396.8 272.9,411.5 273.0,419.6 273.1,395.0 273.1,399.9 273.2,389.5 273.3,414.5 273.4,398.2 273.5,414.7 273.5,404.2 273.6,411.1 273.7,419.0 273.8,424.9 273.8,399.0 273.9,425.5 274.0,418.5 274.1,400.3 274.1,400.7 274.2,402.3 274.3,396.8 274.4,399.8 274.4,404.7 274.5,407.4 274.6,407.1 274.7,395.3 274.8,393.7 274.8,418.4 274.9,393.5 275.0,412.5 275.1,393.8 275.1,389.6 275.2,404.1 275.3,407.6 275.4,416.2 275.4,411.3 275.5,410.2 275.6,429.1 275.7,420.9 275.8,431.0 275.8,419.2 275.9,407.3 276.0,422.0 276.1,390.6 276.1,401.9 276.2,391.6 276.3,396.2 276.4,405.4 276.4,410.2 276.5,381.8 276.6,392.9 276.7,412.3 276.8,405.6 276.8,380.9 276.9,391.3 277.0,404.6 277.1,393.6 277.1,410.1 277.2,392.1 277.3,402.9 277.4,413.2 277.4,408.5 277.5,400.9 277.6,415.5 277.7,381.6 277.8,388.7 277.8,424.5 277.9,414.5 278.0,401.5 278.1,386.5 278.1,397.4 278.2,405.4 278.3,404.7 278.4,418.0 278.4,399.8 278.5,399.7 278.6,409.7 278.7,393.1 278.8,389.7 278.8,399.5 278.9,418.7 279.0,416.1 279.1,399.1 279.1,401.6 279.2,385.2 279.3,401.3 279.4,395.4 279.4,406.5 279.5,390.0 279.6,401.8 279.7,404.5 279.7,389.2 279.8,401.4 279.9,403.7 280.0,410.3 280.1,415.3 280.1,382.4 280.2,385.5 280.3,411.5 280.4,397.2 280.4,417.6 280.5,394.3 280.6,397.4 280.7,417.9 280.7,388.9 280.8,399.9 280.9,420.5 281.0,402.6 281.1,385.6 281.1,398.9 281.2,398.6 281.3,410.5 281.4,395.6 281.4,419.5 281.5,418.2 281.6,409.7 281.7,404.5 281.7,417.4 281.8,387.7 281.9,408.0 282.0,396.2 282.1,409.1 282.1,388.4 282.2,419.2 282.3,395.3 282.4,391.0 282.4,406.5 282.5,407.8 282.6,392.8 282.7,415.7 282.7,404.6 282.8,401.4 282.9,404.0 283.0,400.3 283.1,399.2 283.1,395.1 283.2,396.9 283.3,401.1 283.4,408.9 283.4,399.0 283.5,395.9 283.6,420.1 283.7,399.0 283.7,404.8 283.8,396.3 283.9,380.5 284.0,400.5 284.0,414.8 284.1,389.8 284.2,418.7 284.3,403.4 284.4,401.4 284.4,416.4 284.5,390.4 284.6,417.6 284.7,381.3 284.7,415.5 284.8,401.8 284.9,411.7 285.0,421.2 285.0,414.5 285.1,400.3 285.2,418.5 285.3,397.2 285.4,397.4 285.4,414.0 285.5,422.0 285.6,405.0 285.7,413.4 285.7,388.5 285.8,406.7 285.9,414.2 286.0,418.9 286.0,412.5 286.1,408.7 286.2,418.5 286.3,407.7 286.4,402.3 286.4,420.6 286.5,423.0 286.6,410.7 286.7,403.5 286.7,396.4 286.8,406.4 286.9,400.2 287.0,427.0 287.0,425.1 287.1,406.4 287.2,414.0 287.3,394.9 287.4,405.8 287.4,390.4 287.5,425.2 287.6,402.4 287.7,404.8 287.7,398.8 287.8,397.9 287.9,415.1 288.0,398.0 288.0,400.6 288.1,419.3 288.2,403.6 288.3,410.9 288.4,408.1 288.4,413.9 288.5,391.8 288.6,420.8 288.7,414.4 288.7,427.3 288.8,404.7 288.9,417.3 289.0,418.8 289.0,415.4 289.1,428.0 289.2,409.7 289.3,424.1 289.3,422.7 289.4,415.2 289.5,417.1 289.6,424.0 289.7,404.9 289.7,401.4 289.8,416.5 289.9,417.7 290.0,417.3 290.0,404.5 290.1,411.0 290.2,408.4 290.3,405.0 290.3,395.5 290.4,429.6 290.5,396.9 290.6,406.0 290.7,433.8 290.7,420.3 290.8,412.4 290.9,408.3 291.0,406.1 291.0,422.4 291.1,413.8 291.2,416.4 291.3,414.4 291.3,410.5 291.4,413.8 291.5,413.8 291.6,388.2 291.7,405.5 291.7,401.2 291.8,419.0 291.9,423.8 292.0,406.4 292.0,409.0 292.1,414.1 292.2,417.4 292.3,433.8 292.3,430.1 292.4,396.3 292.5,416.5 292.6,415.5 292.7,429.3 292.7,410.0 292.8,406.2 292.9,404.2 293.0,396.9 293.0,420.3 293.1,412.3 293.2,415.5 293.3,411.7 293.3,415.5 293.4,401.0 293.5,399.7 293.6,420.7 293.6,400.1 293.7,412.3 293.8,406.9 293.9,399.6 294.0,407.1 294.0,395.0 294.1,411.4 294.2,393.0 294.3,390.5 294.3,413.9 294.4,393.1 294.5,410.8 294.6,387.0 294.6,425.9 294.7,430.8 294.8,400.1 294.9,423.9 295.0,422.8 295.0,402.3 295.1,389.0 295.2,409.6 295.3,407.5 295.3,426.4 295.4,394.8 295.5,415.9 295.6,412.3 295.6,398.7 295.7,383.7 295.8,410.3 295.9,392.5 296.0,401.9 296.0,390.3 296.1,421.4 296.2,413.5 296.3,401.7 296.3,397.2 296.4,390.4 296.5,418.5 296.6,399.1 296.6,423.3 296.7,407.2 296.8,397.1 296.9,401.5 297.0,390.9 297.0,430.2 297.1,407.6 297.2,415.1 297.3,418.7 297.3,392.5 297.4,415.7 297.5,407.3 297.6,398.4 297.6,427.3 297.7,390.4 297.8,398.8 297.9,395.9 298.0,389.4 298.0,409.0 298.1,416.3 298.2,419.1 298.3,406.7 298.3,412.8 298.4,423.5 298.5,404.9 298.6,414.2 298.6,407.5 298.7,406.7 298.8,418.6 298.9,413.1 298.9,405.5 299.0,406.0 299.1,409.3 299.2,419.9 299.3,410.9 299.3,422.1 299.4,389.5 299.5,383.8 299.6,397.6 299.6,395.7 299.7,403.5 299.8,420.1 299.9,411.4 299.9,399.0 300.0,394.9 300.1,416.3 300.2,407.8 300.3,403.9 300.3,382.7 300.4,398.9 300.5,405.5 300.6,403.3 300.6,401.0 300.7,384.4 300.8,423.6 300.9,432.3 300.9,406.6 301.0,413.1 301.1,415.6 301.2,410.6 301.3,409.4 301.3,409.0 301.4,421.6 301.5,412.2 301.6,420.2 301.6,412.6 301.7,400.1 301.8,425.8 301.9,412.5 301.9,399.5 302.0,422.3 302.1,418.2 302.2,411.1 302.3,413.5 302.3,397.4 302.4,402.4 302.5,392.1 302.6,410.0 302.6,413.8 302.7,396.0 302.8,410.7 302.9,403.9 302.9,410.4 303.0,387.7 303.1,415.7 303.2,417.5 303.2,397.6 303.3,411.7 303.4,405.4 303.5,411.1 303.6,413.2 303.6,400.8 303.7,400.1 303.8,415.4 303.9,417.6 303.9,402.8 304.0,423.1 304.1,430.5 304.2,420.6 304.2,405.9 304.3,413.0 304.4,393.4 304.5,402.3 304.6,414.7 304.6,422.8 304.7,388.9 304.8,422.1 304.9,416.6 304.9,403.9 305.0,406.7 305.1,409.5 305.2,414.7 305.2,402.0 305.3,415.3 305.4,397.9 305.5,421.9 305.6,398.6 305.6,406.9 305.7,413.9 305.8,425.7 305.9,406.9 305.9,415.4 306.0,406.4 306.1,406.3 306.2,405.6 306.2,391.5 306.3,409.9 306.4,393.8 306.5,416.5 306.6,418.9 306.6,406.3 306.7,403.1 306.8,389.8 306.9,429.1 306.9,401.4 307.0,409.0 307.1,418.0 307.2,402.5 307.2,410.5 307.3,402.9 307.4,405.4 307.5,412.6 307.5,423.9 307.6,404.2 307.7,400.0 307.8,428.4 307.9,419.2 307.9,409.8 308.0,416.2 308.1,405.9 308.2,406.8 308.2,416.2 308.3,420.0 308.4,390.2 308.5,396.2 308.5,397.8 308.6,419.9 308.7,404.4 308.8,415.4 308.9,400.4 308.9,411.7 309.0,404.8 309.1,401.5 309.2,413.3 309.2,383.4 309.3,398.3 309.4,419.8 309.5,408.1 309.5,413.9 309.6,396.2 309.7,421.3 309.8,393.6 309.9,419.5 309.9,400.1 310.0,400.1 310.1,405.5 310.2,402.5 310.2,399.7 310.3,395.2 310.4,407.4 310.5,412.6 310.5,399.3 310.6,399.9 310.7,411.6 310.8,395.5 310.9,426.2 310.9,411.8 311.0,398.9 311.1,401.4 311.2,406.9 311.2,407.8 311.3,406.6 311.4,417.9 311.5,408.6 311.5,402.8 311.6,401.6 311.7,391.3 311.8,402.4 311.9,411.8 311.9,404.8 312.0,414.9 312.1,395.1 312.2,396.4 312.2,410.8 312.3,402.2 312.4,420.9 312.5,392.8 312.5,379.4 312.6,418.2 312.7,398.4 312.8,403.3 312.8,399.6 312.9,401.8 313.0,392.8 313.1,399.2 313.2,401.5 313.2,380.4 313.3,395.2 313.4,376.4 313.5,413.0 313.5,404.6 313.6,410.4 313.7,389.9 313.8,389.8 313.8,394.3 313.9,401.0 314.0,389.5 314.1,391.9 314.2,390.7 314.2,379.8 314.3,394.5 314.4,406.2 314.5,415.8 314.5,398.5 314.6,399.0 314.7,405.0 314.8,408.5 314.8,403.1 314.9,416.5 315.0,414.8 315.1,382.3 315.2,410.0 315.2,402.0 315.3,409.1 315.4,417.9 315.5,408.2 315.5,401.5 315.6,383.6 315.7,410.1 315.8,421.9 315.8,402.2 315.9,387.4 316.0,405.1 316.1,416.8 316.2,409.7 316.2,391.7 316.3,397.5 316.4,399.1 316.5,388.6 316.5,390.4 316.6,383.6 316.7,390.1 316.8,391.0 316.8,411.8 316.9,400.2 317.0,401.6 317.1,375.5 317.1,413.0 317.2,393.6 317.3,399.4 317.4,409.3 317.5,399.1 317.5,377.4 317.6,383.9 317.7,386.1 317.8,394.5 317.8,407.2 317.9,419.2 318.0,401.8 318.1,407.5 318.1,402.3 318.2,405.8 318.3,410.3 318.4,403.0 318.5,410.2 318.5,390.2 318.6,420.3 318.7,398.1 318.8,410.4 318.8,399.0 318.9,396.1 319.0,420.4 319.1,405.4 319.1,409.6 319.2,387.8 319.3,407.8 319.4,390.6 319.5,408.5 319.5,402.8 319.6,417.3 319.7,400.9 319.8,387.6 319.8,414.0 319.9,383.7 320.0,411.5 320.1,410.9 320.1,415.9 320.2,404.5 320.3,404.7 320.4,413.0 320.5,384.2 320.5,419.1 320.6,405.6 320.7,389.1 320.8,414.8 320.8,403.3 320.9,400.2 321.0,388.0 321.1,382.5 321.1,403.6 321.2,402.8 321.3,423.4 321.4,394.5 321.5,405.4 321.5,393.5 321.6,400.4 321.7,408.0 321.8,386.3 321.8,404.6 321.9,404.4 322.0,400.7 322.1,388.5 322.1,389.8 322.2,398.5 322.3,407.6 322.4,397.6 322.4,396.6 322.5,409.6 322.6,397.9 322.7,392.3 322.8,411.5 322.8,403.9 322.9,380.5 323.0,399.7 323.1,403.6 323.1,408.3 323.2,404.2 323.3,419.9 323.4,394.3 323.4,386.3 323.5,391.4 323.6,419.6 323.7,391.1 323.8,404.0 323.8,388.1 323.9,388.2 324.0,411.9 324.1,398.9 324.1,407.9 324.2,403.3 324.3,385.1 324.4,402.2 324.4,407.7 324.5,416.6 324.6,422.0 324.7,394.4 324.8,397.6 324.8,417.1 324.9,399.3 325.0,424.0 325.1,401.1 325.1,408.0 325.2,395.0 325.3,402.3 325.4,393.2 325.4,377.5 325.5,390.8 325.6,379.8 325.7,413.5 325.8,398.9 325.8,396.7 325.9,377.6 326.0,402.0 326.1,391.0 326.1,396.3 326.2,403.7 326.3,411.7 326.4,402.1 326.4,407.9 326.5,375.9 326.6,407.2 326.7,420.2 326.7,386.4 326.8,408.0 326.9,393.5 327.0,394.4 327.1,408.1 327.1,414.3 327.2,395.3 327.3,397.4 327.4,424.1 327.4,396.0 327.5,401.9 327.6,419.4 327.7,401.4 327.7,387.7 327.8,414.7 327.9,398.5 328.0,393.3 328.1,401.5 328.1,399.7 328.2,396.5 328.3,391.6 328.4,405.5 328.4,409.6 328.5,395.4 328.6,392.0 328.7,402.3 328.7,399.5 328.8,399.8 328.9,403.3 329.0,390.0 329.1,385.1 329.1,410.5 329.2,411.4 329.3,407.2 329.4,401.3 329.4,399.8 329.5,416.2 329.6,412.8 329.7,404.9 329.7,396.5 329.8,401.9 329.9,392.0 330.0,396.7 330.1,404.8 330.1,418.0 330.2,417.1 330.3,410.3 330.4,398.9 330.4,398.5 330.5,422.7 330.6,407.1 330.7,406.3 330.7,416.9 330.8,393.0 330.9,395.7 331.0,405.3 331.1,391.8 331.1,393.3 331.2,396.3 331.3,409.4 331.4,417.1 331.4,403.9 331.5,390.2 331.6,399.9 331.7,388.9 331.7,400.7 331.8,405.0 331.9,415.8 332.0,395.2 332.0,394.8 332.1,404.3 332.2,398.4 332.3,396.4 332.4,394.8 332.4,394.1 332.5,407.4 332.6,408.9 332.7,393.9 332.7,393.5 332.8,420.6 332.9,409.9 333.0,396.7 333.0,412.5 333.1,398.7 333.2,411.0 333.3,410.2 333.4,414.3 333.4,406.2 333.5,417.6 333.6,424.6 333.7,393.5 333.7,413.1 333.8,406.9 333.9,396.9 334.0,404.1 334.0,414.3 334.1,407.0 334.2,418.0 334.3,400.3 334.4,401.2 334.4,419.4 334.5,413.1 334.6,406.7 334.7,395.3 334.7,407.0 334.8,415.1 334.9,405.8 335.0,394.1 335.0,406.1 335.1,409.5 335.2,407.4 335.3,405.0 335.4,398.7 335.4,402.4 335.5,408.0 335.6,400.8 335.7,406.2 335.7,415.1 335.8,416.8 335.9,397.4 336.0,415.5 336.0,396.2 336.1,399.0 336.2,389.4 336.3,407.8 336.3,422.1 336.4,402.4 336.5,404.0 336.6,394.6 336.7,423.4 336.7,401.4 336.8,409.5 336.9,415.1 337.0,419.3 337.0,422.3 337.1,409.3 337.2,415.8 337.3,428.0 337.3,409.2 337.4,409.5 337.5,402.5 337.6,416.9 337.7,408.9 337.7,410.6 337.8,414.1 337.9,413.3 338.0,414.3 338.0,401.8 338.1,423.4 338.2,407.8 338.3,416.5 338.3,409.1 338.4,404.1 338.5,398.2" fill="none" stroke="#00f" stroke-width="0.5" stroke-linejoin="round"/>
<rect x="276.4" y="249.6" width="62.0" height="39.7" fill="#fff" stroke="#9a9a9a" stroke-width="1"/>
<line x1="280.30" y1="256.90" x2="302.50" y2="256.90" stroke="#8a8a8a" stroke-width="1.00"/>
<text x="305.9" y="260.5" font-size="10.00" text-anchor="start" font-weight="normal" fill="#111" stroke="#111" stroke-width="0.3">CTC</text>
<line x1="280.30" y1="269.90" x2="302.50" y2="269.90" stroke="#ff8a8a" stroke-width="1.00"/>
<text x="305.9" y="273.5" font-size="10.00" text-anchor="start" font-weight="normal" fill="#111" stroke="#111" stroke-width="0.3">CTCR</text>
<line x1="280.30" y1="282.90" x2="302.50" y2="282.90" stroke="#8a8aff" stroke-width="1.00"/>
<text x="305.9" y="286.5" font-size="10.00" text-anchor="start" font-weight="normal" fill="#111" stroke="#111" stroke-width="0.3">CTCW</text>
<text transform="translate(31.4 370.6) rotate(-90)" font-size="10.4" text-anchor="middle" fill="#1a1a1a" stroke="#1a1a1a" stroke-width="0.3">RoG(A)</text>
<text x="200.9" y="501.7" font-size="10.00" text-anchor="middle" font-weight="normal" fill="#1a1a1a" stroke="#1a1a1a" stroke-width="0.3">Time(ns)</text>
<line x1="425.40" y1="471.80" x2="425.40" y2="266.55" stroke="#333" stroke-width="1.00"/>
<line x1="424.90" y1="471.80" x2="672.90" y2="471.80" stroke="#333" stroke-width="1.00"/>
<line x1="425.40" y1="471.80" x2="425.40" y2="475.80" stroke="#333" stroke-width="1.00"/>
<text transform="translate(425.40 485.30) scale(0.84 1)" font-size="8.40" text-anchor="middle" fill="#222" stroke="#222" stroke-width="0.35">0</text>
<line x1="437.75" y1="471.80" x2="437.75" y2="474.00" stroke="#333" stroke-width="1.00"/>
<line x1="450.10" y1="471.80" x2="450.10" y2="475.80" stroke="#333" stroke-width="1.00"/>
<text transform="translate(450.10 485.30) scale(0.84 1)" font-size="8.40" text-anchor="middle" fill="#222" stroke="#222" stroke-width="0.35">2</text>
<line x1="462.45" y1="471.80" x2="462.45" y2="474.00" stroke="#333" stroke-width="1.00"/>
<line x1="474.80" y1="471.80" x2="474.80" y2="475.80" stroke="#333" stroke-width="1.00"/>
<text transform="translate(474.80 485.30) scale(0.84 1)" font-size="8.40" text-anchor="middle" fill="#222" stroke="#222" stroke-width="0.35">4</text>
<line x1="487.15" y1="471.80" x2="487.15" y2="474.00" stroke="#333" stroke-width="1.00"/>
<line x1="499.50" y1="471.80" x2="499.50" y2="475.80" stroke="#333" stroke-width="1.00"/>
<text transform="translate(499.50 485.30) scale(0.84 1)" font-size="8.40" text-anchor="middle" fill="#222" stroke="#222" stroke-width="0.35">6</text>
<line x1="511.85" y1="471.80" x2="511.85" y2="474.00" stroke="#333" stroke-width="1.00"/>
<line x1="524.20" y1="471.80" x2="524.20" y2="475.80" stroke="#333" stroke-width="1.00"/>
<text transform="translate(524.20 485.30) scale(0.84 1)" font-size="8.40" text-anchor="middle" fill="#222" stroke="#222" stroke-width="0.35">8</text>
<line x1="536.55" y1="471.80" x2="536.55" y2="474.00" stroke="#333" stroke-width="1.00"/>
<line x1="548.90" y1="471.80" x2="548.90" y2="475.80" stroke="#333" stroke-width="1.00"/>
<text transform="translate(548.90 485.30) scale(0.84 1)" font-size="8.40" text-anchor="middle" fill="#222" stroke="#222" stroke-width="0.35">10</text>
<line x1="561.25" y1="471.80" x2="561.25" y2="474.00" stroke="#333" stroke-width="1.00"/>
<line x1="573.60" y1="471.80" x2="573.60" y2="475.80" stroke="#333" stroke-width="1.00"/>
<text transform="translate(573.60 485.30) scale(0.84 1)" font-size="8.40" text-anchor="middle" fill="#222" stroke="#222" stroke-width="0.35">12</text>
<line x1="585.95" y1="471.80" x2="585.95" y2="474.00" stroke="#333" stroke-width="1.00"/>
<line x1="598.30" y1="471.80" x2="598.30" y2="475.80" stroke="#333" stroke-width="1.00"/>
<text transform="translate(598.30 485.30) scale(0.84 1)" font-size="8.40" text-anchor="middle" fill="#222" stroke="#222" stroke-width="0.35">14</text>
<line x1="610.65" y1="471.80" x2="610.65" y2="474.00" stroke="#333" stroke-width="1.00"/>
<line x1="623.00" y1="471.80" x2="623.00" y2="475.80" stroke="#333" stroke-width="1.00"/>
<text transform="translate(623.00 485.30) scale(0.84 1)" font-size="8.40" text-anchor="middle" fill="#222" stroke="#222" stroke-width="0.35">16</text>
<line x1="635.35" y1="471.80" x2="635.35" y2="474.00" stroke="#333" stroke-width="1.00"/>
<line x1="647.70" y1="471.80" x2="647.70" y2="475.80" stroke="#333" stroke-width="1.00"/>
<text transform="translate(647.70 485.30) scale(0.84 1)" font-size="8.40" text-anchor="middle" fill="#222" stroke="#222" stroke-width="0.35">18</text>
<line x1="660.05" y1="471.80" x2="660.05" y2="474.00" stroke="#333" stroke-width="1.00"/>
<line x1="672.40" y1="471.80" x2="672.40" y2="475.80" stroke="#333" stroke-width="1.00"/>
<text transform="translate(672.40 485.30) scale(0.84 1)" font-size="8.40" text-anchor="middle" fill="#222" stroke="#222" stroke-width="0.35">20</text>
<line x1="423.40" y1="471.80" x2="425.40" y2="471.80" stroke="#333" stroke-width="1.00"/>
<text transform="translate(418.80 474.86) scale(0.84 1)" font-size="8.50" text-anchor="end" fill="#222" stroke="#222" stroke-width="0.35">12000</text>
<line x1="423.20" y1="456.05" x2="425.40" y2="456.05" stroke="#333" stroke-width="1.00"/>
<line x1="421.40" y1="440.30" x2="425.40" y2="440.30" stroke="#333" stroke-width="1.00"/>
<text transform="translate(418.80 443.36) scale(0.84 1)" font-size="8.50" text-anchor="end" fill="#222" stroke="#222" stroke-width="0.35">12500</text>
<line x1="423.20" y1="424.55" x2="425.40" y2="424.55" stroke="#333" stroke-width="1.00"/>
<line x1="421.40" y1="408.80" x2="425.40" y2="408.80" stroke="#333" stroke-width="1.00"/>
<text transform="translate(418.80 411.86) scale(0.84 1)" font-size="8.50" text-anchor="end" fill="#222" stroke="#222" stroke-width="0.35">13000</text>
<line x1="423.20" y1="393.05" x2="425.40" y2="393.05" stroke="#333" stroke-width="1.00"/>
<line x1="421.40" y1="377.30" x2="425.40" y2="377.30" stroke="#333" stroke-width="1.00"/>
<text transform="translate(418.80 380.36) scale(0.84 1)" font-size="8.50" text-anchor="end" fill="#222" stroke="#222" stroke-width="0.35">13500</text>
<line x1="423.20" y1="361.55" x2="425.40" y2="361.55" stroke="#333" stroke-width="1.00"/>
<line x1="421.40" y1="345.80" x2="425.40" y2="345.80" stroke="#333" stroke-width="1.00"/>
<text transform="translate(418.80 348.86) scale(0.84 1)" font-size="8.50" text-anchor="end" fill="#222" stroke="#222" stroke-width="0.35">14000</text>
<line x1="423.20" y1="330.05" x2="425.40" y2="330.05" stroke="#333" stroke-width="1.00"/>
<line x1="421.40" y1="314.30" x2="425.40" y2="314.30" stroke="#333" stroke-width="1.00"/>
<text transform="translate(418.80 317.36) scale(0.84 1)" font-size="8.50" text-anchor="end" fill="#222" stroke="#222" stroke-width="0.35">14500</text>
<line x1="423.20" y1="298.55" x2="425.40" y2="298.55" stroke="#333" stroke-width="1.00"/>
<line x1="421.40" y1="282.80" x2="425.40" y2="282.80" stroke="#333" stroke-width="1.00"/>
<text transform="translate(418.80 285.86) scale(0.84 1)" font-size="8.50" text-anchor="end" fill="#222" stroke="#222" stroke-width="0.35">15000</text>
<line x1="423.20" y1="267.05" x2="425.40" y2="267.05" stroke="#333" stroke-width="1.00"/>
<path d="M425.4,327.8 425.5,327.7 425.5,333.4 425.6,319.4 425.7,333.2 425.7,346.7 425.8,312.4 425.9,333.6 425.9,338.9 426.0,327.2 426.1,324.9 426.2,319.4 426.2,329.5 426.3,319.1 426.4,322.4 426.4,321.7 426.5,322.5 426.6,320.5 426.6,321.0 426.7,338.6 426.8,337.3 426.8,335.1 426.9,318.4 427.0,324.8 427.0,333.7 427.1,319.7 427.2,308.0 427.3,321.8 427.3,333.4 427.4,309.8 427.5,338.4 427.5,323.0 427.6,319.0 427.7,322.7 427.7,331.3 427.8,334.8 427.9,331.0 427.9,331.8 428.0,330.7 428.1,334.2 428.1,313.1 428.2,352.6 428.3,311.3 428.4,335.6 428.4,327.4 428.5,317.7 428.6,340.4 428.6,315.9 428.7,330.2 428.8,331.8 428.8,330.7 428.9,315.2 429.0,332.4 429.0,317.4 429.1,334.7 429.2,327.3 429.2,320.5 429.3,311.4 429.4,334.3 429.4,327.4 429.5,325.5 429.6,330.9 429.7,342.5 429.7,314.9 429.8,312.2 429.9,342.8 429.9,321.6 430.0,334.2 430.1,343.4 430.1,321.5 430.2,335.1 430.3,321.9 430.3,334.2 430.4,324.5 430.5,322.1 430.5,336.6 430.6,339.7 430.7,326.4 430.8,333.1 430.8,344.1 430.9,348.5 431.0,340.2 431.0,357.6 431.1,334.6 431.2,344.3 431.2,354.0 431.3,334.4 431.4,334.3 431.4,338.0 431.5,328.3 431.6,339.8 431.6,336.8 431.7,331.9 431.8,335.7 431.9,332.1 431.9,325.0 432.0,336.5 432.1,330.1 432.1,316.9 432.2,328.6 432.3,324.9 432.3,340.7 432.4,327.9 432.5,341.4 432.5,347.3 432.6,357.0 432.7,353.5 432.7,327.9 432.8,332.6 432.9,341.0 432.9,340.1 433.0,341.4 433.1,336.2 433.2,341.5 433.2,335.5 433.3,329.9 433.4,338.7 433.4,330.8 433.5,321.3 433.6,332.5 433.6,314.4 433.7,327.6 433.8,336.9 433.8,341.0 433.9,344.5 434.0,351.0 434.0,345.6 434.1,338.3 434.2,337.5 434.3,338.5 434.3,316.5 434.4,345.3 434.5,325.8 434.5,344.9 434.6,360.8 434.7,347.6 434.7,326.4 434.8,341.2 434.9,353.9 434.9,325.7 435.0,354.7 435.1,322.3 435.1,338.9 435.2,328.0 435.3,334.9 435.4,346.0 435.4,331.4 435.5,343.9 435.6,341.1 435.6,337.8 435.7,328.5 435.8,351.3 435.8,345.9 435.9,330.6 436.0,336.5 436.0,349.5 436.1,349.6 436.2,342.0 436.2,343.1 436.3,330.1 436.4,325.7 436.4,339.3 436.5,335.9 436.6,331.3 436.7,325.1 436.7,347.1 436.8,341.7 436.9,336.2 436.9,334.3 437.0,332.4 437.1,326.1 437.1,347.2 437.2,337.5 437.3,334.3 437.3,337.4 437.4,327.9 437.5,334.4 437.5,338.0 437.6,340.4 437.7,334.2 437.8,334.2 437.8,342.9 437.9,342.8 438.0,339.4 438.0,329.1 438.1,343.4 438.2,329.0 438.2,349.1 438.3,326.4 438.4,315.2 438.4,331.6 438.5,333.5 438.6,326.6 438.6,338.1 438.7,328.5 438.8,352.5 438.9,329.3 438.9,339.1 439.0,349.9 439.1,324.7 439.1,342.3 439.2,353.9 439.3,321.0 439.3,328.6 439.4,315.9 439.5,335.9 439.5,332.8 439.6,346.9 439.7,337.6 439.7,346.5 439.8,336.5 439.9,323.5 439.9,341.6 440.0,347.1 440.1,339.8 440.2,337.7 440.2,344.0 440.3,338.0 440.4,331.6 440.4,343.7 440.5,345.1 440.6,335.3 440.6,347.5 440.7,352.7 440.8,353.7 440.8,322.3 440.9,337.9 441.0,310.5 441.0,326.0 441.1,330.7 441.2,316.3 441.3,321.4 441.3,339.4 441.4,331.7 441.5,330.1 441.5,345.3 441.6,338.8 441.7,332.5 441.7,343.4 441.8,345.4 441.9,343.1 441.9,325.8 442.0,334.7 442.1,339.4 442.1,333.3 442.2,336.0 442.3,332.9 442.4,332.6 442.4,333.2 442.5,339.7 442.6,328.1 442.6,318.7 442.7,340.9 442.8,332.5 442.8,339.1 442.9,342.2 443.0,341.6 443.0,333.8 443.1,329.1 443.2,338.6 443.2,338.9 443.3,335.4 443.4,347.0 443.4,330.4 443.5,346.4 443.6,349.3 443.7,322.4 443.7,328.7 443.8,330.2 443.9,318.2 443.9,327.6 444.0,314.0 444.1,343.5 444.1,333.7 444.2,322.0 444.3,335.5 444.3,328.1 444.4,341.0 444.5,319.6 444.5,338.1 444.6,332.3 444.7,343.2 444.8,337.6 444.8,327.1 444.9,331.4 445.0,325.1 445.0,321.3 445.1,351.7 445.2,344.7 445.2,340.6 445.3,312.7 445.4,330.3 445.4,338.9 445.5,335.9 445.6,318.7 445.6,331.8 445.7,326.1 445.8,335.5 445.9,327.4 445.9,341.3 446.0,332.9 446.1,344.6 446.1,316.8 446.2,327.1 446.3,341.7 446.3,323.5 446.4,330.8 446.5,328.0 446.5,331.3 446.6,346.9 446.7,325.9 446.7,328.6 446.8,329.2 446.9,329.8 446.9,337.1 447.0,321.2 447.1,322.6 447.2,318.3 447.2,324.7 447.3,318.8 447.4,346.8 447.4,338.7 447.5,322.8 447.6,320.6 447.6,319.5 447.7,340.0 447.8,312.8 447.8,322.5 447.9,330.8 448.0,345.5 448.0,328.2 448.1,335.5 448.2,334.9 448.3,325.7 448.3,328.2 448.4,328.0 448.5,329.1 448.5,315.4 448.6,320.3 448.7,335.5 448.7,317.3 448.8,345.8 448.9,350.6 448.9,334.8 449.0,304.3 449.1,329.5 449.1,311.1 449.2,329.3 449.3,320.8 449.4,351.6 449.4,322.4 449.5,326.1 449.6,317.1 449.6,320.5 449.7,336.3 449.8,313.2 449.8,316.9 449.9,307.1 450.0,330.7 450.0,345.0 450.1,336.6 450.2,338.0 450.2,336.0 450.3,315.4 450.4,336.6 450.5,332.6 450.5,305.1 450.6,321.1 450.7,320.7 450.7,316.5 450.8,300.4 450.9,306.0 450.9,309.0 451.0,299.8 451.1,300.6 451.1,308.6 451.2,320.1 451.3,327.0 451.3,321.9 451.4,324.3 451.5,339.0 451.5,319.7 451.6,312.6 451.7,312.4 451.8,311.3 451.8,321.0 451.9,326.3 452.0,315.4 452.0,338.1 452.1,328.0 452.2,326.8 452.2,311.4 452.3,318.5 452.4,318.1 452.4,315.5 452.5,333.3 452.6,314.0 452.6,345.0 452.7,325.2 452.8,327.4 452.9,332.2 452.9,327.6 453.0,326.8 453.1,324.4 453.1,345.2 453.2,337.2 453.3,336.3 453.3,325.8 453.4,329.5 453.5,317.7 453.5,337.1 453.6,324.8 453.7,312.5 453.7,328.6 453.8,338.3 453.9,339.2 454.0,331.2 454.0,318.8 454.1,318.2 454.2,334.2 454.2,322.4 454.3,336.3 454.4,334.8 454.4,314.7 454.5,326.8 454.6,330.7 454.6,326.2 454.7,315.9 454.8,319.8 454.8,329.1 454.9,327.2 455.0,318.1 455.0,296.6 455.1,330.6 455.2,299.5 455.3,329.4 455.3,323.7 455.4,308.7 455.5,319.3 455.5,326.8 455.6,321.1 455.7,341.4 455.7,339.2 455.8,315.8 455.9,333.5 455.9,337.1 456.0,331.1 456.1,320.2 456.1,308.0 456.2,334.0 456.3,327.1 456.4,315.0 456.4,324.4 456.5,320.3 456.6,342.0 456.6,331.2 456.7,331.4 456.8,320.6 456.8,322.1 456.9,331.2 457.0,320.4 457.0,315.5 457.1,331.1 457.2,307.1 457.2,323.2 457.3,316.0 457.4,307.6 457.5,327.4 457.5,308.8 457.6,324.5 457.7,304.1 457.7,325.9 457.8,340.5 457.9,331.4 457.9,307.4 458.0,324.1 458.1,315.6 458.1,308.3 458.2,315.1 458.3,310.8 458.3,342.6 458.4,319.7 458.5,330.9 458.5,351.9 458.6,316.1 458.7,314.6 458.8,321.2 458.8,334.5 458.9,332.4 459.0,324.7 459.0,311.1 459.1,340.6 459.2,352.2 459.2,337.4 459.3,330.8 459.4,325.9 459.4,315.7 459.5,334.7 459.6,344.6 459.6,334.1 459.7,313.3 459.8,317.0 459.9,328.9 459.9,344.2 460.0,320.0 460.1,321.8 460.1,314.0 460.2,320.4 460.3,307.8 460.3,320.9 460.4,320.1 460.5,315.3 460.5,326.0 460.6,319.6 460.7,311.5 460.7,335.0 460.8,319.7 460.9,309.3 461.0,313.1 461.0,319.8 461.1,330.8 461.2,321.4 461.2,334.1 461.3,330.7 461.4,327.0 461.4,325.5 461.5,326.1 461.6,337.4 461.6,328.4 461.7,337.3 461.8,327.2 461.8,312.8 461.9,347.9 462.0,335.1 462.0,337.1 462.1,321.2 462.2,324.0 462.3,324.3 462.3,320.1 462.4,323.0 462.5,310.4 462.5,311.3 462.6,306.8 462.7,312.4 462.7,321.0 462.8,325.2 462.9,327.2 462.9,317.8 463.0,313.2 463.1,322.3 463.1,321.0 463.2,299.2 463.3,306.2 463.4,324.4 463.4,303.3 463.5,324.1 463.6,327.6 463.6,315.6 463.7,317.4 463.8,306.3 463.8,309.8 463.9,297.0 464.0,333.6 464.0,303.4 464.1,307.2 464.2,316.7 464.2,322.2 464.3,308.3 464.4,314.9 464.5,318.9 464.5,306.0 464.6,318.7 464.7,305.6 464.7,319.0 464.8,309.9 464.9,337.8 464.9,347.5 465.0,317.2 465.1,302.2 465.1,333.4 465.2,322.2 465.3,313.2 465.3,321.1 465.4,324.2 465.5,323.9 465.5,331.1 465.6,325.0 465.7,298.6 465.8,329.8 465.8,325.1 465.9,335.0 466.0,310.7 466.0,313.9 466.1,324.5 466.2,337.3 466.2,328.5 466.3,326.6 466.4,317.2 466.4,325.5 466.5,316.0 466.6,318.1 466.6,315.2 466.7,327.4 466.8,310.2 466.9,309.3 466.9,307.9 467.0,317.5 467.1,304.9 467.1,322.5 467.2,326.2 467.3,307.7 467.3,319.5 467.4,331.9 467.5,327.8 467.5,302.6 467.6,326.9 467.7,318.3 467.7,303.2 467.8,338.6 467.9,320.9 468.0,328.4 468.0,326.4 468.1,313.5 468.2,349.1 468.2,315.8 468.3,336.4 468.4,328.4 468.4,336.8 468.5,315.6 468.6,318.2 468.6,311.1 468.7,313.8 468.8,322.6 468.8,312.5 468.9,323.8 469.0,319.9 469.0,319.0 469.1,324.8 469.2,320.2 469.3,322.1 469.3,334.6 469.4,343.2 469.5,331.2 469.5,327.1 469.6,320.7 469.7,324.0 469.7,316.4 469.8,337.9 469.9,326.7 469.9,320.3 470.0,323.0 470.1,320.4 470.1,352.5 470.2,334.4 470.3,353.3 470.4,327.0 470.4,309.2 470.5,331.6 470.6,327.2 470.6,337.5 470.7,335.7 470.8,305.7 470.8,339.5 470.9,326.6 471.0,325.0 471.0,304.3 471.1,318.5 471.2,315.7 471.2,326.6 471.3,324.5 471.4,311.2 471.5,323.4 471.5,307.1 471.6,332.0 471.7,323.7 471.7,320.3 471.8,313.4 471.9,329.9 471.9,317.6 472.0,328.1 472.1,314.3 472.1,338.2 472.2,323.5 472.3,331.8 472.3,287.2 472.4,316.7 472.5,325.8 472.5,327.3 472.6,331.8 472.7,321.8 472.8,305.3 472.8,311.2 472.9,324.3 473.0,298.4 473.0,309.3 473.1,308.3 473.2,313.7 473.2,309.7 473.3,327.2 473.4,314.9 473.4,321.7 473.5,337.6 473.6,322.2 473.6,304.2 473.7,327.1 473.8,329.4 473.9,327.0 473.9,317.8 474.0,312.4 474.1,334.1 474.1,324.6 474.2,328.2 474.3,336.3 474.3,320.3 474.4,314.2 474.5,326.2 474.5,308.0 474.6,314.6 474.7,322.1 474.7,316.7 474.8,316.9 474.9,296.9 475.0,305.6 475.0,311.3 475.1,325.6 475.2,325.7 475.2,320.5 475.3,317.2 475.4,314.0 475.4,312.4 475.5,320.6 475.6,320.5 475.6,300.6 475.7,323.7 475.8,321.8 475.8,326.1 475.9,329.3 476.0,313.4 476.0,332.4 476.1,328.1 476.2,315.7 476.3,315.0 476.3,315.3 476.4,314.2 476.5,315.6 476.5,321.9 476.6,343.1 476.7,322.6 476.7,326.4 476.8,331.0 476.9,326.0 476.9,312.3 477.0,321.3 477.1,316.0 477.1,328.6 477.2,318.7 477.3,329.9 477.4,342.2 477.4,312.1 477.5,330.8 477.6,337.4 477.6,323.0 477.7,334.0 477.8,324.8 477.8,323.3 477.9,317.6 478.0,329.1 478.0,305.1 478.1,313.2 478.2,326.0 478.2,321.8 478.3,316.6 478.4,314.3 478.5,333.1 478.5,336.7 478.6,320.1 478.7,323.9 478.7,322.6 478.8,330.5 478.9,314.3 478.9,316.5 479.0,311.5 479.1,308.3 479.1,320.5 479.2,323.8 479.3,343.8 479.3,313.4 479.4,305.3 479.5,317.0 479.5,323.3 479.6,315.6 479.7,312.6 479.8,310.9 479.8,323.1 479.9,330.5 480.0,329.7 480.0,324.4 480.1,336.9 480.2,330.3 480.2,316.7 480.3,311.8 480.4,310.6 480.4,335.5 480.5,314.8 480.6,317.2 480.6,334.3 480.7,323.7 480.8,317.1 480.9,330.5 480.9,336.0 481.0,325.6 481.1,318.7 481.1,336.8 481.2,334.9 481.3,346.5 481.3,330.8 481.4,330.4 481.5,328.6 481.5,342.4 481.6,319.5 481.7,329.1 481.7,323.5 481.8,316.3 481.9,321.3 482.0,324.1 482.0,309.9 482.1,330.4 482.2,331.3 482.2,324.3 482.3,322.9 482.4,325.9 482.4,340.3 482.5,345.8 482.6,337.6 482.6,335.1 482.7,312.9 482.8,321.0 482.8,325.4 482.9,336.9 483.0,331.3 483.0,344.9 483.1,345.8 483.2,337.5 483.3,310.6 483.3,336.5 483.4,317.2 483.5,332.0 483.5,316.6 483.6,327.2 483.7,331.7 483.7,327.5 483.8,319.4 483.9,318.7 483.9,321.3 484.0,308.7 484.1,341.3 484.1,329.1 484.2,305.4 484.3,329.4 484.4,324.3 484.4,324.3 484.5,322.2 484.6,327.6 484.6,320.4 484.7,313.7 484.8,330.1 484.8,313.2 484.9,329.3 485.0,307.9 485.0,318.2 485.1,324.7 485.2,320.5 485.2,322.5 485.3,311.6 485.4,336.5 485.5,320.3 485.5,314.9 485.6,329.9 485.7,322.7 485.7,332.3 485.8,325.2 485.9,312.2 485.9,336.1 486.0,353.2 486.1,334.4 486.1,347.1 486.2,349.3 486.3,337.4 486.3,330.6 486.4,334.9 486.5,350.6 486.5,325.3 486.6,329.2 486.7,352.8 486.8,320.5 486.8,337.4 486.9,324.8 487.0,330.7 487.0,328.7 487.1,325.0 487.2,325.5 487.2,317.5 487.3,320.3 487.4,331.8 487.4,319.1 487.5,315.1 487.6,324.9 487.6,318.3 487.7,336.5 487.8,314.2 487.9,328.4 487.9,330.1 488.0,339.2 488.1,319.4 488.1,332.7 488.2,317.2 488.3,340.0 488.3,328.2 488.4,338.3 488.5,335.3 488.5,330.6 488.6,328.1 488.7,336.2 488.7,344.9 488.8,330.7 488.9,339.7 489.0,315.0 489.0,327.3 489.1,322.9 489.2,333.3 489.2,330.9 489.3,309.5 489.4,332.3 489.4,335.7 489.5,346.7 489.6,320.6 489.6,316.5 489.7,331.4 489.8,322.9 489.8,323.4 489.9,344.1 490.0,318.3 490.0,332.2 490.1,320.5 490.2,322.3 490.3,334.9 490.3,311.4 490.4,332.3 490.5,340.2 490.5,313.8 490.6,328.8 490.7,337.2 490.7,345.2 490.8,316.9 490.9,331.6 490.9,328.2 491.0,321.7 491.1,311.1 491.1,348.7 491.2,333.5 491.3,328.6 491.4,328.9 491.4,333.0 491.5,318.7 491.6,332.4 491.6,324.6 491.7,324.5 491.8,340.9 491.8,319.4 491.9,328.9 492.0,326.7 492.0,329.4 492.1,346.5 492.2,336.6 492.2,316.3 492.3,333.8 492.4,341.9 492.5,352.5 492.5,333.7 492.6,333.9 492.7,338.3 492.7,330.6 492.8,343.7 492.9,350.5 492.9,339.0 493.0,334.8 493.1,317.8 493.1,346.1 493.2,331.0 493.3,306.0 493.3,316.8 493.4,325.2 493.5,328.2 493.5,323.5 493.6,318.3 493.7,317.3 493.8,325.3 493.8,340.4 493.9,342.5 494.0,340.4 494.0,321.0 494.1,333.7 494.2,325.0 494.2,337.5 494.3,322.1 494.4,329.6 494.4,338.3 494.5,343.3 494.6,319.4 494.6,346.6 494.7,318.7 494.8,336.2 494.9,327.0 494.9,331.9 495.0,335.6 495.1,337.9 495.1,329.1 495.2,335.3 495.3,333.3 495.3,330.0 495.4,329.5 495.5,328.0 495.5,337.5 495.6,347.0 495.7,338.7 495.7,320.1 495.8,342.2 495.9,328.2 496.0,323.3 496.0,331.5 496.1,326.2 496.2,317.9 496.2,323.7 496.3,315.8 496.4,328.7 496.4,337.5 496.5,336.1 496.6,347.7 496.6,345.0 496.7,326.5 496.8,331.0 496.8,331.8 496.9,330.7 497.0,335.6 497.0,342.8 497.1,323.0 497.2,338.7 497.3,341.5 497.3,337.3 497.4,331.4 497.5,322.9 497.5,340.3 497.6,332.0 497.7,323.8 497.7,337.0 497.8,318.0 497.9,335.9 497.9,334.5 498.0,346.8 498.1,327.6 498.1,330.8 498.2,338.1 498.3,346.4 498.4,337.2 498.4,340.2 498.5,347.2 498.6,335.6 498.6,352.5 498.7,362.7 498.8,324.4 498.8,337.9 498.9,352.6 499.0,344.5 499.0,332.6 499.1,343.3 499.2,333.1 499.2,359.5 499.3,338.5 499.4,337.7 499.5,348.3 499.5,324.4 499.6,324.6 499.7,339.0 499.7,343.9 499.8,342.6 499.9,316.4 499.9,333.9 500.0,338.9 500.1,344.9 500.1,310.7 500.2,314.6 500.3,334.0 500.3,332.2 500.4,322.7 500.5,330.8 500.6,350.1 500.6,334.3 500.7,342.6 500.8,331.9 500.8,332.7 500.9,337.1 501.0,344.5 501.0,323.3 501.1,328.2 501.2,344.5 501.2,331.7 501.3,340.3 501.4,335.1 501.4,339.2 501.5,332.7 501.6,330.5 501.6,347.5 501.7,339.2 501.8,341.6 501.9,344.6 501.9,342.9 502.0,345.7 502.1,325.9 502.1,344.7 502.2,337.0 502.3,338.3 502.3,331.4 502.4,337.1 502.5,345.2 502.5,341.3 502.6,341.8 502.7,329.8 502.7,337.5 502.8,333.4 502.9,336.0 503.0,345.0 503.0,315.2 503.1,332.9 503.2,329.0 503.2,343.7 503.3,333.3 503.4,337.9 503.4,355.2 503.5,331.2 503.6,342.2 503.6,339.6 503.7,317.6 503.8,331.0 503.8,334.5 503.9,333.0 504.0,336.5 504.1,338.8 504.1,327.4 504.2,328.6 504.3,328.6 504.3,357.1 504.4,335.3 504.5,326.4 504.5,356.8 504.6,324.9 504.7,331.3 504.7,334.7 504.8,330.3 504.9,334.7 504.9,321.3 505.0,331.3 505.1,321.3 505.1,331.6 505.2,355.4 505.3,338.1 505.4,333.7 505.4,342.9 505.5,341.2 505.6,350.0 505.6,320.2 505.7,323.4 505.8,325.8 505.8,344.4 505.9,345.1 506.0,348.1 506.0,307.1 506.1,318.5 506.2,315.7 506.2,333.9 506.3,321.0 506.4,331.0 506.5,338.6 506.5,343.4 506.6,339.5 506.7,330.5 506.7,321.2 506.8,346.8 506.9,340.4 506.9,342.4 507.0,358.5 507.1,336.2 507.1,322.6 507.2,356.4 507.3,354.2 507.3,334.9 507.4,363.9 507.5,343.8 507.6,342.8 507.6,337.4 507.7,351.6 507.8,331.6 507.8,329.2 507.9,330.5 508.0,342.6 508.0,346.7 508.1,336.5 508.2,327.3 508.2,347.1 508.3,325.4 508.4,328.5 508.4,320.6 508.5,334.1 508.6,352.2 508.6,341.0 508.7,354.9 508.8,326.8 508.9,333.5 508.9,321.4 509.0,324.5 509.1,347.0 509.1,342.2 509.2,325.3 509.3,348.8 509.3,336.3 509.4,345.2 509.5,329.9 509.5,338.3 509.6,327.2 509.7,322.4 509.7,331.9 509.8,330.4 509.9,335.1 510.0,332.4 510.0,330.7 510.1,328.8 510.2,338.1 510.2,342.9 510.3,320.4 510.4,319.1 510.4,342.0 510.5,345.6 510.6,328.8 510.6,337.1 510.7,323.6 510.8,335.4 510.8,347.2 510.9,338.0 511.0,339.1 511.1,332.3 511.1,329.3 511.2,336.4 511.3,348.9 511.3,341.5 511.4,336.9 511.5,324.1 511.5,337.2 511.6,328.4 511.7,333.5 511.7,321.6 511.8,339.3 511.9,357.4 511.9,314.8 512.0,311.3 512.1,329.8 512.1,341.0 512.2,334.5 512.3,340.2 512.4,349.3 512.4,333.1 512.5,330.1 512.6,321.5 512.6,359.1 512.7,344.2 512.8,343.3 512.8,346.9 512.9,330.1 513.0,334.2 513.0,337.4 513.1,325.2 513.2,315.8 513.2,336.1 513.3,339.2 513.4,349.8 513.5,343.3 513.5,336.6 513.6,333.0 513.7,339.4 513.7,337.5 513.8,331.1 513.9,349.5 513.9,317.1 514.0,343.8 514.1,316.8 514.1,335.7 514.2,334.3 514.3,321.3 514.3,326.1 514.4,340.6 514.5,344.3 514.6,323.4 514.6,317.7 514.7,331.9 514.8,324.1 514.8,325.3 514.9,325.5 515.0,328.7 515.0,330.8 515.1,320.1 515.2,333.6 515.2,327.7 515.3,318.5 515.4,314.3 515.4,324.5 515.5,315.3 515.6,314.5 515.6,316.2 515.7,335.6 515.8,328.5 515.9,325.3 515.9,312.5 516.0,333.4 516.1,335.4 516.1,341.4 516.2,338.1 516.3,335.8 516.3,318.7 516.4,337.6 516.5,360.6 516.5,326.9 516.6,346.8 516.7,341.5 516.7,335.6 516.8,334.4 516.9,321.5 517.0,353.3 517.0,318.8 517.1,327.8 517.2,337.0 517.2,325.2 517.3,317.5 517.4,333.4 517.4,351.8 517.5,314.4 517.6,318.2 517.6,326.1 517.7,322.2 517.8,342.7 517.8,325.4 517.9,349.9 518.0,329.4 518.1,337.1 518.1,329.0 518.2,353.8 518.3,326.6 518.3,345.7 518.4,343.3 518.5,340.1 518.5,337.2 518.6,345.2 518.7,344.6 518.7,319.6 518.8,334.7 518.9,338.6 518.9,323.3 519.0,352.2 519.1,324.8 519.1,334.4 519.2,329.1 519.3,322.0 519.4,323.6 519.4,333.7 519.5,317.7 519.6,349.7 519.6,336.0 519.7,335.2 519.8,325.3 519.8,327.4 519.9,330.3 520.0,330.8 520.0,337.7 520.1,333.3 520.2,333.0 520.2,329.3 520.3,317.5 520.4,323.8 520.5,350.7 520.5,341.1 520.6,334.3 520.7,345.8 520.7,338.9 520.8,341.6 520.9,333.7 520.9,331.3 521.0,307.7 521.1,344.1 521.1,327.3 521.2,347.9 521.3,346.1 521.3,322.3 521.4,348.2 521.5,319.9 521.6,332.6 521.6,353.9 521.7,342.7 521.8,349.1 521.8,327.5 521.9,329.9 522.0,332.6 522.0,346.1 522.1,325.2 522.2,307.8 522.2,321.5 522.3,332.7 522.4,327.7 522.4,329.4 522.5,312.7 522.6,323.4 522.6,333.8 522.7,324.2 522.8,334.7 522.9,315.2 522.9,320.4 523.0,333.7 523.1,323.9 523.1,335.2 523.2,318.5 523.3,325.9 523.3,340.4 523.4,335.9 523.5,332.0 523.5,336.9 523.6,335.0 523.7,323.8 523.7,329.9 523.8,311.1 523.9,353.5 524.0,329.8 524.0,342.6 524.1,337.0 524.2,328.4 524.2,334.3 524.3,341.0 524.4,336.0 524.4,338.1 524.5,352.0 524.6,332.4 524.6,317.3 524.7,324.5 524.8,335.2 524.8,353.6 524.9,353.3 525.0,315.1 525.1,329.9 525.1,324.2 525.2,320.7 525.3,343.4 525.3,321.7 525.4,344.4 525.5,332.3 525.5,336.2 525.6,321.9 525.7,307.7 525.7,338.6 525.8,324.6 525.9,330.8 525.9,337.4 526.0,333.1 526.1,336.0 526.1,338.9 526.2,320.2 526.3,329.7 526.4,321.3 526.4,344.0 526.5,333.0 526.6,329.6 526.6,353.0 526.7,331.2 526.8,326.3 526.8,331.8 526.9,326.6 527.0,327.0 527.0,314.4 527.1,321.2 527.2,330.4 527.2,330.3 527.3,322.7 527.4,335.8 527.5,330.4 527.5,331.7 527.6,314.5 527.7,311.5 527.7,329.3 527.8,321.7 527.9,330.6 527.9,322.6 528.0,344.4 528.1,335.9 528.1,317.0 528.2,317.5 528.3,329.3 528.3,330.2 528.4,343.1 528.5,330.4 528.6,330.7 528.6,329.9 528.7,335.1 528.8,341.9 528.8,337.6 528.9,332.9 529.0,327.6 529.0,345.8 529.1,337.4 529.2,346.0 529.2,336.7 529.3,331.7 529.4,350.1 529.4,335.1 529.5,344.3 529.6,344.5 529.6,325.0 529.7,338.4 529.8,327.1 529.9,354.0 529.9,326.1 530.0,323.7 530.1,341.6 530.1,320.8 530.2,330.3 530.3,316.2 530.3,324.5 530.4,331.0 530.5,327.1 530.5,347.0 530.6,347.1 530.7,321.0 530.7,331.5 530.8,321.2 530.9,326.2 531.0,342.2 531.0,334.9 531.1,328.6 531.2,337.6 531.2,334.1 531.3,311.6 531.4,324.3 531.4,322.6 531.5,320.1 531.6,311.0 531.6,319.2 531.7,329.3 531.8,346.2 531.8,312.4 531.9,327.0 532.0,320.5 532.1,341.8 532.1,319.1 532.2,313.6 532.3,323.1 532.3,325.4 532.4,316.4 532.5,316.9 532.5,306.7 532.6,324.2 532.7,329.0 532.7,338.2 532.8,315.5 532.9,333.3 532.9,344.3 533.0,304.5 533.1,333.0 533.1,322.0 533.2,319.3 533.3,327.6 533.4,319.7 533.4,334.9 533.5,319.4 533.6,327.7 533.6,306.6 533.7,328.7 533.8,306.0 533.8,313.1 533.9,336.0 534.0,326.0 534.0,334.5 534.1,336.5 534.2,332.7 534.2,338.6 534.3,341.0 534.4,327.2 534.5,312.1 534.5,343.0 534.6,335.2 534.7,328.1 534.7,323.4 534.8,314.6 534.9,347.2 534.9,317.0 535.0,303.3 535.1,331.7 535.1,314.4 535.2,335.1 535.3,323.0 535.3,318.9 535.4,324.5 535.5,325.5 535.6,331.8 535.6,344.5 535.7,325.8 535.8,321.5 535.8,321.6 535.9,327.8 536.0,320.9 536.0,324.3 536.1,333.4 536.2,324.1 536.2,324.6 536.3,324.2 536.4,308.4 536.4,311.0 536.5,332.0 536.6,322.5 536.6,308.2 536.7,329.2 536.8,310.3 536.9,322.3 536.9,330.6 537.0,332.1 537.1,330.3 537.1,314.9 537.2,320.8 537.3,328.2 537.3,321.9 537.4,324.6 537.5,299.7 537.5,330.3 537.6,332.6 537.7,328.8 537.7,316.2 537.8,318.1 537.9,319.3 538.0,328.1 538.0,327.9 538.1,313.4 538.2,322.2 538.2,311.6 538.3,346.7 538.4,317.5 538.4,331.2 538.5,328.9 538.6,317.3 538.6,345.8 538.7,327.9 538.8,315.5 538.8,327.8 538.9,307.5 539.0,325.4 539.1,329.2 539.1,309.8 539.2,317.7 539.3,321.9 539.3,322.8 539.4,324.8 539.5,323.6 539.5,321.2 539.6,316.3 539.7,310.7 539.7,314.5 539.8,328.0 539.9,325.6 539.9,312.7 540.0,324.3 540.1,309.9 540.1,314.4 540.2,324.9 540.3,345.8 540.4,318.6 540.4,333.7 540.5,327.9 540.6,347.9 540.6,334.0 540.7,330.2 540.8,324.8 540.8,330.7 540.9,318.5 541.0,327.6 541.0,329.7 541.1,325.0 541.2,315.7 541.2,323.6 541.3,331.7 541.4,323.6 541.5,315.9 541.5,339.1 541.6,337.2 541.7,317.8 541.7,309.9 541.8,337.4 541.9,323.6 541.9,323.0 542.0,327.0 542.1,335.5 542.1,312.2 542.2,326.1 542.3,313.0 542.3,340.6 542.4,326.2 542.5,335.3 542.6,330.7 542.6,338.6 542.7,321.7 542.8,289.1 542.8,303.5 542.9,333.8 543.0,328.7 543.0,318.7 543.1,316.5 543.2,325.5 543.2,319.5 543.3,335.3 543.4,334.9 543.4,321.4 543.5,313.2 543.6,320.2 543.6,307.7 543.7,313.9 543.8,308.6 543.9,318.6 543.9,328.4 544.0,315.8 544.1,323.2 544.1,313.6 544.2,327.7 544.3,307.2 544.3,304.6 544.4,309.4 544.5,302.6 544.5,296.6 544.6,304.6 544.7,322.5 544.7,329.1 544.8,313.2 544.9,307.9 545.0,311.1 545.0,318.4 545.1,322.0 545.2,312.5 545.2,315.0 545.3,330.8 545.4,319.7 545.4,324.6 545.5,311.9 545.6,324.5 545.6,327.7 545.7,326.7 545.8,319.2 545.8,300.9 545.9,309.2 546.0,330.0 546.1,327.2 546.1,339.5 546.2,314.1 546.3,304.8 546.3,323.6 546.4,340.5 546.5,299.9 546.5,311.8 546.6,340.4 546.7,340.7 546.7,311.3 546.8,326.6 546.9,327.5 546.9,332.3 547.0,327.9 547.1,319.0 547.1,313.2 547.2,326.1 547.3,328.2 547.4,318.1 547.4,316.2 547.5,324.7 547.6,322.8 547.6,329.0 547.7,300.2 547.8,331.3 547.8,323.7 547.9,338.3 548.0,324.7 548.0,329.7 548.1,318.4 548.2,309.6 548.2,327.3 548.3,308.1 548.4,321.6 548.5,332.5 548.5,317.3 548.6,307.9 548.7,318.9 548.7,324.4 548.8,301.6 548.9,306.2 548.9,330.2 549.0,305.0 549.1,311.7 549.1,316.5 549.2,321.1 549.3,322.7 549.3,327.6 549.4,319.0 549.5,313.9 549.6,333.1 549.6,329.6 549.7,307.3 549.8,329.1 549.8,329.9 549.9,328.7 550.0,320.4 550.0,320.0 550.1,324.6 550.2,309.7 550.2,307.2 550.3,313.1 550.4,312.7 550.4,313.9 550.5,333.3 550.6,316.9 550.7,330.3 550.7,336.6 550.8,335.1 550.9,331.8 550.9,315.5 551.0,323.5 551.1,324.5 551.1,318.3 551.2,308.2 551.3,309.7 551.3,316.3 551.4,323.5 551.5,314.7 551.5,328.2 551.6,333.9 551.7,335.8 551.7,320.1 551.8,326.3 551.9,315.1 552.0,313.6 552.0,323.5 552.1,320.0 552.2,308.3 552.2,301.3 552.3,322.0 552.4,310.8 552.4,322.8 552.5,328.6 552.6,327.7 552.6,304.5 552.7,328.1 552.8,332.5 552.8,297.2 552.9,310.6 553.0,313.0 553.1,305.8 553.1,305.6 553.2,305.5 553.3,311.0 553.3,320.0 553.4,333.5 553.5,303.3 553.5,330.2 553.6,314.7 553.7,309.5 553.7,339.9 553.8,316.4 553.9,304.6 553.9,328.2 554.0,314.2 554.1,313.9 554.2,334.2 554.2,312.5 554.3,326.0 554.4,335.1 554.4,302.8 554.5,321.3 554.6,327.5 554.6,321.7 554.7,320.3 554.8,309.0 554.8,312.2 554.9,310.9 555.0,330.0 555.0,315.3 555.1,326.7 555.2,298.0 555.2,315.0 555.3,330.7 555.4,326.0 555.5,327.1 555.5,336.7 555.6,337.7 555.7,334.4 555.7,321.9 555.8,346.4 555.9,325.8 555.9,312.8 556.0,313.8 556.1,322.1 556.1,312.1 556.2,313.0 556.3,321.9 556.3,309.0 556.4,311.4 556.5,326.1 556.6,306.3 556.6,324.1 556.7,323.3 556.8,323.3 556.8,339.1 556.9,326.6 557.0,320.2 557.0,306.1 557.1,333.7 557.2,326.7 557.2,325.9 557.3,303.7 557.4,335.1 557.4,326.7 557.5,329.2 557.6,327.3 557.7,332.4 557.7,323.5 557.8,308.4 557.9,324.8 557.9,324.1 558.0,318.9 558.1,296.6 558.1,309.3 558.2,309.9 558.3,306.9 558.3,320.1 558.4,287.9 558.5,306.9 558.5,316.6 558.6,325.4 558.7,302.5 558.7,301.9 558.8,321.1 558.9,325.2 559.0,312.2 559.0,307.5 559.1,326.7 559.2,319.5 559.2,303.6 559.3,305.7 559.4,311.8 559.4,308.2 559.5,320.6 559.6,325.1 559.6,309.0 559.7,305.4 559.8,329.6 559.8,319.1 559.9,316.4 560.0,314.7 560.1,319.8 560.1,314.8 560.2,319.0 560.3,307.0 560.3,312.1 560.4,334.4 560.5,314.5 560.5,307.5 560.6,294.2 560.7,315.6 560.7,317.1 560.8,297.3 560.9,336.3 560.9,325.2 561.0,319.7 561.1,310.3 561.2,315.6 561.2,313.2 561.3,311.9 561.4,315.1 561.4,321.5 561.5,315.9 561.6,321.4 561.6,328.6 561.7,318.0 561.8,302.7 561.8,312.2 561.9,301.1 562.0,316.7 562.0,320.4 562.1,319.6 562.2,316.6 562.2,302.3 562.3,310.8 562.4,310.2 562.5,328.6 562.5,317.6 562.6,311.8 562.7,310.8 562.7,323.8 562.8,321.2 562.9,314.7 562.9,295.8 563.0,325.9 563.1,314.5 563.1,321.2 563.2,303.6 563.3,324.0 563.3,329.1 563.4,299.0 563.5,315.2 563.6,316.6 563.6,309.9 563.7,316.4 563.8,323.5 563.8,317.2 563.9,332.5 564.0,319.1 564.0,322.5 564.1,315.7 564.2,318.2 564.2,322.0 564.3,306.0 564.4,327.6 564.4,305.0 564.5,306.7 564.6,295.5 564.7,308.8 564.7,313.1 564.8,326.1 564.9,319.4 564.9,301.2 565.0,319.1 565.1,331.0 565.1,307.9 565.2,309.4 565.3,309.2 565.3,330.3 565.4,312.2 565.5,333.8 565.5,305.6 565.6,308.0 565.7,327.8 565.7,327.8 565.8,313.9 565.9,307.6 566.0,304.2 566.0,325.8 566.1,301.0 566.2,322.5 566.2,319.0 566.3,322.7 566.4,303.3 566.4,313.2 566.5,311.1 566.6,310.8 566.6,306.1 566.7,321.5 566.8,327.1 566.8,323.2 566.9,318.5 567.0,299.8 567.1,316.2 567.1,316.3 567.2,299.7 567.3,320.3 567.3,330.5 567.4,323.9 567.5,312.8 567.5,329.7 567.6,326.7 567.7,312.0 567.7,323.4 567.8,303.6 567.9,309.0 567.9,319.0 568.0,327.2 568.1,311.7 568.2,315.6 568.2,307.7 568.3,313.2 568.4,313.1 568.4,322.1 568.5,304.2 568.6,321.2 568.6,304.1 568.7,309.5 568.8,310.4 568.8,317.6 568.9,308.0 569.0,329.4 569.0,331.2 569.1,309.3 569.2,326.7 569.2,309.5 569.3,324.8 569.4,315.4 569.5,322.1 569.5,315.2 569.6,303.4 569.7,327.5 569.7,296.8 569.8,329.8 569.9,317.7 569.9,335.7 570.0,330.5 570.1,327.6 570.1,320.6 570.2,312.6 570.3,317.5 570.3,312.8 570.4,323.8 570.5,319.3 570.6,315.5 570.6,326.5 570.7,330.8 570.8,326.6 570.8,325.3 570.9,325.8 571.0,319.1 571.0,319.2 571.1,317.9 571.2,320.4 571.2,319.0 571.3,324.3 571.4,315.6 571.4,308.0 571.5,327.2 571.6,329.5 571.7,318.6 571.7,308.1 571.8,345.3 571.9,341.3 571.9,317.5 572.0,314.8 572.1,318.9 572.1,307.5 572.2,301.4 572.3,313.7 572.3,319.8 572.4,327.2 572.5,312.0 572.5,317.1 572.6,308.2 572.7,323.1 572.7,330.6 572.8,316.2 572.9,312.1 573.0,310.4 573.0,329.2 573.1,317.9 573.2,307.8 573.2,307.1 573.3,307.9 573.4,316.2 573.4,312.4 573.5,304.3 573.6,310.0 573.6,311.5 573.7,312.3 573.8,310.6 573.8,330.5 573.9,302.3 574.0,312.5 574.1,317.7 574.1,329.7 574.2,317.0 574.3,319.9 574.3,339.1 574.4,290.4 574.5,328.1 574.5,304.3 574.6,321.4 574.7,320.8 574.7,311.2 574.8,318.8 574.9,307.5 574.9,318.0 575.0,319.8 575.1,305.6 575.2,308.1 575.2,327.8 575.3,326.6 575.4,316.1 575.4,310.6 575.5,306.8 575.6,297.4 575.6,319.7 575.7,330.9 575.8,315.7 575.8,336.2 575.9,331.3 576.0,318.4 576.0,323.9 576.1,322.9 576.2,306.6 576.2,313.5 576.3,334.1 576.4,320.5 576.5,331.4 576.5,328.6 576.6,325.5 576.7,313.4 576.7,345.7 576.8,334.0 576.9,341.3 576.9,327.4 577.0,328.2 577.1,334.4 577.1,319.4 577.2,322.4 577.3,311.3 577.3,307.2 577.4,309.0 577.5,326.2 577.6,326.7 577.6,311.2 577.7,328.7 577.8,324.8 577.8,338.3 577.9,313.1 578.0,325.6 578.0,319.6 578.1,319.4 578.2,318.4 578.2,324.5 578.3,327.3 578.4,318.2 578.4,318.5 578.5,319.0 578.6,333.2 578.7,304.8 578.7,328.3 578.8,317.3 578.9,311.9 578.9,325.4 579.0,324.4 579.1,314.6 579.1,316.0 579.2,320.5 579.3,325.9 579.3,333.0 579.4,329.0 579.5,326.0 579.5,335.5 579.6,325.0 579.7,320.6 579.7,322.8 579.8,320.4 579.9,344.5 580.0,314.5 580.0,330.4 580.1,335.1 580.2,323.9 580.2,336.6 580.3,330.1 580.4,312.6 580.4,332.6 580.5,299.5 580.6,320.2 580.6,311.1 580.7,329.3 580.8,326.3 580.8,325.8 580.9,316.6 581.0,328.0 581.1,329.6 581.1,323.9 581.2,320.8 581.3,320.5 581.3,315.2 581.4,331.1 581.5,336.6 581.5,312.2 581.6,321.4 581.7,311.2 581.7,326.4 581.8,331.2 581.9,337.1 581.9,333.4 582.0,335.4 582.1,324.2 582.2,331.8 582.2,326.5 582.3,352.0 582.4,332.3 582.4,320.4 582.5,338.2 582.6,351.2 582.6,325.0 582.7,335.7 582.8,330.3 582.8,340.7 582.9,318.1 583.0,336.7 583.0,314.9 583.1,334.5 583.2,328.1 583.2,321.5 583.3,307.8 583.4,343.7 583.5,344.4 583.5,310.7 583.6,332.8 583.7,340.4 583.7,326.0 583.8,338.2 583.9,339.4 583.9,324.0 584.0,308.9 584.1,327.9 584.1,330.2 584.2,336.4 584.3,326.3 584.3,358.7 584.4,338.9 584.5,343.3 584.6,313.7 584.6,326.9 584.7,343.8 584.8,333.7 584.8,324.6 584.9,320.6 585.0,341.3 585.0,335.6 585.1,344.3 585.2,333.0 585.2,322.2 585.3,356.1 585.4,340.1 585.4,340.5 585.5,316.4 585.6,347.2 585.7,324.5 585.7,316.2 585.8,325.4 585.9,335.1 585.9,321.5 586.0,338.3 586.1,323.0 586.1,312.4 586.2,320.3 586.3,309.8 586.3,348.5 586.4,333.0 586.5,318.9 586.5,327.7 586.6,308.7 586.7,298.4 586.7,316.2 586.8,329.9 586.9,309.3 587.0,314.0 587.0,328.4 587.1,331.2 587.2,314.5 587.2,316.5 587.3,353.4 587.4,342.3 587.4,317.7 587.5,344.7 587.6,328.9 587.6,316.5 587.7,330.2 587.8,320.6 587.8,326.8 587.9,330.6 588.0,327.6 588.1,312.4 588.1,319.2 588.2,322.9 588.3,301.6 588.3,326.2 588.4,322.6 588.5,318.4 588.5,320.0 588.6,321.0 588.7,344.6 588.7,313.8 588.8,316.8 588.9,333.9 588.9,320.7 589.0,325.4 589.1,330.9 589.2,308.4 589.2,298.6 589.3,325.2 589.4,329.7 589.4,324.6 589.5,339.9 589.6,312.3 589.6,332.4 589.7,320.6 589.8,324.0 589.8,327.5 589.9,325.2 590.0,330.6 590.0,324.8 590.1,324.2 590.2,340.3 590.2,333.6 590.3,339.8 590.4,340.5 590.5,335.6 590.5,336.3 590.6,328.0 590.7,326.4 590.7,314.8 590.8,320.3 590.9,316.5 590.9,340.4 591.0,324.4 591.1,317.7 591.1,318.8 591.2,337.4 591.3,325.4 591.3,352.6 591.4,346.6 591.5,346.6 591.6,332.2 591.6,340.3 591.7,317.7 591.8,332.1 591.8,334.7 591.9,337.8 592.0,337.6 592.0,355.9 592.1,326.1 592.2,316.8 592.2,331.6 592.3,334.2 592.4,327.4 592.4,347.8 592.5,315.3 592.6,351.9 592.7,339.0 592.7,341.2 592.8,339.0 592.9,340.1 592.9,331.0 593.0,344.5 593.1,319.4 593.1,337.9 593.2,342.1 593.3,334.4 593.3,345.4 593.4,347.9 593.5,330.2 593.5,341.9 593.6,349.0 593.7,345.5 593.7,343.9 593.8,332.0 593.9,323.2 594.0,332.9 594.0,334.1 594.1,340.0 594.2,349.7 594.2,341.9 594.3,351.3 594.4,331.4 594.4,325.4 594.5,329.7 594.6,353.4 594.6,336.3 594.7,328.7 594.8,338.6 594.8,337.8 594.9,318.3 595.0,321.9 595.1,341.1 595.1,324.8 595.2,345.0 595.3,328.0 595.3,322.6 595.4,343.5 595.5,335.4 595.5,346.7 595.6,329.3 595.7,317.2 595.7,357.4 595.8,340.7 595.9,314.6 595.9,341.0 596.0,335.1 596.1,327.0 596.2,339.3 596.2,330.4 596.3,328.7 596.4,338.2 596.4,329.7 596.5,339.5 596.6,337.8 596.6,335.7 596.7,340.5 596.8,333.7 596.8,319.2 596.9,327.8 597.0,317.8 597.0,335.5 597.1,328.7 597.2,340.0 597.2,332.5 597.3,336.6 597.4,323.1 597.5,344.5 597.5,332.9 597.6,342.1 597.7,331.2 597.7,325.9 597.8,346.6 597.9,322.4 597.9,337.8 598.0,351.1 598.1,323.2 598.1,330.0 598.2,323.0 598.3,323.7 598.3,332.9 598.4,321.4 598.5,342.5 598.6,328.3 598.6,340.7 598.7,328.2 598.8,345.8 598.8,325.0 598.9,343.1 599.0,350.8 599.0,329.1 599.1,333.4 599.2,351.6 599.2,335.7 599.3,334.4 599.4,327.6 599.4,341.3 599.5,327.7 599.6,346.5 599.7,327.5 599.7,324.2 599.8,328.1 599.9,333.8 599.9,343.1 600.0,328.0 600.1,332.8 600.1,329.9 600.2,316.5 600.3,349.0 600.3,324.2 600.4,321.9 600.5,345.5 600.5,342.6 600.6,325.7 600.7,332.3 600.8,323.7 600.8,316.4 600.9,338.1 601.0,326.0 601.0,353.8 601.1,329.5 601.2,329.4 601.2,321.8 601.3,360.2 601.4,344.4 601.4,326.9 601.5,334.8 601.6,347.3 601.6,317.4 601.7,325.2 601.8,337.3 601.8,339.7 601.9,343.1 602.0,333.9 602.1,327.6 602.1,337.6 602.2,337.2 602.3,337.2 602.3,330.9 602.4,345.0 602.5,355.6 602.5,344.5 602.6,333.8 602.7,342.6 602.7,334.7 602.8,343.5 602.9,337.1 602.9,325.9 603.0,336.6 603.1,307.9 603.2,329.2 603.2,316.3 603.3,342.7 603.4,318.9 603.4,311.8 603.5,327.1 603.6,323.4 603.6,345.8 603.7,335.4 603.8,358.3 603.8,343.1 603.9,323.6 604.0,359.6 604.0,337.1 604.1,323.1 604.2,321.9 604.3,336.9 604.3,340.5 604.4,331.8 604.5,332.9 604.5,321.9 604.6,330.8 604.7,344.8 604.7,333.9 604.8,338.1 604.9,333.9 604.9,347.9 605.0,341.3 605.1,339.5 605.1,343.9 605.2,338.3 605.3,338.6 605.3,340.5 605.4,329.6 605.5,335.3 605.6,340.6 605.6,345.0 605.7,349.8 605.8,349.4 605.8,350.2 605.9,354.5 606.0,345.5 606.0,327.4 606.1,339.4 606.2,350.8 606.2,340.9 606.3,338.1 606.4,342.3 606.4,339.7 606.5,334.5 606.6,345.3 606.7,344.1 606.7,340.8 606.8,338.3 606.9,347.2 606.9,346.1 607.0,325.2 607.1,336.5 607.1,349.5 607.2,330.9 607.3,321.9 607.3,344.6 607.4,336.3 607.5,341.8 607.5,322.9 607.6,349.9 607.7,334.9 607.8,333.4 607.8,338.9 607.9,342.2 608.0,331.4 608.0,336.7 608.1,342.7 608.2,326.8 608.2,335.7 608.3,337.0 608.4,327.0 608.4,329.5 608.5,343.2 608.6,337.7 608.6,331.6 608.7,317.7 608.8,348.1 608.8,335.4 608.9,341.4 609.0,346.1 609.1,337.5 609.1,335.7 609.2,338.7 609.3,328.6 609.3,342.4 609.4,328.6 609.5,346.5 609.5,336.7 609.6,326.5 609.7,338.9 609.7,348.4 609.8,352.4 609.9,348.9 609.9,348.3 610.0,342.3 610.1,358.7 610.2,350.4 610.2,339.0 610.3,352.8 610.4,341.4 610.4,346.0 610.5,334.7 610.6,348.9 610.6,328.5 610.7,337.2 610.8,331.3 610.8,338.3 610.9,347.3 611.0,324.3 611.0,343.8 611.1,338.9 611.2,348.9 611.3,341.2 611.3,349.0 611.4,344.8 611.5,345.0 611.5,317.7 611.6,334.3 611.7,328.9 611.7,345.1 611.8,332.8 611.9,319.8 611.9,335.7 612.0,353.0 612.1,332.9 612.1,346.9 612.2,333.5 612.3,330.9 612.3,335.4 612.4,350.1 612.5,339.8 612.6,322.6 612.6,336.6 612.7,327.4 612.8,338.7 612.8,340.7 612.9,333.0 613.0,347.3 613.0,329.9 613.1,342.3 613.2,339.1 613.2,345.0 613.3,338.4 613.4,335.5 613.4,348.6 613.5,327.4 613.6,326.7 613.7,343.1 613.7,322.6 613.8,337.1 613.9,354.0 613.9,332.2 614.0,334.9 614.1,329.8 614.1,339.1 614.2,333.1 614.3,332.6 614.3,339.3 614.4,355.8 614.5,351.6 614.5,342.2 614.6,355.1 614.7,351.1 614.8,335.5 614.8,360.2 614.9,346.7 615.0,338.6 615.0,341.3 615.1,339.3 615.2,355.5 615.2,326.8 615.3,336.0 615.4,348.7 615.4,337.9 615.5,346.5 615.6,331.1 615.6,349.5 615.7,344.5 615.8,326.0 615.8,334.5 615.9,342.1 616.0,343.5 616.1,336.9 616.1,334.7 616.2,339.1 616.3,322.0 616.3,327.6 616.4,334.7 616.5,351.9 616.5,335.0 616.6,347.9 616.7,348.5 616.7,326.7 616.8,341.5 616.9,335.5 616.9,337.4 617.0,345.5 617.1,346.7 617.2,343.3 617.2,344.8 617.3,363.1 617.4,352.2 617.4,345.3 617.5,339.8 617.6,345.3 617.6,348.7 617.7,354.7 617.8,356.4 617.8,353.8 617.9,356.9 618.0,355.7 618.0,349.8 618.1,360.6 618.2,362.1 618.3,355.1 618.3,351.2 618.4,345.8 618.5,351.0 618.5,347.6 618.6,357.2 618.7,340.0 618.7,344.8 618.8,356.3 618.9,342.9 618.9,348.1 619.0,342.1 619.1,355.8 619.1,342.3 619.2,344.5 619.3,334.8 619.3,345.1 619.4,361.7 619.5,341.5 619.6,343.0 619.6,341.2 619.7,343.5 619.8,358.3 619.8,340.4 619.9,350.3 620.0,335.5 620.0,344.9 620.1,352.1 620.2,337.5 620.2,333.5 620.3,349.3 620.4,341.8 620.4,361.4 620.5,349.0 620.6,341.7 620.7,348.6 620.7,327.0 620.8,339.2 620.9,349.3 620.9,327.4 621.0,344.9 621.1,325.7 621.1,340.8 621.2,332.2 621.3,335.7 621.3,337.9 621.4,326.2 621.5,332.7 621.5,354.8 621.6,339.7 621.7,321.7 621.8,333.1 621.8,346.3 621.9,332.3 622.0,336.4 622.0,350.4 622.1,346.7 622.2,334.8 622.2,338.4 622.3,332.1 622.4,349.3 622.4,333.2 622.5,320.9 622.6,332.8 622.6,337.0 622.7,326.5 622.8,342.1 622.8,358.1 622.9,340.4 623.0,282.8 623.1,328.9 623.1,324.6 623.2,339.0 623.3,344.1 623.3,332.6 623.4,333.1 623.5,334.5 623.5,337.7 623.6,344.8 623.7,342.1 623.7,344.5 623.8,334.4 623.9,323.6 623.9,349.0 624.0,331.4 624.1,345.2 624.2,338.9 624.2,328.4 624.3,349.4 624.4,336.2 624.4,317.8 624.5,329.1 624.6,348.1 624.6,318.9 624.7,329.4 624.8,337.5 624.8,333.2 624.9,327.8 625.0,315.3 625.0,330.1 625.1,333.6 625.2,326.0 625.3,347.9 625.3,337.2 625.4,328.4 625.5,347.5 625.5,328.9 625.6,325.8 625.7,333.2 625.7,336.0 625.8,315.5 625.9,328.3 625.9,329.9 626.0,332.9 626.1,328.9 626.1,321.1 626.2,320.8 626.3,338.3 626.3,334.9 626.4,325.4 626.5,333.6 626.6,330.7 626.6,325.2 626.7,336.2 626.8,329.9 626.8,336.9 626.9,323.8 627.0,324.1 627.0,317.8 627.1,335.5 627.2,330.5 627.2,309.3 627.3,348.7 627.4,314.6 627.4,341.1 627.5,320.8 627.6,308.3 627.7,322.2 627.7,334.9 627.8,328.7 627.9,355.5 627.9,335.9 628.0,328.4 628.1,330.1 628.1,343.8 628.2,326.6 628.3,317.9 628.3,332.8 628.4,334.3 628.5,339.3 628.5,314.9 628.6,328.0 628.7,322.8 628.8,328.3 628.8,331.5 628.9,325.1 629.0,326.8 629.0,332.8 629.1,332.9 629.2,330.8 629.2,332.4 629.3,339.8 629.4,330.2 629.4,344.3 629.5,333.6 629.6,335.4 629.6,331.4 629.7,332.0 629.8,346.6 629.8,315.8 629.9,345.6 630.0,331.3 630.1,357.2 630.1,350.2 630.2,345.6 630.3,334.5 630.3,330.7 630.4,355.9 630.5,330.7 630.5,338.4 630.6,334.7 630.7,327.8 630.7,308.2 630.8,308.9 630.9,314.4 630.9,323.4 631.0,310.0 631.1,314.6 631.2,344.8 631.2,340.8 631.3,330.2 631.4,336.9 631.4,326.9 631.5,316.1 631.6,330.2 631.6,334.3 631.7,348.3 631.8,334.1 631.8,347.6 631.9,342.6 632.0,326.9 632.0,333.4 632.1,329.3 632.2,337.3 632.3,335.7 632.3,332.5 632.4,347.3 632.5,335.5 632.5,343.5 632.6,336.5 632.7,321.0 632.7,349.3 632.8,315.3 632.9,331.1 632.9,332.6 633.0,316.2 633.1,311.6 633.1,323.7 633.2,351.2 633.3,338.4 633.3,335.5 633.4,328.3 633.5,321.3 633.6,327.5 633.6,309.8 633.7,312.1 633.8,314.7 633.8,338.2 633.9,315.7 634.0,341.3 634.0,333.2 634.1,335.0 634.2,331.8 634.2,326.5 634.3,340.8 634.4,344.5 634.4,330.3 634.5,318.1 634.6,333.2 634.7,339.1 634.7,340.9 634.8,352.3 634.9,336.7 634.9,332.9 635.0,343.9 635.1,329.2 635.1,338.4 635.2,327.4 635.3,327.1 635.3,321.3 635.4,324.4 635.5,340.9 635.5,322.0 635.6,337.4 635.7,313.9 635.8,336.7 635.8,335.9 635.9,314.7 636.0,337.2 636.0,343.0 636.1,339.4 636.2,335.1 636.2,338.0 636.3,340.3 636.4,323.0 636.4,326.3 636.5,338.0 636.6,326.0 636.6,326.9 636.7,335.4 636.8,342.5 636.8,317.2 636.9,322.9 637.0,318.4 637.1,313.7 637.1,345.8 637.2,326.1 637.3,325.6 637.3,336.1 637.4,318.3 637.5,335.3 637.5,316.6 637.6,329.1 637.7,312.3 637.7,318.8 637.8,328.0 637.9,319.6 637.9,324.3 638.0,318.8 638.1,334.7 638.2,339.0 638.2,332.6 638.3,327.8 638.4,316.4 638.4,344.0 638.5,324.7 638.6,329.6 638.6,320.9 638.7,318.8 638.8,332.0 638.8,321.3 638.9,329.2 639.0,335.1 639.0,316.2 639.1,326.6 639.2,319.8 639.3,317.9 639.3,307.7 639.4,348.4 639.5,315.2 639.5,311.5 639.6,317.9 639.7,316.3 639.7,336.3 639.8,350.4 639.9,310.9 639.9,321.6 640.0,330.3 640.1,336.0 640.1,344.9 640.2,328.1 640.3,323.7 640.3,335.2 640.4,329.6 640.5,342.3 640.6,341.6 640.6,324.3 640.7,329.8 640.8,345.1 640.8,332.1 640.9,330.9 641.0,335.9 641.0,329.7 641.1,327.8 641.2,331.4 641.2,320.0 641.3,344.6 641.4,313.8 641.4,327.6 641.5,327.3 641.6,323.4 641.7,321.7 641.7,333.5 641.8,320.0 641.9,324.8 641.9,321.1 642.0,333.0 642.1,323.8 642.1,327.5 642.2,337.1 642.3,337.7 642.3,321.8 642.4,322.8 642.5,321.8 642.5,315.7 642.6,324.5 642.7,307.4 642.8,321.6 642.8,321.6 642.9,313.7 643.0,317.0 643.0,319.8 643.1,340.3 643.2,328.0 643.2,346.4 643.3,323.2 643.4,328.5 643.4,336.7 643.5,329.0 643.6,329.7 643.6,309.1 643.7,337.8 643.8,316.7 643.8,346.4 643.9,325.2 644.0,308.3 644.1,322.7 644.1,328.6 644.2,344.9 644.3,326.7 644.3,345.4 644.4,323.6 644.5,326.2 644.5,319.9 644.6,330.7 644.7,306.8 644.7,326.5 644.8,312.4 644.9,338.5 644.9,314.2 645.0,338.1 645.1,331.4 645.2,358.8 645.2,343.0 645.3,330.1 645.4,328.2 645.4,329.8 645.5,335.5 645.6,336.5 645.6,309.2 645.7,312.3 645.8,334.5 645.8,322.9 645.9,339.0 646.0,318.5 646.0,316.2 646.1,325.7 646.2,320.4 646.3,336.7 646.3,334.7 646.4,327.6 646.5,344.2 646.5,329.3 646.6,316.8 646.7,353.2 646.7,313.4 646.8,316.0 646.9,335.1 646.9,317.5 647.0,340.8 647.1,330.4 647.1,337.7 647.2,332.2 647.3,342.8 647.3,333.6 647.4,330.8 647.5,327.6 647.6,324.2 647.6,342.7 647.7,339.8 647.8,321.8 647.8,330.5 647.9,314.5 648.0,326.9 648.0,327.2 648.1,345.4 648.2,338.9 648.2,333.0 648.3,330.7 648.4,325.4 648.4,333.3 648.5,350.1 648.6,324.6 648.7,331.9 648.7,338.2 648.8,314.4 648.9,328.8 648.9,314.6 649.0,341.2 649.1,351.9 649.1,325.3 649.2,338.1 649.3,320.1 649.3,345.2 649.4,336.9 649.5,336.2 649.5,322.6 649.6,336.8 649.7,336.9 649.8,340.7 649.8,334.6 649.9,330.3 650.0,335.2 650.0,332.3 650.1,362.3 650.2,345.8 650.2,324.3 650.3,320.8 650.4,333.5 650.4,320.7 650.5,347.1 650.6,344.9 650.6,330.7 650.7,340.3 650.8,342.7 650.9,324.3 650.9,323.5 651.0,333.5 651.1,351.1 651.1,323.9 651.2,328.8 651.3,343.9 651.3,343.9 651.4,320.2 651.5,316.0 651.5,329.2 651.6,325.3 651.7,314.1 651.7,327.2 651.8,328.6 651.9,326.3 651.9,329.2 652.0,335.3 652.1,317.1 652.2,337.7 652.2,320.1 652.3,331.4 652.4,320.7 652.4,349.7 652.5,308.7 652.6,318.7 652.6,325.0 652.7,333.0 652.8,344.4 652.8,323.3 652.9,311.5 653.0,334.7 653.0,330.4 653.1,327.4 653.2,321.2 653.3,314.9 653.3,327.6 653.4,333.8 653.5,300.6 653.5,335.1 653.6,332.8 653.7,329.5 653.7,331.6 653.8,320.7 653.9,337.2 653.9,315.8 654.0,338.6 654.1,336.7 654.1,313.8 654.2,332.0 654.3,324.2 654.4,333.4 654.4,326.8 654.5,335.5 654.6,313.4 654.6,347.2 654.7,337.9 654.8,337.1 654.8,317.4 654.9,346.4 655.0,346.5 655.0,320.4 655.1,329.5 655.2,336.5 655.2,337.3 655.3,337.5 655.4,332.2 655.4,331.3 655.5,332.5 655.6,336.0 655.7,344.8 655.7,346.8 655.8,340.0 655.9,330.8 655.9,312.5 656.0,336.3 656.1,344.6 656.1,328.1 656.2,338.0 656.3,322.1 656.3,292.2 656.4,325.0 656.5,330.7 656.5,336.2 656.6,327.5 656.7,323.4 656.8,340.9 656.8,339.2 656.9,344.4 657.0,351.9 657.0,344.9 657.1,354.8 657.2,340.3 657.2,321.9 657.3,335.7 657.4,322.7 657.4,333.0 657.5,310.4 657.6,333.4 657.6,335.9 657.7,342.6 657.8,334.5 657.9,337.4 657.9,329.5 658.0,343.7 658.1,339.9 658.1,343.1 658.2,334.9 658.3,325.2 658.3,331.1 658.4,327.7 658.5,323.4 658.5,328.4 658.6,321.4 658.7,317.8 658.7,346.3 658.8,346.1 658.9,337.3 658.9,338.3 659.0,331.1 659.1,345.6 659.2,328.5 659.2,327.4 659.3,328.9 659.4,329.0 659.4,322.8 659.5,339.5 659.6,340.5 659.6,341.8 659.7,327.0 659.8,326.2 659.8,348.8 659.9,350.8 660.0,328.7 660.0,343.9 660.1,345.4 660.2,323.7 660.3,324.5 660.3,334.5 660.4,344.7 660.5,318.8 660.5,309.9 660.6,308.7 660.7,328.1 660.7,333.9 660.8,332.0 660.9,335.2 660.9,351.5 661.0,341.4 661.1,326.7 661.1,326.0 661.2,345.0 661.3,331.1 661.4,349.9 661.4,326.3 661.5,344.4 661.6,329.3 661.6,330.7 661.7,327.2 661.8,346.6 661.8,360.0 661.9,338.6 662.0,337.0 662.0,338.9 662.1,355.1 662.2,341.5 662.2,327.2 662.3,331.9 662.4,339.9 662.4,327.4 662.5,330.8 662.6,318.6 662.7,322.4 662.7,337.4 662.8,329.5 662.9,332.4 662.9,328.2 663.0,319.8 663.1,327.0 663.1,327.9 663.2,342.2 663.3,339.8 663.3,320.8 663.4,323.4 663.5,335.8 663.5,332.9 663.6,336.8 663.7,316.7 663.8,336.4 663.8,345.7 663.9,343.9 664.0,329.1 664.0,342.8 664.1,321.9 664.2,329.3 664.2,324.4 664.3,333.5 664.4,324.2 664.4,314.4 664.5,337.7 664.6,334.5 664.6,334.9 664.7,339.2 664.8,310.9 664.9,326.6 664.9,321.6 665.0,334.8 665.1,341.9 665.1,352.2 665.2,329.9 665.3,340.6 665.3,330.8 665.4,332.9 665.5,331.6 665.5,311.2 665.6,339.9 665.7,332.2 665.7,334.3 665.8,343.8 665.9,333.9 665.9,331.1 666.0,343.7 666.1,327.5 666.2,337.8 666.2,328.3 666.3,322.3 666.4,322.0 666.4,308.9 666.5,331.6 666.6,340.4 666.6,323.1 666.7,326.0 666.8,336.2 666.8,340.4 666.9,348.1 667.0,338.9 667.0,337.5 667.1,333.1 667.2,322.4 667.3,342.3 667.3,352.6 667.4,326.0 667.5,323.5 667.5,330.2 667.6,339.7 667.7,336.6 667.7,338.2 667.8,312.8 667.9,346.8 667.9,330.1 668.0,321.0 668.1,325.3 668.1,329.7 668.2,322.5 668.3,327.1 668.4,337.9 668.4,323.7 668.5,329.6 668.6,343.3 668.6,323.9 668.7,321.0 668.8,340.0 668.8,343.0 668.9,310.5 669.0,330.8 669.0,333.7 669.1,335.9 669.2,320.6 669.2,333.2 669.3,339.2 669.4,332.1 669.4,332.4 669.5,338.2 669.6,327.1 669.7,343.0 669.7,333.0 669.8,336.0 669.9,350.1 669.9,344.4 670.0,349.1 670.1,343.2 670.1,334.6 670.2,325.8 670.3,346.8 670.3,333.0 670.4,349.6 670.5,324.7 670.5,333.7 670.6,343.3 670.7,340.9 670.8,330.0 670.8,337.6 670.9,312.1 671.0,320.8 671.0,341.9 671.1,335.4 671.2,313.1 671.2,327.7 671.3,341.3 671.4,329.9 671.4,333.2 671.5,325.4 671.6,326.4 671.6,332.2 671.7,326.1 671.8,321.4 671.9,322.4 671.9,316.2 672.0,343.3 672.1,340.3 672.1,324.9 672.2,326.4 672.3,316.4 672.3,332.0 672.4,326.8" fill="none" stroke="#000" stroke-width="0.5" stroke-linejoin="round"/>
<path d="M425.4,342.3 425.5,362.0 425.5,344.9 425.6,343.9 425.7,361.4 425.7,359.5 425.8,353.1 425.9,361.4 425.9,347.0 426.0,364.7 426.1,343.8 426.2,346.4 426.2,345.7 426.3,329.0 426.4,348.0 426.4,332.8 426.5,349.1 426.6,346.8 426.6,352.9 426.7,352.3 426.8,353.9 426.8,347.2 426.9,336.9 427.0,366.2 427.0,344.5 427.1,353.1 427.2,352.8 427.3,358.5 427.3,357.7 427.4,348.1 427.5,343.0 427.5,350.5 427.6,376.1 427.7,352.2 427.7,345.7 427.8,332.7 427.9,348.0 427.9,373.9 428.0,355.3 428.1,353.2 428.1,354.0 428.2,357.8 428.3,351.6 428.4,359.3 428.4,357.8 428.5,365.2 428.6,369.1 428.6,375.8 428.7,353.5 428.8,374.8 428.8,361.9 428.9,369.0 429.0,366.2 429.0,350.5 429.1,375.2 429.2,370.3 429.2,371.3 429.3,362.0 429.4,362.3 429.4,346.8 429.5,351.6 429.6,349.8 429.7,336.0 429.7,361.6 429.8,352.0 429.9,368.3 429.9,363.4 430.0,362.7 430.1,361.9 430.1,355.6 430.2,369.7 430.3,352.9 430.3,363.4 430.4,375.9 430.5,359.4 430.5,358.4 430.6,349.8 430.7,353.2 430.8,371.2 430.8,371.9 430.9,346.1 431.0,357.5 431.0,356.3 431.1,354.2 431.2,371.5 431.2,348.5 431.3,342.9 431.4,370.6 431.4,353.4 431.5,366.9 431.6,352.1 431.6,365.3 431.7,372.6 431.8,360.3 431.9,361.3 431.9,371.0 432.0,375.2 432.1,371.4 432.1,368.2 432.2,367.6 432.3,366.8 432.3,366.3 432.4,346.8 432.5,366.5 432.5,368.7 432.6,362.6 432.7,345.0 432.7,355.2 432.8,362.1 432.9,347.8 432.9,358.1 433.0,368.8 433.1,361.4 433.2,349.8 433.2,357.2 433.3,356.7 433.4,358.4 433.4,366.0 433.5,381.6 433.6,372.3 433.6,351.0 433.7,374.1 433.8,339.9 433.8,355.7 433.9,369.1 434.0,361.9 434.0,347.9 434.1,375.4 434.2,354.3 434.3,373.3 434.3,345.1 434.4,374.5 434.5,342.8 434.5,369.0 434.6,355.4 434.7,343.9 434.7,357.4 434.8,356.7 434.9,364.5 434.9,351.0 435.0,348.7 435.1,354.7 435.1,366.1 435.2,359.1 435.3,377.8 435.4,347.2 435.4,348.8 435.5,374.0 435.6,374.0 435.6,346.0 435.7,342.2 435.8,339.8 435.8,363.4 435.9,354.3 436.0,371.7 436.0,353.3 436.1,367.0 436.2,373.4 436.2,351.5 436.3,346.7 436.4,355.3 436.4,363.8 436.5,370.2 436.6,374.3 436.7,371.3 436.7,356.5 436.8,362.4 436.9,378.5 436.9,352.6 437.0,349.6 437.1,369.1 437.1,351.7 437.2,355.4 437.3,379.3 437.3,356.3 437.4,374.5 437.5,384.0 437.5,367.9 437.6,352.7 437.7,351.9 437.8,371.2 437.8,373.5 437.9,364.9 438.0,346.3 438.0,364.8 438.1,359.4 438.2,379.7 438.2,387.6 438.3,369.0 438.4,345.7 438.4,381.3 438.5,365.7 438.6,349.4 438.6,374.0 438.7,357.0 438.8,362.2 438.9,360.7 438.9,345.9 439.0,352.8 439.1,341.7 439.1,360.3 439.2,356.9 439.3,363.5 439.3,335.5 439.4,360.8 439.5,374.4 439.5,348.8 439.6,377.5 439.7,355.3 439.7,354.7 439.8,366.1 439.9,373.4 439.9,359.9 440.0,382.8 440.1,348.9 440.2,359.0 440.2,370.0 440.3,360.5 440.4,355.4 440.4,362.5 440.5,356.4 440.6,352.4 440.6,376.2 440.7,341.3 440.8,383.8 440.8,358.2 440.9,357.4 441.0,344.3 441.0,356.3 441.1,346.4 441.2,358.7 441.3,362.3 441.3,348.2 441.4,363.7 441.5,352.0 441.5,357.7 441.6,378.0 441.7,364.0 441.7,353.8 441.8,360.2 441.9,365.4 441.9,363.2 442.0,375.2 442.1,367.0 442.1,348.4 442.2,361.5 442.3,371.3 442.4,373.2 442.4,356.7 442.5,365.1 442.6,367.8 442.6,364.0 442.7,361.2 442.8,347.3 442.8,367.0 442.9,366.7 443.0,367.7 443.0,373.7 443.1,389.2 443.2,362.3 443.2,371.4 443.3,379.6 443.4,356.7 443.4,389.4 443.5,376.8 443.6,353.8 443.7,363.4 443.7,358.6 443.8,357.8 443.9,376.7 443.9,361.6 444.0,347.8 444.1,344.1 444.1,366.2 444.2,359.0 444.3,357.2 444.3,353.7 444.4,363.1 444.5,370.9 444.5,360.7 444.6,375.3 444.7,356.6 444.8,363.8 444.8,338.8 444.9,378.4 445.0,348.8 445.0,343.5 445.1,357.6 445.2,378.7 445.2,371.3 445.3,371.2 445.4,350.9 445.4,373.3 445.5,360.1 445.6,364.9 445.6,370.4 445.7,379.2 445.8,370.1 445.9,374.2 445.9,359.6 446.0,365.0 446.1,350.3 446.1,355.0 446.2,340.9 446.3,359.4 446.3,363.8 446.4,358.0 446.5,343.6 446.5,342.6 446.6,352.4 446.7,357.4 446.7,366.6 446.8,340.2 446.9,355.6 446.9,367.9 447.0,348.6 447.1,346.3 447.2,373.4 447.2,376.4 447.3,347.2 447.4,368.5 447.4,359.3 447.5,355.5 447.6,354.3 447.6,373.7 447.7,364.4 447.8,352.6 447.8,336.5 447.9,356.2 448.0,357.9 448.0,346.6 448.1,372.0 448.2,344.5 448.3,372.9 448.3,360.1 448.4,367.2 448.5,346.3 448.5,366.0 448.6,352.1 448.7,359.5 448.7,336.0 448.8,333.0 448.9,366.1 448.9,349.1 449.0,355.3 449.1,338.0 449.1,364.2 449.2,355.1 449.3,342.4 449.4,359.9 449.4,350.4 449.5,354.6 449.6,355.0 449.6,366.8 449.7,353.0 449.8,346.0 449.8,346.6 449.9,341.1 450.0,354.3 450.0,353.9 450.1,346.2 450.2,341.2 450.2,337.7 450.3,348.3 450.4,363.0 450.5,352.1 450.5,351.4 450.6,357.1 450.7,362.0 450.7,354.0 450.8,352.8 450.9,350.6 450.9,355.6 451.0,358.1 451.1,361.0 451.1,361.4 451.2,366.4 451.3,357.9 451.3,359.8 451.4,350.0 451.5,355.8 451.5,363.5 451.6,345.5 451.7,359.5 451.8,356.2 451.8,365.3 451.9,357.4 452.0,343.7 452.0,377.3 452.1,357.7 452.2,339.2 452.2,360.7 452.3,369.2 452.4,351.0 452.4,363.1 452.5,352.5 452.6,369.4 452.6,340.5 452.7,351.4 452.8,352.7 452.9,367.8 452.9,368.2 453.0,361.8 453.1,345.0 453.1,329.1 453.2,358.8 453.3,365.7 453.3,347.4 453.4,344.6 453.5,352.1 453.5,363.0 453.6,364.8 453.7,365.0 453.7,338.3 453.8,345.9 453.9,364.5 454.0,357.1 454.0,383.8 454.1,370.9 454.2,368.2 454.2,364.3 454.3,355.6 454.4,358.0 454.4,370.0 454.5,349.0 454.6,351.8 454.6,365.3 454.7,363.1 454.8,360.4 454.8,381.2 454.9,372.8 455.0,372.7 455.0,374.4 455.1,374.3 455.2,347.1 455.3,366.2 455.3,354.4 455.4,345.7 455.5,374.1 455.5,360.2 455.6,356.9 455.7,366.1 455.7,383.5 455.8,369.4 455.9,359.4 455.9,369.0 456.0,389.6 456.1,366.2 456.1,360.3 456.2,360.9 456.3,379.7 456.4,363.0 456.4,349.9 456.5,377.1 456.6,353.7 456.6,372.7 456.7,372.5 456.8,369.2 456.8,344.4 456.9,346.3 457.0,357.6 457.0,359.8 457.1,365.7 457.2,368.1 457.2,369.2 457.3,382.8 457.4,356.5 457.5,368.4 457.5,362.5 457.6,365.6 457.7,382.3 457.7,390.6 457.8,372.2 457.9,384.5 457.9,371.5 458.0,359.8 458.1,359.5 458.1,364.0 458.2,359.2 458.3,371.8 458.3,371.3 458.4,371.9 458.5,357.4 458.5,349.6 458.6,385.7 458.7,375.2 458.8,348.6 458.8,353.0 458.9,343.4 459.0,363.0 459.0,370.7 459.1,366.2 459.2,363.8 459.2,368.8 459.3,371.8 459.4,364.4 459.4,363.5 459.5,353.0 459.6,381.9 459.6,362.3 459.7,374.8 459.8,374.5 459.9,377.3 459.9,353.3 460.0,392.6 460.1,372.6 460.1,374.8 460.2,363.8 460.3,367.6 460.3,379.5 460.4,367.2 460.5,383.8 460.5,380.9 460.6,363.8 460.7,349.0 460.7,355.6 460.8,379.6 460.9,369.8 461.0,363.4 461.0,372.2 461.1,370.2 461.2,381.5 461.2,382.8 461.3,375.1 461.4,371.9 461.4,377.4 461.5,367.0 461.6,377.8 461.6,379.9 461.7,363.1 461.8,368.4 461.8,371.5 461.9,365.1 462.0,349.4 462.0,356.2 462.1,361.8 462.2,352.7 462.3,380.2 462.3,385.6 462.4,382.3 462.5,355.3 462.5,370.5 462.6,355.8 462.7,376.6 462.7,381.4 462.8,384.7 462.9,380.6 462.9,373.2 463.0,368.1 463.1,376.4 463.1,353.2 463.2,365.0 463.3,380.5 463.4,371.8 463.4,354.4 463.5,373.0 463.6,351.5 463.6,373.5 463.7,367.8 463.8,381.5 463.8,377.5 463.9,384.3 464.0,365.7 464.0,373.3 464.1,368.9 464.2,374.6 464.2,365.7 464.3,386.6 464.4,373.1 464.5,369.7 464.5,363.5 464.6,356.1 464.7,364.9 464.7,368.6 464.8,395.9 464.9,381.7 464.9,378.4 465.0,374.7 465.1,366.8 465.1,373.9 465.2,357.5 465.3,369.2 465.3,352.8 465.4,373.9 465.5,368.2 465.5,385.0 465.6,370.7 465.7,363.0 465.8,351.2 465.8,370.0 465.9,373.6 466.0,378.8 466.0,380.7 466.1,369.1 466.2,367.9 466.2,382.1 466.3,372.2 466.4,375.5 466.4,386.5 466.5,387.0 466.6,368.9 466.6,377.1 466.7,372.3 466.8,371.3 466.9,373.8 466.9,372.0 467.0,379.2 467.1,381.6 467.1,385.0 467.2,381.8 467.3,391.2 467.3,373.2 467.4,380.1 467.5,371.0 467.5,365.5 467.6,380.1 467.7,374.4 467.7,378.9 467.8,369.6 467.9,356.3 468.0,391.4 468.0,371.8 468.1,349.1 468.2,376.8 468.2,361.3 468.3,369.0 468.4,372.8 468.4,376.4 468.5,358.1 468.6,384.1 468.6,379.3 468.7,382.9 468.8,392.2 468.8,371.8 468.9,379.6 469.0,358.7 469.0,391.5 469.1,373.1 469.2,377.8 469.3,366.6 469.3,377.5 469.4,376.9 469.5,382.6 469.5,368.9 469.6,369.8 469.7,386.6 469.7,355.2 469.8,371.7 469.9,370.5 469.9,361.7 470.0,362.4 470.1,366.3 470.1,377.1 470.2,382.4 470.3,354.2 470.4,372.1 470.4,403.6 470.5,371.9 470.6,376.7 470.6,382.3 470.7,379.7 470.8,382.7 470.8,393.0 470.9,370.2 471.0,377.7 471.0,378.7 471.1,388.6 471.2,368.5 471.2,365.9 471.3,380.7 471.4,366.2 471.5,366.1 471.5,378.0 471.6,355.9 471.7,362.0 471.7,372.2 471.8,365.6 471.9,366.2 471.9,377.2 472.0,381.4 472.1,374.1 472.1,374.2 472.2,361.3 472.3,367.9 472.3,380.9 472.4,365.0 472.5,359.8 472.5,391.0 472.6,374.5 472.7,362.3 472.8,357.9 472.8,367.8 472.9,370.2 473.0,362.4 473.0,367.1 473.1,357.4 473.2,362.1 473.2,374.5 473.3,389.5 473.4,397.5 473.4,383.4 473.5,378.9 473.6,385.4 473.6,380.5 473.7,372.7 473.8,385.3 473.9,376.2 473.9,394.0 474.0,369.3 474.1,382.8 474.1,382.9 474.2,366.4 474.3,370.6 474.3,360.1 474.4,359.2 474.5,365.2 474.5,373.8 474.6,378.9 474.7,378.9 474.7,382.5 474.8,376.0 474.9,370.3 475.0,370.5 475.0,385.7 475.1,369.9 475.2,388.9 475.2,384.2 475.3,365.9 475.4,375.8 475.4,365.0 475.5,377.4 475.6,367.8 475.6,384.6 475.7,383.4 475.8,378.8 475.8,380.3 475.9,387.4 476.0,382.0 476.0,373.1 476.1,377.1 476.2,372.5 476.3,366.5 476.3,362.6 476.4,367.9 476.5,348.7 476.5,357.1 476.6,381.1 476.7,353.9 476.7,361.5 476.8,369.6 476.9,372.6 476.9,383.1 477.0,394.3 477.1,370.0 477.1,379.9 477.2,362.0 477.3,389.0 477.4,367.7 477.4,366.1 477.5,376.6 477.6,364.6 477.6,370.4 477.7,360.6 477.8,379.3 477.8,374.2 477.9,347.0 478.0,365.7 478.0,352.4 478.1,371.6 478.2,356.3 478.2,357.5 478.3,368.6 478.4,349.9 478.5,382.9 478.5,353.2 478.6,350.8 478.7,358.3 478.7,361.2 478.8,356.9 478.9,369.8 478.9,356.1 479.0,373.5 479.1,373.7 479.1,359.6 479.2,362.1 479.3,345.6 479.3,364.1 479.4,361.5 479.5,355.2 479.5,366.7 479.6,355.4 479.7,372.9 479.8,333.2 479.8,355.5 479.9,343.1 480.0,361.0 480.0,356.7 480.1,357.3 480.2,363.9 480.2,373.7 480.3,354.1 480.4,364.9 480.4,359.1 480.5,363.4 480.6,386.7 480.6,355.9 480.7,350.0 480.8,367.5 480.9,357.0 480.9,363.0 481.0,347.7 481.1,351.5 481.1,362.9 481.2,363.9 481.3,359.5 481.3,354.3 481.4,361.0 481.5,342.0 481.5,356.5 481.6,346.4 481.7,339.1 481.7,370.0 481.8,356.0 481.9,380.9 482.0,349.6 482.0,347.6 482.1,359.7 482.2,370.1 482.2,347.2 482.3,358.3 482.4,357.2 482.4,352.1 482.5,367.0 482.6,367.8 482.6,344.6 482.7,341.2 482.8,367.9 482.8,368.8 482.9,358.3 483.0,339.0 483.0,339.7 483.1,349.0 483.2,369.3 483.3,348.1 483.3,356.4 483.4,371.5 483.5,377.7 483.5,371.6 483.6,351.2 483.7,360.6 483.7,377.3 483.8,360.2 483.9,375.0 483.9,371.6 484.0,361.4 484.1,365.6 484.1,375.6 484.2,353.4 484.3,348.7 484.4,354.4 484.4,375.9 484.5,363.0 484.6,346.2 484.6,366.2 484.7,355.4 484.8,364.2 484.8,358.3 484.9,358.9 485.0,357.3 485.0,344.1 485.1,363.0 485.2,362.3 485.2,376.6 485.3,353.7 485.4,357.5 485.5,359.1 485.5,356.1 485.6,358.3 485.7,368.7 485.7,362.4 485.8,345.0 485.9,363.2 485.9,353.5 486.0,361.5 486.1,349.1 486.1,360.1 486.2,355.6 486.3,348.7 486.3,369.1 486.4,355.7 486.5,368.0 486.5,338.2 486.6,363.8 486.7,335.8 486.8,326.9 486.8,353.7 486.9,339.6 487.0,364.9 487.0,349.8 487.1,353.9 487.2,317.5 487.2,367.8 487.3,365.1 487.4,333.5 487.4,362.2 487.5,353.0 487.6,339.4 487.6,323.8 487.7,365.7 487.8,346.4 487.9,343.3 487.9,328.7 488.0,342.7 488.1,357.0 488.1,353.6 488.2,368.0 488.3,355.5 488.3,355.4 488.4,330.6 488.5,345.4 488.5,351.5 488.6,349.3 488.7,343.8 488.7,350.2 488.8,348.6 488.9,340.7 489.0,374.6 489.0,344.1 489.1,357.2 489.2,361.7 489.2,372.2 489.3,355.1 489.4,359.8 489.4,364.8 489.5,361.7 489.6,371.3 489.6,379.6 489.7,349.6 489.8,359.1 489.8,373.8 489.9,349.6 490.0,353.4 490.0,371.2 490.1,357.2 490.2,359.9 490.3,355.9 490.3,369.3 490.4,365.3 490.5,375.8 490.5,355.0 490.6,348.6 490.7,373.2 490.7,366.6 490.8,373.4 490.9,357.1 490.9,374.5 491.0,381.7 491.1,378.7 491.1,372.9 491.2,362.2 491.3,367.0 491.4,379.1 491.4,356.7 491.5,360.4 491.6,357.7 491.6,364.5 491.7,352.2 491.8,359.5 491.8,350.2 491.9,355.4 492.0,352.7 492.0,366.7 492.1,350.2 492.2,380.8 492.2,351.2 492.3,366.5 492.4,356.5 492.5,382.4 492.5,366.8 492.6,379.4 492.7,370.2 492.7,374.4 492.8,377.1 492.9,372.9 492.9,351.8 493.0,378.2 493.1,363.2 493.1,376.8 493.2,359.0 493.3,375.9 493.3,375.4 493.4,364.7 493.5,362.6 493.5,365.1 493.6,373.8 493.7,364.4 493.8,358.1 493.8,384.5 493.9,367.8 494.0,354.4 494.0,356.2 494.1,375.8 494.2,363.7 494.2,361.2 494.3,357.0 494.4,370.8 494.4,359.7 494.5,372.2 494.6,374.3 494.6,384.8 494.7,344.0 494.8,378.7 494.9,383.1 494.9,383.3 495.0,368.7 495.1,364.3 495.1,379.0 495.2,368.4 495.3,366.0 495.3,382.3 495.4,387.4 495.5,384.3 495.5,374.7 495.6,375.5 495.7,357.9 495.7,378.4 495.8,366.8 495.9,378.2 496.0,373.2 496.0,344.8 496.1,377.9 496.2,366.6 496.2,357.5 496.3,378.9 496.4,376.8 496.4,368.2 496.5,358.9 496.6,360.2 496.6,380.6 496.7,376.8 496.8,386.5 496.8,388.7 496.9,397.9 497.0,376.2 497.0,395.9 497.1,399.9 497.2,372.5 497.3,398.3 497.3,383.1 497.4,355.0 497.5,360.9 497.5,373.0 497.6,357.0 497.7,380.2 497.7,376.7 497.8,351.5 497.9,354.8 497.9,382.2 498.0,371.6 498.1,368.6 498.1,375.9 498.2,388.5 498.3,379.0 498.4,357.6 498.4,365.8 498.5,374.8 498.6,392.3 498.6,352.6 498.7,356.4 498.8,376.7 498.8,363.6 498.9,359.3 499.0,387.1 499.0,393.1 499.1,390.1 499.2,367.5 499.2,376.3 499.3,378.4 499.4,360.7 499.5,385.3 499.5,397.6 499.6,379.2 499.7,381.3 499.7,378.8 499.8,397.2 499.9,389.2 499.9,381.1 500.0,386.4 500.1,394.8 500.1,379.4 500.2,378.5 500.3,383.5 500.3,384.4 500.4,386.6 500.5,381.4 500.6,406.4 500.6,383.6 500.7,374.6 500.8,377.1 500.8,388.6 500.9,402.0 501.0,370.6 501.0,392.4 501.1,377.7 501.2,404.2 501.2,385.2 501.3,356.4 501.4,397.9 501.4,383.4 501.5,397.3 501.6,381.5 501.6,387.4 501.7,385.3 501.8,400.6 501.9,373.1 501.9,376.6 502.0,385.2 502.1,409.3 502.1,393.6 502.2,380.4 502.3,389.5 502.3,364.8 502.4,389.2 502.5,381.9 502.5,388.6 502.6,400.1 502.7,390.4 502.7,383.1 502.8,381.8 502.9,376.7 503.0,390.2 503.0,384.5 503.1,402.2 503.2,373.1 503.2,374.0 503.3,392.2 503.4,376.7 503.4,380.8 503.5,397.8 503.6,386.8 503.6,401.4 503.7,413.1 503.8,388.1 503.8,386.5 503.9,384.3 504.0,378.4 504.1,396.3 504.1,391.5 504.2,400.4 504.3,375.7 504.3,376.6 504.4,385.7 504.5,385.3 504.5,381.7 504.6,406.1 504.7,369.7 504.7,395.8 504.8,386.7 504.9,407.5 504.9,383.7 505.0,409.7 505.1,391.1 505.1,386.7 505.2,388.7 505.3,382.8 505.4,394.8 505.4,392.5 505.5,405.9 505.6,395.0 505.6,384.2 505.7,398.8 505.8,401.5 505.8,387.3 505.9,383.5 506.0,409.9 506.0,387.4 506.1,385.8 506.2,399.2 506.2,403.1 506.3,418.4 506.4,422.7 506.5,389.6 506.5,402.9 506.6,409.8 506.7,403.0 506.7,378.8 506.8,399.8 506.9,408.1 506.9,407.5 507.0,416.1 507.1,411.8 507.1,388.4 507.2,394.0 507.3,399.9 507.3,400.3 507.4,408.9 507.5,386.8 507.6,381.2 507.6,414.9 507.7,414.5 507.8,389.3 507.8,410.1 507.9,411.9 508.0,387.4 508.0,408.5 508.1,418.7 508.2,389.5 508.2,361.1 508.3,413.4 508.4,390.8 508.4,380.5 508.5,383.3 508.6,406.7 508.6,386.2 508.7,380.1 508.8,383.6 508.9,377.1 508.9,404.4 509.0,395.5 509.1,366.2 509.1,382.5 509.2,387.0 509.3,403.9 509.3,380.7 509.4,397.0 509.5,392.0 509.5,404.9 509.6,386.7 509.7,377.6 509.7,387.1 509.8,377.1 509.9,394.5 510.0,388.3 510.0,380.4 510.1,390.7 510.2,374.2 510.2,379.8 510.3,361.4 510.4,401.5 510.4,397.0 510.5,393.5 510.6,376.9 510.6,395.7 510.7,386.1 510.8,362.4 510.8,406.0 510.9,403.9 511.0,378.6 511.1,403.0 511.1,398.8 511.2,393.6 511.3,396.1 511.3,406.1 511.4,410.3 511.5,405.5 511.5,410.7 511.6,405.3 511.7,392.9 511.7,406.6 511.8,392.9 511.9,437.2 511.9,359.8 512.0,385.7 512.1,383.7 512.1,408.9 512.2,355.5 512.3,377.0 512.4,384.5 512.4,361.5 512.5,399.0 512.6,384.9 512.6,393.4 512.7,400.1 512.8,390.7 512.8,376.5 512.9,389.8 513.0,388.2 513.0,382.3 513.1,369.7 513.2,364.7 513.2,399.8 513.3,374.5 513.4,367.0 513.5,375.4 513.5,363.8 513.6,387.2 513.7,373.8 513.7,371.7 513.8,375.9 513.9,374.0 513.9,365.2 514.0,364.0 514.1,372.2 514.1,388.9 514.2,385.1 514.3,378.7 514.3,357.8 514.4,399.5 514.5,371.2 514.6,395.5 514.6,387.3 514.7,380.8 514.8,370.3 514.8,368.5 514.9,380.8 515.0,392.2 515.0,372.3 515.1,372.4 515.2,371.4 515.2,385.8 515.3,391.8 515.4,371.7 515.4,370.2 515.5,389.2 515.6,371.7 515.6,379.4 515.7,387.3 515.8,372.9 515.9,369.2 515.9,378.7 516.0,371.6 516.1,364.4 516.1,368.7 516.2,383.8 516.3,365.6 516.3,380.9 516.4,380.3 516.5,372.0 516.5,375.9 516.6,374.6 516.7,363.5 516.7,362.7 516.8,359.6 516.9,376.0 517.0,390.4 517.0,360.7 517.1,373.3 517.2,362.6 517.2,374.5 517.3,382.1 517.4,368.4 517.4,365.9 517.5,382.5 517.6,373.0 517.6,369.6 517.7,389.0 517.8,381.9 517.8,366.3 517.9,372.8 518.0,376.4 518.1,375.4 518.1,382.0 518.2,350.5 518.3,377.3 518.3,393.5 518.4,346.4 518.5,368.5 518.5,374.2 518.6,373.1 518.7,376.8 518.7,381.9 518.8,366.5 518.9,382.2 518.9,391.6 519.0,354.2 519.1,380.4 519.1,385.1 519.2,386.1 519.3,397.2 519.4,388.1 519.4,363.9 519.5,383.8 519.6,377.5 519.6,379.8 519.7,360.8 519.8,377.5 519.8,366.5 519.9,372.4 520.0,372.7 520.0,368.4 520.1,368.6 520.2,357.4 520.2,382.8 520.3,367.6 520.4,380.5 520.5,385.7 520.5,377.4 520.6,380.8 520.7,372.4 520.7,372.9 520.8,373.2 520.9,368.2 520.9,365.2 521.0,396.7 521.1,373.4 521.1,370.1 521.2,364.5 521.3,365.1 521.3,370.3 521.4,370.0 521.5,368.5 521.6,358.5 521.6,385.1 521.7,384.4 521.8,352.8 521.8,377.9 521.9,371.8 522.0,362.5 522.0,375.0 522.1,393.3 522.2,387.3 522.2,366.6 522.3,366.0 522.4,379.6 522.4,368.6 522.5,376.3 522.6,386.8 522.6,368.6 522.7,376.7 522.8,383.6 522.9,366.3 522.9,382.5 523.0,376.8 523.1,358.9 523.1,366.7 523.2,364.6 523.3,354.1 523.3,350.9 523.4,382.9 523.5,361.9 523.5,386.2 523.6,376.6 523.7,388.4 523.7,376.3 523.8,379.6 523.9,376.3 524.0,363.9 524.0,358.7 524.1,376.2 524.2,371.6 524.2,376.6 524.3,387.5 524.4,371.7 524.4,388.8 524.5,358.0 524.6,368.4 524.6,374.8 524.7,371.9 524.8,362.7 524.8,384.9 524.9,372.1 525.0,369.5 525.1,350.6 525.1,363.5 525.2,359.4 525.3,365.5 525.3,366.8 525.4,358.2 525.5,367.8 525.5,389.7 525.6,383.6 525.7,353.6 525.7,362.0 525.8,369.3 525.9,363.0 525.9,379.6 526.0,386.8 526.1,393.5 526.1,387.5 526.2,384.1 526.3,376.4 526.4,388.3 526.4,382.6 526.5,373.0 526.6,376.0 526.6,362.0 526.7,372.7 526.8,380.6 526.8,358.0 526.9,368.5 527.0,361.9 527.0,352.7 527.1,374.7 527.2,363.4 527.2,370.8 527.3,367.3 527.4,366.1 527.5,367.2 527.5,389.9 527.6,374.2 527.7,369.7 527.7,358.0 527.8,371.7 527.9,395.6 527.9,361.6 528.0,368.2 528.1,362.1 528.1,374.7 528.2,373.6 528.3,371.0 528.3,359.8 528.4,364.0 528.5,366.1 528.6,379.9 528.6,372.2 528.7,382.9 528.8,373.3 528.8,380.8 528.9,370.2 529.0,374.1 529.0,367.8 529.1,368.8 529.2,380.6 529.2,384.7 529.3,358.1 529.4,369.2 529.4,371.3 529.5,382.4 529.6,367.0 529.6,375.5 529.7,355.3 529.8,357.9 529.9,365.1 529.9,361.7 530.0,343.4 530.1,365.7 530.1,372.9 530.2,385.4 530.3,356.2 530.3,380.7 530.4,366.6 530.5,386.4 530.5,366.4 530.6,383.7 530.7,348.4 530.7,361.2 530.8,375.7 530.9,371.5 531.0,374.1 531.0,373.8 531.1,365.9 531.2,358.9 531.2,373.7 531.3,371.6 531.4,383.8 531.4,344.3 531.5,385.0 531.6,361.4 531.6,366.7 531.7,370.2 531.8,372.3 531.8,390.1 531.9,378.6 532.0,376.4 532.1,360.3 532.1,374.2 532.2,380.2 532.3,382.9 532.3,369.5 532.4,368.2 532.5,369.1 532.5,363.3 532.6,371.8 532.7,392.0 532.7,381.7 532.8,355.0 532.9,365.9 532.9,374.3 533.0,372.9 533.1,366.4 533.1,385.5 533.2,384.4 533.3,383.9 533.4,383.7 533.4,368.4 533.5,386.9 533.6,366.7 533.6,374.2 533.7,373.1 533.8,367.4 533.8,364.9 533.9,390.6 534.0,388.8 534.0,371.2 534.1,384.9 534.2,393.8 534.2,386.9 534.3,382.7 534.4,369.1 534.5,387.1 534.5,362.3 534.6,378.1 534.7,375.0 534.7,361.5 534.8,377.4 534.9,382.5 534.9,368.6 535.0,365.8 535.1,368.7 535.1,356.3 535.2,372.6 535.3,381.6 535.3,372.7 535.4,376.9 535.5,376.3 535.6,381.7 535.6,389.0 535.7,378.2 535.8,369.8 535.8,386.0 535.9,364.1 536.0,379.2 536.0,391.9 536.1,370.8 536.2,374.1 536.2,360.9 536.3,372.4 536.4,368.7 536.4,374.3 536.5,385.7 536.6,382.2 536.6,369.1 536.7,377.0 536.8,380.4 536.9,394.7 536.9,388.1 537.0,365.7 537.1,359.9 537.1,367.1 537.2,385.1 537.3,381.8 537.3,375.7 537.4,373.7 537.5,375.3 537.5,375.0 537.6,376.2 537.7,376.3 537.7,387.4 537.8,364.7 537.9,393.1 538.0,380.6 538.0,382.4 538.1,386.4 538.2,395.9 538.2,388.7 538.3,363.7 538.4,388.8 538.4,377.7 538.5,379.6 538.6,357.5 538.6,379.5 538.7,376.6 538.8,372.5 538.8,362.0 538.9,362.6 539.0,370.7 539.1,378.6 539.1,382.5 539.2,385.2 539.3,370.2 539.3,393.8 539.4,362.4 539.5,354.6 539.5,372.0 539.6,378.8 539.7,374.3 539.7,372.1 539.8,385.9 539.9,382.4 539.9,376.6 540.0,369.3 540.1,387.2 540.1,351.9 540.2,384.2 540.3,391.9 540.4,370.9 540.4,374.0 540.5,384.6 540.6,378.8 540.6,385.3 540.7,355.8 540.8,381.6 540.8,371.7 540.9,368.4 541.0,381.2 541.0,366.9 541.1,351.4 541.2,360.0 541.2,387.0 541.3,361.6 541.4,374.5 541.5,358.8 541.5,374.3 541.6,361.8 541.7,359.0 541.7,367.3 541.8,371.3 541.9,369.9 541.9,369.8 542.0,385.6 542.1,372.1 542.1,375.3 542.2,373.4 542.3,376.6 542.3,369.5 542.4,381.6 542.5,378.3 542.6,375.1 542.6,363.3 542.7,373.5 542.8,366.9 542.8,380.6 542.9,375.4 543.0,371.9 543.0,373.0 543.1,366.9 543.2,383.4 543.2,384.2 543.3,363.6 543.4,374.2 543.4,365.5 543.5,355.8 543.6,379.2 543.6,370.3 543.7,371.5 543.8,389.0 543.9,375.6 543.9,382.6 544.0,363.9 544.1,374.7 544.1,375.4 544.2,360.0 544.3,369.1 544.3,367.2 544.4,360.6 544.5,356.6 544.5,382.4 544.6,390.6 544.7,372.1 544.7,381.8 544.8,362.0 544.9,365.8 545.0,366.7 545.0,372.1 545.1,379.4 545.2,363.1 545.2,342.1 545.3,368.1 545.4,358.2 545.4,391.6 545.5,378.4 545.6,369.5 545.6,376.3 545.7,370.5 545.8,368.9 545.8,382.3 545.9,394.5 546.0,390.7 546.1,360.1 546.1,381.6 546.2,375.3 546.3,365.8 546.3,388.3 546.4,363.7 546.5,379.7 546.5,372.9 546.6,378.5 546.7,368.7 546.7,382.0 546.8,378.5 546.9,370.2 546.9,383.9 547.0,377.3 547.1,356.6 547.1,364.1 547.2,352.1 547.3,369.5 547.4,374.8 547.4,354.6 547.5,362.7 547.6,395.4 547.6,389.1 547.7,383.0 547.8,401.3 547.8,394.1 547.9,373.5 548.0,368.6 548.0,396.9 548.1,379.7 548.2,379.8 548.2,372.6 548.3,374.8 548.4,380.4 548.5,368.8 548.5,391.0 548.6,388.2 548.7,390.1 548.7,387.4 548.8,360.2 548.9,388.2 548.9,377.8 549.0,381.3 549.1,383.0 549.1,355.6 549.2,380.0 549.3,379.6 549.3,361.3 549.4,362.2 549.5,382.8 549.6,375.5 549.6,368.5 549.7,367.9 549.8,373.4 549.8,366.7 549.9,375.1 550.0,350.5 550.0,368.1 550.1,367.2 550.2,379.1 550.2,363.8 550.3,362.5 550.4,385.2 550.4,367.9 550.5,363.7 550.6,384.7 550.7,377.4 550.7,371.3 550.8,376.7 550.9,366.0 550.9,379.9 551.0,390.2 551.1,373.4 551.1,378.3 551.2,378.7 551.3,363.9 551.3,389.8 551.4,381.1 551.5,367.4 551.5,383.3 551.6,389.3 551.7,364.9 551.7,360.8 551.8,385.5 551.9,377.5 552.0,375.1 552.0,374.6 552.1,358.5 552.2,378.8 552.2,373.8 552.3,372.0 552.4,388.0 552.4,370.3 552.5,381.2 552.6,365.8 552.6,362.6 552.7,371.7 552.8,386.0 552.8,395.4 552.9,379.8 553.0,367.6 553.1,383.2 553.1,379.9 553.2,371.0 553.3,357.5 553.3,366.5 553.4,373.6 553.5,385.6 553.5,364.9 553.6,364.3 553.7,372.6 553.7,374.0 553.8,378.9 553.9,387.5 553.9,372.5 554.0,379.8 554.1,369.0 554.2,372.8 554.2,352.0 554.3,377.5 554.4,363.7 554.4,370.7 554.5,389.2 554.6,362.5 554.6,369.1 554.7,379.2 554.8,368.1 554.8,379.7 554.9,376.8 555.0,393.5 555.0,374.0 555.1,374.1 555.2,368.1 555.2,371.6 555.3,378.0 555.4,372.4 555.5,374.7 555.5,378.9 555.6,376.6 555.7,369.0 555.7,365.7 555.8,366.5 555.9,393.4 555.9,368.3 556.0,386.0 556.1,374.0 556.1,363.2 556.2,379.8 556.3,387.7 556.3,387.8 556.4,363.3 556.5,391.6 556.6,365.0 556.6,359.0 556.7,384.6 556.8,370.2 556.8,364.6 556.9,361.7 557.0,357.0 557.0,387.2 557.1,377.5 557.2,374.2 557.2,367.3 557.3,372.6 557.4,377.3 557.4,377.8 557.5,371.9 557.6,381.9 557.7,383.7 557.7,365.9 557.8,377.1 557.9,385.7 557.9,370.9 558.0,386.4 558.1,355.1 558.1,361.1 558.2,368.7 558.3,382.7 558.3,360.1 558.4,363.4 558.5,391.8 558.5,382.3 558.6,393.2 558.7,370.7 558.7,375.5 558.8,375.3 558.9,387.0 559.0,381.6 559.0,385.7 559.1,381.6 559.2,380.4 559.2,371.2 559.3,386.7 559.4,371.7 559.4,379.3 559.5,366.6 559.6,376.6 559.6,394.9 559.7,374.5 559.8,398.0 559.8,350.0 559.9,361.2 560.0,382.2 560.1,385.7 560.1,387.1 560.2,379.4 560.3,376.4 560.3,388.4 560.4,377.1 560.5,404.1 560.5,388.8 560.6,384.0 560.7,387.6 560.7,378.6 560.8,398.1 560.9,379.5 560.9,386.2 561.0,379.9 561.1,387.9 561.2,375.7 561.2,369.1 561.3,381.1 561.4,387.1 561.4,387.0 561.5,394.2 561.6,385.0 561.6,385.6 561.7,387.8 561.8,399.1 561.8,389.9 561.9,376.9 562.0,380.6 562.0,405.9 562.1,385.1 562.2,401.7 562.2,387.5 562.3,387.6 562.4,367.2 562.5,382.5 562.5,388.8 562.6,375.1 562.7,378.0 562.7,358.4 562.8,380.6 562.9,366.3 562.9,378.4 563.0,356.7 563.1,372.9 563.1,372.8 563.2,357.5 563.3,382.3 563.3,372.4 563.4,386.2 563.5,386.4 563.6,385.8 563.6,389.7 563.7,369.7 563.8,367.2 563.8,374.4 563.9,381.0 564.0,373.3 564.0,379.1 564.1,379.6 564.2,392.3 564.2,378.7 564.3,394.8 564.4,383.3 564.4,386.6 564.5,379.4 564.6,384.9 564.7,391.2 564.7,403.5 564.8,390.5 564.9,370.5 564.9,381.8 565.0,381.6 565.1,367.0 565.1,378.8 565.2,392.5 565.3,377.3 565.3,394.2 565.4,373.1 565.5,396.0 565.5,392.4 565.6,384.9 565.7,402.7 565.7,388.1 565.8,387.9 565.9,397.0 566.0,380.7 566.0,387.4 566.1,383.8 566.2,384.7 566.2,399.0 566.3,404.7 566.4,392.5 566.4,366.9 566.5,394.9 566.6,377.1 566.6,386.7 566.7,390.3 566.8,374.3 566.8,399.3 566.9,374.8 567.0,391.7 567.1,387.9 567.1,377.3 567.2,392.6 567.3,366.1 567.3,398.4 567.4,383.7 567.5,383.0 567.5,397.5 567.6,391.0 567.7,400.6 567.7,377.3 567.8,380.7 567.9,398.0 567.9,388.6 568.0,387.6 568.1,393.9 568.2,367.9 568.2,373.8 568.3,385.4 568.4,375.5 568.4,398.9 568.5,379.0 568.6,400.8 568.6,403.4 568.7,411.5 568.8,376.2 568.8,385.5 568.9,385.0 569.0,388.0 569.0,406.6 569.1,367.0 569.2,368.7 569.2,385.0 569.3,384.5 569.4,382.1 569.5,359.6 569.5,384.2 569.6,379.8 569.7,380.6 569.7,379.0 569.8,395.9 569.9,384.5 569.9,393.1 570.0,381.7 570.1,376.4 570.1,382.5 570.2,359.6 570.3,377.7 570.3,385.7 570.4,399.5 570.5,366.7 570.6,376.1 570.6,386.9 570.7,361.1 570.8,380.4 570.8,377.9 570.9,354.9 571.0,365.7 571.0,370.6 571.1,358.0 571.2,378.7 571.2,394.4 571.3,392.2 571.4,393.1 571.4,377.5 571.5,366.9 571.6,376.9 571.7,368.9 571.7,378.6 571.8,379.1 571.9,384.0 571.9,370.6 572.0,381.7 572.1,392.8 572.1,371.8 572.2,379.3 572.3,393.2 572.3,402.8 572.4,370.6 572.5,383.4 572.5,372.0 572.6,371.4 572.7,369.3 572.7,383.3 572.8,362.1 572.9,368.2 573.0,364.6 573.0,357.5 573.1,364.6 573.2,371.4 573.2,378.0 573.3,383.9 573.4,374.0 573.4,365.8 573.5,379.6 573.6,366.5 573.6,374.4 573.7,383.9 573.8,376.0 573.8,369.8 573.9,373.9 574.0,362.9 574.1,388.6 574.1,362.8 574.2,366.3 574.3,360.3 574.3,364.0 574.4,363.2 574.5,361.6 574.5,389.7 574.6,362.2 574.7,359.5 574.7,369.7 574.8,359.4 574.9,344.3 574.9,385.7 575.0,375.8 575.1,357.7 575.2,362.5 575.2,362.4 575.3,385.9 575.4,363.9 575.4,354.5 575.5,373.1 575.6,374.2 575.6,366.0 575.7,375.3 575.8,360.8 575.8,377.0 575.9,383.1 576.0,366.4 576.0,367.0 576.1,364.6 576.2,376.2 576.2,363.1 576.3,360.5 576.4,361.8 576.5,363.9 576.5,364.3 576.6,363.6 576.7,369.5 576.7,344.4 576.8,375.1 576.9,368.5 576.9,362.7 577.0,383.9 577.1,360.1 577.1,375.5 577.2,373.1 577.3,355.9 577.3,354.7 577.4,385.9 577.5,366.9 577.6,361.7 577.6,352.6 577.7,364.9 577.8,379.9 577.8,349.5 577.9,368.0 578.0,373.0 578.0,382.1 578.1,369.3 578.2,371.8 578.2,393.8 578.3,388.4 578.4,378.7 578.4,369.6 578.5,367.3 578.6,379.9 578.7,364.0 578.7,358.1 578.8,347.1 578.9,382.1 578.9,364.8 579.0,384.1 579.1,376.3 579.1,377.2 579.2,368.3 579.3,352.3 579.3,370.7 579.4,374.5 579.5,353.6 579.5,360.1 579.6,360.4 579.7,368.9 579.7,362.0 579.8,389.5 579.9,372.5 580.0,373.5 580.0,376.7 580.1,358.7 580.2,376.5 580.2,366.8 580.3,371.6 580.4,364.0 580.4,362.2 580.5,360.3 580.6,375.8 580.6,361.8 580.7,366.7 580.8,347.2 580.8,367.4 580.9,369.5 581.0,374.8 581.1,379.8 581.1,377.7 581.2,359.9 581.3,389.9 581.3,364.0 581.4,366.7 581.5,365.4 581.5,359.2 581.6,361.9 581.7,370.1 581.7,351.1 581.8,370.7 581.9,353.5 581.9,380.3 582.0,370.5 582.1,349.5 582.2,358.2 582.2,373.8 582.3,368.9 582.4,379.7 582.4,362.0 582.5,373.4 582.6,361.9 582.6,358.0 582.7,377.1 582.8,362.4 582.8,382.0 582.9,349.2 583.0,359.8 583.0,374.7 583.1,369.0 583.2,387.9 583.2,361.8 583.3,367.3 583.4,368.9 583.5,366.5 583.5,376.4 583.6,366.5 583.7,375.3 583.7,364.8 583.8,375.5 583.9,364.0 583.9,357.7 584.0,385.7 584.1,374.7 584.1,360.2 584.2,369.0 584.3,362.2 584.3,372.0 584.4,354.2 584.5,354.0 584.6,381.2 584.6,380.4 584.7,352.9 584.8,362.9 584.8,374.0 584.9,358.0 585.0,344.6 585.0,376.3 585.1,372.4 585.2,382.4 585.2,384.9 585.3,365.9 585.4,371.6 585.4,360.0 585.5,373.2 585.6,373.1 585.7,377.8 585.7,364.1 585.8,374.2 585.9,368.1 585.9,355.6 586.0,351.1 586.1,377.3 586.1,372.4 586.2,373.1 586.3,380.3 586.3,397.5 586.4,369.2 586.5,357.3 586.5,377.6 586.6,377.2 586.7,376.3 586.7,392.5 586.8,395.7 586.9,392.7 587.0,385.0 587.0,389.6 587.1,396.5 587.2,373.9 587.2,386.9 587.3,390.4 587.4,377.6 587.4,373.6 587.5,380.8 587.6,382.2 587.6,374.9 587.7,374.0 587.8,377.3 587.8,385.1 587.9,370.8 588.0,376.8 588.1,376.9 588.1,381.5 588.2,372.9 588.3,364.2 588.3,361.4 588.4,372.5 588.5,368.2 588.5,382.7 588.6,392.2 588.7,359.8 588.7,377.2 588.8,371.7 588.9,384.4 588.9,388.4 589.0,394.1 589.1,379.9 589.2,390.6 589.2,390.8 589.3,388.0 589.4,376.6 589.4,407.0 589.5,375.6 589.6,390.5 589.6,392.4 589.7,381.3 589.8,404.1 589.8,389.5 589.9,395.4 590.0,383.2 590.0,384.8 590.1,385.9 590.2,390.4 590.2,375.7 590.3,378.3 590.4,405.2 590.5,379.9 590.5,379.7 590.6,382.5 590.7,401.0 590.7,392.2 590.8,396.9 590.9,375.6 590.9,373.8 591.0,393.1 591.1,396.5 591.1,384.6 591.2,398.4 591.3,374.5 591.3,374.2 591.4,374.2 591.5,400.2 591.6,390.2 591.6,403.4 591.7,361.9 591.8,389.1 591.8,379.7 591.9,376.4 592.0,387.1 592.0,386.4 592.1,389.0 592.2,385.5 592.2,395.4 592.3,375.1 592.4,391.8 592.4,391.0 592.5,377.3 592.6,372.5 592.7,397.9 592.7,386.3 592.8,370.7 592.9,394.4 592.9,396.5 593.0,364.0 593.1,358.7 593.1,377.4 593.2,376.3 593.3,387.1 593.3,385.0 593.4,378.4 593.5,371.3 593.5,385.4 593.6,371.6 593.7,376.7 593.7,380.9 593.8,362.8 593.9,377.3 594.0,374.4 594.0,380.7 594.1,385.4 594.2,387.0 594.2,364.5 594.3,365.8 594.4,377.3 594.4,375.8 594.5,385.6 594.6,372.8 594.6,368.9 594.7,360.1 594.8,375.9 594.8,376.6 594.9,353.0 595.0,378.1 595.1,383.7 595.1,369.4 595.2,385.9 595.3,388.2 595.3,385.5 595.4,381.1 595.5,385.0 595.5,380.9 595.6,373.8 595.7,378.8 595.7,364.3 595.8,374.8 595.9,369.3 595.9,363.3 596.0,361.5 596.1,368.8 596.2,366.2 596.2,383.0 596.3,357.6 596.4,377.3 596.4,365.7 596.5,374.6 596.6,374.8 596.6,368.4 596.7,370.6 596.8,365.9 596.8,371.3 596.9,380.7 597.0,382.0 597.0,388.9 597.1,375.2 597.2,371.4 597.2,370.1 597.3,374.9 597.4,367.4 597.5,367.9 597.5,347.3 597.6,368.2 597.7,377.7 597.7,377.3 597.8,376.7 597.9,363.9 597.9,367.8 598.0,369.7 598.1,373.0 598.1,371.3 598.2,374.0 598.3,383.1 598.3,378.0 598.4,366.8 598.5,356.1 598.6,368.7 598.6,377.6 598.7,370.8 598.8,384.4 598.8,378.3 598.9,383.5 599.0,370.5 599.0,364.4 599.1,361.6 599.2,375.7 599.2,387.1 599.3,365.2 599.4,369.4 599.4,358.7 599.5,363.9 599.6,356.1 599.7,363.1 599.7,368.1 599.8,348.1 599.9,370.9 599.9,373.9 600.0,367.9 600.1,349.0 600.1,359.8 600.2,362.3 600.3,369.2 600.3,370.6 600.4,354.1 600.5,368.7 600.5,347.7 600.6,372.8 600.7,356.7 600.8,336.7 600.8,346.3 600.9,365.8 601.0,346.4 601.0,369.2 601.1,364.7 601.2,350.3 601.2,351.0 601.3,365.7 601.4,359.3 601.4,365.2 601.5,385.2 601.6,365.0 601.6,373.5 601.7,381.6 601.8,368.5 601.8,373.7 601.9,378.7 602.0,369.9 602.1,383.0 602.1,365.5 602.2,354.0 602.3,364.4 602.3,375.3 602.4,371.3 602.5,370.1 602.5,379.4 602.6,363.9 602.7,367.7 602.7,371.3 602.8,378.3 602.9,372.6 602.9,390.6 603.0,378.0 603.1,346.6 603.2,342.0 603.2,360.3 603.3,359.0 603.4,353.2 603.4,354.9 603.5,364.5 603.6,368.8 603.6,379.1 603.7,362.7 603.8,352.9 603.8,365.8 603.9,373.6 604.0,362.5 604.0,364.9 604.1,371.5 604.2,366.1 604.3,351.4 604.3,368.7 604.4,359.8 604.5,359.2 604.5,359.5 604.6,361.1 604.7,362.3 604.7,368.8 604.8,373.5 604.9,367.2 604.9,368.8 605.0,370.2 605.1,359.8 605.1,356.7 605.2,379.9 605.3,367.2 605.3,353.7 605.4,382.7 605.5,360.4 605.6,370.3 605.6,388.9 605.7,352.0 605.8,379.9 605.8,352.0 605.9,381.4 606.0,374.0 606.0,366.3 606.1,359.8 606.2,370.7 606.2,371.2 606.3,372.0 606.4,362.8 606.4,359.7 606.5,357.0 606.6,360.5 606.7,372.3 606.7,362.9 606.8,365.8 606.9,369.6 606.9,371.9 607.0,366.2 607.1,369.6 607.1,344.9 607.2,379.2 607.3,346.6 607.3,360.3 607.4,368.4 607.5,366.1 607.5,376.0 607.6,362.8 607.7,362.4 607.8,365.8 607.8,376.2 607.9,366.0 608.0,379.0 608.0,369.4 608.1,360.6 608.2,374.2 608.2,365.8 608.3,349.3 608.4,374.5 608.4,383.2 608.5,377.7 608.6,382.0 608.6,356.7 608.7,372.1 608.8,366.7 608.8,376.7 608.9,369.9 609.0,373.7 609.1,377.7 609.1,355.2 609.2,368.7 609.3,380.8 609.3,364.4 609.4,364.7 609.5,380.5 609.5,375.5 609.6,361.8 609.7,377.8 609.7,368.7 609.8,368.5 609.9,369.1 609.9,376.6 610.0,367.3 610.1,366.7 610.2,376.3 610.2,349.5 610.3,380.1 610.4,370.8 610.4,374.5 610.5,363.5 610.6,359.3 610.6,388.3 610.7,375.8 610.8,366.9 610.8,368.7 610.9,356.0 611.0,367.0 611.0,380.5 611.1,370.6 611.2,372.9 611.3,372.8 611.3,366.5 611.4,380.6 611.5,373.2 611.5,383.6 611.6,366.3 611.7,389.8 611.7,381.3 611.8,371.8 611.9,384.8 611.9,366.5 612.0,373.3 612.1,378.5 612.1,381.1 612.2,377.5 612.3,365.4 612.3,368.8 612.4,364.6 612.5,377.2 612.6,374.5 612.6,368.8 612.7,365.4 612.8,369.6 612.8,385.8 612.9,378.9 613.0,365.0 613.0,381.7 613.1,375.4 613.2,379.4 613.2,361.6 613.3,371.4 613.4,370.5 613.4,361.0 613.5,380.8 613.6,378.2 613.7,359.8 613.7,384.1 613.8,368.6 613.9,386.4 613.9,365.0 614.0,376.1 614.1,365.4 614.1,347.7 614.2,365.4 614.3,362.2 614.3,367.7 614.4,372.4 614.5,378.4 614.5,368.5 614.6,385.7 614.7,362.8 614.8,375.1 614.8,371.5 614.9,375.7 615.0,369.5 615.0,356.7 615.1,372.5 615.2,380.5 615.2,378.0 615.3,387.9 615.4,374.8 615.4,367.7 615.5,364.2 615.6,380.6 615.6,374.2 615.7,350.2 615.8,376.8 615.8,367.3 615.9,371.0 616.0,367.2 616.1,371.7 616.1,367.6 616.2,369.8 616.3,375.8 616.3,390.3 616.4,353.1 616.5,379.4 616.5,363.4 616.6,380.1 616.7,373.4 616.7,364.2 616.8,373.7 616.9,369.0 616.9,374.1 617.0,374.2 617.1,360.8 617.2,362.7 617.2,368.6 617.3,365.4 617.4,356.5 617.4,387.3 617.5,349.3 617.6,371.1 617.6,365.6 617.7,368.0 617.8,360.4 617.8,373.8 617.9,363.1 618.0,377.2 618.0,391.9 618.1,362.7 618.2,376.6 618.3,366.3 618.3,369.5 618.4,375.8 618.5,382.7 618.5,383.4 618.6,389.2 618.7,377.4 618.7,375.9 618.8,370.1 618.9,374.1 618.9,369.4 619.0,359.7 619.1,371.1 619.1,376.3 619.2,355.1 619.3,358.4 619.3,369.4 619.4,343.2 619.5,384.9 619.6,362.1 619.6,371.1 619.7,371.7 619.8,372.8 619.8,358.2 619.9,372.8 620.0,349.7 620.0,357.9 620.1,386.7 620.2,351.2 620.2,365.4 620.3,367.2 620.4,356.5 620.4,372.5 620.5,360.3 620.6,381.3 620.7,357.1 620.7,363.5 620.8,354.4 620.9,360.7 620.9,345.3 621.0,355.3 621.1,338.8 621.1,373.7 621.2,355.0 621.3,368.2 621.3,356.4 621.4,363.3 621.5,355.7 621.5,380.8 621.6,363.4 621.7,370.2 621.8,369.3 621.8,362.0 621.9,366.0 622.0,349.9 622.0,359.3 622.1,352.9 622.2,355.5 622.2,370.9 622.3,376.2 622.4,375.5 622.4,348.7 622.5,371.0 622.6,370.0 622.6,363.8 622.7,370.3 622.8,358.8 622.8,354.9 622.9,352.1 623.0,351.5 623.1,358.5 623.1,358.4 623.2,364.7 623.3,361.0 623.3,364.9 623.4,364.5 623.5,357.2 623.5,374.2 623.6,384.0 623.7,368.6 623.7,367.2 623.8,360.8 623.9,368.6 623.9,381.6 624.0,380.2 624.1,373.7 624.2,366.5 624.2,361.5 624.3,360.4 624.4,373.4 624.4,379.8 624.5,372.9 624.6,371.2 624.6,365.8 624.7,368.2 624.8,361.3 624.8,383.7 624.9,358.2 625.0,357.4 625.0,356.4 625.1,345.2 625.2,371.7 625.3,356.5 625.3,363.0 625.4,357.0 625.5,362.7 625.5,373.6 625.6,367.3 625.7,368.2 625.7,380.2 625.8,376.2 625.9,360.9 625.9,374.0 626.0,361.7 626.1,374.2 626.1,387.3 626.2,361.2 626.3,382.8 626.3,382.0 626.4,378.3 626.5,368.1 626.6,394.6 626.6,354.5 626.7,372.4 626.8,376.0 626.8,394.9 626.9,366.6 627.0,373.4 627.0,361.5 627.1,356.1 627.2,380.5 627.2,374.5 627.3,383.5 627.4,360.3 627.4,371.2 627.5,357.6 627.6,372.2 627.7,354.2 627.7,358.9 627.8,364.9 627.9,382.6 627.9,359.5 628.0,382.0 628.1,365.5 628.1,379.2 628.2,356.3 628.3,346.8 628.3,379.4 628.4,367.6 628.5,342.8 628.5,369.3 628.6,376.8 628.7,378.8 628.8,362.5 628.8,367.4 628.9,355.7 629.0,344.0 629.0,354.4 629.1,370.8 629.2,369.0 629.2,365.4 629.3,373.8 629.4,375.4 629.4,376.2 629.5,365.0 629.6,368.3 629.6,362.4 629.7,364.2 629.8,352.0 629.8,378.1 629.9,371.0 630.0,358.7 630.1,377.9 630.1,352.3 630.2,358.4 630.3,351.0 630.3,361.5 630.4,354.9 630.5,347.0 630.5,358.2 630.6,341.1 630.7,349.3 630.7,355.6 630.8,354.5 630.9,370.5 630.9,360.7 631.0,360.6 631.1,356.9 631.2,369.2 631.2,354.8 631.3,351.2 631.4,354.9 631.4,334.8 631.5,363.8 631.6,347.6 631.6,377.2 631.7,377.9 631.8,347.7 631.8,344.6 631.9,343.1 632.0,345.5 632.0,364.2 632.1,377.9 632.2,361.5 632.3,362.8 632.3,358.8 632.4,357.4 632.5,376.4 632.5,350.1 632.6,362.4 632.7,355.3 632.7,362.9 632.8,363.2 632.9,357.6 632.9,355.0 633.0,369.3 633.1,359.7 633.1,355.7 633.2,380.4 633.3,361.3 633.3,374.5 633.4,351.3 633.5,374.3 633.6,382.8 633.6,375.0 633.7,374.0 633.8,390.8 633.8,385.6 633.9,365.9 634.0,375.4 634.0,350.1 634.1,363.5 634.2,373.4 634.2,361.8 634.3,376.7 634.4,377.5 634.4,351.7 634.5,373.8 634.6,370.6 634.7,372.4 634.7,351.4 634.8,392.7 634.9,353.3 634.9,361.4 635.0,343.7 635.1,360.3 635.1,380.4 635.2,361.1 635.3,357.5 635.3,366.3 635.4,349.7 635.5,351.4 635.5,376.3 635.6,375.4 635.7,363.9 635.8,358.1 635.8,353.2 635.9,384.5 636.0,391.3 636.0,378.7 636.1,382.5 636.2,385.1 636.2,365.0 636.3,364.3 636.4,369.6 636.4,371.6 636.5,383.5 636.6,366.4 636.6,385.4 636.7,381.7 636.8,363.0 636.8,350.4 636.9,388.4 637.0,375.5 637.1,380.3 637.1,375.7 637.2,369.3 637.3,365.3 637.3,355.5 637.4,386.1 637.5,374.0 637.5,380.1 637.6,377.9 637.7,374.6 637.7,370.4 637.8,358.3 637.9,376.7 637.9,368.1 638.0,356.4 638.1,364.0 638.2,378.0 638.2,366.4 638.3,377.9 638.4,363.2 638.4,359.9 638.5,377.8 638.6,385.1 638.6,374.5 638.7,378.3 638.8,365.9 638.8,375.5 638.9,364.2 639.0,378.0 639.0,377.5 639.1,365.1 639.2,385.6 639.3,358.0 639.3,376.2 639.4,386.4 639.5,368.2 639.5,360.6 639.6,389.5 639.7,391.5 639.7,368.2 639.8,385.7 639.9,375.6 639.9,386.9 640.0,375.9 640.1,380.6 640.1,367.8 640.2,385.0 640.3,369.2 640.3,378.4 640.4,386.3 640.5,377.4 640.6,389.5 640.6,384.9 640.7,377.1 640.8,364.5 640.8,375.7 640.9,372.7 641.0,380.9 641.0,379.7 641.1,386.0 641.2,400.1 641.2,380.0 641.3,388.0 641.4,384.8 641.4,393.8 641.5,382.0 641.6,383.5 641.7,379.3 641.7,388.4 641.8,384.2 641.9,363.4 641.9,387.1 642.0,390.9 642.1,375.6 642.1,387.6 642.2,388.8 642.3,385.8 642.3,392.9 642.4,381.7 642.5,383.9 642.5,408.5 642.6,378.8 642.7,364.9 642.8,395.7 642.8,368.8 642.9,393.6 643.0,373.6 643.0,370.2 643.1,404.8 643.2,366.7 643.2,396.8 643.3,392.6 643.4,388.9 643.4,378.3 643.5,406.5 643.6,366.5 643.6,388.6 643.7,373.9 643.8,363.2 643.8,366.9 643.9,385.4 644.0,373.5 644.1,385.2 644.1,369.4 644.2,390.6 644.3,379.5 644.3,370.8 644.4,377.3 644.5,375.9 644.5,385.2 644.6,408.3 644.7,411.6 644.7,403.6 644.8,383.8 644.9,383.2 644.9,400.5 645.0,378.7 645.1,380.4 645.2,395.9 645.2,394.0 645.3,383.8 645.4,397.9 645.4,384.2 645.5,392.3 645.6,391.1 645.6,398.1 645.7,371.7 645.8,391.1 645.8,400.3 645.9,379.2 646.0,400.1 646.0,403.9 646.1,379.8 646.2,400.8 646.3,372.6 646.3,388.4 646.4,394.3 646.5,391.9 646.5,374.5 646.6,374.7 646.7,386.1 646.7,404.6 646.8,404.9 646.9,397.6 646.9,389.5 647.0,390.7 647.1,391.1 647.1,375.8 647.2,377.7 647.3,374.3 647.3,380.4 647.4,377.8 647.5,361.2 647.6,377.1 647.6,395.8 647.7,408.1 647.8,403.2 647.8,384.5 647.9,377.4 648.0,384.7 648.0,389.3 648.1,386.2 648.2,375.6 648.2,389.5 648.3,384.2 648.4,370.5 648.4,393.9 648.5,395.0 648.6,395.9 648.7,378.1 648.7,372.3 648.8,356.2 648.9,407.5 648.9,356.7 649.0,380.6 649.1,385.6 649.1,386.5 649.2,391.1 649.3,382.2 649.3,389.7 649.4,381.9 649.5,386.3 649.5,377.2 649.6,385.6 649.7,396.4 649.8,403.3 649.8,393.9 649.9,376.7 650.0,372.8 650.0,384.1 650.1,391.2 650.2,371.5 650.2,396.0 650.3,387.1 650.4,390.9 650.4,379.7 650.5,387.4 650.6,373.9 650.6,376.9 650.7,385.2 650.8,380.8 650.9,366.1 650.9,368.5 651.0,375.4 651.1,385.5 651.1,387.6 651.2,403.6 651.3,366.9 651.3,384.2 651.4,391.6 651.5,365.7 651.5,381.6 651.6,374.9 651.7,369.5 651.7,393.2 651.8,387.4 651.9,380.3 651.9,382.2 652.0,370.0 652.1,371.3 652.2,378.2 652.2,373.0 652.3,380.9 652.4,375.1 652.4,370.1 652.5,398.2 652.6,391.3 652.6,370.7 652.7,399.7 652.8,393.5 652.8,397.3 652.9,391.0 653.0,388.7 653.0,374.7 653.1,389.4 653.2,360.5 653.3,366.3 653.3,371.0 653.4,367.4 653.5,386.2 653.5,375.3 653.6,386.6 653.7,358.7 653.7,397.6 653.8,387.1 653.9,390.6 653.9,360.1 654.0,396.9 654.1,386.7 654.1,395.8 654.2,383.7 654.3,381.5 654.4,397.0 654.4,392.7 654.5,390.9 654.6,390.1 654.6,379.6 654.7,387.9 654.8,383.4 654.8,390.8 654.9,394.3 655.0,392.7 655.0,407.5 655.1,382.5 655.2,407.7 655.2,366.7 655.3,391.6 655.4,385.9 655.4,396.0 655.5,391.5 655.6,402.4 655.7,385.0 655.7,407.0 655.8,389.3 655.9,397.1 655.9,381.6 656.0,398.6 656.1,380.5 656.1,394.6 656.2,410.0 656.3,393.2 656.3,395.9 656.4,390.5 656.5,400.4 656.5,411.7 656.6,412.7 656.7,399.4 656.8,402.9 656.8,383.6 656.9,385.3 657.0,392.5 657.0,383.3 657.1,390.9 657.2,380.0 657.2,374.8 657.3,394.8 657.4,401.0 657.4,373.4 657.5,383.3 657.6,368.0 657.6,379.9 657.7,408.0 657.8,404.0 657.9,401.1 657.9,396.9 658.0,399.3 658.1,379.1 658.1,380.3 658.2,403.5 658.3,402.0 658.3,410.2 658.4,384.9 658.5,393.2 658.5,387.6 658.6,392.2 658.7,383.9 658.7,372.3 658.8,391.0 658.9,409.2 658.9,399.3 659.0,395.3 659.1,388.3 659.2,389.3 659.2,395.5 659.3,398.8 659.4,388.5 659.4,403.8 659.5,378.6 659.6,391.0 659.6,365.6 659.7,408.4 659.8,404.0 659.8,415.9 659.9,384.2 660.0,367.8 660.0,440.3 660.1,384.9 660.2,385.7 660.3,412.5 660.3,379.7 660.4,381.9 660.5,390.5 660.5,382.0 660.6,378.9 660.7,395.2 660.7,393.1 660.8,396.9 660.9,363.9 660.9,387.9 661.0,407.0 661.1,392.0 661.1,394.1 661.2,418.1 661.3,393.3 661.4,403.9 661.4,394.9 661.5,394.7 661.6,385.1 661.6,381.0 661.7,389.8 661.8,391.3 661.8,380.2 661.9,385.2 662.0,390.5 662.0,380.6 662.1,383.3 662.2,391.5 662.2,376.5 662.3,374.7 662.4,390.0 662.4,386.7 662.5,402.1 662.6,392.0 662.7,377.0 662.7,405.1 662.8,351.8 662.9,360.4 662.9,369.7 663.0,373.8 663.1,387.4 663.1,384.3 663.2,370.6 663.3,354.6 663.3,366.2 663.4,386.1 663.5,390.1 663.5,398.3 663.6,382.6 663.7,391.7 663.8,402.2 663.8,370.1 663.9,409.4 664.0,392.3 664.0,379.3 664.1,375.1 664.2,388.7 664.2,376.8 664.3,383.0 664.4,384.8 664.4,375.5 664.5,384.1 664.6,390.3 664.6,377.5 664.7,378.8 664.8,390.0 664.9,378.3 664.9,373.4 665.0,375.0 665.1,369.7 665.1,375.2 665.2,375.5 665.3,380.7 665.3,378.3 665.4,364.4 665.5,377.3 665.5,380.0 665.6,371.4 665.7,393.6 665.7,382.7 665.8,389.8 665.9,376.4 665.9,376.1 666.0,391.9 666.1,359.9 666.2,385.3 666.2,382.5 666.3,354.7 666.4,369.9 666.4,360.9 666.5,376.1 666.6,390.9 666.6,380.5 666.7,398.5 666.8,379.5 666.8,363.2 666.9,379.6 667.0,404.1 667.0,375.6 667.1,388.9 667.2,374.5 667.3,388.8 667.3,364.4 667.4,386.2 667.5,381.2 667.5,367.3 667.6,364.8 667.7,376.7 667.7,375.6 667.8,357.9 667.9,368.0 667.9,373.1 668.0,362.9 668.1,376.6 668.1,369.9 668.2,343.6 668.3,351.4 668.4,371.5 668.4,380.0 668.5,373.0 668.6,367.7 668.6,370.6 668.7,363.2 668.8,374.3 668.8,363.3 668.9,393.1 669.0,369.2 669.0,362.3 669.1,357.2 669.2,365.5 669.2,363.6 669.3,364.1 669.4,371.1 669.4,369.9 669.5,370.2 669.6,351.7 669.7,359.7 669.7,363.7 669.8,367.2 669.9,357.6 669.9,381.0 670.0,360.9 670.1,348.3 670.1,346.4 670.2,351.0 670.3,356.4 670.3,360.1 670.4,358.8 670.5,365.7 670.5,373.1 670.6,371.5 670.7,352.9 670.8,375.2 670.8,358.7 670.9,352.7 671.0,369.5 671.0,384.6 671.1,367.3 671.2,354.5 671.2,371.6 671.3,367.8 671.4,364.2 671.4,359.2 671.5,352.3 671.6,337.2 671.6,381.0 671.7,370.5 671.8,351.8 671.9,364.2 671.9,360.2 672.0,365.3 672.1,353.5 672.1,348.5 672.2,365.4 672.3,380.6 672.3,369.4 672.4,344.1" fill="none" stroke="#f00" stroke-width="0.5" stroke-linejoin="round"/>
<path d="M425.4,414.2 425.5,390.8 425.5,397.3 425.6,402.2 425.7,421.1 425.7,404.2 425.8,425.5 425.9,404.8 425.9,381.0 426.0,409.0 426.1,412.3 426.2,396.4 426.2,417.6 426.3,403.5 426.4,423.0 426.4,414.6 426.5,409.3 426.6,393.4 426.6,399.4 426.7,411.1 426.8,400.7 426.8,412.5 426.9,384.0 427.0,379.2 427.0,385.2 427.1,380.6 427.2,400.4 427.3,381.9 427.3,413.7 427.4,385.6 427.5,374.1 427.5,400.3 427.6,393.6 427.7,409.7 427.7,391.0 427.8,404.7 427.9,400.7 427.9,424.0 428.0,397.3 428.1,399.9 428.1,394.0 428.2,386.9 428.3,413.1 428.4,400.0 428.4,399.2 428.5,410.4 428.6,398.7 428.6,382.3 428.7,419.7 428.8,377.1 428.8,396.1 428.9,404.7 429.0,409.7 429.0,390.6 429.1,383.8 429.2,417.8 429.2,380.2 429.3,386.4 429.4,405.5 429.4,411.7 429.5,408.9 429.6,391.0 429.7,404.6 429.7,399.8 429.8,403.5 429.9,410.6 429.9,418.2 430.0,403.7 430.1,403.9 430.1,390.2 430.2,397.2 430.3,413.4 430.3,390.5 430.4,402.3 430.5,387.4 430.5,397.9 430.6,398.4 430.7,413.1 430.8,392.4 430.8,401.1 430.9,386.2 431.0,393.8 431.0,405.8 431.1,381.9 431.2,424.8 431.2,395.5 431.3,402.7 431.4,384.1 431.4,388.7 431.5,403.2 431.6,388.1 431.6,376.2 431.7,384.2 431.8,401.4 431.9,393.1 431.9,390.0 432.0,398.5 432.1,394.5 432.1,388.9 432.2,389.6 432.3,397.0 432.3,415.2 432.4,381.6 432.5,408.7 432.5,390.8 432.6,405.4 432.7,403.7 432.7,414.8 432.8,374.6 432.9,392.7 432.9,391.4 433.0,390.9 433.1,396.0 433.2,404.6 433.2,395.7 433.3,420.6 433.4,402.4 433.4,402.9 433.5,395.5 433.6,381.7 433.6,388.7 433.7,406.7 433.8,386.3 433.8,408.1 433.9,394.2 434.0,409.2 434.0,400.6 434.1,391.7 434.2,393.7 434.3,393.7 434.3,379.5 434.4,373.8 434.5,397.0 434.5,392.5 434.6,392.0 434.7,378.4 434.7,357.9 434.8,381.3 434.9,385.6 434.9,369.6 435.0,365.2 435.1,381.8 435.1,387.0 435.2,365.9 435.3,380.5 435.4,399.3 435.4,376.8 435.5,395.8 435.6,384.4 435.6,402.9 435.7,427.6 435.8,406.9 435.8,394.9 435.9,414.3 436.0,407.9 436.0,400.6 436.1,382.1 436.2,401.8 436.2,386.5 436.3,393.4 436.4,385.3 436.4,399.2 436.5,385.2 436.6,398.8 436.7,379.7 436.7,395.6 436.8,381.6 436.9,394.0 436.9,419.5 437.0,427.2 437.1,371.1 437.1,398.7 437.2,427.1 437.3,386.6 437.3,390.1 437.4,402.0 437.5,401.4 437.5,386.1 437.6,421.5 437.7,398.5 437.8,384.3 437.8,385.5 437.9,384.7 438.0,390.0 438.0,392.6 438.1,407.7 438.2,394.0 438.2,407.4 438.3,393.5 438.4,379.3 438.4,382.0 438.5,390.3 438.6,386.7 438.6,414.6 438.7,383.8 438.8,410.7 438.9,405.3 438.9,395.2 439.0,380.7 439.1,376.7 439.1,397.3 439.2,377.4 439.3,389.8 439.3,387.7 439.4,392.1 439.5,372.9 439.5,390.7 439.6,389.6 439.7,399.8 439.7,402.4 439.8,380.7 439.9,391.5 439.9,402.0 440.0,409.0 440.1,378.6 440.2,367.0 440.2,385.0 440.3,388.2 440.4,387.2 440.4,378.9 440.5,391.1 440.6,380.9 440.6,381.4 440.7,389.4 440.8,396.2 440.8,367.0 440.9,397.5 441.0,387.1 441.0,387.9 441.1,394.6 441.2,406.2 441.3,400.3 441.3,387.4 441.4,403.3 441.5,406.4 441.5,389.8 441.6,386.6 441.7,379.1 441.7,401.3 441.8,399.0 441.9,380.2 441.9,386.6 442.0,385.3 442.1,384.8 442.1,402.8 442.2,371.9 442.3,363.1 442.4,392.9 442.4,390.3 442.5,379.6 442.6,411.5 442.6,386.3 442.7,374.1 442.8,380.3 442.8,398.6 442.9,361.0 443.0,367.5 443.0,371.9 443.1,379.7 443.2,382.4 443.2,419.3 443.3,377.2 443.4,386.4 443.4,388.9 443.5,382.1 443.6,408.0 443.7,369.8 443.7,403.4 443.8,371.2 443.9,402.8 443.9,385.6 444.0,388.0 444.1,382.2 444.1,374.0 444.2,395.9 444.3,388.1 444.3,400.4 444.4,401.9 444.5,402.3 444.5,379.2 444.6,379.9 444.7,403.9 444.8,388.8 444.8,395.6 444.9,384.0 445.0,394.0 445.0,392.9 445.1,380.2 445.2,381.1 445.2,410.3 445.3,382.9 445.4,406.2 445.4,378.4 445.5,389.1 445.6,394.5 445.6,378.9 445.7,386.2 445.8,390.5 445.9,388.5 445.9,385.1 446.0,389.1 446.1,384.3 446.1,391.9 446.2,410.6 446.3,402.2 446.3,395.1 446.4,397.5 446.5,409.6 446.5,397.2 446.6,398.5 446.7,376.5 446.7,379.3 446.8,387.3 446.9,396.2 446.9,400.3 447.0,371.3 447.1,381.3 447.2,381.1 447.2,380.5 447.3,389.0 447.4,397.2 447.4,393.1 447.5,374.5 447.6,386.9 447.6,359.2 447.7,376.9 447.8,386.7 447.8,381.7 447.9,394.7 448.0,378.2 448.0,374.1 448.1,389.8 448.2,377.3 448.3,389.5 448.3,389.3 448.4,407.9 448.5,395.3 448.5,369.0 448.6,391.0 448.7,394.9 448.7,390.2 448.8,375.8 448.9,417.8 448.9,402.7 449.0,387.2 449.1,401.4 449.1,386.5 449.2,396.4 449.3,383.2 449.4,380.6 449.4,403.4 449.5,406.8 449.6,397.5 449.6,377.6 449.7,383.8 449.8,381.5 449.8,398.8 449.9,420.9 450.0,392.4 450.0,373.3 450.1,406.2 450.2,384.1 450.2,418.2 450.3,380.0 450.4,382.9 450.5,395.0 450.5,374.4 450.6,388.3 450.7,388.7 450.7,372.7 450.8,384.5 450.9,421.4 450.9,382.4 451.0,383.3 451.1,411.3 451.1,378.5 451.2,395.6 451.3,394.0 451.3,373.3 451.4,404.4 451.5,414.6 451.5,374.7 451.6,397.2 451.7,383.1 451.8,414.1 451.8,399.1 451.9,385.5 452.0,409.3 452.0,404.3 452.1,403.9 452.2,422.9 452.2,376.5 452.3,396.8 452.4,391.0 452.4,426.5 452.5,382.3 452.6,415.8 452.6,382.6 452.7,386.8 452.8,368.4 452.9,389.5 452.9,397.4 453.0,399.3 453.1,387.3 453.1,404.3 453.2,379.7 453.3,392.4 453.3,405.3 453.4,404.2 453.5,410.9 453.5,397.9 453.6,388.5 453.7,398.4 453.7,405.3 453.8,421.1 453.9,373.6 454.0,388.3 454.0,400.7 454.1,385.9 454.2,400.0 454.2,408.9 454.3,403.0 454.4,390.6 454.4,401.2 454.5,411.2 454.6,387.3 454.6,402.3 454.7,391.9 454.8,379.1 454.8,399.1 454.9,376.1 455.0,398.1 455.0,407.7 455.1,407.6 455.2,399.2 455.3,410.5 455.3,408.1 455.4,386.0 455.5,403.2 455.5,402.3 455.6,411.5 455.7,384.2 455.7,384.5 455.8,384.0 455.9,404.7 455.9,395.9 456.0,403.9 456.1,392.0 456.1,402.2 456.2,404.0 456.3,404.5 456.4,401.2 456.4,410.0 456.5,395.9 456.6,382.1 456.6,368.8 456.7,404.7 456.8,394.3 456.8,390.6 456.9,374.7 457.0,394.7 457.0,391.3 457.1,393.2 457.2,372.0 457.2,371.8 457.3,385.4 457.4,383.3 457.5,378.1 457.5,356.4 457.6,391.8 457.7,387.0 457.7,391.3 457.8,377.2 457.9,371.2 457.9,379.6 458.0,386.0 458.1,390.5 458.1,378.1 458.2,383.4 458.3,399.4 458.3,380.6 458.4,396.4 458.5,392.8 458.5,387.0 458.6,377.6 458.7,394.9 458.8,402.1 458.8,405.0 458.9,376.9 459.0,388.5 459.0,395.1 459.1,389.7 459.2,395.7 459.2,391.2 459.3,399.5 459.4,409.1 459.4,402.8 459.5,389.7 459.6,400.8 459.6,408.3 459.7,412.5 459.8,399.0 459.9,421.9 459.9,376.8 460.0,399.6 460.1,404.5 460.1,383.8 460.2,404.1 460.3,382.5 460.3,397.0 460.4,411.0 460.5,407.2 460.5,402.3 460.6,400.0 460.7,388.8 460.7,394.3 460.8,408.0 460.9,396.5 461.0,406.5 461.0,396.0 461.1,396.2 461.2,408.4 461.2,381.5 461.3,380.6 461.4,387.3 461.4,396.9 461.5,396.0 461.6,398.2 461.6,378.1 461.7,394.6 461.8,393.0 461.8,396.3 461.9,395.7 462.0,400.1 462.0,428.1 462.1,428.3 462.2,416.4 462.3,424.4 462.3,406.3 462.4,406.2 462.5,391.8 462.5,406.3 462.6,410.7 462.7,418.3 462.7,409.4 462.8,403.4 462.9,383.9 462.9,390.1 463.0,401.8 463.1,374.7 463.1,396.8 463.2,395.7 463.3,397.3 463.4,402.0 463.4,393.2 463.5,404.2 463.6,411.8 463.6,392.8 463.7,393.0 463.8,413.3 463.8,411.8 463.9,413.0 464.0,389.8 464.0,399.1 464.1,411.3 464.2,429.4 464.2,410.1 464.3,414.6 464.4,394.7 464.5,399.3 464.5,390.8 464.6,399.9 464.7,407.0 464.7,401.7 464.8,411.8 464.9,388.9 464.9,387.5 465.0,423.3 465.1,409.2 465.1,395.5 465.2,416.4 465.3,383.1 465.3,395.3 465.4,394.4 465.5,410.4 465.5,407.9 465.6,393.7 465.7,422.2 465.8,396.8 465.8,407.5 465.9,416.5 466.0,386.7 466.0,402.4 466.1,390.9 466.2,412.9 466.2,389.3 466.3,396.6 466.4,405.3 466.4,418.4 466.5,382.5 466.6,408.1 466.6,373.2 466.7,398.6 466.8,394.0 466.9,397.7 466.9,402.5 467.0,388.2 467.1,397.3 467.1,403.3 467.2,396.7 467.3,396.0 467.3,398.7 467.4,388.3 467.5,409.7 467.5,409.5 467.6,392.7 467.7,400.6 467.7,426.2 467.8,412.0 467.9,399.8 468.0,386.3 468.0,394.3 468.1,400.4 468.2,414.6 468.2,417.9 468.3,391.3 468.4,375.1 468.4,379.8 468.5,390.3 468.6,391.1 468.6,400.2 468.7,418.9 468.8,393.9 468.8,413.9 468.9,391.1 469.0,397.1 469.0,397.8 469.1,390.0 469.2,421.9 469.3,401.5 469.3,426.3 469.4,408.8 469.5,402.0 469.5,408.0 469.6,409.4 469.7,410.8 469.7,409.1 469.8,405.9 469.9,397.5 469.9,407.6 470.0,401.7 470.1,411.9 470.1,421.5 470.2,415.3 470.3,392.1 470.4,391.7 470.4,411.7 470.5,415.5 470.6,408.1 470.6,411.8 470.7,430.5 470.8,412.5 470.8,408.1 470.9,416.3 471.0,394.8 471.0,426.1 471.1,433.5 471.2,401.6 471.2,415.3 471.3,420.6 471.4,425.0 471.5,409.9 471.5,380.1 471.6,386.0 471.7,407.9 471.7,427.5 471.8,430.5 471.9,433.0 471.9,396.8 472.0,396.8 472.1,415.5 472.1,410.2 472.2,427.6 472.3,396.2 472.3,407.1 472.4,399.9 472.5,399.9 472.5,386.0 472.6,412.2 472.7,407.6 472.8,411.4 472.8,406.9 472.9,400.9 473.0,410.8 473.0,408.9 473.1,413.5 473.2,424.8 473.2,429.4 473.3,401.3 473.4,439.1 473.4,434.5 473.5,408.4 473.6,404.8 473.6,409.5 473.7,416.4 473.8,432.5 473.9,426.7 473.9,400.0 474.0,423.7 474.1,417.6 474.1,405.1 474.2,403.9 474.3,426.2 474.3,412.4 474.4,407.0 474.5,399.3 474.5,423.6 474.6,413.0 474.7,398.2 474.7,403.4 474.8,417.3 474.9,426.3 475.0,434.1 475.0,418.9 475.1,406.9 475.2,410.7 475.2,399.1 475.3,418.7 475.4,398.9 475.4,427.4 475.5,411.7 475.6,416.6 475.6,424.4 475.7,404.5 475.8,388.9 475.8,387.0 475.9,411.0 476.0,382.4 476.0,416.9 476.1,414.5 476.2,387.3 476.3,415.7 476.3,409.6 476.4,405.3 476.5,407.5 476.5,394.7 476.6,402.6 476.7,433.1 476.7,399.6 476.8,436.5 476.9,400.9 476.9,405.4 477.0,401.1 477.1,392.5 477.1,427.6 477.2,416.2 477.3,391.6 477.4,402.7 477.4,398.6 477.5,424.4 477.6,410.4 477.6,432.7 477.7,388.4 477.8,439.1 477.8,390.3 477.9,428.5 478.0,422.2 478.0,406.6 478.1,420.8 478.2,393.9 478.2,410.3 478.3,409.7 478.4,415.7 478.5,394.1 478.5,426.0 478.6,407.1 478.7,401.3 478.7,408.3 478.8,401.2 478.9,410.4 478.9,412.3 479.0,419.6 479.1,393.0 479.1,400.5 479.2,396.3 479.3,397.1 479.3,393.3 479.4,395.8 479.5,408.9 479.5,415.9 479.6,404.8 479.7,388.9 479.8,407.1 479.8,423.5 479.9,401.5 480.0,428.1 480.0,404.2 480.1,412.6 480.2,390.1 480.2,425.2 480.3,403.0 480.4,429.9 480.4,417.2 480.5,416.2 480.6,418.6 480.6,408.2 480.7,416.9 480.8,443.9 480.9,434.3 480.9,401.8 481.0,435.2 481.1,408.5 481.1,436.7 481.2,401.9 481.3,413.4 481.3,420.4 481.4,427.4 481.5,431.4 481.5,427.8 481.6,435.7 481.7,420.1 481.7,414.8 481.8,419.3 481.9,420.3 482.0,431.5 482.0,418.5 482.1,419.7 482.2,409.3 482.2,446.6 482.3,405.2 482.4,412.3 482.4,391.6 482.5,411.4 482.6,403.1 482.6,391.9 482.7,388.3 482.8,393.1 482.8,406.4 482.9,421.7 483.0,392.9 483.0,428.7 483.1,405.9 483.2,397.5 483.3,404.5 483.3,413.3 483.4,404.7 483.5,426.2 483.5,405.7 483.6,408.6 483.7,417.7 483.7,426.7 483.8,430.5 483.9,394.6 483.9,408.0 484.0,420.9 484.1,411.5 484.1,408.6 484.2,431.7 484.3,422.0 484.4,402.4 484.4,416.5 484.5,408.0 484.6,398.9 484.6,397.7 484.7,391.5 484.8,405.0 484.8,393.6 484.9,421.2 485.0,395.2 485.0,408.0 485.1,395.3 485.2,410.2 485.2,418.3 485.3,411.5 485.4,411.5 485.5,409.6 485.5,413.6 485.6,434.9 485.7,437.7 485.7,403.4 485.8,403.0 485.9,422.2 485.9,423.4 486.0,434.6 486.1,411.4 486.1,411.2 486.2,407.6 486.3,405.5 486.3,440.3 486.4,392.2 486.5,427.7 486.5,404.5 486.6,403.6 486.7,412.6 486.8,423.1 486.8,415.5 486.9,415.4 487.0,434.9 487.0,428.1 487.1,397.8 487.2,411.9 487.2,422.5 487.3,399.9 487.4,399.6 487.4,416.5 487.5,412.3 487.6,425.3 487.6,393.3 487.7,402.8 487.8,392.2 487.9,421.9 487.9,397.0 488.0,407.3 488.1,393.5 488.1,417.6 488.2,403.7 488.3,397.5 488.3,402.2 488.4,400.7 488.5,416.3 488.5,410.1 488.6,411.6 488.7,429.2 488.7,413.0 488.8,400.2 488.9,400.4 489.0,400.9 489.0,399.8 489.1,416.1 489.2,416.7 489.2,408.7 489.3,393.4 489.4,422.4 489.4,415.1 489.5,408.7 489.6,386.2 489.6,398.7 489.7,404.6 489.8,413.7 489.8,405.6 489.9,401.9 490.0,383.8 490.0,403.5 490.1,404.1 490.2,387.0 490.3,413.8 490.3,409.8 490.4,402.4 490.5,417.8 490.5,383.5 490.6,404.0 490.7,394.8 490.7,391.8 490.8,399.4 490.9,427.4 490.9,405.2 491.0,400.6 491.1,383.2 491.1,427.3 491.2,436.5 491.3,397.5 491.4,407.8 491.4,419.8 491.5,429.1 491.6,396.4 491.6,398.9 491.7,437.2 491.8,414.9 491.8,406.1 491.9,416.9 492.0,399.2 492.0,412.1 492.1,406.8 492.2,441.6 492.2,427.1 492.3,413.0 492.4,393.6 492.5,392.9 492.5,404.6 492.6,411.5 492.7,392.4 492.7,402.9 492.8,412.5 492.9,404.2 492.9,405.5 493.0,424.8 493.1,411.6 493.1,387.1 493.2,405.9 493.3,391.4 493.3,391.7 493.4,413.9 493.5,395.7 493.5,412.6 493.6,419.6 493.7,428.1 493.8,398.4 493.8,416.9 493.9,413.6 494.0,420.4 494.0,392.0 494.1,408.1 494.2,397.9 494.2,413.9 494.3,411.3 494.4,418.5 494.4,402.8 494.5,424.3 494.6,407.2 494.6,398.5 494.7,401.6 494.8,422.2 494.9,405.3 494.9,419.0 495.0,382.8 495.1,411.5 495.1,410.1 495.2,409.1 495.3,398.0 495.3,403.6 495.4,393.1 495.5,407.2 495.5,406.6 495.6,416.5 495.7,415.5 495.7,419.2 495.8,407.6 495.9,408.1 496.0,398.8 496.0,393.9 496.1,391.3 496.2,392.9 496.2,401.9 496.3,377.7 496.4,382.9 496.4,387.1 496.5,401.7 496.6,382.3 496.6,373.3 496.7,392.0 496.8,400.4 496.8,399.5 496.9,384.9 497.0,407.9 497.0,411.5 497.1,390.2 497.2,406.3 497.3,394.2 497.3,420.3 497.4,398.2 497.5,412.1 497.5,386.8 497.6,398.8 497.7,392.8 497.7,372.6 497.8,369.8 497.9,389.1 497.9,382.9 498.0,399.5 498.1,422.9 498.1,399.4 498.2,387.3 498.3,376.5 498.4,407.3 498.4,386.2 498.5,410.3 498.6,391.5 498.6,381.6 498.7,374.3 498.8,387.6 498.8,393.8 498.9,388.1 499.0,390.3 499.0,386.2 499.1,364.1 499.2,379.2 499.2,365.3 499.3,382.7 499.4,383.5 499.5,384.3 499.5,402.0 499.6,372.9 499.7,404.9 499.7,368.5 499.8,376.4 499.9,385.6 499.9,377.1 500.0,379.5 500.1,383.1 500.1,387.5 500.2,364.3 500.3,381.7 500.3,393.4 500.4,401.6 500.5,387.3 500.6,391.2 500.6,384.1 500.7,370.7 500.8,378.2 500.8,388.7 500.9,379.1 501.0,398.2 501.0,392.7 501.1,373.9 501.2,381.8 501.2,387.0 501.3,408.6 501.4,377.8 501.4,384.4 501.5,363.3 501.6,388.0 501.6,389.0 501.7,379.1 501.8,388.3 501.9,388.5 501.9,400.5 502.0,376.2 502.1,367.3 502.1,405.7 502.2,380.2 502.3,397.0 502.3,411.8 502.4,388.8 502.5,398.3 502.5,374.3 502.6,393.3 502.7,404.9 502.7,401.0 502.8,392.8 502.9,380.6 503.0,401.0 503.0,371.2 503.1,371.4 503.2,382.9 503.2,393.9 503.3,394.4 503.4,418.7 503.4,403.6 503.5,423.6 503.6,394.8 503.6,398.0 503.7,371.5 503.8,405.1 503.8,397.8 503.9,408.2 504.0,405.0 504.1,400.2 504.1,393.9 504.2,364.4 504.3,390.6 504.3,378.4 504.4,409.1 504.5,401.4 504.5,386.1 504.6,395.8 504.7,383.7 504.7,397.4 504.8,379.9 504.9,377.8 504.9,400.1 505.0,398.7 505.1,396.6 505.1,399.0 505.2,406.6 505.3,403.7 505.4,405.2 505.4,413.1 505.5,402.2 505.6,390.2 505.6,410.5 505.7,402.3 505.8,375.7 505.8,383.8 505.9,376.0 506.0,392.0 506.0,385.4 506.1,375.4 506.2,407.9 506.2,368.9 506.3,400.9 506.4,357.4 506.5,389.6 506.5,384.6 506.6,398.9 506.7,386.8 506.7,385.8 506.8,384.2 506.9,387.7 506.9,399.3 507.0,399.0 507.1,388.9 507.1,389.6 507.2,379.8 507.3,410.0 507.3,387.8 507.4,419.3 507.5,415.3 507.6,422.7 507.6,398.4 507.7,378.1 507.8,381.0 507.8,406.0 507.9,382.8 508.0,374.6 508.0,363.8 508.1,379.0 508.2,390.0 508.2,394.6 508.3,397.2 508.4,385.0 508.4,377.9 508.5,391.9 508.6,394.1 508.6,385.4 508.7,408.5 508.8,372.3 508.9,385.7 508.9,391.9 509.0,413.4 509.1,377.4 509.1,388.6 509.2,391.4 509.3,382.5 509.3,376.1 509.4,409.6 509.5,392.1 509.5,380.2 509.6,398.1 509.7,407.1 509.7,393.7 509.8,400.1 509.9,380.7 510.0,389.6 510.0,410.3 510.1,404.6 510.2,411.7 510.2,399.7 510.3,401.5 510.4,380.4 510.4,392.1 510.5,407.0 510.6,405.4 510.6,423.1 510.7,387.9 510.8,392.6 510.8,412.0 510.9,401.1 511.0,405.4 511.1,403.9 511.1,398.1 511.2,402.4 511.3,413.2 511.3,392.3 511.4,386.3 511.5,391.1 511.5,405.6 511.6,387.2 511.7,408.5 511.7,364.1 511.8,412.2 511.9,384.1 511.9,377.9 512.0,402.4 512.1,374.0 512.1,384.4 512.2,400.3 512.3,403.4 512.4,387.3 512.4,367.1 512.5,396.9 512.6,392.2 512.6,401.4 512.7,387.4 512.8,404.7 512.8,408.7 512.9,409.0 513.0,400.0 513.0,412.6 513.1,415.5 513.2,397.9 513.2,413.6 513.3,390.0 513.4,401.8 513.5,388.1 513.5,385.3 513.6,384.8 513.7,402.9 513.7,388.7 513.8,380.2 513.9,384.3 513.9,383.1 514.0,395.3 514.1,386.0 514.1,375.0 514.2,391.2 514.3,404.8 514.3,389.9 514.4,388.7 514.5,382.7 514.6,379.6 514.6,390.9 514.7,376.3 514.8,361.5 514.8,388.2 514.9,403.6 515.0,398.9 515.0,390.9 515.1,386.2 515.2,400.7 515.2,383.6 515.3,392.7 515.4,387.0 515.4,382.4 515.5,380.9 515.6,391.9 515.6,400.0 515.7,398.2 515.8,399.4 515.9,399.8 515.9,387.3 516.0,387.1 516.1,404.4 516.1,412.5 516.2,394.5 516.3,367.0 516.3,373.1 516.4,413.3 516.5,392.3 516.5,381.5 516.6,385.8 516.7,380.5 516.7,386.6 516.8,390.8 516.9,372.3 517.0,388.0 517.0,403.6 517.1,412.4 517.2,388.3 517.2,391.5 517.3,393.7 517.4,391.2 517.4,386.0 517.5,380.7 517.6,382.5 517.6,390.7 517.7,392.8 517.8,402.8 517.8,382.5 517.9,381.0 518.0,386.9 518.1,403.8 518.1,396.5 518.2,394.1 518.3,387.4 518.3,395.8 518.4,410.4 518.5,394.7 518.5,381.3 518.6,381.8 518.7,390.8 518.7,407.1 518.8,389.2 518.9,393.6 518.9,396.1 519.0,383.7 519.1,398.5 519.1,413.1 519.2,377.2 519.3,374.2 519.4,370.0 519.4,378.2 519.5,381.1 519.6,395.0 519.6,405.0 519.7,372.7 519.8,374.2 519.8,414.6 519.9,405.0 520.0,385.2 520.0,402.1 520.1,404.1 520.2,379.7 520.2,384.4 520.3,389.8 520.4,401.9 520.5,410.9 520.5,388.3 520.6,396.8 520.7,368.7 520.7,378.7 520.8,390.7 520.9,396.5 520.9,414.8 521.0,392.9 521.1,411.8 521.1,391.6 521.2,386.1 521.3,403.2 521.3,380.2 521.4,385.8 521.5,397.3 521.6,386.5 521.6,416.6 521.7,405.2 521.8,387.9 521.8,391.2 521.9,385.1 522.0,384.9 522.0,396.2 522.1,389.3 522.2,380.2 522.2,399.9 522.3,385.1 522.4,410.9 522.4,376.8 522.5,382.7 522.6,396.0 522.6,379.8 522.7,363.9 522.8,396.1 522.9,370.4 522.9,402.5 523.0,364.6 523.1,375.0 523.1,386.4 523.2,378.7 523.3,380.8 523.3,406.4 523.4,391.6 523.5,390.3 523.5,368.5 523.6,366.2 523.7,395.4 523.7,382.3 523.8,406.8 523.9,399.4 524.0,418.0 524.0,389.3 524.1,382.5 524.2,397.0 524.2,396.4 524.3,401.4 524.4,402.7 524.4,365.6 524.5,398.4 524.6,379.7 524.6,400.8 524.7,393.7 524.8,385.7 524.8,398.7 524.9,376.8 525.0,397.6 525.1,395.8 525.1,375.5 525.2,378.9 525.3,397.5 525.3,397.9 525.4,398.3 525.5,379.6 525.5,372.1 525.6,358.9 525.7,395.4 525.7,387.3 525.8,403.5 525.9,375.7 525.9,409.6 526.0,373.8 526.1,380.5 526.1,423.6 526.2,398.5 526.3,416.4 526.4,405.8 526.4,397.9 526.5,400.5 526.6,424.7 526.6,397.5 526.7,396.6 526.8,379.3 526.8,390.4 526.9,410.4 527.0,380.5 527.0,386.9 527.1,407.4 527.2,389.1 527.2,400.8 527.3,379.2 527.4,407.5 527.5,404.0 527.5,387.6 527.6,393.0 527.7,383.2 527.7,417.1 527.8,417.2 527.9,384.0 527.9,401.4 528.0,402.4 528.1,394.3 528.1,412.2 528.2,397.3 528.3,389.6 528.3,410.7 528.4,392.0 528.5,406.0 528.6,416.7 528.6,407.9 528.7,388.6 528.8,390.6 528.8,384.4 528.9,382.9 529.0,400.3 529.0,403.7 529.1,390.8 529.2,393.3 529.2,392.4 529.3,426.7 529.4,403.9 529.4,384.8 529.5,373.1 529.6,408.5 529.6,389.6 529.7,392.1 529.8,409.1 529.9,395.6 529.9,390.6 530.0,383.6 530.1,389.9 530.1,389.5 530.2,385.9 530.3,365.1 530.3,386.8 530.4,389.3 530.5,386.1 530.5,387.0 530.6,393.4 530.7,381.0 530.7,397.0 530.8,404.4 530.9,383.1 531.0,399.1 531.0,383.9 531.1,386.7 531.2,393.3 531.2,384.1 531.3,388.8 531.4,393.1 531.4,388.0 531.5,397.5 531.6,397.3 531.6,384.8 531.7,387.3 531.8,377.4 531.8,397.7 531.9,382.1 532.0,399.0 532.1,388.6 532.1,395.9 532.2,404.0 532.3,410.1 532.3,395.5 532.4,399.2 532.5,378.8 532.5,381.1 532.6,380.8 532.7,403.2 532.7,407.2 532.8,401.1 532.9,389.0 532.9,404.6 533.0,386.6 533.1,389.2 533.1,401.2 533.2,417.5 533.3,402.2 533.4,397.0 533.4,390.8 533.5,408.6 533.6,403.4 533.6,390.5 533.7,392.3 533.8,375.6 533.8,398.4 533.9,385.8 534.0,406.9 534.0,389.6 534.1,406.0 534.2,409.5 534.2,407.4 534.3,405.4 534.4,412.7 534.5,401.1 534.5,411.3 534.6,418.4 534.7,406.0 534.7,394.9 534.8,399.4 534.9,387.7 534.9,396.8 535.0,422.1 535.1,393.9 535.1,373.0 535.2,405.2 535.3,387.1 535.3,409.9 535.4,372.7 535.5,392.3 535.6,393.2 535.6,380.0 535.7,415.1 535.8,388.5 535.8,408.8 535.9,373.2 536.0,405.4 536.0,423.9 536.1,420.6 536.2,413.9 536.2,406.2 536.3,407.0 536.4,395.5 536.4,427.8 536.5,409.8 536.6,415.1 536.6,402.2 536.7,414.4 536.8,415.8 536.9,400.4 536.9,395.4 537.0,396.0 537.1,396.7 537.1,391.6 537.2,407.1 537.3,390.2 537.3,420.0 537.4,419.1 537.5,410.5 537.5,393.1 537.6,405.9 537.7,404.1 537.7,396.8 537.8,401.8 537.9,408.9 538.0,393.3 538.0,416.3 538.1,392.8 538.2,420.5 538.2,383.8 538.3,410.0 538.4,392.7 538.4,413.5 538.5,406.9 538.6,389.7 538.6,401.9 538.7,387.6 538.8,402.1 538.8,392.1 538.9,379.3 539.0,390.5 539.1,394.4 539.1,386.3 539.2,403.1 539.3,392.1 539.3,423.3 539.4,407.0 539.5,412.8 539.5,420.8 539.6,411.4 539.7,403.4 539.7,407.8 539.8,394.6 539.9,413.2 539.9,420.6 540.0,391.7 540.1,384.4 540.1,417.6 540.2,427.0 540.3,404.0 540.4,400.6 540.4,411.3 540.5,396.4 540.6,406.3 540.6,408.5 540.7,404.7 540.8,415.5 540.8,399.5 540.9,412.8 541.0,395.9 541.0,412.3 541.1,418.6 541.2,413.6 541.2,417.5 541.3,435.1 541.4,403.2 541.5,411.2 541.5,392.0 541.6,392.4 541.7,404.0 541.7,399.9 541.8,404.6 541.9,416.0 541.9,406.8 542.0,411.6 542.1,400.3 542.1,409.4 542.2,411.1 542.3,414.0 542.3,408.2 542.4,415.8 542.5,423.9 542.6,398.3 542.6,407.0 542.7,391.5 542.8,408.6 542.8,405.2 542.9,413.2 543.0,387.1 543.0,419.2 543.1,388.2 543.2,436.6 543.2,398.2 543.3,416.3 543.4,436.4 543.4,417.9 543.5,394.2 543.6,395.8 543.6,408.5 543.7,411.1 543.8,405.0 543.9,395.5 543.9,416.0 544.0,407.4 544.1,404.6 544.1,414.7 544.2,403.8 544.3,400.5 544.3,398.8 544.4,395.0 544.5,397.0 544.5,421.4 544.6,414.0 544.7,396.0 544.7,414.8 544.8,404.1 544.9,404.2 545.0,411.5 545.0,388.0 545.1,408.0 545.2,395.0 545.2,402.8 545.3,415.2 545.4,407.8 545.4,411.4 545.5,394.9 545.6,388.3 545.6,378.0 545.7,397.2 545.8,419.2 545.8,402.1 545.9,386.7 546.0,402.9 546.1,398.1 546.1,398.5 546.2,434.7 546.3,395.5 546.3,394.2 546.4,421.1 546.5,403.3 546.5,376.8 546.6,406.3 546.7,418.5 546.7,383.8 546.8,411.2 546.9,411.8 546.9,414.6 547.0,404.9 547.1,402.0 547.1,424.3 547.2,404.9 547.3,398.8 547.4,419.0 547.4,400.6 547.5,409.2 547.6,397.4 547.6,421.0 547.7,401.4 547.8,417.2 547.8,423.5 547.9,430.0 548.0,409.6 548.0,402.6 548.1,420.2 548.2,388.9 548.2,434.0 548.3,399.0 548.4,398.7 548.5,417.1 548.5,406.0 548.6,393.4 548.7,404.8 548.7,392.1 548.8,412.8 548.9,398.2 548.9,405.0 549.0,390.1 549.1,404.0 549.1,414.2 549.2,421.4 549.3,408.7 549.3,396.7 549.4,406.0 549.5,401.2 549.6,416.9 549.6,409.7 549.7,382.4 549.8,409.6 549.8,404.2 549.9,411.1 550.0,409.6 550.0,397.9 550.1,421.2 550.2,394.9 550.2,377.2 550.3,395.2 550.4,401.0 550.4,381.5 550.5,404.4 550.6,386.2 550.7,403.7 550.7,413.8 550.8,396.3 550.9,399.8 550.9,372.3 551.0,400.2 551.1,426.6 551.1,395.2 551.2,419.3 551.3,427.4 551.3,407.3 551.4,384.3 551.5,407.0 551.5,390.2 551.6,392.8 551.7,386.1 551.7,403.6 551.8,410.6 551.9,397.1 552.0,393.0 552.0,394.3 552.1,379.0 552.2,408.8 552.2,407.1 552.3,388.5 552.4,386.2 552.4,419.2 552.5,398.8 552.6,375.6 552.6,417.2 552.7,414.3 552.8,424.9 552.8,423.2 552.9,415.7 553.0,400.2 553.1,399.8 553.1,405.4 553.2,425.8 553.3,402.4 553.3,415.6 553.4,412.4 553.5,439.3 553.5,412.2 553.6,398.6 553.7,390.7 553.7,415.0 553.8,384.7 553.9,416.3 553.9,392.8 554.0,408.4 554.1,418.5 554.2,400.6 554.2,415.7 554.3,441.8 554.4,404.6 554.4,429.0 554.5,412.3 554.6,412.1 554.6,409.9 554.7,408.3 554.8,380.9 554.8,424.5 554.9,410.5 555.0,403.2 555.0,439.4 555.1,402.8 555.2,420.8 555.2,426.4 555.3,419.5 555.4,439.2 555.5,432.1 555.5,399.8 555.6,409.4 555.7,388.7 555.7,421.9 555.8,414.3 555.9,416.8 555.9,423.4 556.0,411.5 556.1,415.5 556.1,406.5 556.2,426.9 556.3,402.8 556.3,424.5 556.4,443.2 556.5,427.4 556.6,403.0 556.6,409.1 556.7,424.6 556.8,411.7 556.8,425.2 556.9,412.0 557.0,419.2 557.0,400.0 557.1,424.8 557.2,404.0 557.2,421.2 557.3,400.1 557.4,424.1 557.4,427.5 557.5,413.4 557.6,378.8 557.7,414.9 557.7,424.6 557.8,408.1 557.9,414.4 557.9,436.1 558.0,420.5 558.1,426.6 558.1,413.0 558.2,425.9 558.3,439.0 558.3,418.6 558.4,389.3 558.5,420.9 558.5,423.7 558.6,409.4 558.7,400.7 558.7,393.3 558.8,424.4 558.9,413.5 559.0,447.4 559.0,414.1 559.1,425.9 559.2,432.4 559.2,436.1 559.3,421.5 559.4,420.6 559.4,415.8 559.5,442.2 559.6,441.9 559.6,437.1 559.7,424.8 559.8,424.6 559.8,413.8 559.9,421.4 560.0,416.4 560.1,421.0 560.1,428.1 560.2,421.3 560.3,396.7 560.3,425.9 560.4,386.6 560.5,421.9 560.5,441.2 560.6,404.8 560.7,424.7 560.7,405.7 560.8,415.7 560.9,409.1 560.9,411.0 561.0,402.5 561.1,430.7 561.2,418.3 561.2,452.9 561.3,418.8 561.4,398.0 561.4,415.4 561.5,420.2 561.6,430.6 561.6,422.2 561.7,411.6 561.8,396.8 561.8,423.3 561.9,406.5 562.0,428.1 562.0,445.0 562.1,428.1 562.2,406.5 562.2,423.3 562.3,425.6 562.4,412.6 562.5,422.3 562.5,430.7 562.6,414.1 562.7,432.8 562.7,406.7 562.8,429.3 562.9,406.4 562.9,431.8 563.0,422.6 563.1,437.4 563.1,412.4 563.2,424.5 563.3,418.4 563.3,438.0 563.4,419.6 563.5,417.7 563.6,428.2 563.6,422.8 563.7,411.1 563.8,397.6 563.8,410.9 563.9,388.4 564.0,432.0 564.0,423.4 564.1,428.2 564.2,392.6 564.2,413.3 564.3,421.7 564.4,392.8 564.4,409.7 564.5,443.7 564.6,433.5 564.7,397.9 564.7,413.5 564.8,431.7 564.9,421.4 564.9,401.7 565.0,412.4 565.1,397.5 565.1,419.5 565.2,423.6 565.3,404.6 565.3,385.4 565.4,401.2 565.5,403.8 565.5,422.5 565.6,439.1 565.7,400.1 565.7,410.2 565.8,420.6 565.9,424.1 566.0,402.9 566.0,430.0 566.1,426.1 566.2,416.6 566.2,420.9 566.3,411.5 566.4,412.9 566.4,409.8 566.5,422.1 566.6,428.1 566.6,412.4 566.7,423.4 566.8,402.9 566.8,419.5 566.9,426.8 567.0,420.9 567.1,420.8 567.1,429.6 567.2,429.1 567.3,425.3 567.3,435.4 567.4,414.9 567.5,422.4 567.5,413.0 567.6,428.1 567.7,415.9 567.7,421.9 567.8,400.6 567.9,404.9 567.9,413.6 568.0,388.9 568.1,424.1 568.2,398.2 568.2,406.0 568.3,384.1 568.4,437.4 568.4,384.6 568.5,424.8 568.6,392.1 568.6,424.7 568.7,401.1 568.8,410.8 568.8,387.1 568.9,426.2 569.0,425.8 569.0,399.4 569.1,398.8 569.2,424.4 569.2,406.3 569.3,402.6 569.4,401.9 569.5,412.8 569.5,396.9 569.6,390.5 569.7,423.7 569.7,393.4 569.8,422.6 569.9,412.9 569.9,420.0 570.0,413.8 570.1,430.7 570.1,419.2 570.2,410.6 570.3,420.1 570.3,398.0 570.4,427.4 570.5,419.1 570.6,418.9 570.6,409.0 570.7,425.9 570.8,426.9 570.8,410.8 570.9,413.3 571.0,421.3 571.0,407.5 571.1,413.1 571.2,411.8 571.2,410.0 571.3,393.5 571.4,393.9 571.4,407.9 571.5,440.4 571.6,422.5 571.7,399.2 571.7,401.5 571.8,421.2 571.9,410.1 571.9,399.9 572.0,410.7 572.1,405.9 572.1,410.5 572.2,405.2 572.3,409.8 572.3,392.4 572.4,409.0 572.5,408.9 572.5,398.9 572.6,409.8 572.7,409.9 572.7,432.8 572.8,411.9 572.9,413.9 573.0,398.6 573.0,427.1 573.1,420.2 573.2,408.0 573.2,423.4 573.3,433.0 573.4,422.2 573.4,405.0 573.5,412.3 573.6,398.4 573.6,386.4 573.7,420.0 573.8,405.4 573.8,413.4 573.9,418.1 574.0,400.3 574.1,432.5 574.1,392.1 574.2,410.0 574.3,397.7 574.3,400.9 574.4,415.4 574.5,410.1 574.5,378.7 574.6,426.9 574.7,400.0 574.7,393.5 574.8,423.4 574.9,421.0 574.9,410.1 575.0,395.2 575.1,403.2 575.2,404.3 575.2,406.8 575.3,390.0 575.4,396.5 575.4,411.5 575.5,413.3 575.6,397.6 575.6,416.3 575.7,397.7 575.8,420.4 575.8,415.4 575.9,397.0 576.0,405.5 576.0,405.5 576.1,417.3 576.2,398.4 576.2,429.2 576.3,405.5 576.4,424.0 576.5,416.4 576.5,412.9 576.6,422.1 576.7,409.1 576.7,409.1 576.8,399.5 576.9,398.0 576.9,401.3 577.0,386.0 577.1,426.6 577.1,405.8 577.2,406.6 577.3,429.4 577.3,407.9 577.4,419.3 577.5,408.0 577.6,419.1 577.6,401.4 577.7,412.4 577.8,400.3 577.8,433.3 577.9,413.3 578.0,437.2 578.0,384.9 578.1,426.0 578.2,415.2 578.2,401.5 578.3,411.1 578.4,402.2 578.4,413.3 578.5,406.7 578.6,404.1 578.7,415.7 578.7,422.9 578.8,421.7 578.9,410.1 578.9,405.2 579.0,395.2 579.1,401.2 579.1,417.5 579.2,414.7 579.3,383.0 579.3,412.9 579.4,403.4 579.5,392.9 579.5,413.8 579.6,429.5 579.7,377.0 579.7,397.2 579.8,411.0 579.9,414.3 580.0,408.1 580.0,413.4 580.1,423.2 580.2,424.4 580.2,429.2 580.3,415.2 580.4,392.2 580.4,410.5 580.5,420.6 580.6,432.5 580.6,416.6 580.7,418.5 580.8,431.4 580.8,415.3 580.9,437.3 581.0,413.9 581.1,426.1 581.1,419.5 581.2,413.2 581.3,402.9 581.3,432.4 581.4,415.6 581.5,418.1 581.5,416.2 581.6,393.5 581.7,404.0 581.7,400.2 581.8,416.1 581.9,393.2 581.9,410.5 582.0,422.5 582.1,411.8 582.2,428.5 582.2,390.4 582.3,427.8 582.4,410.5 582.4,403.3 582.5,414.1 582.6,430.1 582.6,399.4 582.7,418.3 582.8,429.0 582.8,408.4 582.9,411.1 583.0,406.9 583.0,423.3 583.1,390.1 583.2,406.0 583.2,396.1 583.3,400.2 583.4,397.4 583.5,419.5 583.5,405.4 583.6,422.2 583.7,404.9 583.7,413.8 583.8,436.7 583.9,410.3 583.9,415.0 584.0,409.9 584.1,424.1 584.1,430.7 584.2,429.3 584.3,401.4 584.3,430.5 584.4,414.5 584.5,404.1 584.6,396.1 584.6,441.9 584.7,412.0 584.8,400.4 584.8,392.8 584.9,410.1 585.0,423.0 585.0,432.3 585.1,424.4 585.2,408.3 585.2,433.8 585.3,411.4 585.4,432.5 585.4,415.0 585.5,426.1 585.6,403.5 585.7,422.0 585.7,427.0 585.8,438.3 585.9,401.6 585.9,414.8 586.0,422.0 586.1,413.2 586.1,403.8 586.2,403.0 586.3,409.5 586.3,408.4 586.4,406.7 586.5,395.0 586.5,405.5 586.6,405.1 586.7,410.2 586.7,394.6 586.8,400.4 586.9,406.0 587.0,399.3 587.0,402.8 587.1,410.7 587.2,417.1 587.2,411.1 587.3,405.2 587.4,423.5 587.4,425.0 587.5,409.5 587.6,416.8 587.6,411.9 587.7,417.3 587.8,386.1 587.8,377.9 587.9,388.7 588.0,385.6 588.1,405.6 588.1,387.0 588.2,427.6 588.3,434.4 588.3,409.9 588.4,415.3 588.5,396.2 588.5,405.0 588.6,405.9 588.7,411.5 588.7,409.2 588.8,407.3 588.9,406.3 588.9,387.4 589.0,386.8 589.1,399.0 589.2,407.4 589.2,410.6 589.3,406.7 589.4,406.8 589.4,415.3 589.5,406.3 589.6,388.6 589.6,405.5 589.7,404.3 589.8,403.3 589.8,402.5 589.9,392.4 590.0,402.3 590.0,398.8 590.1,382.4 590.2,397.8 590.2,382.1 590.3,411.0 590.4,419.5 590.5,402.5 590.5,399.6 590.6,385.3 590.7,403.0 590.7,417.0 590.8,396.8 590.9,422.7 590.9,408.0 591.0,406.3 591.1,412.9 591.1,409.6 591.2,383.7 591.3,414.3 591.3,381.6 591.4,391.5 591.5,398.3 591.6,391.1 591.6,378.7 591.7,416.1 591.8,398.8 591.8,401.5 591.9,396.4 592.0,392.8 592.0,408.0 592.1,396.1 592.2,404.1 592.2,420.2 592.3,415.0 592.4,415.9 592.4,422.1 592.5,391.3 592.6,397.0 592.7,410.2 592.7,376.9 592.8,409.2 592.9,403.9 592.9,403.1 593.0,409.6 593.1,411.2 593.1,386.3 593.2,411.3 593.3,403.8 593.3,399.4 593.4,389.2 593.5,404.1 593.5,401.4 593.6,394.4 593.7,376.4 593.7,416.1 593.8,404.4 593.9,393.3 594.0,399.9 594.0,423.2 594.1,387.7 594.2,393.5 594.2,402.3 594.3,386.5 594.4,385.7 594.4,410.0 594.5,399.8 594.6,421.4 594.6,416.3 594.7,420.6 594.8,410.3 594.8,421.8 594.9,381.8 595.0,400.4 595.1,404.8 595.1,403.0 595.2,406.9 595.3,406.7 595.3,408.6 595.4,382.1 595.5,400.7 595.5,388.1 595.6,394.9 595.7,393.0 595.7,393.8 595.8,415.4 595.9,377.7 595.9,394.2 596.0,388.9 596.1,391.2 596.2,374.1 596.2,403.4 596.3,426.3 596.4,415.1 596.4,406.1 596.5,395.6 596.6,390.4 596.6,387.7 596.7,397.7 596.8,418.1 596.8,395.0 596.9,408.2 597.0,407.5 597.0,421.9 597.1,412.6 597.2,395.9 597.2,405.2 597.3,422.0 597.4,407.7 597.5,382.2 597.5,408.3 597.6,409.1 597.7,402.9 597.7,375.8 597.8,402.7 597.9,405.7 597.9,382.2 598.0,383.3 598.1,405.5 598.1,391.0 598.2,401.4 598.3,389.9 598.3,407.2 598.4,404.7 598.5,399.7 598.6,397.2 598.6,397.8 598.7,384.9 598.8,380.4 598.8,402.4 598.9,379.8 599.0,389.3 599.0,397.6 599.1,388.3 599.2,417.2 599.2,392.1 599.3,396.6 599.4,395.7 599.4,383.0 599.5,417.6 599.6,395.6 599.7,395.8 599.7,400.3 599.8,410.7 599.9,393.7 599.9,394.1 600.0,392.7 600.1,373.2 600.1,394.7 600.2,416.4 600.3,428.5 600.3,424.9 600.4,408.9 600.5,414.3 600.5,408.1 600.6,395.4 600.7,402.7 600.8,409.0 600.8,402.2 600.9,392.7 601.0,382.4 601.0,383.7 601.1,422.4 601.2,389.8 601.2,384.8 601.3,378.1 601.4,380.0 601.4,388.1 601.5,394.1 601.6,385.5 601.6,373.8 601.7,368.1 601.8,383.8 601.8,392.2 601.9,384.9 602.0,402.6 602.1,396.6 602.1,403.7 602.2,401.9 602.3,401.7 602.3,400.0 602.4,396.3 602.5,397.2 602.5,399.2 602.6,429.0 602.7,401.1 602.7,412.6 602.8,383.0 602.9,397.2 602.9,411.3 603.0,393.3 603.1,418.9 603.2,393.6 603.2,409.0 603.3,395.2 603.4,416.4 603.4,399.9 603.5,406.6 603.6,398.5 603.6,410.0 603.7,393.5 603.8,388.8 603.8,396.8 603.9,392.6 604.0,380.8 604.0,418.7 604.1,418.4 604.2,402.5 604.3,404.8 604.3,393.8 604.4,395.8 604.5,409.0 604.5,412.9 604.6,384.9 604.7,387.7 604.7,415.1 604.8,397.8 604.9,384.1 604.9,396.0 605.0,395.7 605.1,402.1 605.1,416.9 605.2,408.9 605.3,413.4 605.3,392.3 605.4,405.3 605.5,408.0 605.6,392.8 605.6,401.8 605.7,398.1 605.8,421.1 605.8,392.0 605.9,403.4 606.0,397.1 606.0,396.1 606.1,407.2 606.2,411.4 606.2,414.1 606.3,399.0 606.4,408.8 606.4,394.8 606.5,412.0 606.6,392.1 606.7,409.7 606.7,394.8 606.8,383.0 606.9,416.2 606.9,425.5 607.0,384.7 607.1,383.8 607.1,407.3 607.2,399.0 607.3,402.5 607.3,379.7 607.4,404.2 607.5,392.1 607.5,420.7 607.6,378.3 607.7,405.3 607.8,402.1 607.8,391.7 607.9,382.4 608.0,396.2 608.0,417.8 608.1,412.8 608.2,407.9 608.2,387.7 608.3,412.1 608.4,381.8 608.4,403.2 608.5,376.6 608.6,387.1 608.6,399.3 608.7,393.0 608.8,378.5 608.8,398.3 608.9,368.1 609.0,370.8 609.1,405.4 609.1,422.1 609.2,374.8 609.3,404.7 609.3,404.8 609.4,418.4 609.5,393.0 609.5,386.4 609.6,398.1 609.7,408.8 609.7,384.8 609.8,412.7 609.9,403.9 609.9,393.8 610.0,404.4 610.1,381.4 610.2,369.4 610.2,411.7 610.3,367.5 610.4,392.6 610.4,387.3 610.5,365.1 610.6,388.7 610.6,385.7 610.7,392.2 610.8,387.4 610.8,395.7 610.9,366.5 611.0,386.2 611.0,394.1 611.1,394.3 611.2,406.8 611.3,389.0 611.3,382.7 611.4,388.5 611.5,385.6 611.5,418.5 611.6,406.9 611.7,388.6 611.7,406.0 611.8,399.7 611.9,393.4 611.9,410.6 612.0,404.0 612.1,424.3 612.1,421.5 612.2,396.5 612.3,415.0 612.3,403.1 612.4,403.7 612.5,400.9 612.6,386.4 612.6,399.0 612.7,400.0 612.8,391.0 612.8,400.1 612.9,407.5 613.0,394.3 613.0,389.1 613.1,379.7 613.2,395.1 613.2,396.7 613.3,406.5 613.4,406.2 613.4,403.7 613.5,416.1 613.6,411.8 613.7,384.3 613.7,381.1 613.8,399.9 613.9,380.4 613.9,376.5 614.0,381.9 614.1,383.6 614.1,389.9 614.2,400.8 614.3,393.1 614.3,396.8 614.4,384.5 614.5,378.0 614.5,387.9 614.6,397.3 614.7,372.7 614.8,394.9 614.8,395.5 614.9,362.6 615.0,406.0 615.0,393.3 615.1,412.0 615.2,396.8 615.2,409.2 615.3,375.7 615.4,384.9 615.4,399.1 615.5,396.0 615.6,394.1 615.6,396.4 615.7,410.1 615.8,403.9 615.8,399.1 615.9,399.2 616.0,397.6 616.1,417.7 616.1,372.3 616.2,396.8 616.3,392.4 616.3,416.5 616.4,404.9 616.5,377.8 616.5,408.0 616.6,406.1 616.7,407.3 616.7,405.8 616.8,415.2 616.9,405.9 616.9,406.7 617.0,410.9 617.1,397.7 617.2,413.0 617.2,401.8 617.3,397.6 617.4,403.9 617.4,397.6 617.5,395.0 617.6,392.1 617.6,373.9 617.7,404.6 617.8,419.0 617.8,398.6 617.9,410.0 618.0,419.2 618.0,403.5 618.1,407.6 618.2,375.3 618.3,407.1 618.3,417.1 618.4,390.7 618.5,407.6 618.5,405.4 618.6,408.0 618.7,393.8 618.7,397.4 618.8,400.5 618.9,408.0 618.9,409.8 619.0,423.0 619.1,395.5 619.1,423.1 619.2,428.9 619.3,418.3 619.3,379.4 619.4,400.4 619.5,396.4 619.6,408.1 619.6,410.9 619.7,414.5 619.8,390.9 619.8,399.1 619.9,394.6 620.0,377.4 620.0,419.4 620.1,400.3 620.2,407.2 620.2,390.9 620.3,394.1 620.4,399.1 620.4,408.0 620.5,414.0 620.6,411.5 620.7,410.6 620.7,402.5 620.8,396.3 620.9,381.4 620.9,376.0 621.0,404.8 621.1,391.2 621.1,396.2 621.2,396.9 621.3,399.1 621.3,406.0 621.4,398.4 621.5,376.1 621.5,400.0 621.6,385.0 621.7,401.0 621.8,382.7 621.8,397.7 621.9,392.8 622.0,392.7 622.0,414.5 622.1,383.7 622.2,395.7 622.2,397.2 622.3,373.2 622.4,380.3 622.4,397.7 622.5,383.8 622.6,403.0 622.6,402.3 622.7,377.1 622.8,419.8 622.8,393.3 622.9,370.3 623.0,396.4 623.1,407.1 623.1,407.0 623.2,394.6 623.3,413.5 623.3,399.8 623.4,390.0 623.5,404.6 623.5,404.7 623.6,401.8 623.7,400.1 623.7,396.0 623.8,405.4 623.9,386.1 623.9,413.2 624.0,397.2 624.1,404.5 624.2,382.1 624.2,408.5 624.3,408.9 624.4,409.4 624.4,409.9 624.5,422.3 624.6,399.9 624.6,398.9 624.7,406.4 624.8,408.1 624.8,410.6 624.9,409.7 625.0,410.3 625.0,391.7 625.1,384.3 625.2,401.0 625.3,399.7 625.3,418.4 625.4,391.5 625.5,392.4 625.5,422.9 625.6,394.2 625.7,403.9 625.7,411.2 625.8,379.7 625.9,383.1 625.9,402.5 626.0,398.0 626.1,394.2 626.1,372.1 626.2,397.5 626.3,379.2 626.3,384.7 626.4,375.3 626.5,393.5 626.6,392.8 626.6,388.2 626.7,381.9 626.8,381.6 626.8,414.4 626.9,395.4 627.0,390.1 627.0,372.0 627.1,376.9 627.2,400.3 627.2,371.3 627.3,397.8 627.4,394.4 627.4,387.8 627.5,363.9 627.6,378.6 627.7,384.9 627.7,387.6 627.8,382.7 627.9,372.2 627.9,383.5 628.0,382.3 628.1,366.2 628.1,372.3 628.2,387.5 628.3,408.8 628.3,401.2 628.4,400.2 628.5,400.2 628.5,385.7 628.6,382.0 628.7,393.6 628.8,385.8 628.8,382.7 628.9,391.1 629.0,371.1 629.0,373.0 629.1,369.8 629.2,440.3 629.2,387.4 629.3,378.2 629.4,398.0 629.4,371.8 629.5,368.7 629.6,379.7 629.6,400.3 629.7,383.9 629.8,386.1 629.8,383.2 629.9,378.5 630.0,381.5 630.1,407.6 630.1,377.7 630.2,399.2 630.3,369.7 630.3,401.0 630.4,397.8 630.5,379.3 630.5,408.5 630.6,398.9 630.7,387.6 630.7,397.9 630.8,392.7 630.9,404.9 630.9,381.7 631.0,405.7 631.1,390.4 631.2,382.7 631.2,390.3 631.3,390.3 631.4,386.2 631.4,372.6 631.5,390.9 631.6,388.3 631.6,392.6 631.7,371.3 631.8,378.8 631.8,382.5 631.9,381.2 632.0,373.4 632.0,365.9 632.1,370.7 632.2,365.7 632.3,379.1 632.3,381.7 632.4,368.7 632.5,362.9 632.5,357.1 632.6,378.0 632.7,378.0 632.7,379.2 632.8,373.6 632.9,396.3 632.9,386.5 633.0,373.5 633.1,363.0 633.1,384.7 633.2,394.2 633.3,380.1 633.3,367.2 633.4,396.1 633.5,394.2 633.6,381.2 633.6,404.7 633.7,377.4 633.8,412.4 633.8,383.0 633.9,398.6 634.0,399.7 634.0,389.6 634.1,379.3 634.2,389.1 634.2,376.0 634.3,380.6 634.4,376.7 634.4,364.7 634.5,372.7 634.6,362.8 634.7,371.3 634.7,400.1 634.8,381.5 634.9,374.9 634.9,377.6 635.0,370.5 635.1,380.1 635.1,381.6 635.2,359.5 635.3,400.9 635.3,378.6 635.4,357.3 635.5,387.0 635.5,390.3 635.6,359.9 635.7,385.7 635.8,403.4 635.8,361.0 635.9,397.1 636.0,394.4 636.0,380.7 636.1,394.6 636.2,386.1 636.2,393.0 636.3,375.9 636.4,390.4 636.4,374.1 636.5,384.4 636.6,395.3 636.6,411.4 636.7,400.1 636.8,383.3 636.8,366.2 636.9,376.9 637.0,411.3 637.1,392.0 637.1,360.7 637.2,383.5 637.3,367.5 637.3,396.6 637.4,394.1 637.5,382.7 637.5,370.3 637.6,376.4 637.7,385.9 637.7,389.8 637.8,374.8 637.9,369.6 637.9,397.4 638.0,396.6 638.1,372.9 638.2,378.6 638.2,377.8 638.3,383.8 638.4,395.9 638.4,381.9 638.5,397.3 638.6,415.6 638.6,405.2 638.7,391.4 638.8,398.4 638.8,386.2 638.9,398.3 639.0,362.7 639.0,391.6 639.1,394.1 639.2,406.4 639.3,368.8 639.3,402.2 639.4,391.3 639.5,409.4 639.5,401.2 639.6,395.0 639.7,390.2 639.7,394.1 639.8,375.5 639.9,367.0 639.9,417.8 640.0,403.9 640.1,384.7 640.1,384.8 640.2,368.3 640.3,400.9 640.3,391.2 640.4,377.6 640.5,385.2 640.6,386.8 640.6,384.7 640.7,382.4 640.8,381.0 640.8,381.0 640.9,387.3 641.0,396.8 641.0,386.8 641.1,385.4 641.2,383.9 641.2,395.8 641.3,376.3 641.4,391.6 641.4,389.6 641.5,399.9 641.6,385.8 641.7,398.3 641.7,395.9 641.8,393.7 641.9,381.1 641.9,393.9 642.0,414.2 642.1,394.4 642.1,396.6 642.2,387.8 642.3,402.7 642.3,395.6 642.4,387.7 642.5,406.5 642.5,401.9 642.6,384.3 642.7,388.2 642.8,401.7 642.8,388.3 642.9,399.6 643.0,409.3 643.0,389.1 643.1,413.6 643.2,368.0 643.2,378.1 643.3,404.4 643.4,380.6 643.4,396.1 643.5,403.2 643.6,387.2 643.6,414.2 643.7,404.4 643.8,395.6 643.8,408.4 643.9,413.7 644.0,379.7 644.1,370.7 644.1,392.8 644.2,392.0 644.3,396.1 644.3,374.1 644.4,375.7 644.5,409.1 644.5,387.8 644.6,401.5 644.7,392.3 644.7,394.3 644.8,403.8 644.9,377.3 644.9,387.7 645.0,416.3 645.1,412.7 645.2,391.8 645.2,403.0 645.3,394.9 645.4,398.0 645.4,399.5 645.5,392.8 645.6,397.0 645.6,395.1 645.7,408.2 645.8,392.7 645.8,382.3 645.9,400.9 646.0,391.5 646.0,383.2 646.1,394.2 646.2,396.4 646.3,372.4 646.3,380.0 646.4,381.7 646.5,379.5 646.5,386.1 646.6,389.6 646.7,392.8 646.7,379.0 646.8,415.4 646.9,385.3 646.9,381.5 647.0,396.9 647.1,397.9 647.1,402.6 647.2,383.1 647.3,374.7 647.3,394.1 647.4,401.5 647.5,387.5 647.6,388.2 647.6,402.5 647.7,395.7 647.8,379.9 647.8,398.9 647.9,408.1 648.0,375.2 648.0,404.4 648.1,397.6 648.2,420.7 648.2,387.3 648.3,405.0 648.4,390.6 648.4,399.1 648.5,394.9 648.6,373.2 648.7,368.3 648.7,408.1 648.8,400.8 648.9,378.6 648.9,399.8 649.0,397.5 649.1,395.6 649.1,393.8 649.2,391.6 649.3,387.1 649.3,392.4 649.4,399.2 649.5,375.0 649.5,377.4 649.6,391.5 649.7,389.5 649.8,381.6 649.8,393.7 649.9,384.4 650.0,404.4 650.0,377.1 650.1,385.6 650.2,382.4 650.2,385.5 650.3,371.6 650.4,400.1 650.4,406.0 650.5,398.5 650.6,409.2 650.6,390.3 650.7,389.2 650.8,403.0 650.9,370.6 650.9,378.5 651.0,417.3 651.1,405.4 651.1,403.7 651.2,406.5 651.3,398.1 651.3,383.6 651.4,396.2 651.5,402.3 651.5,395.6 651.6,402.7 651.7,389.9 651.7,421.2 651.8,388.9 651.9,403.7 651.9,406.6 652.0,381.1 652.1,382.1 652.2,397.1 652.2,395.2 652.3,401.9 652.4,396.4 652.4,406.1 652.5,405.2 652.6,384.7 652.6,384.2 652.7,413.6 652.8,396.2 652.8,385.9 652.9,376.0 653.0,392.4 653.0,403.8 653.1,402.3 653.2,397.9 653.3,406.0 653.3,391.3 653.4,391.3 653.5,384.6 653.5,387.4 653.6,399.3 653.7,393.9 653.7,390.2 653.8,391.8 653.9,410.6 653.9,381.6 654.0,415.7 654.1,399.5 654.1,380.3 654.2,373.9 654.3,385.1 654.4,399.8 654.4,392.5 654.5,389.5 654.6,396.9 654.6,371.7 654.7,388.6 654.8,392.8 654.8,375.2 654.9,411.6 655.0,405.4 655.0,408.1 655.1,404.1 655.2,395.4 655.2,390.7 655.3,376.1 655.4,388.1 655.4,393.3 655.5,419.5 655.6,390.2 655.7,417.5 655.7,392.0 655.8,397.2 655.9,380.5 655.9,376.3 656.0,385.0 656.1,375.5 656.1,375.2 656.2,379.9 656.3,391.2 656.3,383.2 656.4,390.5 656.5,386.0 656.5,389.1 656.6,389.9 656.7,382.3 656.8,375.7 656.8,403.2 656.9,395.3 657.0,383.3 657.0,375.8 657.1,377.4 657.2,388.7 657.2,384.9 657.3,381.8 657.4,387.1 657.4,396.9 657.5,390.9 657.6,398.1 657.6,382.6 657.7,382.6 657.8,392.2 657.9,400.0 657.9,380.3 658.0,387.6 658.1,402.7 658.1,380.9 658.2,360.1 658.3,377.7 658.3,366.6 658.4,382.2 658.5,372.3 658.5,405.6 658.6,372.5 658.7,374.4 658.7,385.1 658.8,393.0 658.9,381.3 658.9,383.0 659.0,398.9 659.1,378.5 659.2,375.0 659.2,402.8 659.3,385.2 659.4,382.2 659.4,370.4 659.5,394.0 659.6,391.0 659.6,361.7 659.7,378.5 659.8,378.3 659.8,379.9 659.9,380.3 660.0,385.4 660.0,397.8 660.1,393.9 660.2,385.0 660.3,399.9 660.3,379.8 660.4,392.0 660.5,383.4 660.5,375.0 660.6,376.7 660.7,414.3 660.7,392.0 660.8,388.3 660.9,384.5 660.9,385.6 661.0,385.5 661.1,401.7 661.1,382.7 661.2,383.2 661.3,382.3 661.4,394.1 661.4,367.8 661.5,395.7 661.6,380.1 661.6,407.8 661.7,390.9 661.8,392.1 661.8,390.6 661.9,385.5 662.0,378.7 662.0,382.3 662.1,374.9 662.2,376.9 662.2,389.0 662.3,397.2 662.4,382.9 662.4,409.4 662.5,378.9 662.6,370.6 662.7,371.4 662.7,387.0 662.8,398.0 662.9,392.2 662.9,382.3 663.0,402.7 663.1,379.9 663.1,394.2 663.2,381.6 663.3,383.5 663.3,379.2 663.4,390.3 663.5,413.0 663.5,387.0 663.6,394.0 663.7,387.2 663.8,392.6 663.8,365.6 663.9,358.2 664.0,383.7 664.0,373.1 664.1,401.3 664.2,378.6 664.2,389.5 664.3,387.3 664.4,387.9 664.4,386.8 664.5,372.8 664.6,382.6 664.6,391.8 664.7,373.7 664.8,361.9 664.9,383.6 664.9,375.2 665.0,394.4 665.1,386.3 665.1,375.7 665.2,372.0 665.3,373.8 665.3,372.0 665.4,351.6 665.5,377.7 665.5,401.6 665.6,379.9 665.7,374.1 665.7,377.9 665.8,365.6 665.9,392.1 665.9,402.5 666.0,388.9 666.1,382.6 666.2,353.3 666.2,402.4 666.3,358.7 666.4,365.6 666.4,378.3 666.5,354.1 666.6,360.3 666.6,374.0 666.7,370.3 666.8,387.9 666.8,368.7 666.9,375.7 667.0,376.1 667.0,378.3 667.1,343.8 667.2,365.8 667.3,366.1 667.3,346.8 667.4,384.5 667.5,368.4 667.5,381.7 667.6,391.0 667.7,376.1 667.7,365.8 667.8,392.3 667.9,381.9 667.9,378.0 668.0,376.2 668.1,383.9 668.1,396.3 668.2,383.4 668.3,367.7 668.4,387.4 668.4,354.0 668.5,389.3 668.6,363.1 668.6,374.2 668.7,368.3 668.8,364.4 668.8,378.2 668.9,367.0 669.0,361.7 669.0,372.6 669.1,388.8 669.2,362.0 669.2,355.2 669.3,369.9 669.4,394.1 669.4,359.0 669.5,390.5 669.6,383.0 669.7,388.8 669.7,373.8 669.8,367.0 669.9,366.8 669.9,362.2 670.0,366.8 670.1,363.3 670.1,358.7 670.2,362.8 670.3,369.2 670.3,361.1 670.4,362.5 670.5,367.5 670.5,373.0 670.6,344.2 670.7,349.0 670.8,370.7 670.8,357.8 670.9,353.6 671.0,346.2 671.0,354.4 671.1,373.5 671.2,372.6 671.2,396.9 671.3,388.2 671.4,358.7 671.4,360.1 671.5,350.0 671.6,368.2 671.6,378.4 671.7,383.1 671.8,369.5 671.9,372.0 671.9,359.3 672.0,370.6 672.1,370.0 672.1,375.6 672.2,378.3 672.3,357.6 672.3,373.9 672.4,353.8" fill="none" stroke="#00f" stroke-width="0.5" stroke-linejoin="round"/>
<rect x="626.4" y="244.6" width="55.9" height="37.8" fill="#fff" stroke="#9a9a9a" stroke-width="1"/>
<line x1="630.60" y1="251.80" x2="650.60" y2="251.80" stroke="#8a8a8a" stroke-width="1.00"/>
<text x="653.3" y="255.0" font-size="9.00" text-anchor="start" font-weight="normal" fill="#111" stroke="#111" stroke-width="0.3">CTC</text>
<line x1="630.60" y1="264.20" x2="650.60" y2="264.20" stroke="#ff8a8a" stroke-width="1.00"/>
<text x="653.3" y="267.4" font-size="9.00" text-anchor="start" font-weight="normal" fill="#111" stroke="#111" stroke-width="0.3">CTCR</text>
<line x1="630.60" y1="276.60" x2="650.60" y2="276.60" stroke="#8a8aff" stroke-width="1.00"/>
<text x="653.3" y="279.8" font-size="9.00" text-anchor="start" font-weight="normal" fill="#111" stroke="#111" stroke-width="0.3">CTCW</text>
<text transform="translate(386.3 373.8) rotate(-90)" font-size="10" text-anchor="middle" fill="#1a1a1a" stroke="#1a1a1a" stroke-width="0.3">SASA(A)</text>
<text x="549.2" y="502.4" font-size="9.00" text-anchor="middle" font-weight="normal" fill="#1a1a1a" stroke="#1a1a1a" stroke-width="0.3">Time(ns)</text>
<text transform="translate(5.4 60.8) scale(0.95 1)" font-size="23.5" font-weight="bold" fill="#000">A</text>
<text transform="translate(356.3 61.0) scale(0.86 1)" font-size="23.5" font-weight="bold" fill="#000">B</text>
<text transform="translate(8.0 291.0) scale(0.86 1)" font-size="23.5" font-weight="bold" fill="#000">C</text>
<text transform="translate(357.6 290.5) scale(1.00 1)" font-size="23.5" font-weight="bold" fill="#000">D</text>
</svg></body></html>
